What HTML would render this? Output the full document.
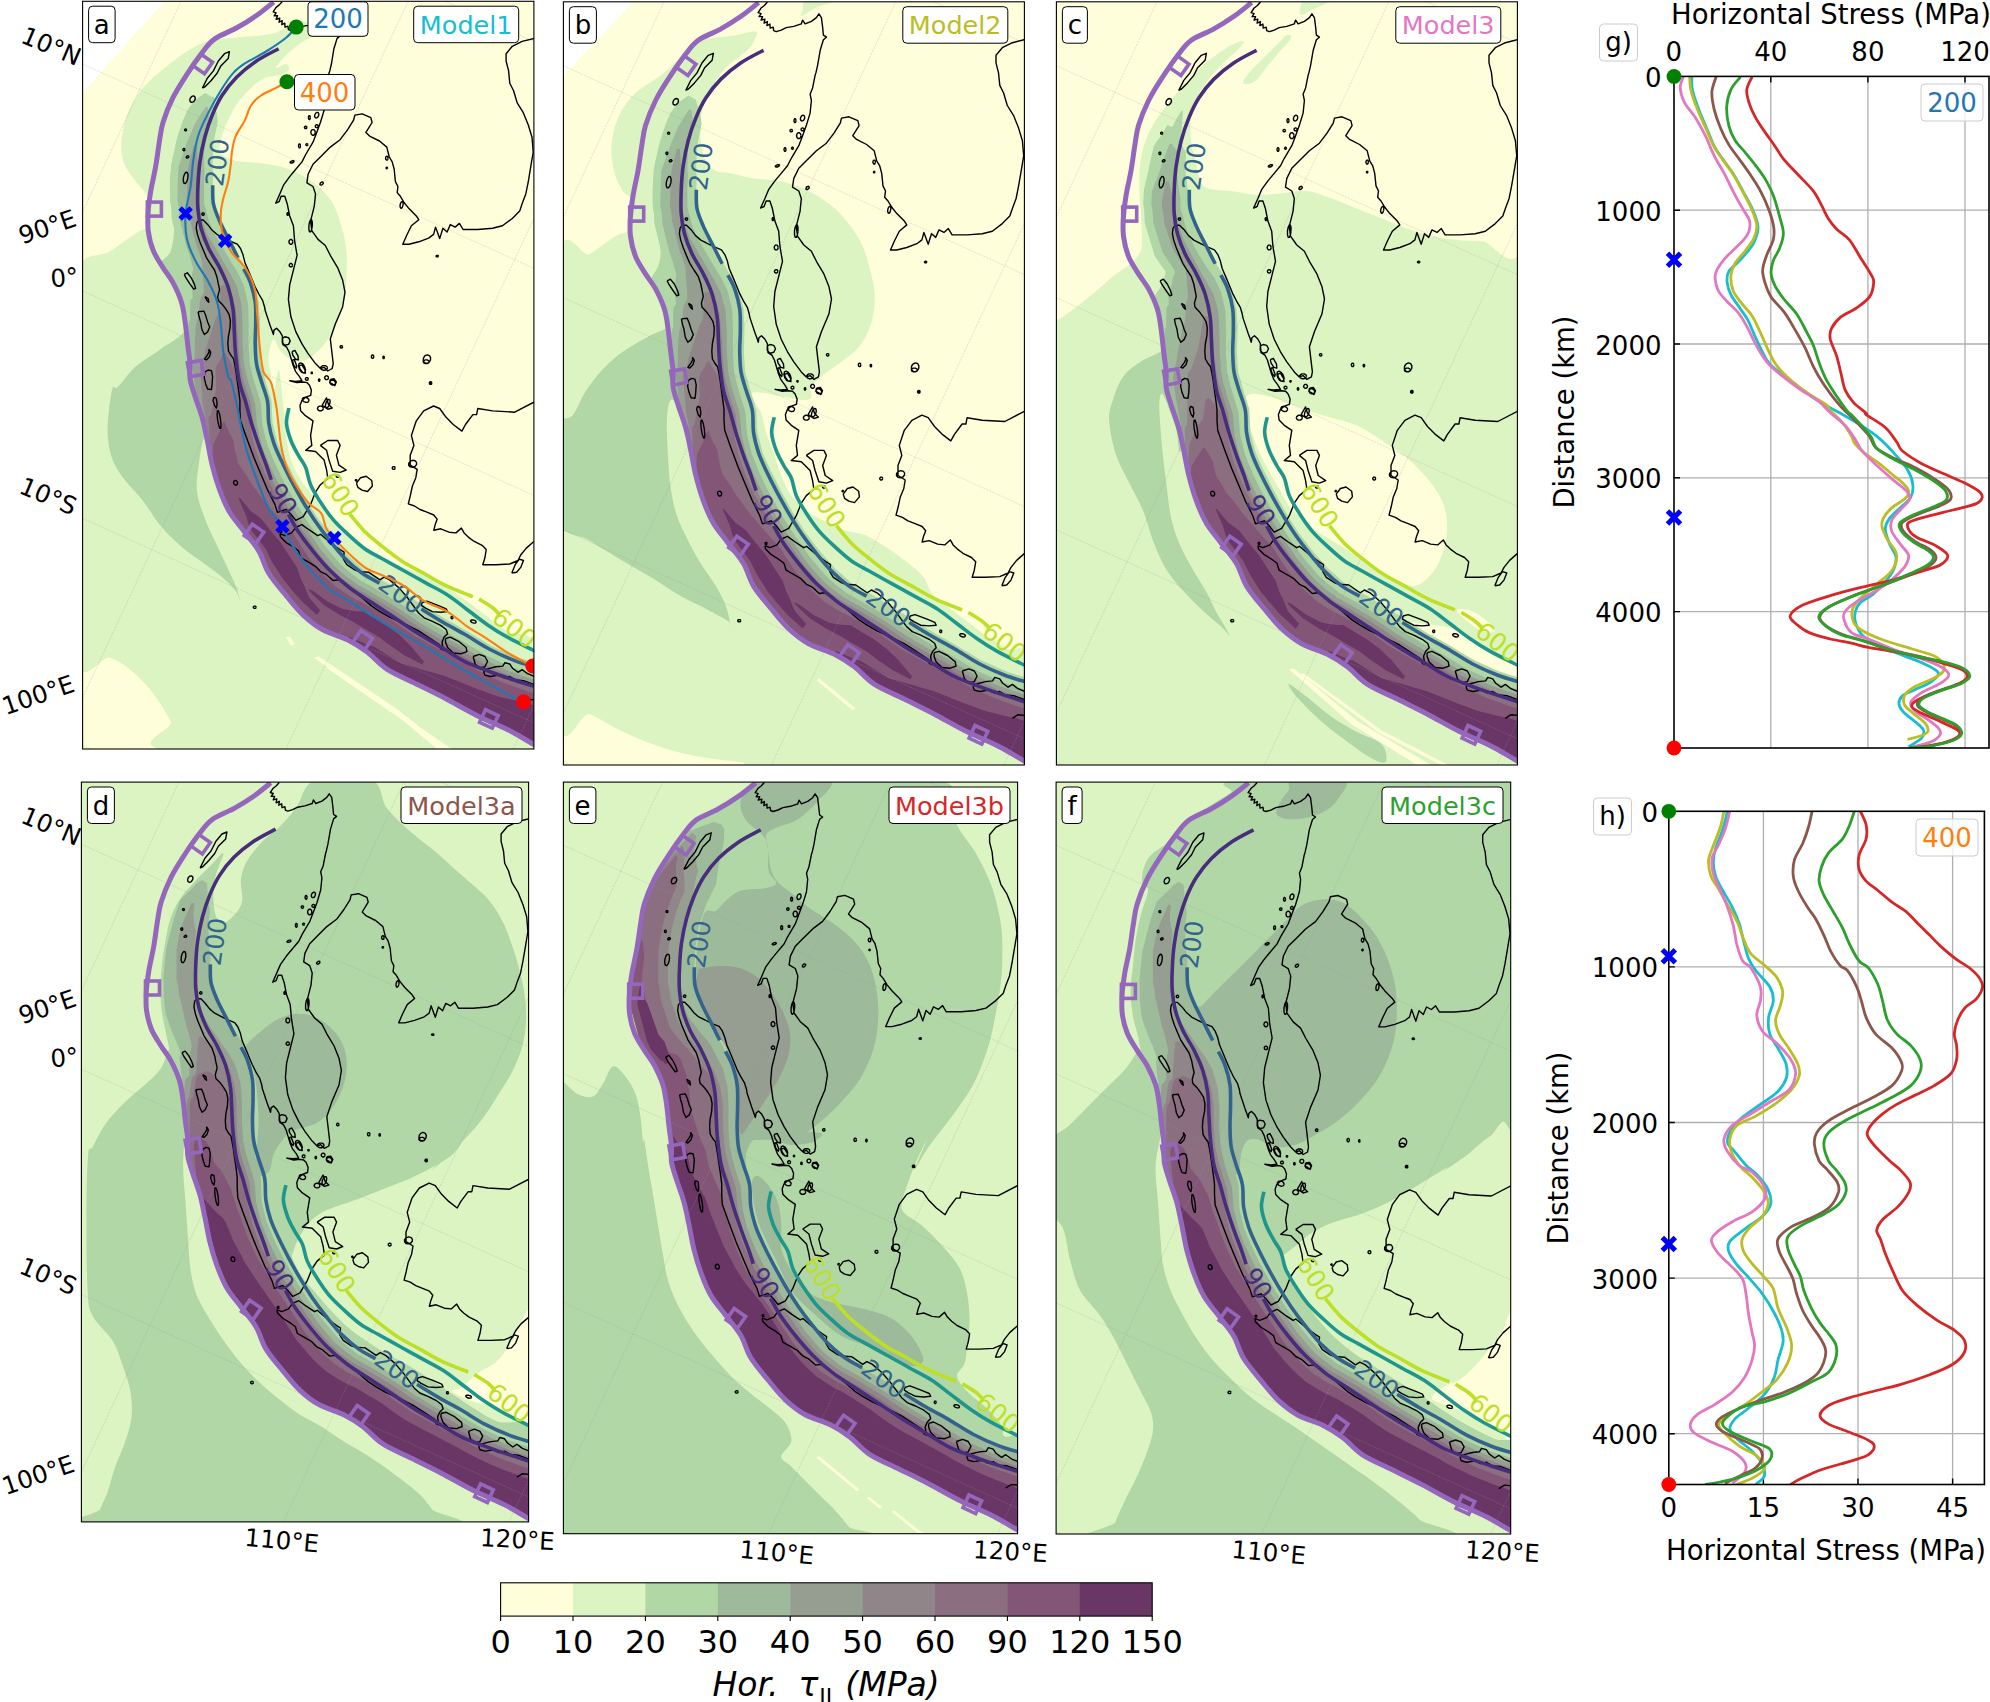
<!DOCTYPE html><html><head><meta charset="utf-8"><title>Horizontal stress maps</title>
<style>html,body{margin:0;padding:0;background:#fff}svg{display:block}text{font-family:'DejaVu Sans','Liberation Sans',sans-serif}</style></head><body>
<svg width="1990" height="1702" viewBox="0 0 1990 1702">
<rect width="1990" height="1702" fill="#fff"/>
<clipPath id="cp_a"><rect x="82.6" y="1.3" width="451.3" height="747.7"/></clipPath>
<g clip-path="url(#cp_a)">
<rect x="82.6" y="1.3" width="451.3" height="747.7" fill="#FEFEDA"/>
<path d="M210.8 40.2C203.2 42.1 197.8 44.8 190.7 49C183.5 53.2 176 58.8 168 65.3C160.1 71.8 149.6 80 142.9 87.9C136.2 95.9 131.4 104.3 127.8 113.1C124.3 121.9 122.2 132.3 121.6 140.7C120.9 149.1 121.8 156.6 124.1 163.3C126.4 170 131.4 175.3 135.4 180.9C139.4 186.6 146.1 191.8 147.9 197.2C149.8 202.7 146.7 208.8 146.7 213.6C146.7 218.4 149.8 222.8 147.9 226.1C146.1 229.5 141.7 229.5 135.4 233.7C129.1 237.9 120.3 244.3 110.3 251.3C100.2 258.2 80.9 250 75.1 275.1C69.2 300.3 75.1 339.1 75.1 402C75.1 464.9 69.2 610.1 75.1 652.7C80.9 695.3 100.2 654.2 110.3 657.7C120.3 661.3 127.8 667.6 135.4 674.1C142.9 680.6 149.6 688.7 155.5 696.7C161.3 704.6 166.6 712.6 170.6 721.8C174.5 731 118.2 746.9 179.3 752C240.5 757 477.7 769.1 537.4 752C597.1 734.8 542.4 669 537.4 648.9C532.4 628.8 515.6 636.8 507.2 631.4C498.9 625.9 493.8 621.3 487.1 616.3C480.4 611.3 474.2 606.2 467 601.2C459.9 596.2 452 590.7 444.4 586.1C436.9 581.5 429.3 576.9 421.8 573.6C414.3 570.2 407.2 569.4 399.2 566C391.2 562.7 382.4 558.5 374.1 553.5C365.7 548.4 356.1 541.3 348.9 535.9C341.8 530.4 336.8 526.7 331.4 520.8C325.9 514.9 321.3 507.4 316.3 500.7C311.3 494 305.4 487.3 301.2 480.6C297 473.9 293.7 468 291.2 460.5C288.6 453 287.4 443.8 286.1 435.4C284.9 427 284.5 418.6 283.6 410.3C282.8 401.9 281.9 391.8 281.1 385.1C280.3 378.4 279.8 368.9 278.6 370.1C277.3 371.2 274.8 390.8 273.6 392C272.3 393.1 271.9 382.7 271.1 376.9C270.2 371 268.1 363.1 268.5 356.8C269 350.5 271.5 340 273.6 339.2C275.7 338.4 277.3 348 281.1 351.8C284.9 355.5 291.2 361 296.2 361.8C301.2 362.6 306.2 360.1 311.3 356.8C316.3 353.4 322.1 347.2 326.3 341.7C330.5 336.3 333.5 330.8 336.4 324.1C339.3 317.4 342.2 309.5 343.9 301.5C345.6 293.6 346 284.8 346.4 276.4C346.9 268 347.3 259.6 346.4 251.3C345.6 242.9 343.9 234.5 341.4 226.1C338.9 217.8 336.4 208.5 331.4 201C326.3 193.5 318.8 186.3 311.3 180.9C303.7 175.5 294.5 171.3 286.1 168.3C277.8 165.4 269.4 164.6 261 163.3C252.6 162.1 242.6 162.5 235.9 160.8C229.2 159.1 223.3 156.6 220.8 153.3C218.3 149.9 220 145.3 220.8 140.7C221.6 136.1 223.3 131.5 225.8 125.6C228.3 119.8 231.7 111.8 235.9 105.5C240.1 99.2 246.1 92.5 251 87.9C255.8 83.3 260.2 80 264.8 77.9C269.4 75.8 274.6 76.6 278.6 75.4C282.6 74.1 287.4 72.2 288.6 70.4C289.9 68.5 288.2 64.5 286.1 64.1C284 63.7 276.1 69.3 276.1 67.8C276.1 66.4 281.9 59.5 286.1 55.3C290.3 51.1 296.6 46.1 301.2 42.7C305.8 39.4 312.1 38.1 313.8 35.2C315.4 32.2 313.8 27.4 311.3 25.1C308.7 22.8 302.9 20.9 298.7 21.4C294.5 21.8 289.9 25.8 286.1 27.6C282.4 29.5 280.3 31.4 276.1 32.7C271.9 33.9 267.7 34.3 261 35.2C254.3 36 244.3 36.9 235.9 37.7C227.5 38.5 218.3 38.3 210.8 40.2Z" fill="#DCF4C2"/>
<path d="M213.3 96.7C209.9 95.9 196.5 108.2 190.7 115.6C184.8 122.9 181.4 131.5 178.1 140.7C174.7 149.9 171.8 160.8 170.6 170.9C169.3 180.9 169.9 191.8 170.6 201C171.2 210.2 174.3 217.8 174.3 226.1C174.3 234.5 172.9 245 170.6 251.3C168.2 257.5 160.9 259.6 160.5 263.8C160.1 268 164.7 270.1 168 276.4C171.4 282.7 177.7 292.7 180.6 301.5C183.5 310.3 189 321.2 185.6 329.1C182.3 337.1 168.9 343 160.5 349.2C152.1 355.5 142.5 360.6 135.4 366.8C128.3 373.1 121.6 383.5 117.8 386.9C114 390.4 114.2 383.8 112.8 387.6C111.3 391.5 109.8 402.3 109 410.3C108.2 418.2 107.1 427 107.7 435.4C108.4 443.8 109.8 453 112.8 460.5C115.7 468 120.3 473.9 125.3 480.6C130.4 487.3 137.1 493.2 142.9 500.7C148.8 508.2 154.2 518.3 160.5 525.8C166.8 533.4 173.9 540.1 180.6 545.9C187.3 551.8 194 556 200.7 561C207.4 566 214.9 571.1 220.8 576.1C226.7 581.1 232.7 587 235.9 591.2C239 595.3 239.6 602 239.6 601.2C239.6 600.4 239 594.1 235.9 586.1C232.7 578.2 225.8 564.4 220.8 553.5C215.8 542.6 209.7 531.3 205.7 520.8C201.8 510.3 198 500.7 196.9 490.7C195.9 480.6 198.2 469.7 199.4 460.5C200.7 451.3 202.6 438.7 204.5 435.4C206.4 432 208.9 435.4 210.8 440.4C212.6 445.4 214.1 476.1 215.8 465.5C217.5 454.9 220.8 404.2 220.8 376.9C220.8 349.5 217.5 326.6 215.8 301.5C214.1 276.4 212 251.3 210.8 226.1C209.5 201 208.2 168.3 208.2 150.8C208.2 133.2 209.9 129.6 210.8 120.6C211.6 111.6 216.6 97.6 213.3 96.7Z" fill="#B1D7A6"/>
<path d="M313.8 657.7 L318.8 656.5 L399.2 710.5 L446.9 748.9 L436.9 748.9 L394.2 713Z" fill="#FEFEDA"/>
<path d="M286.1 637.6 L289.9 636.4 L294.9 643.9 L291.2 645.9Z" fill="#FEFEDA"/>
<path d="M326.3 667.8 L330.1 667 L452 748.9 L444.4 748.9Z" fill="#FEFEDA"/>
<path d="M205.1 93 L200.2 96.4 L195.3 99.9 L188 109.1 L185.6 114.4 L183.2 119.7 L178.7 132.7 L177.1 138.2 L175.7 143.7 L174.3 150.6 L173 156.1 L171.9 161.4 L170.9 165.9 L171 169.5 L170.9 173.1 L170.6 177.6 L170.5 182.2 L170.4 186.7 L170.3 191.3 L169.9 199 L170.5 203.1 L171.2 207.3 L171.6 217.3 L172.4 221.7 L179.9 250.9 L183.4 259.2 L185.2 264.6 L187 269.8 L187.6 273.2 L187.1 274.8 L186.4 276.3 L186.9 280.7 L185.7 284.6 L184.6 288.5 L183.5 292.3 L182.6 296.2 L183.3 300 L183 301.5 L182.2 301.8 L181.4 302.1 L181.4 302.1 L182.2 306.2 L183.1 311.2 L184.1 316.2 L185.1 321.5 L185.1 321.8 L185.7 327.2 L186.3 332.6 L186.9 337.4 L187.4 342.2 L188.1 348 L188.7 352.8 L189.3 357.7 L189.9 362.6 L190.1 363.6 L190.1 364.1 L190.1 368.6 L193.7 391.7 L195.9 398.9 L197.4 403.4 L199 408.3 L200.6 413.1 L202.3 418 L202.4 418.3 L203.1 421.6 L204.3 427 L205.5 432.3 L206.6 437.6 L207.4 441.2 L208.4 446.2 L209.4 451.1 L210.4 456 L211.3 460.5 L214 471 L215.3 475.4 L216.7 480 L218.2 485.1 L223.4 498.3 L225.6 503.3 L236.5 521.3 L240.3 526.3 L244 531.3 L247.8 536.3 L251.5 541.3 L255 545.9 L258.4 550.5 L258.9 551.1 L258.9 551.1 L259.9 553.4 L262.3 558.8 L264.8 564.3 L276.7 583.5 L280.1 587.9 L283.6 592.4 L289.8 599.8 L293.5 604 L297.2 608.2 L312.1 621.8 L332.6 633.7 L337.5 635.7 L342.1 637.5 L346.6 639.4 L347.5 639.7 L347.5 639.7 L350.4 641.5 L355.6 644.7 L360.7 648 L365.8 651.2 L367.2 652 L367.4 652.2 L372 656.2 L376.6 660.3 L396.3 673.9 L402 676.8 L407.8 679.7 L413.6 682.6 L419.2 685.4 L424.9 688.2 L430.5 691.1 L436.2 693.9 L442.6 697.1 L447.2 699.4 L453.5 702.8 L459.8 706.2 L465.7 709.4 L471.6 712.6 L481.2 717.5 L487.3 720.3 L492.2 722.6 L497.1 724.8 L502.1 727.1 L507 729.4 L510.9 731.3 L519.8 736.4 L528.7 741.5 L539 747.3 L578.5 675 L568.3 672.2 L558.1 669.4 L547.9 666.5 L537.4 663.5 L532.2 661.9 L526.9 660.3 L521.7 658.7 L516.5 657 L510.3 654.3 L504.4 651.7 L498.2 648.9 L492.1 646.2 L485.9 642.5 L479.8 638.8 L473.6 635 L467.5 631.3 L461.9 628.2 L456.4 625.1 L450.9 622.1 L445.4 619 L439.9 615.6 L434.3 612.2 L428.8 608.8 L424.2 606 L418.9 602.7 L413.6 599.3 L408.1 595.8 L402.7 592.2 L397.4 589.2 L392.2 586.1 L387 583 L381.6 579.9 L377 577.3 L372.5 574.7 L368.2 572.2 L364 569.7 L359.7 566 L356.4 562.8 L352.7 559.7 L348.4 556 L344.7 551.8 L341.1 547.7 L337.4 543.4 L333.7 539.1 L330.5 535.1 L326.8 530.2 L323 525.3 L319.2 520.2 L315.9 515 L312.6 509.9 L309.6 504.9 L306.6 500 L303.5 494.5 L300.5 488.9 L297.5 483.4 L294.4 477.8 L292.4 473.6 L290 468.7 L287.7 464.3 L285.2 459.4 L283.2 455.1 L281.4 450.8 L279.6 446.9 L277.7 442.6 L276.4 437.7 L275.1 432.8 L273.9 427.9 L272.6 422.9 L272.3 417.4 L272 411.9 L271.8 406.4 L271.5 400.7 L270 395.4 L268.5 390.5 L266.9 385.6 L265.4 380.7 L264.2 376.2 L263 371.9 L261.9 368.6 L260.6 364.1 L260.2 359 L259.8 353.8 L259.6 348.9 L259.3 344 L259.4 339.1 L259.6 334.2 L259.7 329.3 L259.9 324.4 L259.8 318.9 L259.5 313.4 L259.2 307.6 L258.9 302.1 L257.7 297.2 L256.2 292.3 L254.8 287.4 L253.3 282.3 L251.5 278.6 L249.6 275.2 L247.7 271.8 L245.9 268.5 L244.3 265.7 L242.7 263 L241.1 260.4 L239.5 257.7 L237.3 253.7 L235 249.4 L232.7 245.1 L230.4 240.9 L227.8 236.2 L225.2 231.3 L222.6 226.5 L220 221.7 L218.3 217.3 L216.8 213 L215.2 208.7 L213.7 204.4 L213.3 199.9 L213.1 195.3 L212.9 190.7 L212.7 186.1 L212.8 181.5 L213 176.9 L213.2 172.2 L212.6 167.5 L212.7 162.1 L212.9 156.4 L213.1 150.7 L213.3 145 L214.1 139.3 L215.5 132.7 L216.7 126.9 L217.9 121.1 L216.7 112.7 L214.5 105 L212.3 97.3Z" fill="#B1D7A6"/>
<path d="M206.1 106.4 L200.6 114.2 L197.6 119.3 L194.6 124.3 L190.2 134.9 L187.8 140.3 L185.8 145.6 L183.7 152 L181.7 157.4 L179.9 162.6 L178.4 167 L178.3 170.8 L178.2 174.5 L177.9 179.1 L177.8 183.7 L177.7 188.2 L177.6 192.8 L177.3 199.9 L178.1 204.1 L178.8 208.3 L179.4 217.3 L180.3 221.7 L186.6 247.2 L189.5 255.2 L191.1 260.7 L192.6 266.1 L193.1 269.8 L192.5 271.9 L191.9 273.9 L192.3 278.3 L192.3 281.7 L192.2 285.1 L192.2 288.5 L192.2 292 L192.8 295.8 L192.6 297.7 L191.9 298.6 L191.2 299.4 L190.3 300.3 L190.2 304.7 L190.1 309.9 L190.1 315.1 L190 320.6 L189 321.3 L188.6 326.9 L188.6 332.3 L188.5 337.2 L188.5 342.1 L188.6 347.9 L188.7 352.8 L189.3 357.7 L189.9 362.6 L190.1 363.6 L190.1 364.1 L190.1 368.6 L193.7 391.7 L195.9 398.9 L197.4 403.4 L199 408.3 L200.6 413.2 L202.3 418 L202.4 418.3 L203.1 421.6 L204.3 427 L205.5 432.3 L206.6 437.6 L207.4 441.2 L208.4 446.2 L209.4 451.1 L210.4 456 L211.3 460.5 L214 471 L215.3 475.4 L216.7 480 L218.2 485.1 L223.4 498.3 L225.6 503.3 L236.5 521.3 L240.3 526.3 L244 531.3 L247.8 536.3 L251.5 541.3 L255 545.9 L258.4 550.5 L258.9 551.1 L258.9 551.1 L259.9 553.4 L262.3 558.8 L264.8 564.3 L276.7 583.5 L280.1 587.9 L283.6 592.4 L289.8 599.8 L293.5 604 L297.2 608.3 L312.1 621.8 L332.6 633.7 L337.5 635.7 L342.1 637.5 L346.6 639.4 L347.5 639.7 L347.5 639.7 L350.4 641.5 L355.6 644.7 L360.7 648 L365.8 651.2 L367.2 652 L367.4 652.2 L372 656.2 L376.6 660.3 L396.3 673.9 L402 676.8 L407.8 679.7 L413.6 682.6 L419.2 685.4 L424.9 688.2 L430.5 691.1 L436.2 693.9 L442.6 697.1 L447.2 699.4 L453.5 702.8 L459.8 706.2 L465.7 709.4 L471.6 712.6 L481.2 717.5 L487.3 720.3 L492.2 722.6 L497.1 724.8 L502.1 727.1 L507 729.4 L510.9 731.3 L519.8 736.4 L528.7 741.5 L539 747.3 L572.1 686.6 L562 683.3 L552 680.1 L542 676.9 L532.6 674.1 L527.3 672.3 L522.2 670.6 L517 668.9 L511.8 667.1 L505.7 664.4 L499.2 661.4 L493 658.6 L486.9 655.7 L480.8 652.1 L474.6 648.4 L468.7 644.9 L462.5 641.3 L456.9 638.2 L451.4 635.2 L445.9 632.1 L440.3 629.1 L434.8 625.7 L429.2 622.4 L423.7 619.1 L416.6 614.6 L411.5 611.1 L406.3 607.7 L401.6 604.6 L396.9 601.5 L391.6 598.4 L386.4 595.3 L381.2 592.2 L376.3 589.3 L372.4 587.1 L368.5 584.8 L364.1 582.4 L359.8 580 L355.4 576.6 L349.4 572 L344 567.3 L339.8 563.5 L336.1 559.3 L332.1 554.7 L328.5 550.3 L324.8 546 L320.3 539.6 L316.7 534.7 L313.2 529.7 L309.8 525.1 L307 520.7 L304.2 516.2 L301.1 511.3 L298 506.4 L294.9 501 L291.7 495.5 L288.6 490 L285.5 484.6 L282.1 478.2 L279.7 473.3 L276.9 467.5 L274.6 462.6 L272.7 458.2 L270.9 453.9 L269 449 L267.3 444.6 L266 439.8 L264.8 434.9 L263.6 429.9 L262.5 425.2 L262 419.7 L261.6 414.2 L261.2 408.7 L260.9 403.4 L259.6 398.9 L258.1 394 L256.5 389.1 L255 384.2 L253.7 379.7 L252.4 374.9 L250.9 368.6 L249.8 364.1 L249.5 359.7 L249.2 355.2 L248.8 350.3 L248.5 345.4 L248.5 340.5 L248.6 335.5 L248.6 330.6 L248.7 325.6 L248.6 320.2 L248.4 314.7 L248.3 309.7 L248.1 304.2 L247 299.2 L245.8 294.3 L244.7 289.4 L243.6 285 L242.1 281.8 L240.6 278.7 L239.1 275.6 L237.5 272.2 L235.8 269.4 L234.2 266.8 L232.5 264.1 L230.8 261.5 L228.6 257.6 L226.4 253.9 L224.3 250.3 L222 246.5 L219.3 241.9 L216.5 237.1 L213.4 231.8 L209.3 221.7 L207.8 217.3 L206.6 211.8 L205.4 207.5 L204.1 203.3 L204 198 L204 193.5 L204 188.9 L203.9 184.3 L204.2 179.7 L204.4 175.4 L204.6 171 L204.1 166.3 L204.1 160.8 L204.2 155.1 L204.4 149.1 L204.5 143.4 L205.2 137.7 L207.1 129.3 L208.2 123.5 L209.4 117.7 L208 107.5Z" fill="#9DBB9A"/>
<path d="M193.8 144.9 L192.2 151.1 L190.8 156.6 L189.4 162.1 L188.4 166.8 L187.9 171.4 L187.8 174.7 L187.5 179.3 L187.3 183.9 L187.2 188.5 L187.1 193 L186.8 199.5 L187.5 203.8 L188.4 208 L189 215.8 L190.1 220.2 L195 240.1 L196.5 245.6 L199.4 252.9 L201.1 258.4 L202.3 263.1 L202.4 265.9 L202.3 268.5 L202.8 272.4 L203.1 275.9 L203.3 279.2 L203.5 282.5 L203.7 285.8 L203.9 289.8 L203.7 292.9 L202.8 294.6 L201.9 296.1 L200.7 297.8 L199.9 301.4 L199.4 306.6 L198.9 311.9 L198.2 317.5 L197 320.2 L195.9 324.5 L195.4 330.1 L195.2 335.2 L194.9 340.1 L194.8 345.9 L194.7 350.8 L194.5 355.8 L194.4 360.8 L194 363.2 L193.4 363.5 L192.7 367.5 L195.5 390 L197.1 397.4 L198.1 402 L199.2 407 L200.3 412 L201.9 416.9 L202.4 418.3 L202.8 420.5 L204 425.8 L205.2 431.2 L206.4 436.5 L207.3 440.5 L208.2 445.1 L209.2 450.1 L210.2 455.1 L211.1 459.6 L213.7 470.2 L215.1 474.6 L216.4 479.1 L217.9 484.2 L223 497.4 L225.3 502.4 L235.9 520.5 L239.6 525.4 L243.4 530.5 L247.2 535.5 L250.9 540.5 L254.4 545.2 L257.9 549.8 L258.9 551.1 L258.9 551.1 L259.6 552.6 L262 558.1 L264.4 563.5 L276.2 582.8 L279.7 587.3 L283.2 591.8 L289.3 599.2 L293.1 603.5 L296.8 607.7 L311.6 621.4 L332 633.5 L337 635.5 L341.6 637.4 L346.2 639.2 L347.5 639.7 L347.5 639.7 L349.9 641.2 L355.1 644.5 L360.2 647.7 L365.4 650.9 L367.2 652 L367.2 652 L371.7 655.9 L376.3 660 L395.8 673.7 L401.6 676.6 L407.4 679.5 L413.2 682.4 L418.9 685.2 L424.6 688.1 L430.2 690.9 L435.9 693.7 L442.3 696.9 L446.9 699.3 L453.2 702.7 L459.5 706.1 L465.5 709.3 L471.4 712.5 L481 717.4 L487.1 720.2 L492.1 722.5 L497 724.8 L502 727.1 L506.9 729.4 L510.8 731.3 L519.8 736.4 L528.7 741.5 L539 747.3 L569.5 691.3 L559.4 687.9 L549.4 684.5 L539.4 681.2 L530.4 678.4 L525.2 676.7 L520.1 674.9 L514.9 673.1 L509.7 671.4 L503.5 668.6 L496.7 665.4 L490.6 662.6 L484.5 659.7 L478.3 656.1 L472.1 652.5 L466.2 649 L460 645.4 L454.5 642.4 L448.9 639.4 L443.3 636.4 L437.8 633.3 L432.2 630 L426.6 626.7 L421 623.4 L412.9 618.2 L407.8 614.7 L402.7 611.2 L398.4 608.4 L393.8 605.5 L388.5 602.4 L383.3 599.3 L378.1 596.2 L373.4 593.4 L369.9 591.4 L366.1 589.3 L361.8 587 L357.4 584.6 L353 581.2 L345.7 576 L339.4 570.4 L335.2 566.6 L331.5 562.3 L327.4 557.4 L323.7 553.1 L320 548.7 L314.9 541.1 L311.4 536.1 L307.9 531.1 L304.8 526.8 L302.3 522.8 L299.6 518.5 L296.4 513.7 L293.3 508.8 L290.1 503.3 L286.9 497.9 L283.6 492.4 L280.5 487 L276.5 479.7 L274.1 474.7 L271.1 468.3 L268.8 463.3 L267.1 459 L265.3 454.7 L263.3 449.2 L261.7 444.8 L260.5 439.9 L259.3 434.9 L258.1 430 L257 425.3 L256.6 419.7 L256.1 414.2 L255.6 408.7 L255.1 403.9 L253.8 399.6 L252.2 394.7 L250.7 389.8 L249.1 384.9 L247.8 380.5 L246.4 375.5 L244.8 367.5 L243.9 363.1 L243.6 359.1 L243.3 354.7 L242.9 349.7 L242.6 344.8 L242.6 339.9 L242.6 334.8 L242.5 329.9 L242.5 324.9 L242.3 319.4 L242 314.2 L241.8 309.4 L241.3 303.9 L240.1 299 L238.8 294.1 L237.7 289.6 L236.6 285.9 L235.2 283.2 L233.8 280.5 L232.2 277.4 L230.5 274.1 L228.9 271.4 L227.3 268.7 L225.8 266 L224 263.1 L221.9 259.2 L220 256 L218.1 252.7 L215.7 248.6 L212.9 243.9 L209.5 238.2 L206.8 233.5 L202.2 220.2 L201.1 215.8 L200.1 209.5 L199.1 205.3 L198.2 201 L198.5 195.3 L198.5 190.7 L198.6 186.1 L198.7 181.6 L199.1 177 L199.3 173.1 L199.1 168.4 L198.1 163.4 L197.5 157.6 L197 151.9 L196.6 145.4Z" fill="#959E90"/>
<path d="M220.8 286.2 L220.7 288.6 L220.5 290.9 L220 294 L219.8 298.4 L219.7 303.6 L219.6 308.8 L218 314.6 L215.9 318 L214.1 323.3 L212.3 329 L210.5 334.2 L208.6 339.3 L207 345 L205.3 350.1 L204.4 355.2 L203.6 360.3 L202.4 362.7 L201 363.6 L199.8 368 L201.6 388.9 L202.3 396.3 L202.3 401.1 L203.3 406.2 L204.3 411.3 L205.3 416.4 L205 417.6 L204.9 420.6 L205.4 426.1 L206 431.6 L206.5 437.1 L207.3 440.7 L208.3 445.7 L209.3 450.6 L210.3 455.6 L211.2 460.1 L213.9 470.6 L215.2 475 L216.5 479.5 L218.1 484.7 L223.2 497.9 L225.5 502.9 L236.2 520.8 L240 525.9 L243.7 530.9 L247.5 535.9 L251.3 540.9 L254.7 545.5 L258.2 550.2 L258.9 551.1 L258.9 551.1 L259.7 553 L262.2 558.5 L264.6 563.9 L276.4 583.2 L279.9 587.6 L283.4 592.1 L289.6 599.5 L293.3 603.8 L297 608 L311.9 621.6 L332.3 633.6 L337.3 635.6 L341.9 637.5 L346.4 639.3 L347.5 639.7 L347.5 639.7 L350.2 641.4 L355.3 644.6 L360.5 647.8 L365.6 651 L367.2 652 L367.2 652 L371.8 656.1 L376.5 660.1 L396.1 673.8 L401.8 676.7 L407.6 679.6 L413.4 682.5 L419.1 685.3 L424.7 688.2 L430.4 691 L436 693.8 L442.4 697 L447 699.4 L453.3 702.8 L459.7 706.2 L465.6 709.3 L471.5 712.5 L481.1 717.4 L487.2 720.3 L492.1 722.5 L497.1 724.8 L502 727.1 L507 729.4 L510.9 731.3 L519.8 736.4 L528.7 741.5 L539 747.3 L567.3 695.4 L557.1 691.8 L547.3 688.3 L537.4 684.9 L528.7 682.2 L523.6 680.4 L518.4 678.6 L513.3 676.8 L508.1 675 L502 672.2 L495 668.9 L488.9 666.1 L482.8 663.2 L476.6 659.6 L470.4 656 L464.6 652.6 L458.4 649.1 L452.8 646.1 L447.3 643 L441.7 640 L436.1 637 L430.5 633.8 L424.9 630.5 L419.3 627.3 L410.4 621.4 L405.3 617.8 L400.2 614.3 L396.2 611.7 L391.9 609 L386.7 605.9 L381.5 602.8 L376.3 599.6 L371.7 596.9 L368.4 595.1 L364.9 593.1 L360.5 590.8 L356.1 588.5 L351.7 585.2 L343.4 579.5 L336.5 573.4 L332.4 569.6 L328.7 565.3 L324.4 560.3 L320.7 555.9 L317.1 551.6 L311.4 543.1 L308 538.1 L304.6 533 L301.6 528.9 L299.3 525.2 L296.8 521.2 L293.6 516.4 L290.4 511.5 L287.2 506.1 L283.9 500.7 L280.7 495.3 L277.4 489.9 L272.9 481.8 L270.5 476.9 L267.4 469.9 L265.1 464.9 L263.4 460.6 L261.7 456.2 L259.6 450.4 L258 446.1 L256.8 441.1 L255.6 436.2 L254.5 431.3 L253.3 426.7 L252.8 421.2 L252.3 415.7 L251.7 410.2 L251.3 405.4 L250.1 401.5 L248.5 396.6 L247 391.7 L245.4 386.8 L244.1 382.3 L242.6 377.2 L240.8 368 L239.9 363.6 L239.7 359.9 L239.4 355.8 L239 350.9 L238.6 346 L238.3 341.1 L237.9 336 L237.6 331.1 L237.3 326.3 L236.8 320.8 L236.3 315.5 L235.9 311.3 L235.3 305.8 L233.3 301 L231.3 296.3 L229.5 292 L227.8 288.8 L225.9 286.8 L224.1 284.9Z" fill="#90868A"/>
<path d="M222.5 353.9 L220.9 359.1 L219 361.8 L217.1 364.4 L215.5 368.9 L216.2 385.6 L215.4 392.8 L214.1 398.2 L213.1 404 L212 409.7 L210.9 415.5 L208.7 416.7 L208.6 420.8 L208.9 426.3 L209.2 431.8 L209.5 437.3 L209.4 441.1 L209.7 446.2 L210.4 451.2 L211 456.2 L211.6 460.7 L214.1 471.3 L215.4 475.7 L216.8 480.3 L218.3 485.4 L223.5 498.6 L225.8 503.6 L236.7 521.5 L240.5 526.5 L244.2 531.5 L248 536.5 L251.7 541.5 L255.1 546.1 L258.6 550.7 L258.9 551.1 L258.9 551.1 L260 553.6 L262.4 559.1 L264.9 564.5 L276.8 583.6 L280.3 588.1 L283.8 592.6 L289.9 599.9 L293.7 604.2 L297.3 608.4 L312.3 621.9 L332.8 633.8 L337.7 635.8 L342.2 637.6 L346.8 639.4 L347.5 639.7 L347.5 639.7 L350.6 641.6 L355.7 644.8 L360.8 648 L366 651.3 L367.2 652 L367.5 652.3 L372.1 656.3 L376.7 660.4 L396.4 674 L402.1 676.9 L407.9 679.8 L413.7 682.6 L419.3 685.5 L425 688.3 L430.6 691.1 L436.3 693.9 L442.7 697.1 L447.3 699.5 L453.5 702.9 L459.8 706.2 L465.7 709.4 L471.6 712.6 L481.2 717.5 L487.3 720.3 L492.2 722.6 L497.2 724.9 L502.1 727.1 L507 729.4 L510.9 731.3 L519.8 736.4 L528.7 741.5 L539 747.3 L565.1 699.5 L554.9 695.7 L545.1 692.1 L535.4 688.6 L527.1 685.9 L522 684.1 L516.8 682.2 L511.7 680.4 L506.6 678.5 L500.5 675.8 L493.3 672.4 L487.2 669.5 L481.2 666.6 L475 663 L468.8 659.4 L463.1 656.2 L456.9 652.6 L451.3 649.6 L445.8 646.6 L440.2 643.6 L434.7 640.6 L429.1 637.4 L423.5 634.2 L417.9 631 L408.1 624.5 L403.1 620.9 L398 617.4 L394.3 614.9 L390.3 612.3 L385.1 609.2 L379.9 606.1 L374.7 603 L370.1 600.3 L367.1 598.5 L363.9 596.7 L359.5 594.4 L355.1 592.2 L350.6 589.1 L341.5 582.9 L334 576.3 L329.9 572.5 L326.2 568.2 L321.7 563 L318.1 558.7 L314.5 554.3 L308.3 545.2 L305 540.1 L301.7 535.1 L298.8 530.9 L296.6 527.5 L294.4 523.9 L291.2 519.1 L288 514.2 L284.8 509 L281.5 503.6 L278.2 498.2 L274.9 492.9 L269.9 484 L267.5 479 L264.2 471.7 L262 466.7 L260.3 462.2 L258.6 457.9 L256.5 451.7 L254.9 447.4 L253.7 442.6 L252.5 437.6 L251.4 432.7 L250.3 428.2 L249.6 422.8 L249 417.4 L248.5 411.9 L248 406.9 L246.9 403.5 L245.1 398.7 L243.4 393.8 L241.6 389 L240 384.6 L238.3 379.3 L234.7 368.9 L232.1 364.4 L230 361.2 L228 358.2 L225.8 353.5Z" fill="#8B6E80"/>
<path d="M223.3 422.1 L220.8 428.3 L218.3 434.4 L215.8 439 L213.3 444.7 L213.1 449.9 L212.8 455.1 L212.5 459.8 L213.9 470.6 L215.2 475 L216.5 479.5 L218.1 484.7 L223.2 497.9 L225.5 502.9 L236.2 520.8 L240 525.9 L243.7 530.9 L247.5 535.9 L251.3 540.9 L254.7 545.5 L258.2 550.2 L258.9 551.1 L258.9 551.1 L259.7 553 L262.2 558.5 L264.6 563.9 L276.4 583.2 L279.9 587.6 L283.4 592.1 L289.6 599.5 L293.3 603.8 L297 608 L311.9 621.6 L332.3 633.6 L337.3 635.6 L341.9 637.5 L346.4 639.3 L347.5 639.7 L347.5 639.7 L350.2 641.4 L355.3 644.6 L360.5 647.8 L365.6 651 L367.2 652 L367.2 652 L371.8 656.1 L376.5 660.1 L396.1 673.8 L401.8 676.7 L407.6 679.6 L413.4 682.5 L419.1 685.3 L424.7 688.2 L430.4 691 L436 693.8 L442.4 697 L447 699.4 L453.3 702.8 L459.7 706.2 L465.6 709.3 L471.5 712.5 L481.1 717.4 L487.2 720.3 L492.1 722.5 L497.1 724.8 L502 727.1 L507 729.4 L510.9 731.3 L519.8 736.4 L528.7 741.5 L539 747.3 L562.5 704.3 L552.2 700.3 L542.5 696.6 L532.8 692.9 L525 690.4 L519.8 688.5 L514.7 686.7 L509.5 684.8 L504.4 683 L498.3 680.2 L490.8 676.7 L484.7 673.8 L478.6 670.9 L472.4 667.4 L466.2 663.8 L460.6 660.7 L454.3 657.2 L448.7 654.3 L443.1 651.3 L437.5 648.4 L431.9 645.4 L426.3 642.3 L420.6 639.1 L415 636 L404 628.7 L399 625.1 L394 621.4 L390.7 619.4 L386.9 617 L381.7 613.9 L376.5 610.8 L371.2 607.7 L367 605.2 L364.3 603.7 L361.3 602.1 L356.9 599.9 L352.4 597.8 L347.9 594.8 L337.2 587.8 L328.7 580.3 L324.6 576.4 L320.8 572.1 L316.1 566.6 L312.5 562.3 L308.9 557.9 L301.9 547.4 L298.7 542.2 L295.4 537.1 L292.9 533.4 L290.4 530.9 L287.6 528.1 L283.7 523.8 L279.8 519.5 L275.8 514.7 L271.7 509.9 L267.6 505.1 L263.6 500.3 L255.7 489.5 L252.1 485 L246.9 476.1 L243.6 471.4 L240.8 467.4 L238 463.3 L236 455.1 L235 450.7 L234.3 445.6 L233.5 440.6 L231.1 435.9 L228.9 432.1 L226.8 427 L224.6 421.8Z" fill="#835678"/>
<path d="M238.5 498.3 L245.9 515.1 L247.6 521.5 L249.7 527.7 L253.4 532.7 L257.1 537.6 L260.5 542.2 L264 546.7 L264.7 547.5 L265.1 548 L266.5 550.6 L269.1 555.9 L271.7 561.3 L282.7 578.7 L286.3 583.1 L289.8 587.4 L295.7 594.4 L299.5 598.6 L303.2 602.6 L316.9 614.9 L320.2 610.5 L309.1 597.5 L306.8 592.1 L304.6 586.6 L300.8 578.8 L298.9 573.2 L297 567.6 L288 554 L284.8 549 L281.6 543.9 L279.2 540.8 L277.8 539.3 L276.2 537.5 L272.6 533.1 L269 528.6 L265.3 523.8 L261.4 518.9 L256.3 515 L250.8 511.3 L239.8 497.7Z" fill="#6A3665"/>
<path d="M308.8 590.2 L312.6 594.4 L324.2 605.2 L339.8 614.9 L344.5 617.5 L349 619.7 L353.4 621.9 L355.3 623 L356.4 623.9 L359.9 625.8 L365.1 628.9 L370.3 632 L375.6 635.1 L378.2 636.7 L379.8 637.6 L384.7 641.4 L389.6 645.1 L405.1 655.7 L410.9 658.6 L416.6 661.6 L422.4 664.5 L423.9 661.5 L419.3 656.2 L414.8 650.8 L410.3 645.4 L398.9 634.6 L393.9 630.8 L389 627.1 L386.4 625.4 L383 623.2 L377.8 620.1 L372.6 616.9 L367.4 613.8 L363.5 611.4 L360.7 611.5 L357.5 611.5 L352.5 610.8 L347.5 610.1 L342.2 608.8 L327.1 601.3 L314.9 592.3 L309.8 589.3Z" fill="#6A3665"/>
<path d="M347.5 639.7 L350.2 641.4 L355.3 644.6 L360.5 647.8 L365.6 651 L367.2 652 L367.2 652 L371.8 656.1 L376.5 660.1 L396.1 673.8 L401.8 676.7 L407.6 679.6 L413.4 682.5 L419.1 685.3 L424.7 688.2 L430.4 691 L436 693.8 L442.4 697 L447 699.4 L453.3 702.8 L459.7 706.2 L465.6 709.3 L471.5 712.5 L481.1 717.4 L487.2 720.3 L492.1 722.5 L497.1 724.8 L502 727.1 L507 729.4 L510.9 731.3 L519.8 736.4 L528.7 741.5 L539 747.3 L557.6 713.2 L546.9 709.6 L537 706.4 L527 703 L519.9 701.4 L514.4 700.2 L509 698.9 L503.6 697.7 L498.2 696.4 L491.7 694.3 L483.1 691 L476.7 688.7 L470.3 686.3 L463.7 683.6 L457 680.8 L451.6 678.7 L444.9 676.1 L438.7 674.3 L432.5 672.5 L426.3 670.8 L420.1 669 L413.9 667.1 L407.6 665.3 L401.2 663.4 L383.2 652.5 L377.9 649.1 L372.6 645.8 L371.5 646 L369.1 645.5 L363.5 643 L357.9 640.5 L352.3 637.9 L349.1 636.9Z" fill="#6A3665"/>
<path d="M75.1 -5 L164.3 1.3 L82.6 93 L75.1 100.5Z" fill="#fff"/>
<path d="M82.6 -163 L556.5 51.7M82.6 64 L556.5 278.6M82.6 291 L556.5 505.7M82.6 518.3 L556.5 733M82.6 745.5 L556.5 960.2M82.6 212 L181.1 1.3M82.6 697.7 L408 1.3M82.6 1184.2 L635.3 1.3M82.6 1671.1 L862.9 1.3" stroke="#9a9aa6" stroke-opacity="0.45" stroke-width="0.6" stroke-dasharray="2.2 1" fill="none"/>
<path d="M282.3 1.5 L279.3 4.9 L276.1 7.4 L273.2 11.8 L276.1 12.8 L274.2 15.8 L277.6 15.8 L276.1 19.2 L279.8 18.2 L279.1 22.2 L282.3 20.7 L281.8 24.6 L284.8 23.2 L285 27.1 L288 26.1 L288.4 29.5 L290.9 30.5 L295.8 29.1 L300.7 26.6 L308.1 25.4 L315.5 22.9 L316.7 19.2 L319.2 22.9 L325.3 20.4 L330.3 16.8 L332.7 13.1 L335.2 16.8 L336.4 26.6 L337.1 34 L340.1 35.9 L337.1 38.4 L333.9 48.7 L331.5 63.5 L329.8 70.9 L329 73.3 L326.6 85.6 L324.1 91.8 L325.3 97.9 L324.1 110.2 L320.4 122.5 L316.7 132.4 L313 142.2 L305.7 154.5 L302 161.9 L295.8 169.3 L289.7 176.6 L283.5 185.2 L279.8 193.9 L275.7 203.2 L279.1 201.7 L281.1 196.3 L284.8 196.3 L287.2 203.7 L289.7 216 L293.4 225.8 L294.6 240.6 L297.1 255.3 L293.4 270.1 L289.7 284.9 L288.4 299.6 L290.9 316.8 L295.8 331.6 L302 343.9 L308.1 353.7 L315.5 363.6 L320.4 368.5 L324.1 367.3 L327.8 371 L332.2 368.5 L333.2 363.6 L331.5 348.8 L330.3 339 L335.2 324.2 L342.6 307 L345 292.2 L342.6 279.9 L337.6 267.6 L330.3 255.3 L325.3 245.5 L318 239.4 L311.8 230.7 L310.6 220.9 L314.3 206.2 L315.5 193.9 L313 186.5 L306.9 182.8 L308.1 174.2 L313 164.3 L320.4 157 L330.3 147.1 L340.1 139.7 L347.5 129.9 L353.6 120.1 L354.9 115.1 L362.2 113.9 L370.8 117.6 L372.1 122.5 L365.9 132.4 L369.6 136.1 L379.5 141 L386.8 147.1 L389.3 157 L392.2 161.9 L394.2 169.3 L395.4 181.6 L397.9 186.5 L397.2 192.6 L400.4 196.3 L404 202.5 L409 208.6 L416.3 216 L418.8 219.7 L411.4 225.8 L406.5 235.7 L402.8 244.3 L409 244.3 L418.8 241.8 L428.6 238.1 L433.6 234.4 L435.5 227.1 L439.7 238.6 L442.9 228.3 L447.1 232 L450.3 224.6 L455.2 227.1 L459.4 223.4 L463.1 229.5 L477.8 229.5 L492.6 228.3 L502.4 225.8 L512.3 218.5 L519.7 211.1 L522.1 203.7 L525.8 193.9 L528.3 181.6 L530.7 166.8 L533.2 152 L532 137.3 L528.3 125 L523.3 112.7 L517.2 102.8 L513.5 90.5 L509.8 83.2 L508.6 70.9 L506.1 61 L506.1 53.7 L512.3 46.3 L522.1 41.4 L536.9 37.7M196.8 222.5 L199.4 220 L203.2 220 L207.6 224.4 L212 230.1 L217.1 234.6 L223.4 237.7 L231 241.5 L237.3 244.1 L240.5 248.5 L243 254.8 L244.9 262.4 L248.7 271.3 L251.9 278.9 L255 286.5 L258.8 294 L262.6 300.4 L264.5 306.7 L265.2 310.5 L267.7 318.1 L270.2 325.7 L272.1 330.8 L273.4 334.5 L274 330.1 L276.6 328.2 L279.7 331.4 L282.3 335.8 L282.9 344.7 L286.7 347.2 L289.2 352.3 L291.1 358.6 L293 364.9 L295.5 371.3 L299.3 376.3 L301.9 380.7 L295.5 381.4 L289.8 380.7 L296.8 382.6 L303.1 382 L306.9 382.6 L309.5 385.2 L311.4 390.2 L310.7 395.3 L305.7 397.2 L301.9 400.4 L300 405.4 L300.6 410.7 L305.7 415.9 L313 420.8 L310.6 435.5 L311.8 445.4 L305.7 450.3 L315.5 451.5 L324.1 460.1 L326.6 470 L327.8 478.6 L320.4 484.7 L315.5 492.1 L310.6 504.4 L303.2 516.7 L295.8 520.4 L290.9 514.3 L286 509.3 L277.4 512.3 L274.9 504.4 L267.5 489.7 L260.2 472.4 L254 457.7 L246.6 438 L240.5 420.8 L239.9 410.7 L239.9 400.4 L238.6 390.2 L237.3 381.4 L236.1 372.5 L234.8 364.9 L233.5 358.6 L231 355.4 L228.5 351 L227.8 343.4 L228.5 335.8 L230 328.2 L230.4 320.6 L229.1 314.3 L225.9 309.2 L222.1 304.2 L218.3 300.4 L217.7 296.6 L219.6 289.6 L218.3 283.9 L217.1 277.6 L214.5 270 L210.7 264.3 L206.3 257.3 L203.2 249.8 L200 242.2 L197.5 234.6 L196.2 228.2 L196.8 222.5 L196.8 222.5M279.9 533.6 L284.7 535.7 L291.6 532.9 L295.8 527.4 L302 524.6 L309.6 530.2 L317.8 535.7 L320.6 534.3 L330.3 542.6 L339.9 549.5 L344.1 552.2 L343.4 559.1 L346.8 564.7 L355.1 570.2 L359.3 571.6 L368.9 572.3 L380 579.9 L384.1 577.1 L389.6 579.9 L399.3 588.1 L407.6 597.8 L418.6 613 L424.1 617.8 L432.4 621.3 L440.7 625.4 L446.2 629.5 L447.6 633.7 L444.1 637.1 L442.1 642 L442.8 647.5 L443.4 650.2 L440.7 648.9 L439.3 644.7 L431 639.2 L418.6 630.9 L404.8 624 L389.6 617.1 L380 611.6 L371.7 606.1 L360.6 596.4 L352.4 589.5 L338.6 579.9 L333 580.5 L326.1 574.3 L320.6 571.6 L315.1 566.1 L308.2 561.9 L300.6 557.8 L298.5 550.9 L293 546.7 L286.1 542.6 L280.6 537.1 L279.9 533.6M422.1 602.6 L426.9 601.2 L437.9 605.4 L446.2 608.8 L447.6 611.6 L440.7 612.3 L432.4 611.6 L425.5 608.1 L421.4 605.4 L422.1 602.6M445.5 638.5 L450.3 637.1 L458.6 641.3 L466.2 647.5 L466.9 651.6 L461.4 653.7 L453.1 653 L447.6 647.5 L445.5 642 L445.5 638.5M473.1 656.5 L479.3 654.4 L484.9 656.5 L487.6 661.3 L484.9 666.8 L479.3 668.2 L475.2 664 L473.1 656.5M483.5 671.6 L487.6 668.9 L495.9 666.8 L502.8 666.1 L504.9 662.7 L509.7 664 L512.5 668.2 L518 672.3 L522.1 669.6 L527.6 673.7 L534.5 676.5 L534.5 684.7 L523.5 680.6 L515.2 679.9 L509.7 676.5 L504.2 677.8 L498.7 675.1 L490.4 676.5 L484.9 675.1 L483.5 671.6M522.1 702.7 L527.6 699.2 L534.5 699.9 L534.5 706.8M356.5 483.2 L360.6 477.7 L366.2 476.3 L371.7 480.5 L372.4 486 L367.5 491.5 L362 490.1 L357.9 487.4 L356.5 483.2M320.4 445.4 L327.8 440.5 L337.6 440.5 L340.1 445.4 L336.4 455.2 L338.9 465.1 L346.2 470 L340.1 472.4 L332.7 471.2 L329 460.1 L326.6 450.3 L320.4 445.4M536.9 400.6 L514.7 412.2 L492.6 410.9 L477.8 408.5 L476.6 414.6 L472.9 414.6 L465.5 424.5 L461.9 431.1 L453.2 424.5 L445.9 417.1 L439.7 408.5 L433.6 406 L423.7 410.9 L416.3 420.8 L411.4 435.5 L413.9 445.4 L410.2 455.2 L410.2 465.1 L417.2 469.4 L415.8 477.7 L412.4 486 L410.3 495.7 L408.3 503.9 L414.5 506 L420 509.5 L426.9 512.2 L433.8 515 L437.2 519.1 L435.2 524.6 L433.8 530.2 L440.7 528.8 L449 532.2 L455.9 532.9 L461.4 528.1 L464.1 532.9 L468.3 537.1 L473.8 541.2 L482.1 545.3 L486.2 549.5 L484.9 557.8 L482.8 564.7 L495.9 564.7 L509.7 564 L518 560.5 L520.7 555 L526.3 548.1 L537.3 538.4M511.8 573 L515.2 564.7 L519.4 559.1 L523.5 560.5 L520.7 567.4 L516.6 572.3 L511.8 573M202.4 88.1 L207.3 78.2 L213.4 70.9 L218.3 61 L224.5 53.7 L229.4 51.7 L228.2 58.6 L220.8 65.9 L217.1 73.3 L211 80.7 L204.8 86.9 L202.4 88.1M194.6 100.4 L193.2 101.9 L191.5 102.4 L190.2 101.6 L189.8 99.9 L190.4 97.9 L191.8 96.4 L193.5 95.9 L194.8 96.7 L195.3 98.4 L194.6 100.4M186.6 129.9 L186.4 130.5 L185.9 130.8 L185.3 130.8 L184.8 130.5 L184.6 129.9 L184.8 129.3 L185.3 129 L185.9 129 L186.4 129.3 L186.6 129.9M184.9 149.6 L184.7 150.3 L184.2 150.7 L183.6 150.7 L183.1 150.3 L182.9 149.6 L183.1 148.9 L183.6 148.4 L184.2 148.4 L184.7 148.9 L184.9 149.6M188.9 156.2 L188.9 156.9 L188.5 157.5 L187.7 158 L186.9 158.1 L186.3 157.7 L186.3 157.1 L186.7 156.4 L187.5 155.9 L188.3 155.9 L188.9 156.2M187.8 178.3 L186.8 181.6 L185.3 183.5 L184 183.3 L183.3 181 L183.4 177.5 L184.5 174.1 L185.9 172.2 L187.3 172.5 L188 174.8 L187.8 178.3M204.3 214 L204.1 214.7 L203.5 215.2 L202.7 215.2 L202.1 214.7 L201.9 214 L202.1 213.3 L202.7 212.9 L203.5 212.9 L204.1 213.3 L204.3 214M310.3 117.6 L310.1 118.8 L309.7 119.5 L309 119.5 L308.6 118.8 L308.4 117.6 L308.6 116.4 L309 115.7 L309.7 115.7 L310.1 116.4 L310.3 117.6M318.6 115.8 L317.6 117.3 L316.3 118 L315.2 117.6 L314.6 116.2 L314.9 114.5 L315.8 113 L317.1 112.3 L318.3 112.7 L318.8 114.1 L318.6 115.8M306.9 127.4 L306.7 128.2 L306 128.6 L305.3 128.6 L304.7 128.2 L304.4 127.4 L304.7 126.7 L305.3 126.3 L306 126.3 L306.7 126.7 L306.9 127.4M315.3 132.4 L314.8 134.1 L313.7 135.2 L312.4 135.2 L311.3 134.1 L310.8 132.4 L311.3 130.6 L312.4 129.6 L313.7 129.6 L314.8 130.6 L315.3 132.4M318.2 126.2 L317.9 127.1 L317.2 127.6 L316.3 127.6 L315.5 127.1 L315.3 126.2 L315.5 125.3 L316.3 124.8 L317.2 124.8 L317.9 125.3 L318.2 126.2M300.5 145.9 L300.3 147 L299.8 147.8 L299.2 147.8 L298.7 147 L298.5 145.9 L298.7 144.7 L299.2 144 L299.8 144 L300.3 144.7 L300.5 145.9M307.9 144.7 L307.7 145.2 L307.2 145.6 L306.6 145.6 L306.1 145.2 L305.9 144.7 L306.1 144.1 L306.6 143.7 L307.2 143.7 L307.7 144.1 L307.9 144.7M294.2 161.1 L294 161.8 L293.1 162.5 L291.8 163 L290.6 163 L290.1 162.6 L290.3 161.9 L291.2 161.2 L292.5 160.8 L293.6 160.7 L294.2 161.1M323.2 182.3 L323.3 183.1 L322.9 184 L321.9 184.8 L320.9 185.1 L320.1 184.8 L320 184 L320.4 183 L321.4 182.2 L322.4 181.9 L323.2 182.3M312.3 226 L311.6 229.7 L310.6 231.9 L309.5 231.8 L308.9 229.5 L308.9 225.7 L309.5 222 L310.6 219.7 L311.6 219.8 L312.3 222.2 L312.3 226M292.9 241.8 L292.5 243.3 L291.5 244.2 L290.3 244.2 L289.3 243.3 L288.9 241.8 L289.3 240.4 L290.3 239.5 L291.5 239.5 L292.5 240.4 L292.9 241.8M292.6 265.2 L292.3 266.2 L291.4 266.8 L290.4 266.8 L289.5 266.2 L289.2 265.2 L289.5 264.2 L290.4 263.5 L291.4 263.5 L292.3 264.2 L292.6 265.2M288.4 214 L288.3 214.9 L287.9 215.4 L287.5 215.4 L287.1 214.9 L287 214 L287.1 213.2 L287.5 212.6 L287.9 212.6 L288.3 213.2 L288.4 214M388.1 158.2 L387.8 159.3 L387.2 160.1 L386.5 160.1 L385.8 159.3 L385.6 158.2 L385.8 157 L386.5 156.3 L387.2 156.3 L387.8 157 L388.1 158.2M387.6 168 L387.4 168.5 L387.1 168.7 L386.6 168.7 L386.2 168.5 L386.1 168 L386.2 167.6 L386.6 167.3 L387.1 167.3 L387.4 167.6 L387.6 168M403 205.2 L402.4 207.1 L401.5 208.2 L400.6 208.1 L400.1 206.7 L400.1 204.7 L400.8 202.7 L401.7 201.6 L402.6 201.8 L403.1 203.1 L403 205.2M438.5 256.1 L438.3 256.5 L437.6 256.8 L436.9 256.8 L436.3 256.5 L436 256.1 L436.3 255.7 L436.9 255.4 L437.6 255.4 L438.3 255.7 L438.5 256.1M342.6 346.8 L342.3 347.6 L341.7 348 L340.9 348 L340.3 347.6 L340.1 346.8 L340.3 346.1 L340.9 345.7 L341.7 345.7 L342.3 346.1 L342.6 346.8M373.8 356.7 L373.6 357.7 L372.9 358.3 L372.2 358.3 L371.6 357.7 L371.3 356.7 L371.6 355.7 L372.2 355 L372.9 355 L373.6 355.7 L373.8 356.7M384.4 357.4 L384.2 358.1 L383.9 358.6 L383.4 358.6 L383 358.1 L382.9 357.4 L383 356.7 L383.4 356.3 L383.9 356.3 L384.2 356.7 L384.4 357.4M430.4 360.4 L428.8 362.6 L426.6 363.5 L424.4 362.7 L423.2 360.6 L423.5 357.9 L425 355.7 L427.3 354.8 L429.4 355.6 L430.6 357.7 L430.4 360.4M431.8 382.8 L431.6 383.3 L431 383.7 L430.2 383.7 L429.6 383.3 L429.4 382.8 L429.6 382.2 L430.2 381.8 L431 381.8 L431.6 382.2 L431.8 382.8M220.5 419.4 L221 424.8 L220.8 428.3 L219.9 428.4 L218.7 425.2 L217.6 419.8 L217.1 414.3 L217.4 410.8 L218.3 410.7 L219.5 413.9 L220.5 419.4M237.4 482.1 L237.6 483.6 L236.9 484.8 L235.8 485.2 L234.6 484.7 L233.7 483.4 L233.6 482 L234.2 480.8 L235.3 480.4 L236.6 480.9 L237.4 482.1M256.2 607.2 L255.9 608 L255.2 608.4 L254.3 608.4 L253.6 608 L253.3 607.2 L253.6 606.5 L254.3 606.1 L255.2 606.1 L255.9 606.5 L256.2 607.2M395.2 468 L394.9 468.9 L394.2 469.4 L393.3 469.4 L392.5 468.9 L392.2 468 L392.5 467.1 L393.3 466.6 L394.2 466.6 L394.9 467.1 L395.2 468M416.6 462.4 L416.5 464.6 L415 466.5 L412.6 467.3 L410.2 466.9 L408.7 465.3 L408.8 463.1 L410.3 461.2 L412.8 460.3 L415.1 460.8 L416.6 462.4M356.8 480.3 L356.7 480.7 L356.3 481 L355.9 481 L355.5 480.7 L355.3 480.3 L355.5 479.9 L355.9 479.6 L356.3 479.6 L356.7 479.9 L356.8 480.3M453 617.6 L452.8 618.3 L452.3 618.7 L451.7 618.7 L451.2 618.3 L451 617.6 L451.2 616.8 L451.7 616.4 L452.3 616.4 L452.8 616.8 L453 617.6M476.3 622.3 L475.5 623 L473.9 623.1 L472.2 622.6 L470.9 621.7 L470.6 620.7 L471.3 620 L472.9 619.9 L474.7 620.4 L475.9 621.3 L476.3 622.3M308.9 401.1 L307.8 402.2 L305.9 402.4 L303.9 401.7 L302.5 400.3 L302.4 398.7 L303.5 397.6 L305.5 397.3 L307.5 398 L308.8 399.5 L308.9 401.1M323.4 408.5 L322.8 409.9 L321.3 410.8 L319.5 410.8 L318 409.9 L317.5 408.5 L318 407 L319.5 406.1 L321.3 406.1 L322.8 407 L323.4 408.5M329.6 404.2 L328.4 406.6 L326.9 407.7 L325.8 407.3 L325.4 405.5 L326 402.9 L327.2 400.6 L328.7 399.4 L329.8 399.8 L330.2 401.7 L329.6 404.2M304.6 366.7 L305.5 369.8 L305 372.2 L303.3 373 L301.2 371.8 L299.3 369.1 L298.5 366 L299 363.6 L300.6 362.9 L302.8 364 L304.6 366.7M308.4 379 L308.1 379.8 L307.3 380.4 L306.4 380.4 L305.7 379.8 L305.4 379 L305.7 378.1 L306.4 377.6 L307.3 377.6 L308.1 378.1 L308.4 379M312.5 372.8 L312.4 373.3 L312 373.5 L311.6 373.5 L311.2 373.3 L311.1 372.8 L311.2 372.4 L311.6 372.1 L312 372.1 L312.4 372.4 L312.5 372.8M319.9 380.2 L319.8 380.9 L319.4 381.4 L319 381.4 L318.6 380.9 L318.5 380.2 L318.6 379.5 L319 379 L319.4 379 L319.8 379.5 L319.9 380.2M328.5 377.7 L328.2 378.9 L327.2 379.6 L326 379.6 L325 378.9 L324.6 377.7 L325 376.6 L326 375.9 L327.2 375.9 L328.2 376.6 L328.5 377.7M335.3 384.1 L334.1 385.1 L332.3 385.1 L330.8 384.2 L329.9 382.7 L330.2 381.2 L331.4 380.2 L333.1 380.2 L334.7 381.1 L335.5 382.6 L335.3 384.1M327.6 367.9 L326.9 369.3 L325.2 370.2 L323 370.2 L321.3 369.3 L320.7 367.9 L321.3 366.5 L323 365.6 L325.2 365.6 L326.9 366.5 L327.6 367.9M429.1 361.8 L428.6 362.9 L427.1 363.6 L425.3 363.6 L423.8 362.9 L423.2 361.8 L423.8 360.6 L425.3 359.9 L427.1 359.9 L428.6 360.6 L429.1 361.8M431.8 383.4 L431.6 384 L431 384.3 L430.2 384.3 L429.6 384 L429.4 383.4 L429.6 382.8 L430.2 382.5 L431 382.5 L431.6 382.8 L431.8 383.4M282 531.5 L281.9 532 L281.4 532.4 L280.8 532.4 L280.3 532 L280.1 531.5 L280.3 530.9 L280.8 530.5 L281.4 530.5 L281.9 530.9 L282 531.5M339.1 476.1 L338.8 476.9 L338.1 477.3 L337.2 477.3 L336.4 476.9 L336.2 476.1 L336.4 475.4 L337.2 475 L338.1 475 L338.8 475.4 L339.1 476.1M184.2 274.4 L187.3 272.8 L191.1 277.6 L194.3 283.9 L195.6 288.4 L193.7 289.2 L189.9 283.9 L186.1 278.2 L184.2 274.4M205 296.6 L208.2 298.5 L208.8 302.3 L206.9 300.4 L205 296.6M198.1 311.8 L203.8 311.1 L205.7 315.6 L207.6 321.9 L209.7 327 L207.6 332 L204.4 334.5 L201.9 329.5 L200.6 321.9 L199.1 316.8 L198.1 311.8M208.8 349.1 L210.7 352.3 L209.5 356.7 L206.3 359.9 L204.4 359.2 L207.6 354.8 L209.2 351.6 L208.8 349.1M205 371.9 L208.2 370 L211.4 370.6 L212.6 376.3 L212 385.2 L211.4 389.6 L207.6 389 L205.7 383.9 L204.2 377.6 L205 371.9M213.9 397.2 L216.4 398.5 L217.1 404.2 L216.4 408 L214.5 405.4 L213 400.4 L213.9 397.2M282.3 338.3 L284.8 336.8 L288.6 337.7 L290.2 340.9 L288.6 344.4 L284.8 345.3 L282.3 342.8 L282.3 338.3M292 351.6 L294.9 350.4 L298.1 356.1 L298.3 359.9 L295.5 359.2 L292.8 355.1 L292 351.6M299.1 365.9 L301.9 364.9 L305 370 L305.4 373.1 L302.5 372.5 L300 369 L299.1 365.9M292.4 359.9 L294.3 359.6 L296.8 366.2 L296.2 368.1 L293.6 364.9 L292.4 359.9M322.1 405.4 L326.5 397.8 L328.4 404.2 L332.2 408 L327.8 409.2 L322.1 405.4M330.3 379.5 L334.1 378.8 L336.3 382 L334.8 385.8 L332.2 383.9 L329.7 382.6 L330.3 379.5" stroke="#000" stroke-width="1.4" fill="none" stroke-linejoin="round"/>
<path d="M296.2 27.1C294.5 28.9 291.2 33.6 286.1 37.7C281.1 41.8 272.7 47.3 266 51.5C259.3 55.7 251.4 59.3 245.9 62.8C240.5 66.4 237.6 68.3 233.4 72.9C229.2 77.5 225 83.8 220.8 90.5C216.6 97.2 212 105.5 208.2 113.1C204.5 120.6 200.7 127.7 198.2 135.7C195.7 143.6 194.4 152.4 193.2 160.8C191.9 169.2 191.9 177.1 190.7 185.9C189.4 194.7 186.3 204.8 185.6 213.6C185 222.4 185.2 230.7 186.9 238.7C188.6 246.6 192.1 254.2 195.7 261.3C199.2 268.4 204.7 274.7 208.2 281.4C211.8 288.1 214.9 294.4 217 301.5C219.1 308.6 219.8 315.7 220.8 324.1C221.9 332.5 222.1 343 223.3 351.8C224.6 360.6 227.1 372.2 228.3 376.9C229.6 381.6 229.6 376.2 230.9 380.1C232.1 384 234.2 392.7 235.9 400.2C237.6 407.7 239.2 417.4 240.9 425.3C242.6 433.3 243.8 440.4 245.9 447.9C248 455.5 251 463.4 253.5 470.6C256 477.7 258.5 484.4 261 490.7C263.5 496.9 265.2 502.4 268.5 508.2C271.9 514.1 277.3 520 281.1 525.8C284.9 531.7 287.8 538 291.2 543.4C294.5 548.9 297.4 553.5 301.2 558.5C305 563.5 309.2 568.5 313.8 573.6C318.4 578.6 323 584 328.8 588.6C334.7 593.2 342.2 597 348.9 601.2C355.6 605.4 362.3 609.6 369 613.8C375.7 618 382 622.1 389.1 626.3C396.3 630.5 403.8 634.3 411.8 638.9C419.7 643.5 428.5 648.9 436.9 654C445.3 659 453.6 664.2 462 669C470.4 673.9 479.6 678.7 487.1 682.9C494.7 687.1 501.2 691 507.2 694.2C513.3 697.3 520.8 700.5 523.6 701.7" stroke="#1f77b4" stroke-width="2.1" fill="none"/>
<path d="M273.7 2C270.8 4.3 262.6 11.2 256.5 15.5C250.3 19.8 243.8 23.9 236.8 27.8C229.8 31.7 220.4 34.8 214.7 38.9C208.9 43 206.9 46.7 202.4 52.4C197.8 58.2 192.5 65.7 187.6 73.3C182.7 80.9 176.9 89.7 172.8 97.9C168.7 106.1 165.3 115.1 163 122.5C160.7 129.9 160.5 134.8 159.3 142.2C158.1 149.6 157.1 158.6 155.6 166.8C154.2 175 151.9 184 150.7 191.4C149.5 198.8 148.7 204.5 148.2 211.1C147.8 217.6 147.4 224.2 148.2 230.7C149.1 237.3 150.7 244.3 153.2 250.4C155.6 256.6 159.7 262.3 163 267.6C166.3 273 169.8 276.7 172.8 282.4C175.9 288.1 179.4 295.5 181.4 302.1C183.5 308.6 184.1 314.8 185.1 321.8C186.2 328.7 186.8 336.9 187.6 343.9C188.4 350.9 189.6 357.7 190.1 363.6C190.5 369.4 189.2 373.5 190.1 379C190.9 384.4 192.9 389.6 195 396.2C197 402.7 200.3 410.9 202.4 418.3C204.4 425.7 205.6 432.7 207.3 440.5C208.9 448.3 210.1 456.9 212.2 465.1C214.2 473.3 216.7 481.9 219.6 489.7C222.4 497.4 225.3 504.8 229.4 511.8C233.5 518.8 239.3 524.9 244.2 531.5C249.1 538 254.8 544.2 258.9 551.1C263 558.1 264.3 565.9 268.8 573.3C273.3 580.7 280.2 588.5 286 595.4C291.7 602.4 297.1 609.4 303.2 615.1C309.4 620.8 315.5 625.8 322.9 629.9C330.3 634 340.1 636 347.5 639.7C354.9 643.4 360.6 647.1 367.2 652C373.7 656.9 378.6 663.9 386.8 669.2C395 674.5 406.5 679.1 416.3 684C426.2 688.9 435.6 693.4 445.9 698.7C456.1 704.1 467.2 710.6 477.8 715.9C488.5 721.3 500.2 725.8 509.8 730.7C519.5 735.6 524.6 739.3 535.6 745.5C546.7 751.6 569.5 763.9 576.2 767.6" stroke="#9467bd" stroke-width="5" fill="none" stroke-linejoin="round"/>
<rect x="195.8" y="57" width="14" height="14" transform="rotate(35 202.8 64)" fill="none" stroke="#9467bd" stroke-width="3.6"/>
<rect x="147.4" y="202.1" width="14" height="14" transform="rotate(0 154.4 209.1)" fill="none" stroke="#9467bd" stroke-width="3.6"/>
<rect x="188.5" y="361.5" width="14" height="14" transform="rotate(-10 195.5 368.5)" fill="none" stroke="#9467bd" stroke-width="3.6"/>
<rect x="247" y="526.9" width="14" height="14" transform="rotate(35 254 533.9)" fill="none" stroke="#9467bd" stroke-width="3.6"/>
<rect x="355.7" y="633.2" width="14" height="14" transform="rotate(35 362.7 640.2)" fill="none" stroke="#9467bd" stroke-width="3.6"/>
<rect x="481.9" y="711.9" width="14" height="14" transform="rotate(25 488.9 718.9)" fill="none" stroke="#9467bd" stroke-width="3.6"/>
<path d="M278.6 48.7C274.9 50.8 263.4 56.3 256.5 61C249.5 65.7 242.5 71.3 236.8 77C231.1 82.8 226.1 89.1 222 95.5C217.9 101.8 215.1 108.2 212.2 115.1C209.3 122.1 206.9 129.5 204.8 137.3C202.8 145.1 201 153.7 199.9 161.9C198.7 170.1 198.3 178.7 197.9 186.5C197.6 194.3 197.4 201.6 197.9 208.6C198.5 215.6 199.4 221.7 201.1 228.3C202.9 234.8 205.4 241.4 208.5 248C211.6 254.5 216.3 261.1 219.6 267.6C222.9 274.2 225.9 280.4 228.2 287.3C230.4 294.3 232.1 302.1 233.1 309.5C234.1 316.8 233.9 324.2 234.3 331.6C234.7 339 234.7 345.4 235.6 353.7C236.4 362 237.6 373.5 239.3 381.4C240.9 389.3 243.3 394.1 245.4 401.1C247.4 408.1 249.3 415.9 251.5 423.2C253.8 430.6 256.5 438.4 258.9 445.4C261.4 452.4 264.3 459.3 266.3 465.1C268.4 470.8 270.4 477.4 271.2 479.8" stroke="#472d7b" stroke-width="3.6" fill="none"/>
<path d="M288.4 514.3C290.1 517.1 294.2 525.3 298.3 531.5C302.4 537.6 307.7 544.6 313 551.1C318.4 557.7 324.1 564.7 330.3 570.8C336.4 577 343 582.7 349.9 588C356.9 593.4 364.7 597.9 372.1 602.8C379.5 607.7 386.8 612.6 394.2 617.6C401.6 622.5 408.6 627.4 416.3 632.3C424.1 637.2 432.7 642.2 440.9 647.1C449.1 652 457.3 657.7 465.5 661.8C473.7 665.9 481.9 668.6 490.1 671.7C498.3 674.7 507.2 677.7 514.7 680.3C522.3 682.8 532.2 685.8 535.6 686.9" stroke="#472d7b" stroke-width="3.6" fill="none"/>
<path d="M212.7 185.2C212.8 188.3 212.3 197.7 213.4 203.7C214.6 209.6 216.9 214.8 219.6 220.9C222.2 227.1 226.3 234.4 229.4 240.6C232.5 246.7 236.6 254.9 238 257.8" stroke="#33638d" stroke-width="3.6" fill="none"/>
<path d="M243.7 268.9C244.8 271.1 248.4 276.9 250.3 282.4C252.2 287.9 254.3 295.1 255.2 302.1C256.1 309 255.7 317.2 255.7 324.2C255.7 331.2 255.1 337.3 255.2 343.9C255.4 350.5 255.4 357.3 256.5 363.6C257.5 369.8 259.5 375.2 261.4 381.4C263.2 387.7 266.3 394.1 267.5 401.1C268.8 408.1 267.7 416.3 268.8 423.2C269.8 430.2 271.6 436.8 273.7 442.9C275.7 449.1 278.2 454 281.1 460.1C283.9 466.3 287.2 472.8 290.9 479.8C294.6 486.8 299.1 495 303.2 502C307.3 508.9 311 515.1 315.5 521.6C320 528.2 325.3 535.2 330.3 541.3C335.2 547.5 339.7 553.2 345 558.5C350.3 563.9 356.5 569.2 362.2 573.3C368 577.4 376.6 581.5 379.5 583.1" stroke="#33638d" stroke-width="3.6" fill="none"/>
<path d="M421.3 609C425 611.2 436 618.2 443.4 622.5C450.8 626.8 457.8 630.3 465.5 634.8C473.3 639.3 481.9 645.2 490.1 649.5C498.3 653.8 507.2 657.7 514.7 660.6C522.3 663.6 532.2 666.1 535.6 667.2" stroke="#33638d" stroke-width="3.6" fill="none"/>
<path d="M288.9 408C288.5 410.5 286.1 417.8 286.5 423.2C286.8 428.7 288.9 435.1 290.9 440.5C292.9 445.8 295.8 450.7 298.3 455.2C300.7 459.7 303.6 462.6 305.7 467.5C307.7 472.4 308.1 479 310.6 484.7C313 490.5 316.7 496.2 320.4 502C324.1 507.7 328.2 513.8 332.7 519.2C337.2 524.5 342.1 529 347.5 533.9C352.8 538.9 359 544.6 364.7 548.7C370.4 552.8 375.4 554.8 381.9 558.5C388.5 562.2 396.7 566.7 404 570.8C411.4 574.9 418.8 579 426.2 583.1C433.6 587.2 441.4 590.9 448.3 595.4C455.3 599.9 461.4 605.3 468 610.2C474.6 615.1 481.1 620.4 487.7 624.9C494.2 629.4 499.4 632.8 507.4 637.2C515.4 641.7 530.9 649.1 535.6 651.5" stroke="#1f968b" stroke-width="3.6" fill="none"/>
<path d="M349.9 514.3C352.4 517.1 359.4 526.1 364.7 531.5C370 536.8 375.8 541.3 381.9 546.2C388.1 551.1 394.6 556.5 401.6 561C408.6 565.5 416.3 569.2 423.7 573.3C431.1 577.4 437.7 581.7 445.9 585.6C454.1 589.5 468.4 594.8 472.9 596.7" stroke="#bddf26" stroke-width="3.6" fill="none"/>
<path d="M479.1 599.1C481.3 600.5 489.1 605.1 492.6 607.7C496.1 610.4 498.7 613.9 500 615.1" stroke="#bddf26" stroke-width="3.6" fill="none"/>
<text transform="translate(217.1,162.4) rotate(-82)" font-size="25" text-anchor="middle" dy="9" fill="#33638d">200</text>
<text transform="translate(283,499) rotate(58)" font-size="25" text-anchor="middle" dy="9" fill="#472d7b">90</text>
<text transform="translate(401.1,594.2) rotate(36)" font-size="25" text-anchor="middle" dy="9" fill="#33638d">200</text>
<text transform="translate(340.6,494.1) rotate(58)" font-size="25" text-anchor="middle" dy="9" fill="#bddf26">600</text>
<text transform="translate(514.7,627.9) rotate(38)" font-size="25" text-anchor="middle" dy="9" fill="#bddf26">600</text>
<path d="M286.9 81.7C285.1 82.7 280.4 85.6 276.1 87.9C271.8 90.2 265.2 92.5 261 95.5C256.8 98.4 253.7 101.3 251 105.5C248.2 109.7 247.2 115.6 244.7 120.6C242.2 125.6 238 130.7 235.9 135.7C233.8 140.7 232.9 146.1 232.1 150.8C231.3 155.4 231.5 158.3 230.9 163.3C230.2 168.3 229.6 175 228.3 180.9C227.1 186.8 224.6 193 223.3 198.5C222.1 203.9 221 208.1 220.8 213.6C220.6 219 220.4 224.9 222.1 231.2C223.7 237.4 226.9 245 230.9 251.3C234.8 257.5 242 262.6 245.9 268.8C249.9 275.1 252.8 281.4 254.7 288.9C256.6 296.5 256.4 304.4 257.2 314.1C258.1 323.7 258.7 337.1 259.7 346.7C260.8 356.4 261.6 365.9 263.5 371.9C265.4 377.8 269 377.1 271.1 382.6C273.1 388.2 274.8 398.1 276.1 405.2C277.3 412.3 277.8 418.6 278.6 425.3C279.4 432 279.8 438.7 281.1 445.4C282.4 452.1 283.6 458.8 286.1 465.5C288.6 472.2 292.4 479.3 296.2 485.6C299.9 491.9 304.6 498.6 308.7 503.2C312.9 507.8 318.4 509.1 321.3 513.3C324.2 517.5 323.8 523.7 326.3 528.3C328.8 532.9 332.2 536.3 336.4 540.9C340.6 545.5 346.4 551.4 351.5 556C356.5 560.6 361.1 565.2 366.5 568.5C372 571.9 377.8 573.1 384.1 576.1C390.4 579 397.5 581.9 404.2 586.1C410.9 590.3 417.2 597 424.3 601.2C431.4 605.4 439.8 607.1 446.9 611.3C454.1 615.4 460.3 621.7 467 626.3C473.7 630.9 480 634.3 487.1 638.9C494.3 643.5 502.2 649.4 509.7 654C517.3 658.5 528.6 664 532.4 666" stroke="#ff7f0e" stroke-width="2.1" fill="none"/>
<path d="M180.1 208.1l11.0 11.0M191.1 208.1l-11.0 11.0" stroke="#0000ff" stroke-width="5" fill="none"/>
<path d="M219.6 235.2l11.0 11.0M230.6 235.2l-11.0 11.0" stroke="#0000ff" stroke-width="5" fill="none"/>
<path d="M276.9 520.8l11.0 11.0M287.9 520.8l-11.0 11.0" stroke="#0000ff" stroke-width="5" fill="none"/>
<path d="M328.9 532.4l11.0 11.0M339.9 532.4l-11.0 11.0" stroke="#0000ff" stroke-width="5" fill="none"/>
<circle cx="523.6" cy="701.7" r="7.5" fill="#ff0000"/>
<circle cx="532.9" cy="666" r="7.5" fill="#ff0000"/>
</g>
<circle cx="296.2" cy="27.1" r="7.5" fill="#008000"/>
<circle cx="286.9" cy="81.7" r="7.5" fill="#008000"/>
<rect x="308" y="1.8" width="60" height="34.5" rx="4" fill="#fff" stroke="#000" stroke-width="1"/>
<text x="338" y="28" font-size="26" text-anchor="middle" fill="#1f77b4">200</text>
<rect x="294.5" y="74.5" width="60.5" height="35.5" rx="4" fill="#fff" stroke="#000" stroke-width="1"/>
<text x="324.5" y="101.5" font-size="26" text-anchor="middle" fill="#ff7f0e">400</text>
<rect x="82.6" y="1.3" width="451.3" height="747.7" fill="none" stroke="#000" stroke-width="1.1"/>
<rect x="88.6" y="6.2" width="26.5" height="36.5" rx="4" fill="#fff" stroke="#000" stroke-width="1"/>
<text x="101.8" y="33.7" font-size="26" text-anchor="middle">a</text>
<rect x="413.7" y="6.2" width="105" height="36.5" rx="4" fill="#fff" stroke="#000" stroke-width="1"/>
<text x="466.2" y="33.7" font-size="25.5" text-anchor="middle" fill="#17becf">Model1</text>
<clipPath id="cp_b"><rect x="563.4" y="1.8" width="461.0" height="763.2"/></clipPath>
<g clip-path="url(#cp_b)">
<rect x="563.4" y="1.8" width="461.0" height="763.2" fill="#FEFEDA"/>
<path d="M695.8 41.5C689.9 44.8 686.6 52.1 680.7 57.8C674.8 63.4 668.1 69.5 660.6 75.4C653.1 81.2 642.2 86.7 635.5 93C628.8 99.2 624.2 105.9 620.4 113.1C616.6 120.2 614.3 128.6 612.9 135.7C611.4 142.8 611.2 149.1 611.6 155.8C612 162.5 613.5 170 615.4 175.9C617.3 181.7 620.2 186.8 622.9 191C625.6 195.1 630.5 194.7 631.7 201C632.9 207.3 632.7 222.8 629.9 228.6C627.2 234.5 622 232 615.4 236.2C608.8 240.4 600.3 246.6 590.3 253.8C580.2 260.9 560.9 204.2 555.1 278.9C549.2 353.5 549.2 629.1 555.1 701.7C560.9 774.2 578.9 709.2 590.3 714.2C601.6 719.2 611.2 726.4 622.9 731.8C634.6 737.3 647.6 742.7 660.6 746.9C673.6 751.1 687.4 754.4 700.8 756.9C714.2 759.4 728.9 760.3 741 762C753.1 763.6 725.5 766.1 773.7 767C821.8 767.8 987.2 785 1029.9 767C1072.7 749 1033.7 678.6 1029.9 658.9C1026.2 639.3 1014.5 652.7 1007.3 648.9C1000.2 645.1 993.9 640.9 987.2 636.3C980.5 631.7 973.8 626.3 967.1 621.3C960.4 616.2 952.9 610.8 947 606.2C941.2 601.6 935.7 598.2 932 593.6C928.2 589 927.8 583.1 924.4 578.5C921.1 573.9 917.3 570.6 911.9 566C906.4 561.4 899.3 555.9 891.8 550.9C884.2 545.9 874.2 539.2 866.6 535.8C859.1 532.5 853.7 533.3 846.5 530.8C839.4 528.3 830.6 524.1 823.9 520.8C817.2 517.4 811.8 514.9 806.3 510.7C800.9 506.5 795.4 501.5 791.3 495.6C787.1 489.8 784.1 482.6 781.2 475.5C778.3 468.4 776.2 460 773.7 452.9C771.2 445.8 768.2 439.5 766.1 432.8C764 426.1 763.2 419.4 761.1 412.7C759 406 746 394.7 753.6 392.6C761.1 390.5 796.7 400.9 806.3 400C816 399.1 808.4 391.2 811.4 386.9C814.3 382.7 818.9 378.6 823.9 374.4C828.9 370.2 835.6 366.4 841.5 361.8C847.4 357.2 854.5 352.2 859.1 346.7C863.7 341.3 866.6 335.4 869.1 329.1C871.7 322.9 873.3 315.7 874.2 309C875 302.3 875 296.1 874.2 288.9C873.3 281.8 871.2 273.9 869.1 266.3C867.1 258.8 865.4 251.3 861.6 243.7C857.8 236.2 852 227.8 846.5 221.1C841.1 214.4 836.1 209 828.9 203.5C821.8 198.1 812.2 192.2 803.8 188.4C795.4 184.7 787.1 182.6 778.7 180.9C770.3 179.2 761.5 179.6 753.6 178.4C745.6 177.1 737.2 174.6 731 173.4C724.7 172.1 720.1 172.9 715.9 170.9C711.7 168.8 708.3 165.8 705.8 160.8C703.3 155.8 701.6 147.8 700.8 140.7C700 133.6 700 124.8 700.8 118.1C701.6 111.4 703.3 106.8 705.8 100.5C708.3 94.2 712.1 86.3 715.9 80.4C719.6 74.5 723 70.6 728.4 65.3C733.9 60.1 744.4 53 748.5 49C752.7 45 752.3 44.4 753.6 41.5C754.8 38.5 759 32.5 756.1 31.4C753.1 30.4 742.7 34.1 736 35.2C729.3 36.2 722.6 36.6 715.9 37.7C709.2 38.7 701.6 38.1 695.8 41.5Z" fill="#DCF4C2"/>
<path d="M801.3 16.3C803.6 15.9 811.4 9.8 816.4 7.5C821.4 5.2 828.9 3.8 831.5 2.5C834 1.3 835.6 0.4 831.5 0C827.3 -0.4 811.1 -1.7 806.3 0C801.5 1.7 803.4 7.3 802.6 10.1C801.7 12.8 799 16.8 801.3 16.3Z" fill="#DCF4C2"/>
<path d="M690.8 104.3C689.3 102.6 684.9 106.2 680.7 110.6C676.5 114.9 669.6 123.1 665.6 130.7C661.6 138.2 658.9 147.4 656.8 155.8C654.7 164.2 653.7 172.5 653.1 180.9C652.4 189.3 652.4 197.7 653.1 206C653.7 214.4 655.6 223.6 656.8 231.2C658.1 238.7 660.4 245.4 660.6 251.3C660.8 257.1 659.8 261.3 658.1 266.3C656.4 271.4 650.6 276.8 650.6 281.4C650.6 286 655.6 288.5 658.1 294C660.6 299.4 664 308.6 665.6 314.1C667.3 319.5 671.1 322.9 668.1 326.6C665.2 330.4 655.6 332.5 648 336.7C640.5 340.9 630.5 346.3 622.9 351.8C615.4 357.2 609.1 362.6 602.8 369.3C596.5 376 590.3 384.3 585.2 392C580.2 399.6 577.7 408.8 572.7 415.2C567.6 421.6 558 413.1 555.1 430.3C552.1 447.5 549.2 499.8 555.1 518.2C560.9 536.7 578.9 533.7 590.3 540.9C601.6 548 612.4 554.7 622.9 561C633.4 567.2 643.4 572.7 653.1 578.5C662.7 584.4 671.9 591.1 680.7 596.1C689.5 601.2 697.9 604.5 705.8 608.7C713.8 612.9 724.4 618.7 728.4 621.3C732.5 623.8 730.6 626.3 730.2 623.8C729.8 621.3 728.3 612.5 725.9 606.2C723.5 599.9 720.1 593.2 715.9 586.1C711.7 579 705.4 571 700.8 563.5C696.2 555.9 692.2 548.8 688.2 540.9C684.3 532.9 679.9 524.5 676.9 515.7C674 506.9 672.1 497.7 670.7 488.1C669.2 478.5 668.8 469.2 668.1 457.9C667.5 446.6 666.5 429.9 666.9 420.3C667.3 410.6 668.4 401.8 670.7 400.2C673 398.5 677.4 401.8 680.7 410.2C684.1 418.6 688.2 456 690.8 450.4C693.3 444.8 694.9 401.7 695.8 376.9C696.6 352.1 696.6 326.6 695.8 301.5C694.9 276.4 692 251.3 690.8 226.1C689.5 201 688.5 168.3 688.2 150.8C688 133.2 689.1 128.4 689.5 120.6C689.9 112.9 692.2 105.9 690.8 104.3Z" fill="#B1D7A6"/>
<path d="M816.4 680.3 L819.4 678.5 L855.3 707.9 L852.8 710.5Z" fill="#FEFEDA"/>
<path d="M688.5 95.4 L683.5 99 L678.5 102.5 L671 112 L668.6 117.4 L666.1 122.8 L661.6 136 L659.9 141.7 L658.5 147.2 L657 154.3 L655.8 159.9 L654.6 165.4 L653.6 169.9 L653.7 173.6 L653.6 177.3 L653.3 181.9 L653.2 186.6 L653.1 191.2 L653 195.9 L652.6 203.7 L653.2 208 L653.9 212.3 L654.3 222.5 L655.2 227 L662.8 256.8 L666.3 265.3 L668.2 270.7 L670 276.1 L670.6 279.6 L670.1 281.2 L669.5 282.8 L669.9 287.2 L668.8 291.2 L667.6 295.1 L666.4 299.1 L665.5 303.1 L666.2 306.9 L665.9 308.4 L665.1 308.8 L664.4 309 L664.4 309 L665.2 313.2 L666.1 318.3 L667.1 323.4 L668.1 328.9 L668.1 329.1 L668.8 334.7 L669.4 340.2 L669.9 345.1 L670.5 350.1 L671.2 356 L671.8 360.9 L672.4 365.9 L673 370.8 L673.2 371.9 L673.2 372.4 L673.2 377 L676.9 400.6 L679.1 408 L680.6 412.5 L682.3 417.5 L684 422.5 L685.6 427.5 L685.7 427.8 L686.5 431.2 L687.7 436.6 L688.9 442 L690.1 447.5 L690.9 451.1 L691.9 456.2 L692.9 461.3 L693.9 466.3 L694.8 470.9 L697.6 481.6 L699 486.1 L700.3 490.8 L701.9 496 L707.2 509.5 L709.5 514.6 L720.6 532.9 L724.5 538.1 L728.3 543.2 L732.1 548.3 L736 553.4 L739.5 558.1 L743 562.8 L743.5 563.5 L743.5 563.5 L744.5 565.7 L747 571.3 L749.5 576.9 L761.6 596.5 L765.2 601 L768.7 605.6 L775 613.1 L778.9 617.5 L782.6 621.8 L797.8 635.6 L818.8 647.8 L823.8 649.9 L828.5 651.7 L833.1 653.6 L834 653.9 L834 653.9 L837 655.8 L842.2 659.1 L847.5 662.4 L852.7 665.6 L854.1 666.5 L854.3 666.7 L859 670.8 L863.8 675 L883.8 688.9 L889.7 691.8 L895.6 694.8 L901.5 697.7 L907.2 700.6 L913 703.5 L918.8 706.4 L924.6 709.3 L931.1 712.5 L935.8 714.9 L942.2 718.4 L948.7 721.9 L954.7 725.1 L960.7 728.4 L970.5 733.4 L976.8 736.2 L981.8 738.6 L986.8 740.9 L991.9 743.2 L996.9 745.6 L1000.9 747.5 L1010 752.7 L1019.1 757.9 L1029.6 763.8 L1069.9 689.9 L1059.6 687.1 L1049.2 684.2 L1038.7 681.3 L1028 678.3 L1022.6 676.6 L1017.3 675 L1011.9 673.3 L1006.6 671.6 L1000.3 668.8 L994.3 666.1 L988 663.3 L981.7 660.5 L975.4 656.8 L969.2 653 L962.8 649.2 L956.5 645.4 L950.9 642.2 L945.2 639 L939.6 635.9 L934 632.7 L928.3 629.3 L922.7 625.8 L917.1 622.3 L912.3 619.5 L906.9 616.1 L901.5 612.7 L895.9 609 L890.3 605.4 L885 602.3 L879.7 599.2 L874.3 596 L868.9 592.8 L864.2 590.1 L859.6 587.5 L855.2 584.9 L850.8 582.4 L846.5 578.6 L843.1 575.3 L839.3 572.2 L834.9 568.5 L831.1 564.1 L827.5 559.9 L823.7 555.5 L819.9 551.1 L816.7 547 L812.8 542.1 L809 537.1 L805.1 531.9 L801.7 526.6 L798.4 521.3 L795.3 516.3 L792.2 511.2 L789.1 505.6 L786 499.9 L782.9 494.2 L779.8 488.6 L777.7 484.3 L775.2 479.3 L772.9 474.8 L770.3 469.8 L768.3 465.3 L766.4 460.9 L764.6 456.9 L762.7 452.6 L761.3 447.6 L760.1 442.6 L758.8 437.6 L757.5 432.5 L757.1 426.9 L756.9 421.2 L756.6 415.6 L756.3 409.8 L754.8 404.4 L753.3 399.4 L751.7 394.4 L750.1 389.4 L748.9 384.7 L747.7 380.4 L746.6 377 L745.2 372.4 L744.8 367.2 L744.5 361.9 L744.2 356.9 L743.9 351.9 L744 346.9 L744.2 341.9 L744.3 336.9 L744.5 331.8 L744.4 326.3 L744.1 320.6 L743.8 314.7 L743.5 309.1 L742.2 304 L740.8 299.1 L739.3 294 L737.8 288.9 L735.9 285.1 L734 281.6 L732.1 278.1 L730.2 274.8 L728.5 271.9 L726.9 269.2 L725.3 266.4 L723.7 263.7 L721.5 259.6 L719.1 255.2 L716.7 250.8 L714.3 246.5 L711.7 241.7 L709.1 236.8 L706.4 231.9 L703.8 227 L702 222.5 L700.4 218.1 L698.9 213.7 L697.3 209.3 L696.9 204.6 L696.7 199.9 L696.5 195.2 L696.3 190.5 L696.4 185.8 L696.6 181.1 L696.8 176.4 L696.2 171.6 L696.3 166 L696.5 160.3 L696.7 154.4 L696.9 148.6 L697.8 142.8 L699.2 136 L700.4 130.1 L701.6 124.2 L700.4 115.6 L698.1 107.7 L695.8 99.8Z" fill="#B1D7A6"/>
<path d="M689.5 109.1 L683.9 117.1 L680.9 122.3 L677.8 127.5 L673.3 138.2 L670.9 143.7 L668.8 149.2 L666.6 155.8 L664.7 161.3 L662.8 166.6 L661.2 171.1 L661.2 174.9 L661 178.8 L660.8 183.4 L660.7 188.1 L660.6 192.7 L660.5 197.4 L660.2 204.7 L660.9 208.9 L661.7 213.2 L662.3 222.5 L663.2 227 L669.6 252.9 L672.6 261.1 L674.2 266.8 L675.8 272.3 L676.2 276.1 L675.7 278.3 L675.1 280.3 L675.5 284.8 L675.4 288.2 L675.4 291.7 L675.3 295.2 L675.4 298.7 L676 302.7 L675.8 304.6 L675.1 305.5 L674.3 306.3 L673.5 307.2 L673.3 311.7 L673.2 317 L673.2 322.3 L673.1 328 L672.1 328.7 L671.7 334.4 L671.7 339.9 L671.6 345 L671.5 350 L671.7 355.9 L671.8 360.9 L672.4 365.9 L673 370.9 L673.2 371.9 L673.2 372.4 L673.2 377 L676.9 400.6 L679.1 408 L680.6 412.5 L682.3 417.5 L684 422.5 L685.6 427.5 L685.7 427.8 L686.5 431.2 L687.7 436.6 L688.9 442 L690.1 447.5 L690.9 451.1 L691.9 456.2 L692.9 461.3 L693.9 466.3 L694.9 470.9 L697.6 481.6 L699 486.1 L700.3 490.8 L701.9 496 L707.2 509.5 L709.5 514.6 L720.6 532.9 L724.5 538.1 L728.3 543.2 L732.1 548.3 L736 553.4 L739.5 558.1 L743 562.8 L743.5 563.5 L743.5 563.5 L744.5 565.7 L747 571.3 L749.5 576.9 L761.6 596.5 L765.2 601 L768.7 605.6 L775 613.1 L778.9 617.5 L782.6 621.8 L797.8 635.6 L818.8 647.8 L823.8 649.9 L828.5 651.7 L833.1 653.6 L834 653.9 L834 653.9 L837 655.8 L842.2 659.1 L847.5 662.4 L852.7 665.6 L854.1 666.5 L854.3 666.7 L859 670.8 L863.8 675 L883.8 688.9 L889.7 691.8 L895.6 694.8 L901.5 697.7 L907.2 700.6 L913 703.5 L918.8 706.4 L924.6 709.3 L931.1 712.5 L935.8 714.9 L942.2 718.4 L948.7 721.9 L954.7 725.1 L960.7 728.4 L970.5 733.4 L976.8 736.2 L981.8 738.6 L986.8 740.9 L991.9 743.2 L996.9 745.6 L1000.9 747.5 L1010 752.7 L1019.1 757.9 L1029.6 763.8 L1063.5 701.8 L1053.1 698.5 L1042.9 695.2 L1032.7 691.9 L1023 689 L1017.7 687.3 L1012.4 685.5 L1007.1 683.7 L1001.8 682 L995.6 679.1 L988.9 676.1 L982.7 673.2 L976.4 670.3 L970.1 666.6 L963.8 662.9 L957.8 659.2 L951.5 655.5 L945.8 652.4 L940.1 649.3 L934.5 646.2 L928.8 643 L923.1 639.7 L917.5 636.3 L911.8 632.8 L904.6 628.3 L899.3 624.7 L894.1 621.2 L889.3 618.1 L884.4 614.9 L879.1 611.8 L873.8 608.6 L868.5 605.4 L863.4 602.4 L859.4 600.2 L855.4 597.9 L851 595.4 L846.6 593 L842.1 589.5 L836 584.8 L830.4 580 L826.1 576.1 L822.3 571.8 L818.3 567 L814.6 562.6 L810.8 558.2 L806.2 551.7 L802.6 546.6 L798.9 541.5 L795.5 536.8 L792.6 532.3 L789.8 527.8 L786.6 522.8 L783.4 517.8 L780.2 512.2 L777 506.6 L773.8 501 L770.6 495.4 L767.2 489 L764.7 484 L761.9 478.1 L759.5 473 L757.6 468.5 L755.8 464.1 L753.8 459.1 L752.1 454.7 L750.8 449.7 L749.6 444.7 L748.3 439.7 L747.1 434.8 L746.6 429.2 L746.2 423.6 L745.8 418 L745.5 412.6 L744.2 408 L742.6 402.9 L741.1 397.9 L739.5 392.9 L738.2 388.3 L736.8 383.5 L735.3 377 L734.2 372.4 L733.8 367.9 L733.6 363.3 L733.2 358.3 L732.9 353.3 L732.9 348.2 L732.9 343.1 L733 338.1 L733.1 333.1 L732.9 327.6 L732.8 321.9 L732.6 316.8 L732.4 311.2 L731.4 306.1 L730.1 301.1 L728.9 296.1 L727.8 291.6 L726.4 288.3 L724.8 285.2 L723.3 282 L721.6 278.5 L719.9 275.7 L718.2 273 L716.5 270.3 L714.8 267.6 L712.5 263.6 L710.3 259.9 L708.2 256.2 L705.8 252.2 L703 247.5 L700.2 242.7 L697 237.3 L692.8 227 L691.3 222.5 L690.1 216.8 L688.8 212.4 L687.6 208.1 L687.4 202.8 L687.4 198.1 L687.4 193.4 L687.3 188.8 L687.6 184.1 L687.8 179.6 L688 175.1 L687.5 170.3 L687.5 164.7 L687.6 158.9 L687.8 152.7 L687.9 146.9 L688.7 141.1 L690.5 132.6 L691.7 126.6 L692.9 120.7 L691.5 110.3Z" fill="#9DBB9A"/>
<path d="M677 148.4 L675.4 154.9 L674 160.5 L672.5 166 L671.5 170.8 L671 175.5 L670.9 179 L670.6 183.7 L670.4 188.3 L670.3 193 L670.2 197.6 L669.8 204.3 L670.5 208.7 L671.4 213 L672.1 221 L673.2 225.4 L678.3 245.8 L679.8 251.4 L682.7 258.8 L684.4 264.4 L685.7 269.2 L685.7 272 L685.7 274.7 L686.2 278.7 L686.5 282.3 L686.7 285.7 L686.9 289.1 L687.1 292.4 L687.3 296.5 L687.1 299.7 L686.2 301.4 L685.2 302.9 L684.1 304.7 L683.3 308.3 L682.7 313.7 L682.2 319.1 L681.5 324.8 L680.3 327.5 L679.1 332 L678.7 337.7 L678.4 342.9 L678.1 347.9 L678 353.8 L677.9 358.8 L677.7 363.9 L677.6 369 L677.2 371.5 L676.5 371.8 L675.9 375.9 L678.7 398.9 L680.4 406.4 L681.3 411.1 L682.5 416.2 L683.6 421.3 L685.3 426.4 L685.7 427.8 L686.2 430 L687.4 435.4 L688.6 440.9 L689.9 446.4 L690.8 450.4 L691.7 455.2 L692.7 460.3 L693.7 465.4 L694.7 470 L697.3 480.7 L698.7 485.3 L700.1 489.9 L701.6 495.1 L706.8 508.6 L709.1 513.7 L720 532.1 L723.8 537.2 L727.7 542.3 L731.5 547.5 L735.4 552.6 L738.9 557.4 L742.5 562.1 L743.5 563.5 L743.5 563.5 L744.2 564.9 L746.7 570.5 L749.1 576.1 L761.1 595.8 L764.7 600.4 L768.3 605 L774.6 612.6 L778.4 617 L782.2 621.3 L797.3 635.2 L818.2 647.6 L823.3 649.6 L828 651.5 L832.6 653.4 L834 653.9 L834 653.9 L836.5 655.5 L841.7 658.8 L847 662.1 L852.3 665.3 L854.1 666.5 L854.1 666.5 L858.7 670.5 L863.4 674.7 L883.4 688.7 L889.3 691.6 L895.2 694.6 L901.1 697.5 L906.9 700.4 L912.7 703.3 L918.5 706.2 L924.3 709.1 L930.8 712.4 L935.5 714.8 L942 718.3 L948.4 721.7 L954.5 725 L960.6 728.3 L970.4 733.3 L976.6 736.2 L981.7 738.5 L986.7 740.9 L991.8 743.2 L996.9 745.5 L1000.8 747.5 L1010 752.7 L1019.1 757.9 L1029.6 763.8 L1060.8 706.7 L1050.4 703.1 L1040.2 699.7 L1030.1 696.3 L1020.9 693.5 L1015.6 691.7 L1010.3 689.9 L1005 688.1 L999.7 686.3 L993.4 683.4 L986.4 680.2 L980.2 677.3 L973.9 674.4 L967.6 670.7 L961.3 667 L955.3 663.4 L948.9 659.8 L943.3 656.7 L937.6 653.6 L931.9 650.5 L926.2 647.4 L920.5 644 L914.8 640.7 L909.1 637.3 L900.8 631.9 L895.5 628.4 L890.3 624.8 L886 622 L881.3 619 L875.9 615.8 L870.6 612.6 L865.2 609.5 L860.5 606.6 L856.9 604.6 L853 602.4 L848.6 600.1 L844.1 597.6 L839.6 594.2 L832.1 588.8 L825.7 583.2 L821.5 579.3 L817.7 574.9 L813.4 569.9 L809.7 565.4 L806 561 L800.6 553.2 L797.1 548.1 L793.6 543 L790.4 538.6 L787.8 534.5 L785.1 530.2 L781.8 525.2 L778.6 520.2 L775.3 514.6 L772 509 L768.8 503.5 L765.5 498 L761.5 490.5 L759 485.4 L755.9 478.8 L753.6 473.8 L751.9 469.3 L750.1 464.9 L748 459.3 L746.3 454.8 L745.1 449.8 L743.9 444.8 L742.7 439.8 L741.6 434.9 L741.1 429.2 L740.6 423.6 L740.1 418 L739.6 413 L738.3 408.7 L736.7 403.7 L735.1 398.6 L733.5 393.7 L732.2 389.1 L730.8 384 L729.1 375.9 L728.1 371.3 L727.9 367.3 L727.6 362.8 L727.2 357.7 L726.9 352.7 L726.8 347.7 L726.8 342.5 L726.8 337.5 L726.7 332.4 L726.5 326.7 L726.2 321.4 L726 316.5 L725.5 311 L724.3 305.9 L723 300.9 L721.8 296.3 L720.7 292.5 L719.3 289.7 L717.8 287 L716.2 283.8 L714.5 280.5 L712.9 277.7 L711.3 274.9 L709.6 272.2 L707.9 269.2 L705.7 265.3 L703.8 261.9 L701.8 258.6 L699.3 254.4 L696.5 249.6 L693 243.8 L690.2 238.9 L685.6 225.4 L684.4 221 L683.5 214.5 L682.4 210.2 L681.5 205.7 L681.8 200 L681.8 195.3 L681.9 190.6 L682 186 L682.4 181.3 L682.6 177.3 L682.4 172.5 L681.3 167.4 L680.8 161.5 L680.3 155.6 L679.9 149Z" fill="#959E90"/>
<path d="M704.5 292.8 L704.4 295.3 L704.2 297.7 L703.8 300.8 L703.5 305.3 L703.4 310.6 L703.3 315.9 L701.7 321.9 L699.6 325.3 L697.7 330.7 L695.9 336.6 L694 341.8 L692.1 347 L690.4 352.9 L688.7 358.1 L687.8 363.3 L687 368.5 L685.7 370.9 L684.4 371.9 L683.1 376.4 L684.9 397.7 L685.6 405.3 L685.7 410.2 L686.7 415.4 L687.7 420.6 L688.7 425.9 L688.4 427.1 L688.3 430.1 L688.9 435.7 L689.4 441.3 L690 446.9 L690.8 450.6 L691.8 455.7 L692.8 460.8 L693.8 465.9 L694.8 470.5 L697.5 481.2 L698.8 485.7 L700.2 490.3 L701.8 495.6 L707 509 L709.3 514.2 L720.3 532.5 L724.1 537.6 L728 542.8 L731.8 547.9 L735.7 553 L739.2 557.7 L742.8 562.5 L743.5 563.5 L743.5 563.5 L744.3 565.3 L746.8 570.9 L749.3 576.5 L761.4 596.2 L765 600.7 L768.5 605.3 L774.8 612.9 L778.6 617.2 L782.4 621.5 L797.6 635.4 L818.5 647.7 L823.6 649.8 L828.2 651.6 L832.9 653.5 L834 653.9 L834 653.9 L836.7 655.6 L842 658.9 L847.2 662.2 L852.5 665.5 L854.1 666.5 L854.1 666.5 L858.9 670.7 L863.6 674.8 L883.6 688.8 L889.5 691.7 L895.4 694.7 L901.3 697.6 L907.1 700.5 L912.9 703.4 L918.6 706.3 L924.4 709.2 L931 712.5 L935.7 714.9 L942.1 718.3 L948.6 721.8 L954.6 725.1 L960.7 728.3 L970.4 733.3 L976.7 736.2 L981.7 738.6 L986.8 740.9 L991.8 743.2 L996.9 745.5 L1000.9 747.5 L1010 752.7 L1019.1 757.9 L1029.6 763.8 L1058.5 710.9 L1048.1 707.2 L1038 703.6 L1028 700.1 L1019.1 697.3 L1013.9 695.5 L1008.6 693.6 L1003.3 691.8 L998 690 L991.8 687.1 L984.6 683.8 L978.4 680.9 L972.2 677.9 L965.9 674.2 L959.5 670.6 L953.6 667.1 L947.3 663.5 L941.6 660.4 L935.9 657.3 L930.2 654.3 L924.5 651.2 L918.8 647.9 L913.1 644.5 L907.4 641.2 L898.2 635.2 L893 631.6 L887.8 628 L883.8 625.4 L879.4 622.5 L874 619.3 L868.7 616.2 L863.4 613 L858.7 610.2 L855.3 608.3 L851.7 606.3 L847.3 604 L842.8 601.6 L838.3 598.3 L829.8 592.5 L822.8 586.2 L818.5 582.3 L814.7 577.9 L810.3 572.8 L806.6 568.3 L802.9 563.9 L797.1 555.3 L793.6 550.1 L790.2 545 L787.1 540.7 L784.7 536.9 L782.2 532.9 L778.9 528 L775.7 523 L772.4 517.5 L769 512 L765.7 506.5 L762.4 500.9 L757.8 492.6 L755.3 487.6 L752.1 480.5 L749.8 475.4 L748.1 471 L746.3 466.5 L744.2 460.6 L742.6 456.1 L741.4 451.1 L740.2 446 L738.9 441 L737.8 436.3 L737.2 430.7 L736.7 425.1 L736.2 419.5 L735.8 414.6 L734.5 410.6 L732.9 405.6 L731.3 400.6 L729.7 395.5 L728.4 391 L726.9 385.7 L725 376.4 L724.1 371.9 L723.8 368.1 L723.5 363.9 L723.1 358.9 L722.7 353.9 L722.4 348.9 L722.1 343.7 L721.8 338.7 L721.4 333.7 L720.9 328.1 L720.4 322.7 L720 318.4 L719.4 312.9 L717.3 308 L715.3 303.1 L713.4 298.7 L711.7 295.5 L709.8 293.5 L707.9 291.5Z" fill="#90868A"/>
<path d="M706.3 362 L704.7 367.3 L702.7 370.1 L700.8 372.7 L699.2 377.3 L699.8 394.4 L699 401.7 L697.7 407.2 L696.7 413.1 L695.6 419 L694.5 424.9 L692.2 426.2 L692.1 430.3 L692.4 435.9 L692.7 441.6 L693 447.1 L693 451.1 L693.2 456.3 L693.9 461.4 L694.6 466.5 L695.2 471.1 L697.7 481.9 L699 486.4 L700.4 491 L702 496.3 L707.4 509.8 L709.6 514.9 L720.8 533.2 L724.7 538.3 L728.5 543.4 L732.3 548.5 L736.1 553.6 L739.7 558.3 L743.2 563 L743.5 563.5 L743.5 563.5 L744.6 566 L747.1 571.5 L749.6 577.1 L761.8 596.7 L765.3 601.2 L768.9 605.8 L775.2 613.3 L779 617.6 L782.8 622 L798 635.7 L818.9 647.9 L824 649.9 L828.6 651.8 L833.3 653.6 L834 653.9 L834 653.9 L837.1 655.9 L842.4 659.2 L847.6 662.4 L852.9 665.7 L854.1 666.5 L854.4 666.8 L859.1 670.9 L863.9 675.1 L883.9 688.9 L889.8 691.9 L895.7 694.8 L901.6 697.8 L907.4 700.7 L913.1 703.5 L918.9 706.4 L924.7 709.3 L931.2 712.6 L935.9 715 L942.3 718.4 L948.7 721.9 L954.8 725.1 L960.8 728.4 L970.6 733.4 L976.8 736.3 L981.8 738.6 L986.9 740.9 L991.9 743.2 L996.9 745.6 L1000.9 747.5 L1010 752.7 L1019.1 757.9 L1029.6 763.8 L1056.2 715 L1045.8 711.2 L1035.9 707.5 L1025.9 703.8 L1017.5 701.1 L1012.2 699.2 L1007 697.4 L1001.7 695.5 L996.5 693.6 L990.2 690.8 L982.9 687.3 L976.7 684.4 L970.5 681.4 L964.2 677.8 L957.9 674.1 L952.1 670.7 L945.8 667.1 L940.1 664 L934.4 661 L928.7 657.9 L923 654.9 L917.3 651.6 L911.6 648.3 L905.9 645 L895.9 638.4 L890.8 634.8 L885.6 631.1 L881.8 628.6 L877.7 626 L872.4 622.8 L867.1 619.6 L861.8 616.4 L857.1 613.6 L854 611.8 L850.7 610 L846.3 607.7 L841.8 605.4 L837.2 602.2 L827.9 595.9 L820.2 589.2 L816 585.3 L812.2 580.9 L807.7 575.6 L804 571.2 L800.3 566.7 L794 557.4 L790.6 552.2 L787.2 547 L784.3 542.8 L782 539.3 L779.7 535.6 L776.5 530.7 L773.2 525.8 L769.9 520.4 L766.6 514.9 L763.2 509.4 L759.9 503.9 L754.7 494.9 L752.3 489.8 L748.9 482.3 L746.7 477.2 L744.9 472.6 L743.2 468.2 L741 461.9 L739.4 457.5 L738.2 452.5 L737 447.5 L735.8 442.5 L734.7 437.9 L734 432.4 L733.4 426.8 L732.8 421.2 L732.4 416.2 L731.3 412.6 L729.4 407.7 L727.6 402.8 L725.8 397.9 L724.2 393.3 L722.4 387.9 L718.8 377.3 L716.1 372.7 L714 369.4 L711.9 366.4 L709.7 361.6Z" fill="#8B6E80"/>
<path d="M707.2 431.7 L704.6 438 L702.1 444.3 L699.4 448.9 L697 454.7 L696.7 460 L696.4 465.3 L696.1 470.2 L697.5 481.2 L698.8 485.7 L700.2 490.3 L701.8 495.6 L707 509 L709.3 514.2 L720.3 532.5 L724.1 537.6 L728 542.8 L731.8 547.9 L735.7 553 L739.2 557.7 L742.8 562.5 L743.5 563.5 L743.5 563.5 L744.3 565.3 L746.8 570.9 L749.3 576.5 L761.4 596.2 L765 600.7 L768.5 605.3 L774.8 612.9 L778.6 617.2 L782.4 621.5 L797.6 635.4 L818.5 647.7 L823.6 649.8 L828.2 651.6 L832.9 653.5 L834 653.9 L834 653.9 L836.7 655.6 L842 658.9 L847.2 662.2 L852.5 665.5 L854.1 666.5 L854.1 666.5 L858.9 670.7 L863.6 674.8 L883.6 688.8 L889.5 691.7 L895.4 694.7 L901.3 697.6 L907.1 700.5 L912.9 703.4 L918.6 706.3 L924.4 709.2 L931 712.5 L935.7 714.9 L942.1 718.3 L948.6 721.8 L954.6 725.1 L960.7 728.3 L970.4 733.3 L976.7 736.2 L981.7 738.6 L986.8 740.9 L991.8 743.2 L996.9 745.5 L1000.9 747.5 L1010 752.7 L1019.1 757.9 L1029.6 763.8 L1053.6 719.9 L1043.1 715.9 L1033.2 712.1 L1023.3 708.3 L1015.3 705.7 L1010 703.8 L1004.8 701.9 L999.5 700 L994.3 698.1 L988 695.3 L980.4 691.7 L974.2 688.8 L967.9 685.8 L961.6 682.2 L955.2 678.6 L949.5 675.3 L943.1 671.8 L937.4 668.8 L931.7 665.8 L926 662.8 L920.2 659.8 L914.5 656.6 L908.7 653.3 L902.9 650.1 L891.7 642.6 L886.6 639 L881.5 635.3 L878.1 633.2 L874.2 630.7 L868.9 627.5 L863.6 624.4 L858.3 621.2 L853.9 618.7 L851.2 617.2 L848.1 615.5 L843.6 613.3 L839 611.1 L834.4 608 L823.5 600.9 L814.8 593.2 L810.6 589.3 L806.8 584.9 L802 579.3 L798.2 574.8 L794.5 570.4 L787.4 559.6 L784.1 554.4 L780.8 549.1 L778.2 545.4 L775.6 542.8 L772.8 539.9 L768.8 535.5 L764.9 531.1 L760.7 526.2 L756.6 521.3 L752.4 516.4 L748.2 511.6 L740.2 500.4 L736.5 495.9 L731.2 486.8 L727.9 482 L725 477.9 L722.1 473.8 L720.1 465.4 L719.1 460.8 L718.3 455.7 L717.5 450.6 L715.1 445.8 L712.9 441.9 L710.7 436.6 L708.5 431.4Z" fill="#835678"/>
<path d="M722.7 509.5 L730.2 526.6 L732 533.2 L734.1 539.5 L737.9 544.6 L741.6 549.6 L745.2 554.3 L748.7 558.9 L749.4 559.8 L749.8 560.3 L751.2 562.9 L753.9 568.4 L756.6 573.8 L767.8 591.7 L771.4 596.1 L775 600.5 L781.1 607.6 L784.9 611.9 L788.8 616 L802.7 628.6 L806.1 624.1 L794.7 610.8 L792.4 605.3 L790.2 599.6 L786.3 591.8 L784.4 586 L782.4 580.3 L773.2 566.4 L769.9 561.2 L766.6 556.1 L764.3 552.9 L762.8 551.3 L761.2 549.6 L757.5 545 L753.8 540.5 L750 535.5 L746.1 530.5 L740.8 526.6 L735.3 522.8 L723.9 508.9Z" fill="#6A3665"/>
<path d="M794.5 603.4 L798.3 607.6 L810.2 618.6 L826.1 628.6 L831 631.3 L835.5 633.5 L840 635.7 L842 636.9 L843.1 637.7 L846.7 639.8 L852 642.9 L857.3 646.1 L862.7 649.2 L865.4 650.8 L867 651.8 L872 655.6 L877 659.5 L892.9 670.3 L898.7 673.2 L904.6 676.2 L910.5 679.2 L912 676.2 L907.4 670.7 L902.7 665.3 L898.1 659.7 L886.5 648.7 L881.4 644.9 L876.4 641.1 L873.7 639.3 L870.2 637.1 L864.9 633.9 L859.6 630.7 L854.4 627.5 L850.3 625 L847.5 625.1 L844.2 625.1 L839.1 624.4 L834 623.7 L828.6 622.4 L813.2 614.7 L800.7 605.5 L795.5 602.4Z" fill="#6A3665"/>
<path d="M834 653.9 L836.7 655.6 L842 658.9 L847.2 662.2 L852.5 665.5 L854.1 666.5 L854.1 666.5 L858.9 670.7 L863.6 674.8 L883.6 688.8 L889.5 691.7 L895.4 694.7 L901.3 697.6 L907.1 700.5 L912.9 703.4 L918.6 706.3 L924.4 709.2 L931 712.5 L935.7 714.9 L942.1 718.3 L948.6 721.8 L954.6 725.1 L960.7 728.3 L970.4 733.3 L976.7 736.2 L981.7 738.6 L986.8 740.9 L991.8 743.2 L996.9 745.5 L1000.9 747.5 L1010 752.7 L1019.1 757.9 L1029.6 763.8 L1048.6 729 L1037.7 725.4 L1027.5 722 L1017.4 718.6 L1010.1 717 L1004.5 715.7 L999 714.4 L993.5 713.1 L987.9 711.8 L981.3 709.7 L972.5 706.3 L966 703.9 L959.5 701.6 L952.7 698.7 L945.9 695.9 L940.3 693.8 L933.5 691.1 L927.2 689.3 L920.8 687.5 L914.5 685.6 L908.2 683.8 L901.8 681.9 L895.3 680.1 L888.9 678.2 L870.5 667 L865.1 663.6 L859.7 660.2 L858.5 660.4 L856 659.8 L850.3 657.3 L844.6 654.7 L838.9 652.1 L835.6 651Z" fill="#6A3665"/>
<path d="M555.1 -5 L634.2 1.3 L562.6 76.6 L555.1 100.5Z" fill="#fff"/>
<path d="M563.4 -166 L1047.5 53.3M563.4 65.8 L1047.5 285.1M563.4 297.7 L1047.5 517M563.4 529.9 L1047.5 749.2M563.4 762 L1047.5 981.3M563.4 217 L664 1.8M563.4 713.1 L895.8 1.8M563.4 1210.1 L1128 1.8M563.4 1707.5 L1360.5 1.8" stroke="#9a9aa6" stroke-opacity="0.45" stroke-width="0.6" stroke-dasharray="2.2 1" fill="none"/>
<path d="M767.4 2 L764.4 5.5 L761.1 8 L758.1 12.6 L761.1 13.6 L759.1 16.6 L762.6 16.6 L761.1 20.1 L764.9 19.1 L764.1 23.1 L767.4 21.6 L766.9 25.6 L769.9 24.1 L770.2 28.1 L773.2 27.1 L773.7 30.7 L776.2 31.7 L781.2 30.2 L786.2 27.6 L793.8 26.4 L801.3 23.9 L802.6 20.1 L805.1 23.9 L811.4 21.4 L816.4 17.6 L818.9 13.8 L821.4 17.6 L822.7 27.6 L823.4 35.2 L826.4 37.2 L823.4 39.7 L820.2 50.3 L817.6 65.3 L815.9 72.9 L815.1 75.4 L812.6 87.9 L810.1 94.2 L811.4 100.5 L810.1 113.1 L806.3 125.6 L802.6 135.7 L798.8 145.7 L791.3 158.3 L787.5 165.8 L781.2 173.4 L774.9 180.9 L768.6 189.7 L764.9 198.5 L760.6 208 L764.1 206.5 L766.1 201 L769.9 201 L772.4 208.5 L774.9 221.1 L778.7 231.2 L779.9 246.2 L782.5 261.3 L778.7 276.4 L774.9 291.5 L773.7 306.5 L776.2 324.1 L781.2 339.2 L787.5 351.8 L793.8 361.8 L801.3 371.9 L806.3 376.9 L810.1 375.6 L813.9 379.4 L818.4 376.9 L819.4 371.9 L817.6 356.8 L816.4 346.7 L821.4 331.7 L828.9 314.1 L831.5 299 L828.9 286.4 L823.9 273.9 L816.4 261.3 L811.4 251.3 L803.8 245 L797.5 236.2 L796.3 226.1 L800.1 211.1 L801.3 198.5 L798.8 191 L792.5 187.2 L793.8 178.4 L798.8 168.3 L806.3 160.8 L816.4 150.8 L826.4 143.2 L834 133.2 L840.3 123.1 L841.5 118.1 L849 116.8 L857.8 120.6 L859.1 125.6 L852.8 135.7 L856.6 139.4 L866.6 144.5 L874.2 150.8 L876.7 160.8 L879.7 165.8 L881.7 173.4 L883 185.9 L885.5 191 L884.7 197.2 L888 201 L891.8 207.3 L896.8 213.6 L904.3 221.1 L906.8 224.9 L899.3 231.2 L894.3 241.2 L890.5 250 L896.8 250 L906.8 247.5 L916.9 243.7 L921.9 239.9 L923.9 232.4 L928.2 244.2 L931.5 233.7 L935.7 237.4 L939 229.9 L944 232.4 L948.3 228.6 L952.1 234.9 L967.1 234.9 L982.2 233.7 L992.3 231.2 L1002.3 223.6 L1009.8 216.1 L1012.4 208.5 L1016.1 198.5 L1018.6 185.9 L1021.2 170.9 L1023.7 155.8 L1022.4 140.7 L1018.6 128.1 L1013.6 115.6 L1007.3 105.5 L1003.6 93 L999.8 85.4 L998.5 72.9 L996 62.8 L996 55.3 L1002.3 47.7 L1012.4 42.7 L1027.4 38.9M680.1 227.8 L682.7 225.2 L686.5 225.2 L691.1 229.7 L695.6 235.6 L700.8 240.1 L707.2 243.3 L715 247.2 L721.4 249.8 L724.7 254.3 L727.3 260.8 L729.2 268.5 L733.1 277.6 L736.3 285.3 L739.5 293.1 L743.4 300.8 L747.3 307.3 L749.2 313.8 L749.9 317.6 L752.5 325.4 L755.1 333.2 L757 338.3 L758.3 342.2 L758.9 337.7 L761.5 335.7 L764.8 339 L767.3 343.5 L768 352.6 L771.9 355.1 L774.5 360.3 L776.4 366.8 L778.3 373.2 L780.9 379.7 L784.8 384.9 L787.4 389.4 L780.9 390 L775.1 389.4 L782.2 391.3 L788.7 390.7 L792.6 391.3 L795.1 393.9 L797.1 399.1 L796.4 404.3 L791.3 406.2 L787.4 409.4 L785.4 414.6 L786.1 420 L791.3 425.3 L798.8 430.3 L796.3 445.4 L797.5 455.4 L791.3 460.5 L801.3 461.7 L810.1 470.5 L812.6 480.6 L813.9 489.3 L806.3 495.6 L801.3 503.2 L796.3 515.7 L788.7 528.3 L781.2 532.1 L776.2 525.8 L771.2 520.8 L762.4 523.8 L759.8 515.7 L752.3 500.7 L744.8 483.1 L738.5 468 L731 447.9 L724.7 430.3 L724 420 L724 409.4 L722.7 399.1 L721.4 390 L720.2 381 L718.9 373.2 L717.6 366.8 L715 363.5 L712.4 359 L711.8 351.3 L712.4 343.5 L713.9 335.7 L714.3 328 L713 321.5 L709.8 316.4 L705.9 311.2 L702.1 307.3 L701.4 303.4 L703.3 296.3 L702.1 290.5 L700.8 284 L698.2 276.3 L694.3 270.5 L689.8 263.3 L686.5 255.6 L683.3 247.8 L680.7 240.1 L679.4 233.6 L680.1 227.8 L680.1 227.8M764.9 545.6 L769.9 547.7 L776.9 544.9 L781.1 539.2 L787.5 536.4 L795.2 542 L803.7 547.7 L806.5 546.3 L816.4 554.7 L826.3 561.8 L830.5 564.6 L829.8 571.6 L833.3 577.3 L841.8 582.9 L846 584.3 L855.9 585 L867.1 592.8 L871.4 590 L877 592.8 L886.9 601.2 L895.3 611.1 L906.6 626.6 L912.3 631.6 L920.7 635.1 L929.2 639.3 L934.8 643.5 L936.2 647.8 L932.7 651.3 L930.6 656.2 L931.3 661.9 L932 664.7 L929.2 663.3 L927.8 659 L919.3 653.4 L906.6 645 L892.5 637.9 L877 630.9 L867.1 625.2 L858.7 619.6 L847.4 609.7 L839 602.7 L824.9 592.8 L819.2 593.5 L812.2 587.1 L806.5 584.3 L800.9 578.7 L793.8 574.5 L786.1 570.2 L784 563.2 L778.3 559 L771.3 554.7 L765.6 549.1 L764.9 545.6M910.1 616 L915.1 614.6 L926.4 618.9 L934.8 622.4 L936.2 625.2 L929.2 625.9 L920.7 625.2 L913.7 621.7 L909.4 618.9 L910.1 616M934.1 652.7 L939 651.3 L947.5 655.5 L955.3 661.9 L956 666.1 L950.3 668.2 L941.9 667.5 L936.2 661.9 L934.1 656.2 L934.1 652.7M962.3 671 L968.7 668.9 L974.3 671 L977.1 676 L974.3 681.6 L968.7 683 L964.4 678.8 L962.3 671M972.9 686.5 L977.1 683.7 L985.6 681.6 L992.6 680.9 L994.7 677.4 L999.7 678.8 L1002.5 683 L1008.1 687.2 L1012.4 684.4 L1018 688.7 L1025.1 691.5 L1025.1 699.9 L1013.8 695.7 L1005.3 695 L999.7 691.5 L994 692.9 L988.4 690.1 L979.9 691.5 L974.3 690.1 L972.9 686.5M1012.4 718.3 L1018 714.7 L1025.1 715.4 L1025.1 722.5M843.2 494.1 L847.4 488.5 L853 487 L858.7 491.3 L859.4 496.9 L854.5 502.6 L848.8 501.1 L844.6 498.3 L843.2 494.1M806.3 455.4 L813.9 450.4 L823.9 450.4 L826.4 455.4 L822.7 465.5 L825.2 475.5 L832.7 480.6 L826.4 483.1 L818.9 481.8 L815.1 470.5 L812.6 460.5 L806.3 455.4M1027.4 409.7 L1004.8 421.5 L982.2 420.3 L967.1 417.7 L965.9 424 L962.1 424 L954.6 434.1 L950.8 440.9 L942 434.1 L934.5 426.5 L928.2 417.7 L921.9 415.2 L911.9 420.3 L904.3 430.3 L899.3 445.4 L901.8 455.4 L898 465.5 L898 475.5 L905.2 480 L903.8 488.5 L900.3 496.9 L898.2 506.8 L896 515.2 L902.4 517.4 L908 520.9 L915.1 523.7 L922.1 526.5 L925.7 530.8 L923.5 536.4 L922.1 542 L929.2 540.6 L937.6 544.1 L944.7 544.9 L950.3 539.9 L953.1 544.9 L957.4 549.1 L963 553.3 L971.5 557.5 L975.7 561.8 L974.3 570.2 L972.2 577.3 L985.6 577.3 L999.7 576.6 L1008.1 573 L1011 567.4 L1016.6 560.4 L1027.9 550.5M1001.8 585.7 L1005.3 577.3 L1009.5 571.6 L1013.8 573 L1011 580.1 L1006.7 585 L1001.8 585.7M685.7 90.5 L690.8 80.4 L697 72.9 L702.1 62.8 L708.3 55.3 L713.4 53.3 L712.1 60.3 L704.6 67.8 L700.8 75.4 L694.5 82.9 L688.2 89.2 L685.7 90.5M677.9 103 L676.4 104.6 L674.7 105 L673.3 104.3 L672.9 102.5 L673.5 100.5 L675 99 L676.7 98.5 L678 99.2 L678.5 101 L677.9 103M669.6 133.2 L669.5 133.8 L669 134.1 L668.3 134.1 L667.8 133.8 L667.6 133.2 L667.8 132.6 L668.3 132.2 L669 132.2 L669.5 132.6 L669.6 133.2M667.9 153.3 L667.7 154 L667.2 154.5 L666.6 154.5 L666.1 154 L665.9 153.3 L666.1 152.5 L666.6 152.1 L667.2 152.1 L667.7 152.5 L667.9 153.3M672 160.1 L672 160.7 L671.5 161.4 L670.7 161.9 L669.9 161.9 L669.3 161.6 L669.3 160.9 L669.8 160.2 L670.6 159.7 L671.4 159.7 L672 160.1M670.9 182.6 L669.8 186 L668.3 187.9 L667 187.7 L666.2 185.3 L666.4 181.8 L667.5 178.4 L669 176.4 L670.3 176.6 L671.1 179 L670.9 182.6M687.7 219.1 L687.5 219.8 L686.9 220.3 L686.1 220.3 L685.5 219.8 L685.2 219.1 L685.5 218.4 L686.1 217.9 L686.9 217.9 L687.5 218.4 L687.7 219.1M796 120.6 L795.8 121.8 L795.3 122.5 L794.7 122.5 L794.2 121.8 L794 120.6 L794.2 119.4 L794.7 118.7 L795.3 118.7 L795.8 119.4 L796 120.6M804.5 118.8 L803.5 120.3 L802.2 121 L801 120.6 L800.4 119.2 L800.7 117.4 L801.6 115.9 L803 115.2 L804.1 115.6 L804.7 117 L804.5 118.8M792.5 130.7 L792.3 131.4 L791.6 131.8 L790.9 131.8 L790.2 131.4 L790 130.7 L790.2 129.9 L790.9 129.5 L791.6 129.5 L792.3 129.9 L792.5 130.7M801.1 135.7 L800.6 137.5 L799.5 138.5 L798.1 138.5 L797 137.5 L796.5 135.7 L797 133.9 L798.1 132.8 L799.5 132.8 L800.6 133.9 L801.1 135.7M804.1 129.4 L803.8 130.3 L803 130.8 L802.1 130.8 L801.3 130.3 L801.1 129.4 L801.3 128.5 L802.1 128 L803 128 L803.8 128.5 L804.1 129.4M786 149.5 L785.8 150.7 L785.3 151.4 L784.7 151.4 L784.2 150.7 L784 149.5 L784.2 148.3 L784.7 147.6 L785.3 147.6 L785.8 148.3 L786 149.5M793.5 148.2 L793.3 148.8 L792.8 149.2 L792.2 149.2 L791.7 148.8 L791.5 148.2 L791.7 147.7 L792.2 147.3 L792.8 147.3 L793.3 147.7 L793.5 148.2M779.6 165.1 L779.4 165.8 L778.4 166.5 L777.1 167 L775.9 167 L775.3 166.6 L775.5 165.9 L776.5 165.2 L777.8 164.7 L779 164.6 L779.6 165.1M809.1 186.6 L809.3 187.5 L808.8 188.5 L807.9 189.3 L806.8 189.6 L806 189.2 L805.9 188.4 L806.3 187.4 L807.3 186.6 L808.4 186.3 L809.1 186.6M798 231.3 L797.4 235.1 L796.3 237.4 L795.2 237.3 L794.5 234.9 L794.5 231 L795.2 227.2 L796.3 224.9 L797.4 225 L798 227.5 L798 231.3M778.2 247.5 L777.8 249 L776.8 249.9 L775.6 249.9 L774.6 249 L774.2 247.5 L774.6 246 L775.6 245.1 L776.8 245.1 L777.8 246 L778.2 247.5M777.9 271.4 L777.6 272.4 L776.7 273 L775.6 273 L774.8 272.4 L774.4 271.4 L774.8 270.3 L775.6 269.7 L776.7 269.7 L777.6 270.3 L777.9 271.4M773.7 219.1 L773.5 220 L773.1 220.5 L772.7 220.5 L772.3 220 L772.2 219.1 L772.3 218.2 L772.7 217.7 L773.1 217.7 L773.5 218.2 L773.7 219.1M875.4 162.1 L875.2 163.2 L874.6 164 L873.8 164 L873.2 163.2 L872.9 162.1 L873.2 160.9 L873.8 160.1 L874.6 160.1 L875.2 160.9 L875.4 162.1M874.9 172.1 L874.8 172.6 L874.4 172.8 L873.9 172.8 L873.6 172.6 L873.4 172.1 L873.6 171.7 L873.9 171.4 L874.4 171.4 L874.8 171.7 L874.9 172.1M890.7 210.1 L890.1 212 L889.1 213.2 L888.2 213 L887.7 211.6 L887.8 209.5 L888.4 207.6 L889.4 206.4 L890.3 206.6 L890.8 208 L890.7 210.1M926.9 262.1 L926.7 262.5 L926.1 262.8 L925.3 262.8 L924.7 262.5 L924.4 262.1 L924.7 261.6 L925.3 261.3 L926.1 261.3 L926.7 261.6 L926.9 262.1M828.9 354.8 L828.7 355.5 L828.1 356 L827.3 356 L826.7 355.5 L826.4 354.8 L826.7 354 L827.3 353.6 L828.1 353.6 L828.7 354 L828.9 354.8M860.9 364.8 L860.6 365.9 L860 366.5 L859.2 366.5 L858.6 365.9 L858.3 364.8 L858.6 363.8 L859.2 363.2 L860 363.2 L860.6 363.8 L860.9 364.8M871.7 365.6 L871.5 366.3 L871.1 366.8 L870.7 366.8 L870.3 366.3 L870.2 365.6 L870.3 364.8 L870.7 364.4 L871.1 364.4 L871.5 364.8 L871.7 365.6M918.7 368.6 L917.1 370.9 L914.7 371.8 L912.6 371 L911.4 368.8 L911.6 366 L913.2 363.8 L915.5 362.9 L917.7 363.7 L918.9 365.9 L918.7 368.6M920.2 391.5 L919.9 392 L919.3 392.4 L918.5 392.4 L917.9 392 L917.6 391.5 L917.9 390.9 L918.5 390.5 L919.3 390.5 L919.9 390.9 L920.2 391.5M704.3 428.8 L704.8 434.4 L704.5 438 L703.6 438.1 L702.4 434.8 L701.3 429.3 L700.8 423.7 L701.1 420.1 L702 420 L703.2 423.3 L704.3 428.8M721.5 492.9 L721.7 494.4 L721 495.7 L719.9 496.1 L718.6 495.6 L717.8 494.3 L717.6 492.8 L718.2 491.6 L719.4 491.2 L720.7 491.7 L721.5 492.9M740.8 620.8 L740.5 621.5 L739.7 621.9 L738.8 621.9 L738 621.5 L737.7 620.8 L738 620 L738.8 619.6 L739.7 619.6 L740.5 620 L740.8 620.8M882.7 478.5 L882.4 479.4 L881.7 480 L880.7 480 L880 479.4 L879.7 478.5 L880 477.7 L880.7 477.1 L881.7 477.1 L882.4 477.7 L882.7 478.5M904.6 472.8 L904.5 475 L902.9 477 L900.5 477.9 L898 477.4 L896.5 475.7 L896.6 473.5 L898.2 471.6 L900.6 470.7 L903.1 471.1 L904.6 472.8M843.5 491.1 L843.4 491.5 L843 491.8 L842.5 491.8 L842.2 491.5 L842 491.1 L842.2 490.7 L842.5 490.4 L843 490.4 L843.4 490.7 L843.5 491.1M941.8 631.3 L941.6 632 L941.1 632.5 L940.4 632.5 L939.9 632 L939.7 631.3 L939.9 630.6 L940.4 630.1 L941.1 630.1 L941.6 630.6 L941.8 631.3M965.5 636.1 L964.7 636.8 L963.1 637 L961.3 636.5 L960 635.6 L959.7 634.5 L960.5 633.8 L962.1 633.7 L963.9 634.2 L965.2 635.1 L965.5 636.1M794.6 410.1 L793.4 411.3 L791.5 411.6 L789.4 410.8 L788.1 409.4 L788 407.7 L789.1 406.6 L791.1 406.3 L793.1 407.1 L794.4 408.5 L794.6 410.1M809.3 417.7 L808.8 419.2 L807.3 420.1 L805.4 420.1 L803.9 419.2 L803.3 417.7 L803.9 416.3 L805.4 415.3 L807.3 415.3 L808.8 416.3 L809.3 417.7M815.8 413.4 L814.5 415.8 L813 417 L811.8 416.5 L811.4 414.7 L812 412 L813.3 409.7 L814.8 408.5 L815.9 408.9 L816.3 410.8 L815.8 413.4M790.2 375 L791.1 378.2 L790.6 380.7 L788.9 381.4 L786.6 380.3 L784.8 377.6 L783.9 374.4 L784.4 371.9 L786.1 371.1 L788.3 372.3 L790.2 375M794 387.6 L793.7 388.5 L793 389 L792 389 L791.3 388.5 L791 387.6 L791.3 386.7 L792 386.2 L793 386.2 L793.7 386.7 L794 387.6M798.3 381.3 L798.1 381.7 L797.8 382 L797.3 382 L796.9 381.7 L796.8 381.3 L796.9 380.9 L797.3 380.6 L797.8 380.6 L798.1 380.9 L798.3 381.3M805.8 388.8 L805.7 389.6 L805.3 390 L804.8 390 L804.5 389.6 L804.3 388.8 L804.5 388.1 L804.8 387.6 L805.3 387.6 L805.7 388.1 L805.8 388.8M814.6 386.3 L814.2 387.5 L813.2 388.2 L812 388.2 L811 387.5 L810.6 386.3 L811 385.2 L812 384.4 L813.2 384.4 L814.2 385.2 L814.6 386.3M821.5 392.9 L820.3 393.9 L818.5 393.9 L816.9 393 L816 391.4 L816.3 389.8 L817.5 388.9 L819.3 388.8 L820.9 389.8 L821.7 391.3 L821.5 392.9M813.6 376.3 L812.9 377.8 L811.2 378.7 L809 378.7 L807.3 377.8 L806.6 376.3 L807.3 374.8 L809 373.9 L811.2 373.9 L812.9 374.8 L813.6 376.3M917.4 370 L916.8 371.2 L915.3 371.9 L913.4 371.9 L911.9 371.2 L911.4 370 L911.9 368.8 L913.4 368.1 L915.3 368.1 L916.8 368.8 L917.4 370M920.2 392.1 L919.9 392.7 L919.3 393.1 L918.5 393.1 L917.9 392.7 L917.6 392.1 L917.9 391.5 L918.5 391.2 L919.3 391.2 L919.9 391.5 L920.2 392.1M767.1 543.4 L766.9 544 L766.4 544.3 L765.8 544.3 L765.3 544 L765.1 543.4 L765.3 542.8 L765.8 542.4 L766.4 542.4 L766.9 542.8 L767.1 543.4M825.4 486.8 L825.1 487.6 L824.4 488 L823.5 488 L822.7 487.6 L822.4 486.8 L822.7 486.1 L823.5 485.6 L824.4 485.6 L825.1 486.1 L825.4 486.8M667.1 280.8 L670.4 279.1 L674.3 284 L677.5 290.5 L678.8 295 L676.8 295.9 L673 290.5 L669.1 284.7 L667.1 280.8M688.5 303.4 L691.7 305.4 L692.4 309.2 L690.4 307.3 L688.5 303.4M681.4 318.9 L687.2 318.3 L689.1 322.8 L691.1 329.3 L693.3 334.5 L691.1 339.6 L687.8 342.2 L685.2 337 L684 329.3 L682.4 324.1 L681.4 318.9M692.4 357.1 L694.3 360.3 L693 364.8 L689.8 368.1 L687.8 367.4 L691.1 362.9 L692.7 359.7 L692.4 357.1M688.5 380.3 L691.7 378.4 L694.9 379.1 L696.2 384.9 L695.6 393.9 L694.9 398.4 L691.1 397.8 L689.1 392.6 L687.6 386.2 L688.5 380.3M697.5 406.2 L700.1 407.5 L700.8 413.3 L700.1 417.2 L698.2 414.6 L696.6 409.4 L697.5 406.2M767.3 346.1 L769.9 344.5 L773.8 345.4 L775.5 348.7 L773.8 352.3 L769.9 353.2 L767.3 350.6 L767.3 346.1M777.3 359.7 L780.3 358.4 L783.5 364.2 L783.8 368.1 L780.9 367.4 L778.1 363.2 L777.3 359.7M784.5 374.3 L787.4 373.2 L790.6 378.4 L791 381.6 L788 381 L785.4 377.4 L784.5 374.3M777.7 368.1 L779.6 367.8 L782.2 374.5 L781.6 376.5 L779 373.2 L777.7 368.1M808.1 414.6 L812.6 406.9 L814.5 413.3 L818.4 417.2 L813.9 418.5 L808.1 414.6M816.5 388.1 L820.3 387.5 L822.5 390.7 L821 394.6 L818.4 392.6 L815.8 391.3 L816.5 388.1" stroke="#000" stroke-width="1.4" fill="none" stroke-linejoin="round"/>
<path d="M758.6 2.5C755.7 4.8 747.3 11.9 741 16.3C734.7 20.7 728 24.9 720.9 28.9C713.8 32.9 704.2 36 698.3 40.2C692.4 44.4 690.3 48.2 685.7 54C681.1 59.9 675.7 67.6 670.7 75.4C665.6 83.1 659.8 92.1 655.6 100.5C651.4 108.9 647.8 118.1 645.5 125.6C643.2 133.2 643 138.2 641.8 145.7C640.5 153.3 639.5 162.5 638 170.9C636.5 179.2 634.2 188.4 633 196C631.7 203.5 630.9 209.4 630.5 216.1C630 222.8 629.6 229.5 630.5 236.2C631.3 242.9 633 250 635.5 256.3C638 262.6 642.2 268.4 645.5 273.9C648.9 279.3 652.4 283.1 655.6 288.9C658.7 294.8 662.3 302.3 664.4 309C666.5 315.7 667.1 322 668.1 329.1C669.2 336.3 669.8 344.6 670.7 351.8C671.5 358.9 672.7 365.9 673.2 371.9C673.6 377.8 672.3 382 673.2 387.6C674 393.1 676.1 398.5 678.2 405.2C680.3 411.9 683.6 420.3 685.7 427.8C687.8 435.3 689.1 442.4 690.8 450.4C692.4 458.4 693.7 467.2 695.8 475.5C697.9 483.9 700.4 492.7 703.3 500.7C706.2 508.6 709.2 516.1 713.4 523.3C717.6 530.4 723.4 536.7 728.4 543.4C733.5 550.1 739.3 556.3 743.5 563.5C747.7 570.6 749 578.5 753.6 586.1C758.2 593.6 765.3 601.6 771.2 608.7C777 615.8 782.5 622.9 788.7 628.8C795 634.7 801.3 639.7 808.8 643.9C816.4 648.1 826.4 650.2 834 653.9C841.5 657.7 847.4 661.5 854.1 666.5C860.8 671.5 865.8 678.6 874.2 684.1C882.5 689.5 894.3 694.1 904.3 699.1C914.4 704.2 924 708.8 934.5 714.2C944.9 719.7 956.2 726.4 967.1 731.8C978 737.3 990 741.9 999.8 746.9C1009.6 751.9 1014.9 755.7 1026.2 762C1037.5 768.2 1060.7 780.8 1067.6 784.6" stroke="#9467bd" stroke-width="5" fill="none" stroke-linejoin="round"/>
<rect x="679.2" y="58.8" width="14" height="14" transform="rotate(35 686.2 65.8)" fill="none" stroke="#9467bd" stroke-width="3.6"/>
<rect x="629.7" y="207.1" width="14" height="14" transform="rotate(0 636.7 214.1)" fill="none" stroke="#9467bd" stroke-width="3.6"/>
<rect x="671.7" y="369.9" width="14" height="14" transform="rotate(-10 678.7 376.9)" fill="none" stroke="#9467bd" stroke-width="3.6"/>
<rect x="731.5" y="538.9" width="14" height="14" transform="rotate(35 738.5 545.9)" fill="none" stroke="#9467bd" stroke-width="3.6"/>
<rect x="842.5" y="647.4" width="14" height="14" transform="rotate(35 849.5 654.4)" fill="none" stroke="#9467bd" stroke-width="3.6"/>
<rect x="971.4" y="727.8" width="14" height="14" transform="rotate(25 978.4 734.8)" fill="none" stroke="#9467bd" stroke-width="3.6"/>
<path d="M763.6 50.3C759.8 52.3 748.1 58 741 62.8C733.9 67.6 726.8 73.3 720.9 79.1C715 85 710 91.5 705.8 98C701.6 104.5 698.7 111 695.8 118.1C692.8 125.2 690.3 132.7 688.2 140.7C686.1 148.7 684.4 157.5 683.2 165.8C682 174.2 681.5 183 681.2 191C680.9 198.9 680.7 206.4 681.2 213.6C681.8 220.7 682.7 227 684.5 233.7C686.3 240.4 688.9 247.1 692 253.8C695.2 260.5 700 267.2 703.3 273.9C706.7 280.6 709.8 286.9 712.1 294C714.4 301.1 716.1 309 717.1 316.6C718.2 324.1 718 331.7 718.4 339.2C718.8 346.7 718.8 353.3 719.6 361.8C720.5 370.3 721.7 382 723.4 390.1C725.1 398.2 727.6 403.1 729.7 410.2C731.8 417.3 733.7 425.3 736 432.8C738.3 440.4 741 448.3 743.5 455.4C746 462.5 749 469.7 751.1 475.5C753.1 481.4 755.2 488.1 756.1 490.6" stroke="#472d7b" stroke-width="3.6" fill="none"/>
<path d="M773.7 525.8C775.3 528.7 779.5 537.1 783.7 543.4C787.9 549.6 793.4 556.8 798.8 563.5C804.2 570.2 810.1 577.3 816.4 583.6C822.7 589.8 829.4 595.7 836.5 601.2C843.6 606.6 851.6 611.2 859.1 616.2C866.6 621.3 874.2 626.3 881.7 631.3C889.2 636.3 896.4 641.4 904.3 646.4C912.3 651.4 921.1 656.4 929.4 661.5C937.8 666.5 946.2 672.3 954.6 676.5C962.9 680.7 971.3 683.4 979.7 686.6C988.1 689.7 997.1 692.8 1004.8 695.4C1012.6 698 1022.6 701 1026.2 702.2" stroke="#472d7b" stroke-width="3.6" fill="none"/>
<path d="M696.3 189.7C696.4 192.8 695.9 202.5 697 208.5C698.2 214.6 700.6 219.8 703.3 226.1C706 232.4 710.2 239.9 713.4 246.2C716.5 252.5 720.7 260.9 722.2 263.8" stroke="#33638d" stroke-width="3.6" fill="none"/>
<path d="M727.9 275.1C729.1 277.4 732.8 283.3 734.7 288.9C736.7 294.6 738.8 301.9 739.7 309C740.7 316.2 740.3 324.5 740.3 331.7C740.3 338.8 739.6 345.1 739.7 351.8C739.9 358.5 740 365.5 741 371.9C742.1 378.2 744.1 383.7 746 390.1C747.9 396.5 751.1 403.1 752.3 410.2C753.6 417.3 752.5 425.7 753.6 432.8C754.6 439.9 756.5 446.6 758.6 452.9C760.7 459.2 763.2 464.2 766.1 470.5C769.1 476.8 772.4 483.5 776.2 490.6C779.9 497.7 784.6 506.1 788.7 513.2C792.9 520.3 796.7 526.6 801.3 533.3C805.9 540 811.4 547.1 816.4 553.4C821.4 559.7 826 565.6 831.5 571C836.9 576.4 843.2 581.9 849 586.1C854.9 590.3 863.7 594.5 866.6 596.1" stroke="#33638d" stroke-width="3.6" fill="none"/>
<path d="M909.3 622.5C913.1 624.8 924.4 631.9 932 636.3C939.5 640.7 946.6 644.3 954.6 648.9C962.5 653.5 971.3 659.6 979.7 664C988.1 668.4 997.1 672.3 1004.8 675.3C1012.6 678.3 1022.6 680.9 1026.2 682.1" stroke="#33638d" stroke-width="3.6" fill="none"/>
<path d="M774.2 417.2C773.8 419.8 771.3 427.3 771.7 432.8C772 438.3 774.2 445 776.2 450.4C778.2 455.8 781.2 460.9 783.7 465.5C786.2 470.1 789.2 473 791.3 478C793.4 483.1 793.8 489.8 796.3 495.6C798.8 501.5 802.6 507.4 806.3 513.2C810.1 519.1 814.3 525.4 818.9 530.8C823.5 536.2 828.5 540.9 834 545.9C839.4 550.9 845.7 556.8 851.6 561C857.4 565.1 862.4 567.2 869.1 571C875.8 574.8 884.2 579.4 891.8 583.6C899.3 587.8 906.8 591.9 914.4 596.1C921.9 600.3 929.9 604.1 937 608.7C944.1 613.3 950.4 618.7 957.1 623.8C963.8 628.8 970.5 634.2 977.2 638.8C983.9 643.5 989.1 646.9 997.3 651.4C1005.5 655.9 1021.4 663.6 1026.2 666" stroke="#1f968b" stroke-width="3.6" fill="none"/>
<path d="M836.5 525.8C839 528.7 846.1 537.9 851.6 543.4C857 548.8 862.9 553.4 869.1 558.4C875.4 563.5 882.1 568.9 889.2 573.5C896.4 578.1 904.3 581.9 911.9 586.1C919.4 590.3 926.1 594.7 934.5 598.6C942.8 602.6 957.5 608.1 962.1 609.9" stroke="#bddf26" stroke-width="3.6" fill="none"/>
<path d="M968.4 612.5C970.7 613.9 978.7 618.5 982.2 621.3C985.8 624 988.5 627.5 989.7 628.8" stroke="#bddf26" stroke-width="3.6" fill="none"/>
<text transform="translate(700.8,166.3) rotate(-82)" font-size="25" text-anchor="middle" dy="9" fill="#33638d">200</text>
<text transform="translate(768.1,510.2) rotate(58)" font-size="25" text-anchor="middle" dy="9" fill="#472d7b">90</text>
<text transform="translate(888.7,607.4) rotate(36)" font-size="25" text-anchor="middle" dy="9" fill="#33638d">200</text>
<text transform="translate(826.9,505.2) rotate(58)" font-size="25" text-anchor="middle" dy="9" fill="#bddf26">600</text>
<text transform="translate(1004.8,641.9) rotate(38)" font-size="25" text-anchor="middle" dy="9" fill="#bddf26">600</text>
</g>
<rect x="563.4" y="1.8" width="461.0" height="763.2" fill="none" stroke="#000" stroke-width="1.1"/>
<rect x="569.4" y="6.7" width="27" height="36.5" rx="4" fill="#fff" stroke="#000" stroke-width="1"/>
<text x="582.9" y="34.2" font-size="26" text-anchor="middle">b</text>
<rect x="902.8" y="6.7" width="105" height="36.5" rx="4" fill="#fff" stroke="#000" stroke-width="1"/>
<text x="955.2" y="34.2" font-size="25.5" text-anchor="middle" fill="#bcbd22">Model2</text>
<clipPath id="cp_c"><rect x="1056.4" y="1.8" width="461.0" height="763.2"/></clipPath>
<g clip-path="url(#cp_c)">
<rect x="1056.4" y="1.8" width="461.0" height="763.2" fill="#DCF4C2"/>
<path d="M1045.1 0C965.5 53.4 1043.2 267 1045.1 320.4C1047 373.7 1052.2 321.8 1056.4 320.4C1060.6 318.9 1064.1 316 1070.2 311.6C1076.3 307.2 1085.7 299.8 1092.8 294C1099.9 288.1 1106.6 281.4 1112.9 276.4C1119.2 271.4 1125.9 268 1130.5 263.8C1135.1 259.6 1138.7 255.9 1140.6 251.3C1142.4 246.6 1141.8 242.9 1141.8 236.2C1141.8 229.5 1141 219.4 1140.6 211.1C1140.1 202.7 1139.3 194.3 1139.3 185.9C1139.3 177.6 1139.5 168.3 1140.6 160.8C1141.6 153.3 1143.1 147.4 1145.6 140.7C1148.1 134 1151.4 127.3 1155.6 120.6C1159.8 113.9 1165.7 106.8 1170.7 100.5C1175.7 94.2 1179.9 89.2 1185.8 82.9C1191.6 76.6 1198.3 69.1 1205.9 62.8C1213.4 56.5 1224.7 48.8 1231 45.2C1237.3 41.7 1242.3 40.8 1243.6 41.5C1244.8 42.1 1242.3 45 1238.5 49C1234.8 53 1226.4 59.7 1221 65.3C1215.5 71 1210.1 77.1 1205.9 82.9C1201.7 88.8 1198.3 94.6 1195.8 100.5C1193.3 106.4 1191.6 111.4 1190.8 118.1C1190 124.8 1190 133.6 1190.8 140.7C1191.6 147.8 1193.7 153.3 1195.8 160.8C1197.9 168.3 1197.5 180.9 1203.4 185.9C1209.2 191 1222.2 189.5 1231 191C1239.8 192.4 1247.8 194.3 1256.1 194.7C1264.5 195.1 1272.9 194.1 1281.3 193.5C1289.6 192.8 1298 190.1 1306.4 191C1314.8 191.8 1323.1 195.6 1331.5 198.5C1339.9 201.4 1348.3 205.2 1356.6 208.5C1365 211.9 1373.4 215.2 1381.8 218.6C1390.1 221.9 1398.5 225.7 1406.9 228.6C1415.3 231.6 1423.6 234.3 1432 236.2C1440.4 238.1 1448.8 239.1 1457.1 239.9C1465.5 240.8 1471.4 241 1482.3 241.2C1493.1 241.4 1515.8 281.4 1522.5 241.2C1529.2 201 1602 40.2 1522.5 0C1442.9 -40.2 1124.6 -53.4 1045.1 0Z" fill="#FEFEDA"/>
<path d="M1246.1 397.6C1247.5 394.5 1250.3 393.5 1256.1 393.9C1262 394.3 1272.9 397.4 1281.3 400.2C1289.6 402.9 1298 407.3 1306.4 410.2C1314.8 413.1 1323.1 415.2 1331.5 417.7C1339.9 420.3 1348.3 421.5 1356.6 425.3C1365 429 1373.4 434.9 1381.8 440.4C1390.1 445.8 1399.3 451.7 1406.9 457.9C1414.4 464.2 1421.1 470.9 1427 478C1432.8 485.2 1438.7 493.1 1442.1 500.7C1445.4 508.2 1446.7 515.7 1447.1 523.3C1447.5 530.8 1446.2 538.8 1444.6 545.9C1442.9 553 1440.4 560.1 1437 566C1433.7 571.8 1428.7 577.7 1424.5 581.1C1420.3 584.4 1416.9 586.5 1411.9 586.1C1406.9 585.7 1400.2 581.5 1394.3 578.5C1388.5 575.6 1383 572.3 1376.7 568.5C1370.5 564.7 1363.3 560.1 1356.6 555.9C1349.9 551.7 1343.2 547.6 1336.5 543.4C1329.8 539.2 1322.3 535 1316.4 530.8C1310.6 526.6 1306 522.4 1301.4 518.2C1296.8 514.1 1292.6 510.7 1288.8 505.7C1285 500.7 1282.1 494 1278.7 488.1C1275.4 482.2 1272 476.8 1268.7 470.5C1265.3 464.2 1261.6 457.1 1258.6 450.4C1255.7 443.7 1253 436.6 1251.1 430.3C1249.2 424 1248.2 418.2 1247.3 412.7C1246.5 407.3 1244.6 400.8 1246.1 397.6Z" fill="#FEFEDA"/>
<path d="M1401.9 621.3C1404.4 621 1415.3 622.9 1422 623.8C1428.7 624.6 1435.4 625 1442.1 626.3C1448.8 627.5 1455.5 628 1462.2 631.3C1468.9 634.7 1476 641.8 1482.3 646.4C1488.5 651 1493.1 656 1499.8 658.9C1506.5 661.9 1518.7 660.4 1522.5 664C1526.2 667.5 1529.2 680.1 1522.5 680.3C1515.8 680.5 1493.1 669.8 1482.3 665.2C1471.4 660.6 1465.5 657.1 1457.1 652.7C1448.8 648.3 1440.4 643.5 1432 638.8C1423.6 634.2 1411.9 628 1406.9 625C1401.9 622.1 1399.3 621.5 1401.9 621.3Z" fill="#FEFEDA"/>
<path d="M1457.1 609.9C1458 608.3 1467.2 609.3 1472.2 611.2C1477.2 613.1 1483.5 617.9 1487.3 621.3C1491.1 624.6 1495.7 629.6 1494.8 631.3C1494 633 1486.9 633 1482.3 631.3C1477.7 629.6 1471.4 624.8 1467.2 621.3C1463 617.7 1456.3 611.6 1457.1 609.9Z" fill="#FEFEDA"/>
<path d="M1243.6 80.4C1245.2 77.3 1251.9 69.9 1256.1 65.3C1260.3 60.7 1264.5 57 1268.7 52.8C1272.9 48.6 1278.3 43.1 1281.3 40.2C1284.2 37.3 1284.6 35.6 1286.3 35.2C1288 34.8 1292.6 34.8 1291.3 37.7C1290.1 40.6 1282.9 47.7 1278.7 52.8C1274.6 57.8 1269.9 63.2 1266.2 67.8C1262.4 72.4 1259.5 77.7 1256.1 80.4C1252.8 83.1 1248.2 84.2 1246.1 84.2C1244 84.2 1241.9 83.5 1243.6 80.4Z" fill="#DCF4C2"/>
<path d="M1301.4 15.1C1303.7 15.3 1308.9 11.3 1313.9 8.8C1318.9 6.3 1332.8 1.5 1331.5 0C1330.3 -1.5 1311.6 -1.3 1306.4 0C1301.1 1.3 1300.9 5 1300.1 7.5C1299.3 10.1 1299.1 14.9 1301.4 15.1Z" fill="#DCF4C2"/>
<path d="M1182 110.6C1180.1 111.4 1174.3 123.1 1170.7 130.7C1167.1 138.2 1163.2 147.4 1160.7 155.8C1158.1 164.2 1156.5 172.5 1155.6 180.9C1154.8 189.3 1155.2 197.7 1155.6 206C1156 214.4 1156.9 223.6 1158.1 231.2C1159.4 238.7 1161.9 244.6 1163.2 251.3C1164.4 258 1166.1 265.5 1165.7 271.4C1165.3 277.2 1162.7 281.4 1160.7 286.4C1158.6 291.5 1153.1 295.2 1153.1 301.5C1153.1 307.8 1158.6 316.6 1160.7 324.1C1162.7 331.7 1169 340.5 1165.7 346.7C1162.3 353 1147.7 356.8 1140.6 361.8C1133.4 366.8 1127.6 370.5 1123 376.9C1118.4 383.2 1115.2 392.8 1112.9 400C1110.6 407.2 1108.7 411.4 1109.1 420.3C1109.6 429.1 1112.3 442.9 1115.4 452.9C1118.6 463 1123.4 470.9 1128 480.6C1132.6 490.2 1138.9 500.7 1143.1 510.7C1147.3 520.8 1149.3 531.2 1153.1 540.9C1156.9 550.5 1160.7 560.1 1165.7 568.5C1170.7 576.9 1177 584 1183.3 591.1C1189.5 598.2 1197.1 605.3 1203.4 611.2C1209.6 617.1 1216.6 622.3 1221 626.3C1225.4 630.3 1230.6 637.6 1229.7 635.1C1228.9 632.6 1219.9 618.5 1215.9 611.2C1212 603.9 1210.1 598.6 1205.9 591.1C1201.7 583.6 1195.4 574.4 1190.8 566C1186.2 557.6 1181.6 549.2 1178.2 540.9C1174.9 532.5 1172.6 524.5 1170.7 515.7C1168.8 506.9 1168.2 497.7 1166.9 488.1C1165.7 478.5 1164.2 467.6 1163.2 457.9C1162.1 448.3 1161.3 439.5 1160.7 430.3C1160 421.1 1159 408.5 1159.4 402.7C1159.8 396.8 1160.4 390.9 1163.2 395.1C1165.9 399.3 1172.8 418.6 1175.7 427.8C1178.7 437 1178.2 458.9 1180.8 450.4C1183.3 441.9 1189.5 401.7 1190.8 376.9C1192.1 352.1 1189.5 326.6 1188.3 301.5C1187 276.4 1184.5 251.3 1183.3 226.1C1182 201 1181 167.5 1180.8 150.8C1180.5 134 1181.8 132.3 1182 125.6C1182.2 118.9 1183.9 109.7 1182 110.6Z" fill="#B1D7A6"/>
<path d="M1288.8 684.1C1290.5 684.1 1299.3 691.2 1306.4 696.6C1313.5 702.1 1323.1 710.9 1331.5 716.7C1339.9 722.6 1348.3 727.2 1356.6 731.8C1365 736.4 1376.9 739.3 1381.8 744.4C1386.6 749.4 1387.6 759.9 1385.5 762C1383.4 764.1 1376.1 760.7 1369.2 756.9C1362.3 753.2 1352.4 745.6 1344.1 739.3C1335.7 733.1 1326.9 726.4 1318.9 719.2C1311 712.1 1301.4 702.5 1296.3 696.6C1291.3 690.8 1287.1 684.1 1288.8 684.1Z" fill="#B1D7A6"/>
<path d="M1288.8 669 L1293.8 668.5 L1356.6 720.5 L1432 765.7 L1418.2 765.7 L1351.6 724.3Z" fill="#FEFEDA"/>
<path d="M1300.1 674 L1303.9 673.5 L1381.8 730.6 L1449.6 765.7 L1442.1 765.7 L1379.2 733.1Z" fill="#FEFEDA"/>
<path d="M1167.4 124.9 L1160.9 136.1 L1156.8 141.3 L1153.6 146.5 L1152.1 153.6 L1150.8 159.2 L1149.6 164.8 L1148.6 169.4 L1147.8 173.5 L1147 176.5 L1145.9 181 L1144.9 185.5 L1143.9 190 L1143.7 194.6 L1143.2 202.7 L1143.7 207 L1144.3 211.2 L1144.6 221.7 L1145.6 226.1 L1154.9 256.3 L1159.9 263.8 L1163.3 268.3 L1166.6 272.7 L1168.4 276.3 L1166.5 279.2 L1164.3 281.7 L1163.1 286.6 L1161.9 290.6 L1160.8 294.5 L1159.6 298.5 L1158.4 302.5 L1159.1 306.4 L1159 308.4 L1158.2 308.8 L1157.4 309 L1157.4 309 L1158 312.5 L1159 317.6 L1159.9 322.7 L1161 328.2 L1161.1 329.1 L1161.7 333.9 L1162.3 339.5 L1162.8 344.5 L1163.4 349.4 L1164.1 355.3 L1164.7 360.3 L1165.3 365.2 L1166 370.2 L1166.2 371.9 L1166.2 371.9 L1166.2 376.4 L1169.7 400.1 L1172 407.5 L1173.5 412 L1175.1 417 L1176.8 421.9 L1178.4 426.9 L1178.7 427.8 L1179.3 430.6 L1180.6 436 L1181.8 441.5 L1183 446.9 L1183.8 450.6 L1184.8 455.7 L1185.8 460.8 L1186.8 465.9 L1187.8 470.5 L1190.5 481.2 L1191.8 485.7 L1193.2 490.3 L1194.8 495.6 L1200 509 L1202.3 514.2 L1213.3 532.5 L1217.1 537.6 L1221 542.8 L1224.8 547.9 L1228.7 553 L1232.2 557.7 L1235.8 562.5 L1236.5 563.5 L1236.5 563.5 L1237.3 565.3 L1239.8 570.9 L1242.3 576.5 L1254.4 596.2 L1258 600.7 L1261.5 605.3 L1267.8 612.9 L1271.6 617.2 L1275.4 621.5 L1290.6 635.4 L1311.5 647.7 L1316.6 649.8 L1321.2 651.6 L1325.9 653.5 L1327 653.9 L1327 653.9 L1329.7 655.6 L1335 658.9 L1340.2 662.2 L1345.5 665.5 L1347.1 666.5 L1347.1 666.5 L1351.9 670.7 L1356.6 674.8 L1376.6 688.8 L1382.5 691.7 L1388.4 694.7 L1394.3 697.6 L1400.1 700.5 L1405.9 703.4 L1411.6 706.3 L1417.4 709.2 L1424 712.5 L1428.7 714.9 L1435.1 718.3 L1441.6 721.8 L1447.6 725.1 L1453.7 728.3 L1463.4 733.3 L1469.7 736.2 L1474.7 738.6 L1479.8 740.9 L1484.8 743.2 L1489.9 745.5 L1493.9 747.5 L1503 752.7 L1512.1 757.9 L1522.6 763.8 L1562.9 689.9 L1552.6 687.1 L1542.1 684.2 L1531.7 681.3 L1520.9 678.3 L1515.6 676.6 L1510.2 674.9 L1504.9 673.3 L1499.5 671.6 L1493.2 668.8 L1487.2 666.1 L1480.9 663.3 L1474.6 660.5 L1468.3 656.7 L1462 652.9 L1455.6 649.1 L1449.4 645.3 L1443.7 642.1 L1438.1 639 L1432.4 635.8 L1426.8 632.7 L1421.2 629.2 L1415.5 625.7 L1409.9 622.2 L1405.1 619.4 L1399.7 616 L1394.3 612.5 L1388.7 608.9 L1383.1 605.3 L1377.8 602.2 L1372.4 599 L1367.1 595.9 L1361.6 592.7 L1356.9 590 L1352.3 587.4 L1348 584.8 L1343.6 582.3 L1339.2 578.4 L1335.8 575.1 L1332.1 572 L1327.6 568.2 L1323.9 563.8 L1320.2 559.6 L1316.5 555.2 L1312.7 550.9 L1309.4 546.7 L1305.6 541.7 L1301.7 536.7 L1297.8 531.5 L1294.4 526.2 L1291.2 520.9 L1288 515.9 L1284.9 510.8 L1281.8 505.1 L1278.7 499.5 L1275.6 493.8 L1272.5 488.1 L1270.5 483.9 L1268 478.8 L1265.7 474.3 L1263.1 469.3 L1261.2 464.9 L1259.3 460.5 L1257.4 456.5 L1255.5 452.1 L1254.2 447.1 L1252.9 442.1 L1251.7 437.1 L1250.4 432 L1250.1 426.3 L1249.9 420.6 L1249.6 415 L1249.3 409.1 L1247.7 403.9 L1246.1 398.8 L1244.5 393.8 L1243 388.8 L1241.7 384.2 L1240.5 379.8 L1239.4 376.4 L1238.1 371.9 L1237.7 366.5 L1237.4 361.3 L1237.1 356.3 L1236.8 351.2 L1237 346.2 L1237.2 341.2 L1237.3 336.2 L1237.5 331.2 L1237.4 325.5 L1237.1 319.9 L1236.8 314 L1236.5 308.3 L1235 303.4 L1233.6 298.4 L1232.1 293.3 L1230.6 288.1 L1228.6 284.6 L1226.7 281.1 L1224.8 277.6 L1222.9 274.3 L1221.2 271.6 L1219.5 268.9 L1217.7 266.1 L1216 263.4 L1213.6 259.2 L1211.1 254.9 L1208.6 250.6 L1206.4 246.2 L1203.9 241.2 L1201.3 236.2 L1198.8 231.2 L1196.3 226.1 L1194.7 221.7 L1193.2 217.3 L1191.6 212.9 L1190 208.5 L1189.8 203.8 L1189.7 199.1 L1188.7 194.3 L1187.7 189.4 L1187.2 184.5 L1186.6 179.8 L1186 175 L1185.5 170.2 L1185.7 164.4 L1185.9 158.6 L1186.1 152.6 L1182.3 146.1 L1178.2 139.3 L1175.7 128.2Z" fill="#B1D7A6"/>
<path d="M1169.7 143.7 L1167.3 149.1 L1165.1 155.5 L1163.2 161 L1161.2 166.5 L1159.7 171 L1158.2 175.2 L1156.8 178.4 L1155.1 182.9 L1153.5 187.2 L1151.9 191.6 L1151.8 196.2 L1151.3 203.7 L1152 208 L1152.7 212.3 L1153.2 221.7 L1154.3 226.1 L1162.4 252 L1166.9 259.1 L1170.1 263.7 L1173.3 268.3 L1175.2 272 L1174 275.1 L1172.6 277.9 L1172.1 282.7 L1171.2 286.5 L1170.2 290.4 L1169.3 294.3 L1168.3 298.2 L1168.9 302.1 L1168.9 304.4 L1168.2 305.3 L1167.4 306.2 L1166.6 307.1 L1166.3 311 L1166.2 316.3 L1166.2 321.5 L1166.1 327.2 L1165.2 328.6 L1164.7 333.6 L1164.7 339.3 L1164.6 344.3 L1164.6 349.3 L1164.7 355.3 L1164.7 360.3 L1165.3 365.2 L1166 370.2 L1166.2 371.9 L1166.2 371.9 L1166.2 376.4 L1169.7 400.1 L1172 407.5 L1173.5 412 L1175.1 417 L1176.8 421.9 L1178.4 426.9 L1178.7 427.8 L1179.3 430.6 L1180.6 436 L1181.8 441.5 L1183 446.9 L1183.8 450.6 L1184.8 455.7 L1185.8 460.8 L1186.8 465.9 L1187.8 470.5 L1190.5 481.2 L1191.8 485.7 L1193.2 490.3 L1194.8 495.6 L1200 509 L1202.3 514.2 L1213.3 532.5 L1217.1 537.6 L1221 542.8 L1224.8 547.9 L1228.7 553 L1232.2 557.7 L1235.8 562.5 L1236.5 563.5 L1236.5 563.5 L1237.3 565.3 L1239.8 570.9 L1242.3 576.5 L1254.4 596.2 L1258 600.7 L1261.5 605.3 L1267.8 612.9 L1271.6 617.2 L1275.4 621.5 L1290.6 635.4 L1311.5 647.7 L1316.6 649.8 L1321.2 651.6 L1325.9 653.5 L1327 653.9 L1327 653.9 L1329.7 655.6 L1335 658.9 L1340.2 662.2 L1345.5 665.5 L1347.1 666.5 L1347.1 666.5 L1351.9 670.7 L1356.6 674.8 L1376.6 688.8 L1382.5 691.7 L1388.4 694.7 L1394.3 697.6 L1400.1 700.5 L1405.9 703.4 L1411.6 706.3 L1417.4 709.2 L1424 712.5 L1428.7 714.9 L1435.1 718.3 L1441.6 721.8 L1447.6 725.1 L1453.7 728.3 L1463.4 733.3 L1469.7 736.2 L1474.7 738.6 L1479.8 740.9 L1484.8 743.2 L1489.9 745.5 L1493.9 747.5 L1503 752.7 L1512.1 757.9 L1522.6 763.8 L1556.5 701.8 L1546.1 698.5 L1535.9 695.2 L1525.6 691.9 L1516 689 L1510.7 687.2 L1505.4 685.5 L1500.1 683.7 L1494.8 681.9 L1488.5 679.1 L1481.8 676 L1475.6 673.1 L1469.3 670.3 L1463 666.5 L1456.7 662.8 L1450.6 659.2 L1444.3 655.4 L1438.6 652.3 L1433 649.2 L1427.3 646.1 L1421.6 643 L1416 639.5 L1410.3 636.1 L1404.6 632.7 L1397.4 628.1 L1392.2 624.6 L1386.9 621.1 L1382.1 618 L1377.2 614.8 L1371.9 611.6 L1366.5 608.5 L1361.2 605.3 L1356.1 602.3 L1352.2 600.1 L1348.2 597.8 L1343.8 595.3 L1339.3 592.9 L1334.9 589.3 L1328.7 584.6 L1323.2 579.7 L1318.9 575.9 L1315.1 571.5 L1311.1 566.8 L1307.3 562.4 L1303.6 557.9 L1298.9 551.4 L1295.3 546.3 L1291.7 541.2 L1288.2 536.5 L1285.4 532 L1282.5 527.4 L1279.4 522.4 L1276.2 517.4 L1273 511.8 L1269.8 506.2 L1266.6 500.6 L1263.3 495 L1260 488.6 L1257.5 483.5 L1254.7 477.6 L1252.3 472.6 L1250.5 468.1 L1248.6 463.7 L1246.7 458.7 L1244.9 454.3 L1243.7 449.2 L1242.4 444.2 L1241.2 439.2 L1240 434.3 L1239.6 428.6 L1239.2 423 L1238.8 417.4 L1238.5 412 L1237 407.4 L1235.5 402.4 L1233.9 397.4 L1232.3 392.3 L1231 387.8 L1229.7 382.9 L1228.2 376.4 L1227.1 371.9 L1226.8 367.3 L1226.5 362.7 L1226.2 357.6 L1225.8 352.6 L1225.9 347.6 L1225.9 342.5 L1226 337.5 L1226.1 332.5 L1225.9 326.8 L1225.7 321.2 L1225.6 316.1 L1225.4 310.4 L1224.2 305.4 L1223 300.4 L1221.8 295.5 L1220.7 291 L1219.1 287.9 L1217.6 284.7 L1216 281.5 L1214.4 278 L1212.5 275.4 L1210.6 272.7 L1208.7 270.1 L1206.8 267.5 L1204.3 263.4 L1202 259.8 L1199.7 256.3 L1197.4 252.2 L1194.8 247.2 L1192.2 242.3 L1189.3 236.6 L1185.4 226.1 L1184.1 221.7 L1182.9 216 L1181.6 211.7 L1180.3 207.3 L1180.4 201.9 L1180.4 197.3 L1179.5 192.4 L1178.6 187.6 L1178.1 182.7 L1177.5 178.3 L1177 173.6 L1176.5 168.8 L1176.6 163 L1176.7 157.3 L1176.9 150.9 L1172 144.1Z" fill="#9DBB9A"/>
<path d="M1165.8 181.2 L1164.8 185.7 L1164 190.2 L1163.2 194.7 L1162.3 199.2 L1161.8 205.8 L1162.7 210.1 L1163.5 214.4 L1164.3 222.6 L1165.5 227.1 L1172.2 247.6 L1176.2 254.2 L1179.1 258.9 L1181.9 263.6 L1184 266.9 L1185.5 269.4 L1185.9 272.4 L1186.7 276.9 L1186.9 280.2 L1187.1 283.6 L1187.3 286.9 L1187.6 290.4 L1188 294.4 L1187.9 297 L1187.5 299 L1186.9 301 L1186.2 303.3 L1185.9 308.1 L1185.5 313.4 L1185 318.9 L1184.2 324.7 L1182.7 326.8 L1181.6 332.6 L1180.6 338.2 L1179.5 343.4 L1178.4 348.5 L1177.4 354.4 L1176.5 359.5 L1175.6 364.7 L1175.1 369.8 L1174.5 371.3 L1173.8 372.5 L1173.2 377 L1176 398.9 L1177.5 406.3 L1178.3 411.1 L1179.2 416.3 L1180.2 421.5 L1181.1 426.7 L1180.5 427.3 L1180.5 431 L1181 436.6 L1181.9 442.1 L1183.1 447.5 L1183.9 451.2 L1184.9 456.3 L1185.9 461.3 L1186.9 466.3 L1187.9 470.9 L1190.6 481.6 L1192 486.2 L1193.4 490.8 L1195 496.1 L1200.3 509.5 L1202.5 514.7 L1213.7 533 L1217.5 538.1 L1221.3 543.2 L1225.2 548.3 L1229 553.4 L1232.5 558.1 L1236.1 562.9 L1236.5 563.5 L1236.5 563.5 L1237.5 565.8 L1240 571.4 L1242.5 576.9 L1254.7 596.5 L1258.2 601.1 L1261.8 605.6 L1268.1 613.2 L1271.9 617.5 L1275.6 621.8 L1290.9 635.6 L1311.8 647.8 L1316.9 649.9 L1321.5 651.7 L1326.1 653.6 L1327 653.9 L1327 653.9 L1330 655.8 L1335.2 659.1 L1340.5 662.4 L1345.7 665.7 L1347.1 666.5 L1347.3 666.7 L1352 670.8 L1356.8 675 L1376.8 688.9 L1382.7 691.8 L1388.6 694.8 L1394.5 697.7 L1400.3 700.6 L1406 703.5 L1411.8 706.4 L1417.6 709.3 L1424.1 712.5 L1428.8 714.9 L1435.2 718.4 L1441.7 721.9 L1447.7 725.1 L1453.7 728.4 L1463.5 733.4 L1469.8 736.2 L1474.8 738.6 L1479.8 740.9 L1484.9 743.2 L1489.9 745.6 L1493.9 747.5 L1503 752.7 L1512.1 757.9 L1522.6 763.8 L1553.8 706.7 L1543.4 703.1 L1533.3 699.7 L1523.2 696.3 L1514 693.5 L1508.6 691.7 L1503.4 689.9 L1498.1 688.1 L1492.8 686.3 L1486.5 683.5 L1479.6 680.3 L1473.4 677.4 L1467.2 674.5 L1460.9 670.8 L1454.6 667.1 L1448.6 663.6 L1442.3 660 L1436.6 656.9 L1430.9 653.8 L1425.2 650.7 L1419.5 647.6 L1413.9 644.3 L1408.2 640.9 L1402.5 637.6 L1394.2 632.2 L1389 628.7 L1383.7 625.1 L1379.3 622.2 L1374.7 619.3 L1369.4 616.1 L1364.1 612.9 L1358.8 609.8 L1353.9 606.9 L1350.2 604.8 L1346.5 602.7 L1342.1 600.3 L1337.6 598 L1333.1 594.6 L1325.7 589.3 L1319.3 583.7 L1315 579.8 L1311.2 575.5 L1306.9 570.5 L1303.2 566.1 L1299.5 561.7 L1294.1 554 L1290.6 548.9 L1287.1 543.8 L1283.8 539.2 L1281.2 535.2 L1278.6 531 L1275.4 526 L1272.1 521.1 L1268.9 515.6 L1265.6 510 L1262.3 504.5 L1259 498.9 L1254.9 491.4 L1252.4 486.4 L1249.4 479.8 L1247 474.7 L1245.2 470.2 L1243.4 465.8 L1241.3 460.2 L1239.6 455.8 L1238.3 450.9 L1237.1 445.8 L1235.9 440.8 L1234.7 436 L1234.2 430.5 L1233.7 424.9 L1233.2 419.3 L1232.8 414.1 L1231.6 409.9 L1230 404.9 L1228.4 399.9 L1226.8 394.9 L1225.5 390.3 L1224 385.2 L1222.3 377 L1221.3 372.5 L1220.9 368.3 L1220.6 364.1 L1220.2 359.1 L1219.8 354.1 L1219.7 349.1 L1219.6 343.9 L1219.5 338.9 L1219.4 333.9 L1219.2 328.4 L1218.9 322.8 L1218.7 318.2 L1218.3 312.6 L1217.2 307.5 L1215.9 302.5 L1214.5 297.7 L1213.3 293.7 L1211.8 290.9 L1210.2 288.3 L1208.6 285.4 L1206.7 282.1 L1205 279.2 L1203.4 276.5 L1201.8 273.7 L1200.2 271 L1198 267 L1196.1 263.8 L1194.5 260.4 L1192.4 256.6 L1189.9 251.7 L1187.2 246.8 L1184 240.8 L1179.2 227.1 L1177.9 222.6 L1176.9 216.1 L1175.8 211.8 L1174.7 207.4 L1174.1 201.6 L1172.6 196.6 L1171.2 191.7 L1169.9 186.7 L1168.7 181.8Z" fill="#959E90"/>
<path d="M1203.8 316.7 L1203 322 L1202 326 L1201.1 331.8 L1200.2 337.2 L1199.3 342.3 L1198.4 347.9 L1196.5 353.1 L1194.7 358.4 L1193.1 363.6 L1191.5 368.8 L1189.5 370.7 L1187.6 373.4 L1187.8 391.7 L1187 396.8 L1187.3 404 L1187.2 409.2 L1187.2 414.7 L1187.2 420.3 L1187 425.1 L1185.4 426.2 L1184.8 431.1 L1185 436.8 L1185.2 442.4 L1185.4 448 L1185.3 451.9 L1185.4 457.1 L1186.1 462.2 L1187.1 467.1 L1188 471.7 L1190.8 482.4 L1192.2 486.9 L1193.6 491.7 L1198.4 505.2 L1200.6 510.3 L1202.9 515.4 L1214.2 533.8 L1218.1 538.9 L1221.9 544 L1225.7 549.1 L1229.5 554.1 L1233 558.8 L1236.5 563.5 L1236.5 563.5 L1236.5 563.5 L1237.9 566.5 L1240.3 572 L1242.8 577.6 L1255.1 597 L1258.6 601.6 L1262.2 606.1 L1268.5 613.7 L1272.3 618 L1276 622.3 L1291.4 636 L1312.3 648.1 L1317.3 650.1 L1321.9 651.9 L1326.6 653.8 L1327 653.9 L1327 653.9 L1330.4 656.1 L1335.7 659.4 L1340.9 662.6 L1346.1 665.9 L1347.1 666.5 L1347.7 667 L1352.4 671.1 L1357.1 675.3 L1377.2 689.1 L1383.1 692 L1388.9 695 L1394.8 697.9 L1400.6 700.8 L1406.3 703.6 L1412.1 706.5 L1417.9 709.4 L1424.4 712.7 L1429.1 715.1 L1435.5 718.5 L1441.9 722 L1447.9 725.2 L1453.9 728.5 L1463.7 733.4 L1469.9 736.3 L1474.9 738.6 L1479.9 740.9 L1484.9 743.3 L1490.1 745.6 L1494 747.6 L1503.1 752.8 L1512.1 757.9 L1522.6 763.8 L1551.5 710.9 L1541.1 707.2 L1531.1 703.6 L1521.1 700.1 L1512.3 697.4 L1507 695.5 L1501.7 693.7 L1496.5 691.9 L1491.2 690 L1485 687.2 L1477.9 683.9 L1471.7 681 L1465.5 678.1 L1459.2 674.5 L1452.9 670.8 L1447 667.4 L1440.7 663.7 L1435 660.6 L1429.3 657.6 L1423.7 654.5 L1418 651.5 L1412.3 648.2 L1406.6 644.9 L1400.9 641.6 L1391.8 635.6 L1386.6 632 L1381.4 628.4 L1377.2 625.7 L1373 622.9 L1367.7 619.8 L1362.4 616.6 L1357.1 613.5 L1352.2 610.6 L1348.8 608.6 L1345.4 606.7 L1341 604.4 L1336.5 602 L1332 598.9 L1323.5 593.1 L1316.5 586.9 L1312.2 583 L1308.4 578.7 L1304 573.6 L1300.3 569.2 L1296.6 564.8 L1290.7 556.3 L1287.3 551.2 L1283.8 546 L1280.7 541.5 L1278.2 537.8 L1275.8 534 L1272.6 529.1 L1269.4 524.2 L1266.1 518.8 L1262.8 513.3 L1259.5 507.8 L1256.2 502.3 L1251.4 493.9 L1248.9 488.9 L1246.5 483.9 L1243.4 476.7 L1241.5 472.1 L1239.7 467.7 L1237.6 461.8 L1236 457.4 L1234.7 452.5 L1233.5 447.5 L1232.3 442.5 L1231.1 437.8 L1230.4 432.4 L1229.8 426.8 L1229.3 421.3 L1228.8 415.9 L1227.9 412 L1226.4 407.2 L1224.8 402.2 L1223.2 397.2 L1221.8 392.5 L1220.2 387.3 L1218.7 382.8 L1216.8 373.4 L1216.1 369.5 L1215.6 365.8 L1215 360.9 L1214.3 355.9 L1213.9 351 L1213.5 346 L1212.6 340.9 L1211.7 336 L1210.7 330.7 L1209.6 325.2 L1208.6 321.1 L1207.4 316.1Z" fill="#90868A"/>
<path d="M1205.7 399.2 L1204.8 404.9 L1204.1 410.7 L1203.4 416.5 L1202.2 420.9 L1198.7 424.1 L1195.6 430.6 L1192.6 437 L1189.7 443.4 L1189.1 449 L1188.6 453.1 L1188.4 458.5 L1188.1 463.8 L1188.4 468.7 L1190.5 479.6 L1191.4 484.3 L1192.8 488.8 L1194.3 493.9 L1199.4 507.5 L1201.6 512.6 L1212.3 531.2 L1216 536.2 L1219.9 541.3 L1223.8 546.5 L1227.6 551.6 L1231.3 556.5 L1234.8 561.2 L1236.5 563.5 L1236.5 563.5 L1236.7 563.9 L1239.2 569.6 L1241.7 575.2 L1253.5 595 L1257.2 599.7 L1260.7 604.3 L1267 611.9 L1270.8 616.3 L1274.6 620.7 L1289.7 634.7 L1294.3 638.2 L1315.6 649.4 L1320.4 651.3 L1325.1 653.2 L1327 653.9 L1327 653.9 L1328.9 655.1 L1334.2 658.4 L1339.4 661.7 L1344.7 665 L1347.1 666.5 L1347.1 666.5 L1351.2 670.1 L1356 674.3 L1375.9 688.4 L1381.8 691.4 L1387.7 694.4 L1393.7 697.3 L1399.5 700.2 L1405.3 703.1 L1411.1 706 L1416.9 709 L1423.4 712.2 L1428.2 714.6 L1434.7 718.1 L1441.1 721.6 L1447.3 724.9 L1453.3 728.1 L1463.1 733.2 L1469.4 736.1 L1474.6 738.5 L1479.6 740.8 L1484.7 743.1 L1489.8 745.5 L1493.7 747.4 L1502.9 752.7 L1512.1 757.9 L1522.6 763.8 L1549.2 715 L1538.8 711.1 L1528.7 707.4 L1518.7 703.7 L1510.3 701.1 L1505 699.2 L1499.7 697.3 L1494.4 695.4 L1489.1 693.4 L1482.8 690.6 L1475.5 687.1 L1469.2 684.1 L1463 681.1 L1456.6 677.4 L1450.2 673.7 L1444.4 670.3 L1438 666.7 L1432.3 663.6 L1426.6 660.6 L1420.9 657.5 L1415.2 654.4 L1409.4 651.1 L1403.6 647.7 L1397.9 644.4 L1388 637.7 L1382.8 634.1 L1377.8 630.5 L1374 628.1 L1369.6 625.3 L1364.2 622.1 L1358.9 618.9 L1353.5 615.7 L1349.3 613.2 L1346.2 611.4 L1342.6 609.4 L1338.1 607.1 L1333.5 604.6 L1324 598.6 L1319.6 594.9 L1312 588 L1307.8 583.9 L1304 579.5 L1299.5 574.2 L1295.8 569.7 L1292 565.1 L1285.8 555.6 L1282.4 550.4 L1279 545.2 L1276.4 541.5 L1274.2 537.9 L1271.5 533.7 L1268.2 528.8 L1264.9 523.7 L1261.5 518.1 L1258.2 512.6 L1254.8 507.1 L1251.6 501.7 L1246.6 492.6 L1244.2 487.6 L1240.9 480 L1238.8 475 L1237.1 470.6 L1235.3 466.1 L1233.2 459.8 L1231.8 455.1 L1230.6 450 L1229.4 445 L1228.3 440.3 L1227.2 435.1 L1226.3 429.5 L1225.4 424 L1224.5 418.4 L1223.3 414.6 L1219.9 411 L1216.2 406.6 L1212.6 402.3 L1209 398.1Z" fill="#8B6E80"/>
<path d="M1203.2 447.8 L1199.1 453.9 L1195 460 L1191.7 465.8 L1190.8 470.8 L1191.6 481.8 L1192.1 486.6 L1193.5 491.2 L1198.2 504.8 L1200.4 509.9 L1202.7 515 L1213.9 533.4 L1217.8 538.5 L1221.6 543.6 L1225.4 548.7 L1229.2 553.7 L1232.8 558.5 L1236.3 563.2 L1236.5 563.5 L1236.5 563.5 L1237.7 566.1 L1240.2 571.7 L1242.7 577.3 L1254.9 596.8 L1258.4 601.3 L1262 605.9 L1268.3 613.4 L1272.1 617.7 L1275.8 622 L1291.1 635.8 L1312 647.9 L1317.1 650 L1321.7 651.8 L1326.4 653.7 L1327 653.9 L1327 653.9 L1330.2 656 L1335.5 659.2 L1340.7 662.5 L1345.9 665.8 L1347.1 666.5 L1347.5 666.8 L1352.2 671 L1356.9 675.1 L1377 689 L1382.9 691.9 L1388.8 694.9 L1394.7 697.8 L1400.4 700.7 L1406.2 703.6 L1411.9 706.5 L1417.7 709.4 L1424.2 712.6 L1428.9 715 L1435.4 718.5 L1441.8 721.9 L1447.8 725.2 L1453.8 728.4 L1463.6 733.4 L1469.8 736.3 L1474.8 738.6 L1479.9 740.9 L1484.9 743.2 L1490 745.6 L1493.9 747.5 L1503 752.7 L1512.1 757.9 L1522.6 763.8 L1546.6 719.9 L1536.1 715.9 L1526.2 712.1 L1516.4 708.3 L1508.4 705.7 L1503.1 703.8 L1497.8 701.9 L1492.6 700.1 L1487.4 698.2 L1481.2 695.4 L1473.6 691.8 L1467.4 688.9 L1461.2 685.9 L1454.8 682.3 L1448.5 678.7 L1442.8 675.5 L1436.4 672 L1430.7 669 L1425 666 L1419.3 663 L1413.6 660 L1407.8 656.8 L1402.1 653.5 L1396.3 650.3 L1385.1 642.9 L1380 639.2 L1374.9 635.6 L1371.4 633.3 L1367.7 631 L1362.4 627.8 L1357.1 624.7 L1351.7 621.5 L1347.2 618.8 L1344.5 617.3 L1341.5 615.7 L1337 613.5 L1332.5 611.3 L1327.9 608.4 L1317 601.4 L1308.3 593.7 L1304.1 589.7 L1300.2 585.4 L1295.4 579.8 L1291.7 575.4 L1288 571 L1280.9 560.3 L1277.6 555.1 L1274.3 549.9 L1271.5 545.8 L1269 543.2 L1266.4 540.6 L1262.4 536.2 L1258.5 531.8 L1254.4 527 L1250.3 522.1 L1246.1 517.2 L1241.9 512.4 L1233.7 501.3 L1229.9 496.8 L1226.1 492.4 L1220.9 483 L1217.8 478.9 L1215.6 474.5 L1213.7 466.2 L1212.9 461.6 L1210.5 456.9 L1207.5 452.2 L1204.5 447.6Z" fill="#835678"/>
<path d="M1215.7 509.5 L1223.2 526.6 L1225 533.2 L1227.1 539.5 L1230.9 544.6 L1234.6 549.6 L1238.2 554.3 L1241.7 558.9 L1242.4 559.8 L1242.8 560.3 L1244.2 562.9 L1246.9 568.4 L1249.6 573.8 L1260.8 591.7 L1264.4 596.1 L1268 600.5 L1274.1 607.6 L1277.9 611.9 L1281.8 616 L1295.7 628.6 L1299.1 624.1 L1287.7 610.8 L1285.4 605.3 L1283.2 599.6 L1279.3 591.8 L1277.4 586 L1275.4 580.3 L1266.2 566.4 L1262.9 561.2 L1259.6 556.1 L1257.3 552.9 L1255.8 551.3 L1254.2 549.6 L1250.5 545 L1246.8 540.5 L1243 535.5 L1239.1 530.5 L1233.8 526.6 L1228.3 522.8 L1216.9 508.9Z" fill="#6A3665"/>
<path d="M1287.5 603.4 L1291.3 607.6 L1303.2 618.6 L1319.1 628.6 L1324 631.3 L1328.5 633.5 L1333 635.7 L1335 636.9 L1336.1 637.7 L1339.7 639.8 L1345 642.9 L1350.3 646.1 L1355.7 649.2 L1358.4 650.8 L1360 651.8 L1365 655.6 L1370 659.5 L1385.9 670.3 L1391.7 673.2 L1397.6 676.2 L1403.5 679.2 L1405 676.2 L1400.4 670.7 L1395.7 665.3 L1391.1 659.7 L1379.5 648.7 L1374.4 644.9 L1369.4 641.1 L1366.7 639.3 L1363.2 637.1 L1357.9 633.9 L1352.6 630.7 L1347.4 627.5 L1343.3 625 L1340.5 625.1 L1337.2 625.1 L1332.1 624.4 L1327 623.7 L1321.6 622.4 L1306.2 614.7 L1293.7 605.5 L1288.5 602.4Z" fill="#6A3665"/>
<path d="M1327 653.9 L1329.7 655.6 L1335 658.9 L1340.2 662.2 L1345.5 665.5 L1347.1 666.5 L1347.1 666.5 L1351.9 670.7 L1356.6 674.8 L1376.6 688.8 L1382.5 691.7 L1388.4 694.7 L1394.3 697.6 L1400.1 700.5 L1405.9 703.4 L1411.6 706.3 L1417.4 709.2 L1424 712.5 L1428.7 714.9 L1435.1 718.3 L1441.6 721.8 L1447.6 725.1 L1453.7 728.3 L1463.4 733.3 L1469.7 736.2 L1474.7 738.6 L1479.8 740.9 L1484.8 743.2 L1489.9 745.5 L1493.9 747.5 L1503 752.7 L1512.1 757.9 L1522.6 763.8 L1541.6 729 L1530.7 725.4 L1520.5 722 L1510.4 718.6 L1503.1 717 L1497.5 715.7 L1492 714.4 L1486.5 713.1 L1480.9 711.8 L1474.3 709.7 L1465.5 706.3 L1459 703.9 L1452.5 701.6 L1445.7 698.7 L1438.9 695.9 L1433.3 693.8 L1426.5 691.1 L1420.2 689.3 L1413.8 687.5 L1407.5 685.6 L1401.2 683.8 L1394.8 681.9 L1388.3 680.1 L1381.9 678.2 L1363.5 667 L1358.1 663.6 L1352.7 660.2 L1351.5 660.4 L1349 659.8 L1343.3 657.3 L1337.6 654.7 L1331.9 652.1 L1328.6 651Z" fill="#6A3665"/>
<path d="M1056.4 -166 L1540.5 53.3M1056.4 65.8 L1540.5 285.1M1056.4 297.7 L1540.5 517M1056.4 529.9 L1540.5 749.2M1056.4 762 L1540.5 981.3M1056.4 217 L1157 1.8M1056.4 713.1 L1388.8 1.8M1056.4 1210.1 L1621 1.8M1056.4 1707.5 L1853.5 1.8" stroke="#9a9aa6" stroke-opacity="0.45" stroke-width="0.6" stroke-dasharray="2.2 1" fill="none"/>
<path d="M1260.4 2 L1257.4 5.5 L1254.1 8 L1251.1 12.6 L1254.1 13.6 L1252.1 16.6 L1255.6 16.6 L1254.1 20.1 L1257.9 19.1 L1257.1 23.1 L1260.4 21.6 L1259.9 25.6 L1262.9 24.1 L1263.2 28.1 L1266.2 27.1 L1266.7 30.7 L1269.2 31.7 L1274.2 30.2 L1279.2 27.6 L1286.8 26.4 L1294.3 23.9 L1295.6 20.1 L1298.1 23.9 L1304.4 21.4 L1309.4 17.6 L1311.9 13.8 L1314.4 17.6 L1315.7 27.6 L1316.4 35.2 L1319.4 37.2 L1316.4 39.7 L1313.2 50.3 L1310.6 65.3 L1308.9 72.9 L1308.1 75.4 L1305.6 87.9 L1303.1 94.2 L1304.4 100.5 L1303.1 113.1 L1299.3 125.6 L1295.6 135.7 L1291.8 145.7 L1284.3 158.3 L1280.5 165.8 L1274.2 173.4 L1267.9 180.9 L1261.6 189.7 L1257.9 198.5 L1253.6 208 L1257.1 206.5 L1259.1 201 L1262.9 201 L1265.4 208.5 L1267.9 221.1 L1271.7 231.2 L1272.9 246.2 L1275.5 261.3 L1271.7 276.4 L1267.9 291.5 L1266.7 306.5 L1269.2 324.1 L1274.2 339.2 L1280.5 351.8 L1286.8 361.8 L1294.3 371.9 L1299.3 376.9 L1303.1 375.6 L1306.9 379.4 L1311.4 376.9 L1312.4 371.9 L1310.6 356.8 L1309.4 346.7 L1314.4 331.7 L1321.9 314.1 L1324.5 299 L1321.9 286.4 L1316.9 273.9 L1309.4 261.3 L1304.4 251.3 L1296.8 245 L1290.5 236.2 L1289.3 226.1 L1293.1 211.1 L1294.3 198.5 L1291.8 191 L1285.5 187.2 L1286.8 178.4 L1291.8 168.3 L1299.3 160.8 L1309.4 150.8 L1319.4 143.2 L1327 133.2 L1333.3 123.1 L1334.5 118.1 L1342 116.8 L1350.8 120.6 L1352.1 125.6 L1345.8 135.7 L1349.6 139.4 L1359.6 144.5 L1367.2 150.8 L1369.7 160.8 L1372.7 165.8 L1374.7 173.4 L1376 185.9 L1378.5 191 L1377.7 197.2 L1381 201 L1384.8 207.3 L1389.8 213.6 L1397.3 221.1 L1399.8 224.9 L1392.3 231.2 L1387.3 241.2 L1383.5 250 L1389.8 250 L1399.8 247.5 L1409.9 243.7 L1414.9 239.9 L1416.9 232.4 L1421.2 244.2 L1424.5 233.7 L1428.7 237.4 L1432 229.9 L1437 232.4 L1441.3 228.6 L1445.1 234.9 L1460.1 234.9 L1475.2 233.7 L1485.3 231.2 L1495.3 223.6 L1502.8 216.1 L1505.4 208.5 L1509.1 198.5 L1511.6 185.9 L1514.2 170.9 L1516.7 155.8 L1515.4 140.7 L1511.6 128.1 L1506.6 115.6 L1500.3 105.5 L1496.6 93 L1492.8 85.4 L1491.5 72.9 L1489 62.8 L1489 55.3 L1495.3 47.7 L1505.4 42.7 L1520.4 38.9M1173.1 227.8 L1175.7 225.2 L1179.5 225.2 L1184.1 229.7 L1188.6 235.6 L1193.8 240.1 L1200.2 243.3 L1208 247.2 L1214.4 249.8 L1217.7 254.3 L1220.3 260.8 L1222.2 268.5 L1226.1 277.6 L1229.3 285.3 L1232.5 293.1 L1236.4 300.8 L1240.3 307.3 L1242.2 313.8 L1242.9 317.6 L1245.5 325.4 L1248.1 333.2 L1250 338.3 L1251.3 342.2 L1251.9 337.7 L1254.5 335.7 L1257.8 339 L1260.3 343.5 L1261 352.6 L1264.9 355.1 L1267.5 360.3 L1269.4 366.8 L1271.3 373.2 L1273.9 379.7 L1277.8 384.9 L1280.4 389.4 L1273.9 390 L1268.1 389.4 L1275.2 391.3 L1281.7 390.7 L1285.6 391.3 L1288.1 393.9 L1290.1 399.1 L1289.4 404.3 L1284.3 406.2 L1280.4 409.4 L1278.4 414.6 L1279.1 420 L1284.3 425.3 L1291.8 430.3 L1289.3 445.4 L1290.5 455.4 L1284.3 460.5 L1294.3 461.7 L1303.1 470.5 L1305.6 480.6 L1306.9 489.3 L1299.3 495.6 L1294.3 503.2 L1289.3 515.7 L1281.7 528.3 L1274.2 532.1 L1269.2 525.8 L1264.2 520.8 L1255.4 523.8 L1252.8 515.7 L1245.3 500.7 L1237.8 483.1 L1231.5 468 L1224 447.9 L1217.7 430.3 L1217 420 L1217 409.4 L1215.7 399.1 L1214.4 390 L1213.2 381 L1211.9 373.2 L1210.6 366.8 L1208 363.5 L1205.4 359 L1204.8 351.3 L1205.4 343.5 L1206.9 335.7 L1207.3 328 L1206 321.5 L1202.8 316.4 L1198.9 311.2 L1195.1 307.3 L1194.4 303.4 L1196.3 296.3 L1195.1 290.5 L1193.8 284 L1191.2 276.3 L1187.3 270.5 L1182.8 263.3 L1179.5 255.6 L1176.3 247.8 L1173.7 240.1 L1172.4 233.6 L1173.1 227.8 L1173.1 227.8M1257.9 545.6 L1262.9 547.7 L1269.9 544.9 L1274.1 539.2 L1280.5 536.4 L1288.2 542 L1296.7 547.7 L1299.5 546.3 L1309.4 554.7 L1319.3 561.8 L1323.5 564.6 L1322.8 571.6 L1326.3 577.3 L1334.8 582.9 L1339 584.3 L1348.9 585 L1360.1 592.8 L1364.4 590 L1370 592.8 L1379.9 601.2 L1388.3 611.1 L1399.6 626.6 L1405.3 631.6 L1413.7 635.1 L1422.2 639.3 L1427.8 643.5 L1429.2 647.8 L1425.7 651.3 L1423.6 656.2 L1424.3 661.9 L1425 664.7 L1422.2 663.3 L1420.8 659 L1412.3 653.4 L1399.6 645 L1385.5 637.9 L1370 630.9 L1360.1 625.2 L1351.7 619.6 L1340.4 609.7 L1332 602.7 L1317.9 592.8 L1312.2 593.5 L1305.2 587.1 L1299.5 584.3 L1293.9 578.7 L1286.8 574.5 L1279.1 570.2 L1277 563.2 L1271.3 559 L1264.3 554.7 L1258.6 549.1 L1257.9 545.6M1403.1 616 L1408.1 614.6 L1419.4 618.9 L1427.8 622.4 L1429.2 625.2 L1422.2 625.9 L1413.7 625.2 L1406.7 621.7 L1402.4 618.9 L1403.1 616M1427.1 652.7 L1432 651.3 L1440.5 655.5 L1448.3 661.9 L1449 666.1 L1443.3 668.2 L1434.9 667.5 L1429.2 661.9 L1427.1 656.2 L1427.1 652.7M1455.3 671 L1461.7 668.9 L1467.3 671 L1470.1 676 L1467.3 681.6 L1461.7 683 L1457.4 678.8 L1455.3 671M1465.9 686.5 L1470.1 683.7 L1478.6 681.6 L1485.6 680.9 L1487.7 677.4 L1492.7 678.8 L1495.5 683 L1501.1 687.2 L1505.4 684.4 L1511 688.7 L1518.1 691.5 L1518.1 699.9 L1506.8 695.7 L1498.3 695 L1492.7 691.5 L1487 692.9 L1481.4 690.1 L1472.9 691.5 L1467.3 690.1 L1465.9 686.5M1505.4 718.3 L1511 714.7 L1518.1 715.4 L1518.1 722.5M1336.2 494.1 L1340.4 488.5 L1346 487 L1351.7 491.3 L1352.4 496.9 L1347.5 502.6 L1341.8 501.1 L1337.6 498.3 L1336.2 494.1M1299.3 455.4 L1306.9 450.4 L1316.9 450.4 L1319.4 455.4 L1315.7 465.5 L1318.2 475.5 L1325.7 480.6 L1319.4 483.1 L1311.9 481.8 L1308.1 470.5 L1305.6 460.5 L1299.3 455.4M1520.4 409.7 L1497.8 421.5 L1475.2 420.3 L1460.1 417.7 L1458.9 424 L1455.1 424 L1447.6 434.1 L1443.8 440.9 L1435 434.1 L1427.5 426.5 L1421.2 417.7 L1414.9 415.2 L1404.9 420.3 L1397.3 430.3 L1392.3 445.4 L1394.8 455.4 L1391 465.5 L1391 475.5 L1398.2 480 L1396.8 488.5 L1393.3 496.9 L1391.2 506.8 L1389 515.2 L1395.4 517.4 L1401 520.9 L1408.1 523.7 L1415.1 526.5 L1418.7 530.8 L1416.5 536.4 L1415.1 542 L1422.2 540.6 L1430.6 544.1 L1437.7 544.9 L1443.3 539.9 L1446.1 544.9 L1450.4 549.1 L1456 553.3 L1464.5 557.5 L1468.7 561.8 L1467.3 570.2 L1465.2 577.3 L1478.6 577.3 L1492.7 576.6 L1501.1 573 L1504 567.4 L1509.6 560.4 L1520.9 550.5M1494.8 585.7 L1498.3 577.3 L1502.5 571.6 L1506.8 573 L1504 580.1 L1499.7 585 L1494.8 585.7M1178.7 90.5 L1183.8 80.4 L1190 72.9 L1195.1 62.8 L1201.3 55.3 L1206.4 53.3 L1205.1 60.3 L1197.6 67.8 L1193.8 75.4 L1187.5 82.9 L1181.2 89.2 L1178.7 90.5M1170.9 103 L1169.4 104.6 L1167.7 105 L1166.3 104.3 L1165.9 102.5 L1166.5 100.5 L1168 99 L1169.7 98.5 L1171 99.2 L1171.5 101 L1170.9 103M1162.6 133.2 L1162.5 133.8 L1162 134.1 L1161.3 134.1 L1160.8 133.8 L1160.6 133.2 L1160.8 132.6 L1161.3 132.2 L1162 132.2 L1162.5 132.6 L1162.6 133.2M1160.9 153.3 L1160.7 154 L1160.2 154.5 L1159.6 154.5 L1159.1 154 L1158.9 153.3 L1159.1 152.5 L1159.6 152.1 L1160.2 152.1 L1160.7 152.5 L1160.9 153.3M1165 160.1 L1165 160.7 L1164.5 161.4 L1163.7 161.9 L1162.9 161.9 L1162.3 161.6 L1162.3 160.9 L1162.8 160.2 L1163.6 159.7 L1164.4 159.7 L1165 160.1M1163.9 182.6 L1162.8 186 L1161.3 187.9 L1160 187.7 L1159.2 185.3 L1159.4 181.8 L1160.5 178.4 L1162 176.4 L1163.3 176.6 L1164.1 179 L1163.9 182.6M1180.7 219.1 L1180.5 219.8 L1179.9 220.3 L1179.1 220.3 L1178.5 219.8 L1178.2 219.1 L1178.5 218.4 L1179.1 217.9 L1179.9 217.9 L1180.5 218.4 L1180.7 219.1M1289 120.6 L1288.8 121.8 L1288.3 122.5 L1287.7 122.5 L1287.2 121.8 L1287 120.6 L1287.2 119.4 L1287.7 118.7 L1288.3 118.7 L1288.8 119.4 L1289 120.6M1297.5 118.8 L1296.5 120.3 L1295.2 121 L1294 120.6 L1293.4 119.2 L1293.7 117.4 L1294.6 115.9 L1296 115.2 L1297.1 115.6 L1297.7 117 L1297.5 118.8M1285.5 130.7 L1285.3 131.4 L1284.6 131.8 L1283.9 131.8 L1283.2 131.4 L1283 130.7 L1283.2 129.9 L1283.9 129.5 L1284.6 129.5 L1285.3 129.9 L1285.5 130.7M1294.1 135.7 L1293.6 137.5 L1292.5 138.5 L1291.1 138.5 L1290 137.5 L1289.5 135.7 L1290 133.9 L1291.1 132.8 L1292.5 132.8 L1293.6 133.9 L1294.1 135.7M1297.1 129.4 L1296.8 130.3 L1296 130.8 L1295.1 130.8 L1294.3 130.3 L1294.1 129.4 L1294.3 128.5 L1295.1 128 L1296 128 L1296.8 128.5 L1297.1 129.4M1279 149.5 L1278.8 150.7 L1278.3 151.4 L1277.7 151.4 L1277.2 150.7 L1277 149.5 L1277.2 148.3 L1277.7 147.6 L1278.3 147.6 L1278.8 148.3 L1279 149.5M1286.5 148.2 L1286.3 148.8 L1285.8 149.2 L1285.2 149.2 L1284.7 148.8 L1284.5 148.2 L1284.7 147.7 L1285.2 147.3 L1285.8 147.3 L1286.3 147.7 L1286.5 148.2M1272.6 165.1 L1272.4 165.8 L1271.4 166.5 L1270.1 167 L1268.9 167 L1268.3 166.6 L1268.5 165.9 L1269.5 165.2 L1270.8 164.7 L1272 164.6 L1272.6 165.1M1302.1 186.6 L1302.3 187.5 L1301.8 188.5 L1300.9 189.3 L1299.8 189.6 L1299 189.2 L1298.9 188.4 L1299.3 187.4 L1300.3 186.6 L1301.4 186.3 L1302.1 186.6M1291 231.3 L1290.4 235.1 L1289.3 237.4 L1288.2 237.3 L1287.5 234.9 L1287.5 231 L1288.2 227.2 L1289.3 224.9 L1290.4 225 L1291 227.5 L1291 231.3M1271.2 247.5 L1270.8 249 L1269.8 249.9 L1268.6 249.9 L1267.6 249 L1267.2 247.5 L1267.6 246 L1268.6 245.1 L1269.8 245.1 L1270.8 246 L1271.2 247.5M1270.9 271.4 L1270.6 272.4 L1269.7 273 L1268.6 273 L1267.8 272.4 L1267.4 271.4 L1267.8 270.3 L1268.6 269.7 L1269.7 269.7 L1270.6 270.3 L1270.9 271.4M1266.7 219.1 L1266.5 220 L1266.1 220.5 L1265.7 220.5 L1265.3 220 L1265.2 219.1 L1265.3 218.2 L1265.7 217.7 L1266.1 217.7 L1266.5 218.2 L1266.7 219.1M1368.4 162.1 L1368.2 163.2 L1367.6 164 L1366.8 164 L1366.2 163.2 L1365.9 162.1 L1366.2 160.9 L1366.8 160.1 L1367.6 160.1 L1368.2 160.9 L1368.4 162.1M1367.9 172.1 L1367.8 172.6 L1367.4 172.8 L1366.9 172.8 L1366.6 172.6 L1366.4 172.1 L1366.6 171.7 L1366.9 171.4 L1367.4 171.4 L1367.8 171.7 L1367.9 172.1M1383.7 210.1 L1383.1 212 L1382.1 213.2 L1381.2 213 L1380.7 211.6 L1380.8 209.5 L1381.4 207.6 L1382.4 206.4 L1383.3 206.6 L1383.8 208 L1383.7 210.1M1419.9 262.1 L1419.7 262.5 L1419.1 262.8 L1418.3 262.8 L1417.7 262.5 L1417.4 262.1 L1417.7 261.6 L1418.3 261.3 L1419.1 261.3 L1419.7 261.6 L1419.9 262.1M1321.9 354.8 L1321.7 355.5 L1321.1 356 L1320.3 356 L1319.7 355.5 L1319.4 354.8 L1319.7 354 L1320.3 353.6 L1321.1 353.6 L1321.7 354 L1321.9 354.8M1353.9 364.8 L1353.6 365.9 L1353 366.5 L1352.2 366.5 L1351.6 365.9 L1351.3 364.8 L1351.6 363.8 L1352.2 363.2 L1353 363.2 L1353.6 363.8 L1353.9 364.8M1364.7 365.6 L1364.5 366.3 L1364.1 366.8 L1363.7 366.8 L1363.3 366.3 L1363.2 365.6 L1363.3 364.8 L1363.7 364.4 L1364.1 364.4 L1364.5 364.8 L1364.7 365.6M1411.7 368.6 L1410.1 370.9 L1407.7 371.8 L1405.6 371 L1404.4 368.8 L1404.6 366 L1406.2 363.8 L1408.5 362.9 L1410.7 363.7 L1411.9 365.9 L1411.7 368.6M1413.2 391.5 L1412.9 392 L1412.3 392.4 L1411.5 392.4 L1410.9 392 L1410.6 391.5 L1410.9 390.9 L1411.5 390.5 L1412.3 390.5 L1412.9 390.9 L1413.2 391.5M1197.3 428.8 L1197.8 434.4 L1197.5 438 L1196.6 438.1 L1195.4 434.8 L1194.3 429.3 L1193.8 423.7 L1194.1 420.1 L1195 420 L1196.2 423.3 L1197.3 428.8M1214.5 492.9 L1214.7 494.4 L1214 495.7 L1212.9 496.1 L1211.6 495.6 L1210.8 494.3 L1210.6 492.8 L1211.2 491.6 L1212.4 491.2 L1213.7 491.7 L1214.5 492.9M1233.8 620.8 L1233.5 621.5 L1232.7 621.9 L1231.8 621.9 L1231 621.5 L1230.7 620.8 L1231 620 L1231.8 619.6 L1232.7 619.6 L1233.5 620 L1233.8 620.8M1375.7 478.5 L1375.4 479.4 L1374.7 480 L1373.7 480 L1373 479.4 L1372.7 478.5 L1373 477.7 L1373.7 477.1 L1374.7 477.1 L1375.4 477.7 L1375.7 478.5M1397.6 472.8 L1397.5 475 L1395.9 477 L1393.5 477.9 L1391 477.4 L1389.5 475.7 L1389.6 473.5 L1391.2 471.6 L1393.6 470.7 L1396.1 471.1 L1397.6 472.8M1336.5 491.1 L1336.4 491.5 L1336 491.8 L1335.5 491.8 L1335.2 491.5 L1335 491.1 L1335.2 490.7 L1335.5 490.4 L1336 490.4 L1336.4 490.7 L1336.5 491.1M1434.8 631.3 L1434.6 632 L1434.1 632.5 L1433.4 632.5 L1432.9 632 L1432.7 631.3 L1432.9 630.6 L1433.4 630.1 L1434.1 630.1 L1434.6 630.6 L1434.8 631.3M1458.5 636.1 L1457.7 636.8 L1456.1 637 L1454.3 636.5 L1453 635.6 L1452.7 634.5 L1453.5 633.8 L1455.1 633.7 L1456.9 634.2 L1458.2 635.1 L1458.5 636.1M1287.6 410.1 L1286.4 411.3 L1284.5 411.6 L1282.4 410.8 L1281.1 409.4 L1281 407.7 L1282.1 406.6 L1284.1 406.3 L1286.1 407.1 L1287.4 408.5 L1287.6 410.1M1302.3 417.7 L1301.8 419.2 L1300.3 420.1 L1298.4 420.1 L1296.9 419.2 L1296.3 417.7 L1296.9 416.3 L1298.4 415.3 L1300.3 415.3 L1301.8 416.3 L1302.3 417.7M1308.8 413.4 L1307.5 415.8 L1306 417 L1304.8 416.5 L1304.4 414.7 L1305 412 L1306.3 409.7 L1307.8 408.5 L1308.9 408.9 L1309.3 410.8 L1308.8 413.4M1283.2 375 L1284.1 378.2 L1283.6 380.7 L1281.9 381.4 L1279.6 380.3 L1277.8 377.6 L1276.9 374.4 L1277.4 371.9 L1279.1 371.1 L1281.3 372.3 L1283.2 375M1287 387.6 L1286.7 388.5 L1286 389 L1285 389 L1284.3 388.5 L1284 387.6 L1284.3 386.7 L1285 386.2 L1286 386.2 L1286.7 386.7 L1287 387.6M1291.3 381.3 L1291.1 381.7 L1290.8 382 L1290.3 382 L1289.9 381.7 L1289.8 381.3 L1289.9 380.9 L1290.3 380.6 L1290.8 380.6 L1291.1 380.9 L1291.3 381.3M1298.8 388.8 L1298.7 389.6 L1298.3 390 L1297.8 390 L1297.5 389.6 L1297.3 388.8 L1297.5 388.1 L1297.8 387.6 L1298.3 387.6 L1298.7 388.1 L1298.8 388.8M1307.6 386.3 L1307.2 387.5 L1306.2 388.2 L1305 388.2 L1304 387.5 L1303.6 386.3 L1304 385.2 L1305 384.4 L1306.2 384.4 L1307.2 385.2 L1307.6 386.3M1314.5 392.9 L1313.3 393.9 L1311.5 393.9 L1309.9 393 L1309 391.4 L1309.3 389.8 L1310.5 388.9 L1312.3 388.8 L1313.9 389.8 L1314.7 391.3 L1314.5 392.9M1306.6 376.3 L1305.9 377.8 L1304.2 378.7 L1302 378.7 L1300.3 377.8 L1299.6 376.3 L1300.3 374.8 L1302 373.9 L1304.2 373.9 L1305.9 374.8 L1306.6 376.3M1410.4 370 L1409.8 371.2 L1408.3 371.9 L1406.4 371.9 L1404.9 371.2 L1404.4 370 L1404.9 368.8 L1406.4 368.1 L1408.3 368.1 L1409.8 368.8 L1410.4 370M1413.2 392.1 L1412.9 392.7 L1412.3 393.1 L1411.5 393.1 L1410.9 392.7 L1410.6 392.1 L1410.9 391.5 L1411.5 391.2 L1412.3 391.2 L1412.9 391.5 L1413.2 392.1M1260.1 543.4 L1259.9 544 L1259.4 544.3 L1258.8 544.3 L1258.3 544 L1258.1 543.4 L1258.3 542.8 L1258.8 542.4 L1259.4 542.4 L1259.9 542.8 L1260.1 543.4M1318.4 486.8 L1318.1 487.6 L1317.4 488 L1316.5 488 L1315.7 487.6 L1315.4 486.8 L1315.7 486.1 L1316.5 485.6 L1317.4 485.6 L1318.1 486.1 L1318.4 486.8M1160.1 280.8 L1163.4 279.1 L1167.3 284 L1170.5 290.5 L1171.8 295 L1169.8 295.9 L1166 290.5 L1162.1 284.7 L1160.1 280.8M1181.5 303.4 L1184.7 305.4 L1185.4 309.2 L1183.4 307.3 L1181.5 303.4M1174.4 318.9 L1180.2 318.3 L1182.1 322.8 L1184.1 329.3 L1186.3 334.5 L1184.1 339.6 L1180.8 342.2 L1178.2 337 L1177 329.3 L1175.4 324.1 L1174.4 318.9M1185.4 357.1 L1187.3 360.3 L1186 364.8 L1182.8 368.1 L1180.8 367.4 L1184.1 362.9 L1185.7 359.7 L1185.4 357.1M1181.5 380.3 L1184.7 378.4 L1187.9 379.1 L1189.2 384.9 L1188.6 393.9 L1187.9 398.4 L1184.1 397.8 L1182.1 392.6 L1180.6 386.2 L1181.5 380.3M1190.5 406.2 L1193.1 407.5 L1193.8 413.3 L1193.1 417.2 L1191.2 414.6 L1189.6 409.4 L1190.5 406.2M1260.3 346.1 L1262.9 344.5 L1266.8 345.4 L1268.5 348.7 L1266.8 352.3 L1262.9 353.2 L1260.3 350.6 L1260.3 346.1M1270.3 359.7 L1273.3 358.4 L1276.5 364.2 L1276.8 368.1 L1273.9 367.4 L1271.1 363.2 L1270.3 359.7M1277.5 374.3 L1280.4 373.2 L1283.6 378.4 L1284 381.6 L1281 381 L1278.4 377.4 L1277.5 374.3M1270.7 368.1 L1272.6 367.8 L1275.2 374.5 L1274.6 376.5 L1272 373.2 L1270.7 368.1M1301.1 414.6 L1305.6 406.9 L1307.5 413.3 L1311.4 417.2 L1306.9 418.5 L1301.1 414.6M1309.5 388.1 L1313.3 387.5 L1315.5 390.7 L1314 394.6 L1311.4 392.6 L1308.8 391.3 L1309.5 388.1" stroke="#000" stroke-width="1.4" fill="none" stroke-linejoin="round"/>
<path d="M1251.6 2.5C1248.7 4.8 1240.3 11.9 1234 16.3C1227.7 20.7 1221 24.9 1213.9 28.9C1206.8 32.9 1197.2 36 1191.3 40.2C1185.4 44.4 1183.3 48.2 1178.7 54C1174.1 59.9 1168.7 67.6 1163.7 75.4C1158.6 83.1 1152.8 92.1 1148.6 100.5C1144.4 108.9 1140.8 118.1 1138.5 125.6C1136.2 133.2 1136 138.2 1134.8 145.7C1133.5 153.3 1132.5 162.5 1131 170.9C1129.5 179.2 1127.2 188.4 1126 196C1124.7 203.5 1123.9 209.4 1123.5 216.1C1123 222.8 1122.6 229.5 1123.5 236.2C1124.3 242.9 1126 250 1128.5 256.3C1131 262.6 1135.2 268.4 1138.5 273.9C1141.9 279.3 1145.4 283.1 1148.6 288.9C1151.7 294.8 1155.3 302.3 1157.4 309C1159.5 315.7 1160.1 322 1161.1 329.1C1162.2 336.3 1162.8 344.6 1163.7 351.8C1164.5 358.9 1165.7 365.9 1166.2 371.9C1166.6 377.8 1165.3 382 1166.2 387.6C1167 393.1 1169.1 398.5 1171.2 405.2C1173.3 411.9 1176.6 420.3 1178.7 427.8C1180.8 435.3 1182.1 442.4 1183.8 450.4C1185.4 458.4 1186.7 467.2 1188.8 475.5C1190.9 483.9 1193.4 492.7 1196.3 500.7C1199.2 508.6 1202.2 516.1 1206.4 523.3C1210.6 530.4 1216.4 536.7 1221.4 543.4C1226.5 550.1 1232.3 556.3 1236.5 563.5C1240.7 570.6 1242 578.5 1246.6 586.1C1251.2 593.6 1258.3 601.6 1264.2 608.7C1270 615.8 1275.5 622.9 1281.7 628.8C1288 634.7 1294.3 639.7 1301.8 643.9C1309.4 648.1 1319.4 650.2 1327 653.9C1334.5 657.7 1340.4 661.5 1347.1 666.5C1353.8 671.5 1358.8 678.6 1367.2 684.1C1375.5 689.5 1387.3 694.1 1397.3 699.1C1407.4 704.2 1417 708.8 1427.5 714.2C1437.9 719.7 1449.2 726.4 1460.1 731.8C1471 737.3 1483 741.9 1492.8 746.9C1502.6 751.9 1507.9 755.7 1519.2 762C1530.5 768.2 1553.7 780.8 1560.6 784.6" stroke="#9467bd" stroke-width="5" fill="none" stroke-linejoin="round"/>
<rect x="1172.2" y="58.8" width="14" height="14" transform="rotate(35 1179.2 65.8)" fill="none" stroke="#9467bd" stroke-width="3.6"/>
<rect x="1122.7" y="207.1" width="14" height="14" transform="rotate(0 1129.7 214.1)" fill="none" stroke="#9467bd" stroke-width="3.6"/>
<rect x="1164.7" y="369.9" width="14" height="14" transform="rotate(-10 1171.7 376.9)" fill="none" stroke="#9467bd" stroke-width="3.6"/>
<rect x="1224.5" y="538.9" width="14" height="14" transform="rotate(35 1231.5 545.9)" fill="none" stroke="#9467bd" stroke-width="3.6"/>
<rect x="1335.5" y="647.4" width="14" height="14" transform="rotate(35 1342.5 654.4)" fill="none" stroke="#9467bd" stroke-width="3.6"/>
<rect x="1464.4" y="727.8" width="14" height="14" transform="rotate(25 1471.4 734.8)" fill="none" stroke="#9467bd" stroke-width="3.6"/>
<path d="M1256.6 50.3C1252.8 52.3 1241.1 58 1234 62.8C1226.9 67.6 1219.8 73.3 1213.9 79.1C1208 85 1203 91.5 1198.8 98C1194.6 104.5 1191.7 111 1188.8 118.1C1185.8 125.2 1183.3 132.7 1181.2 140.7C1179.1 148.7 1177.4 157.5 1176.2 165.8C1175 174.2 1174.5 183 1174.2 191C1173.9 198.9 1173.7 206.4 1174.2 213.6C1174.8 220.7 1175.7 227 1177.5 233.7C1179.3 240.4 1181.9 247.1 1185 253.8C1188.2 260.5 1193 267.2 1196.3 273.9C1199.7 280.6 1202.8 286.9 1205.1 294C1207.4 301.1 1209.1 309 1210.1 316.6C1211.2 324.1 1211 331.7 1211.4 339.2C1211.8 346.7 1211.8 353.3 1212.6 361.8C1213.5 370.3 1214.7 382 1216.4 390.1C1218.1 398.2 1220.6 403.1 1222.7 410.2C1224.8 417.3 1226.7 425.3 1229 432.8C1231.3 440.4 1234 448.3 1236.5 455.4C1239 462.5 1242 469.7 1244.1 475.5C1246.1 481.4 1248.2 488.1 1249.1 490.6" stroke="#472d7b" stroke-width="3.6" fill="none"/>
<path d="M1266.7 525.8C1268.3 528.7 1272.5 537.1 1276.7 543.4C1280.9 549.6 1286.4 556.8 1291.8 563.5C1297.2 570.2 1303.1 577.3 1309.4 583.6C1315.7 589.8 1322.4 595.7 1329.5 601.2C1336.6 606.6 1344.6 611.2 1352.1 616.2C1359.6 621.3 1367.2 626.3 1374.7 631.3C1382.2 636.3 1389.4 641.4 1397.3 646.4C1405.3 651.4 1414.1 656.4 1422.4 661.5C1430.8 666.5 1439.2 672.3 1447.6 676.5C1455.9 680.7 1464.3 683.4 1472.7 686.6C1481.1 689.7 1490.1 692.8 1497.8 695.4C1505.6 698 1515.6 701 1519.2 702.2" stroke="#472d7b" stroke-width="3.6" fill="none"/>
<path d="M1189.3 189.7C1189.4 192.8 1188.9 202.5 1190 208.5C1191.2 214.6 1193.6 219.8 1196.3 226.1C1199 232.4 1203.2 239.9 1206.4 246.2C1209.5 252.5 1213.7 260.9 1215.2 263.8" stroke="#33638d" stroke-width="3.6" fill="none"/>
<path d="M1220.9 275.1C1222.1 277.4 1225.8 283.3 1227.7 288.9C1229.7 294.6 1231.8 301.9 1232.7 309C1233.7 316.2 1233.3 324.5 1233.3 331.7C1233.3 338.8 1232.6 345.1 1232.7 351.8C1232.9 358.5 1233 365.5 1234 371.9C1235.1 378.2 1237.1 383.7 1239 390.1C1240.9 396.5 1244.1 403.1 1245.3 410.2C1246.6 417.3 1245.5 425.7 1246.6 432.8C1247.6 439.9 1249.5 446.6 1251.6 452.9C1253.7 459.2 1256.2 464.2 1259.1 470.5C1262.1 476.8 1265.4 483.5 1269.2 490.6C1272.9 497.7 1277.6 506.1 1281.7 513.2C1285.9 520.3 1289.7 526.6 1294.3 533.3C1298.9 540 1304.4 547.1 1309.4 553.4C1314.4 559.7 1319 565.6 1324.5 571C1329.9 576.4 1336.2 581.9 1342 586.1C1347.9 590.3 1356.7 594.5 1359.6 596.1" stroke="#33638d" stroke-width="3.6" fill="none"/>
<path d="M1402.3 622.5C1406.1 624.8 1417.4 631.9 1425 636.3C1432.5 640.7 1439.6 644.3 1447.6 648.9C1455.5 653.5 1464.3 659.6 1472.7 664C1481.1 668.4 1490.1 672.3 1497.8 675.3C1505.6 678.3 1515.6 680.9 1519.2 682.1" stroke="#33638d" stroke-width="3.6" fill="none"/>
<path d="M1267.2 417.2C1266.8 419.8 1264.3 427.3 1264.7 432.8C1265 438.3 1267.2 445 1269.2 450.4C1271.2 455.8 1274.2 460.9 1276.7 465.5C1279.2 470.1 1282.2 473 1284.3 478C1286.4 483.1 1286.8 489.8 1289.3 495.6C1291.8 501.5 1295.6 507.4 1299.3 513.2C1303.1 519.1 1307.3 525.4 1311.9 530.8C1316.5 536.2 1321.5 540.9 1327 545.9C1332.4 550.9 1338.7 556.8 1344.6 561C1350.4 565.1 1355.4 567.2 1362.1 571C1368.8 574.8 1377.2 579.4 1384.8 583.6C1392.3 587.8 1399.8 591.9 1407.4 596.1C1414.9 600.3 1422.9 604.1 1430 608.7C1437.1 613.3 1443.4 618.7 1450.1 623.8C1456.8 628.8 1463.5 634.2 1470.2 638.8C1476.9 643.5 1482.1 646.9 1490.3 651.4C1498.5 655.9 1514.4 663.6 1519.2 666" stroke="#1f968b" stroke-width="3.6" fill="none"/>
<path d="M1329.5 525.8C1332 528.7 1339.1 537.9 1344.6 543.4C1350 548.8 1355.9 553.4 1362.1 558.4C1368.4 563.5 1375.1 568.9 1382.2 573.5C1389.4 578.1 1397.3 581.9 1404.9 586.1C1412.4 590.3 1419.1 594.7 1427.5 598.6C1435.8 602.6 1450.5 608.1 1455.1 609.9" stroke="#bddf26" stroke-width="3.6" fill="none"/>
<path d="M1461.4 612.5C1463.7 613.9 1471.7 618.5 1475.2 621.3C1478.8 624 1481.5 627.5 1482.7 628.8" stroke="#bddf26" stroke-width="3.6" fill="none"/>
<text transform="translate(1193.8,166.3) rotate(-82)" font-size="25" text-anchor="middle" dy="9" fill="#33638d">200</text>
<text transform="translate(1261.1,510.2) rotate(58)" font-size="25" text-anchor="middle" dy="9" fill="#472d7b">90</text>
<text transform="translate(1381.7,607.4) rotate(36)" font-size="25" text-anchor="middle" dy="9" fill="#33638d">200</text>
<text transform="translate(1319.9,505.2) rotate(58)" font-size="25" text-anchor="middle" dy="9" fill="#bddf26">600</text>
<text transform="translate(1497.8,641.9) rotate(38)" font-size="25" text-anchor="middle" dy="9" fill="#bddf26">600</text>
</g>
<rect x="1056.4" y="1.8" width="461.0" height="763.2" fill="none" stroke="#000" stroke-width="1.1"/>
<rect x="1062.4" y="6.7" width="25" height="36.5" rx="4" fill="#fff" stroke="#000" stroke-width="1"/>
<text x="1074.9" y="34.2" font-size="26" text-anchor="middle">c</text>
<rect x="1395.8" y="6.7" width="105" height="36.5" rx="4" fill="#fff" stroke="#000" stroke-width="1"/>
<text x="1448.2" y="34.2" font-size="25.5" text-anchor="middle" fill="#e377c2">Model3</text>
<clipPath id="cp_d"><rect x="81.4" y="782.1" width="447.2" height="739.8"/></clipPath>
<g clip-path="url(#cp_d)">
<rect x="81.4" y="782.1" width="447.2" height="739.8" fill="#DCF4C2"/>
<path d="M532.4 1310.9C529 1296.8 518.1 1332.6 512.3 1341C506.4 1349.4 503 1355.7 497.2 1361.1C491.3 1366.5 482.9 1369.3 477.1 1373.7C471.2 1378.1 466.2 1384.6 462 1387.5C457.8 1390.4 450.3 1389 452 1391.3C453.6 1393.6 465.4 1398.8 472.1 1401.3C478.8 1403.8 485.5 1403.8 492.2 1406.3C498.9 1408.8 505.6 1413.2 512.3 1416.4C519 1419.5 529 1442.8 532.4 1425.2C535.7 1407.6 535.7 1324.9 532.4 1310.9Z" fill="#FEFEDA"/>
<path d="M315 780.1C302.5 784.7 302.3 799.7 296.2 807.7C290.1 815.6 284.5 821.9 278.6 827.8C272.7 833.7 266.4 837 261 842.9C255.6 848.7 249.3 856.7 245.9 863C242.6 869.2 241.5 874.3 240.9 880.6C240.3 886.8 243 895.2 242.2 900.7C241.3 906.1 239 909.4 235.9 913.2C232.7 917 226.7 922.8 223.3 923.3C220 923.7 217.5 920.3 215.8 915.7C214.1 911.1 213.3 902.3 213.3 895.6C213.3 888.9 214.1 882.6 215.8 875.5C217.5 868.4 224.2 854.6 223.3 852.9C222.5 851.2 215.4 860.9 210.8 865.5C206.1 870.1 200.7 875.1 195.7 880.6C190.7 886 184.8 891.9 180.6 898.1C176.4 904.4 173.1 911.1 170.6 918.2C168 925.4 167 932.9 165.5 940.9C164.1 948.8 162.6 957.6 161.8 966C160.9 974.4 160.5 983.6 160.5 991.1C160.5 998.6 160.9 1004.5 161.8 1011.2C162.6 1017.9 164.3 1025 165.5 1031.3C166.8 1037.6 168.4 1044 169.3 1048.9C170.2 1053.8 169.1 1055.4 170.8 1060.6C172.5 1065.9 177.3 1073.6 179.3 1080.1C181.4 1086.6 182 1092.7 183 1099.6C184 1106.6 184.6 1114.7 185.4 1121.6C186.3 1128.5 187.5 1135.3 187.9 1141.1C188.3 1146.9 187.1 1151 187.9 1156.3C188.7 1161.7 190.7 1166.9 192.8 1173.4C194.8 1179.9 198 1188 200.1 1195.3C202.1 1202.6 203.3 1209.6 204.9 1217.3C206.6 1225 207.8 1233.5 209.8 1241.6C211.8 1249.8 214.3 1258.3 217.1 1266C220 1273.7 222.8 1281.1 226.9 1288C230.9 1294.9 236.6 1301 241.5 1307.5C246.4 1314 252.1 1320 256.1 1327C260.2 1333.9 261.4 1341.6 265.9 1348.9C270.3 1356.2 277.2 1363.9 282.9 1370.8C288.6 1377.7 293.9 1384.6 300 1390.3C306.1 1396 312.2 1400.9 319.5 1404.9C326.8 1409 336.6 1411 343.9 1414.7C351.2 1418.4 356.9 1422 363.4 1426.9C369.9 1431.8 374.7 1438.7 382.9 1443.9C391 1449.2 402.4 1453.7 412.1 1458.6C421.9 1463.4 431.2 1467.9 441.4 1473.2C451.5 1478.5 462.5 1485 473 1490.3C483.6 1495.5 495.2 1500 504.7 1504.9C514.3 1509.8 524.9 1515 530.3 1519.5C535.8 1524 536.2 1546.2 537.4 1532C538.6 1517.7 544.1 1452.4 537.4 1434C530.7 1415.5 507.7 1425.6 497.2 1421.4C486.7 1417.2 482.1 1413.5 474.6 1408.8C467 1404.2 459.5 1398.8 452 1393.8C444.4 1388.7 436.5 1383.3 429.3 1378.7C422.2 1374.1 416.4 1370.3 409.2 1366.1C402.1 1361.9 393.8 1357.8 386.6 1353.6C379.5 1349.4 373.2 1345.6 366.5 1341C359.8 1336.4 352.7 1331.4 346.4 1325.9C340.2 1320.5 334.3 1314.2 328.8 1308.3C323.4 1302.5 318.4 1296.2 313.8 1290.8C309.2 1285.3 304.8 1281.1 301.2 1275.7C297.6 1270.2 293.7 1262.3 292.4 1258.1C291.2 1253.9 292.6 1253.9 293.7 1250.6C294.7 1247.2 296.2 1242.6 298.7 1238C301.2 1233.4 305 1227.1 308.7 1222.9C312.5 1218.7 316.7 1215.6 321.3 1212.9C325.9 1210.1 329.7 1209.1 336.4 1206.6C343.1 1204.1 353.1 1200.9 361.5 1197.8C369.9 1194.6 378.3 1191.1 386.6 1187.7C395 1184.4 404.2 1181 411.8 1177.7C419.3 1174.3 425.2 1171.4 431.9 1167.6C438.6 1163.9 446.9 1159.7 452 1155.1C457 1150.5 465.4 1137.5 462 1140C458.7 1142.5 434.4 1167.2 431.9 1170C429.3 1172.8 441.5 1162 446.9 1156.9C452.4 1151.8 458.7 1145.6 464.5 1139.3C470.4 1133.1 476.7 1126.4 482.1 1119.2C487.6 1112.1 492.2 1104.6 497.2 1096.6C502.2 1088.7 508.1 1079.9 512.3 1071.5C516.4 1063.1 520 1054.8 522.3 1046.4C524.6 1038 525.7 1029.6 526.1 1021.3C526.5 1012.9 525.9 1004.5 524.8 996.1C523.8 987.8 521.9 979.4 519.8 971C517.7 962.6 515.2 954.3 512.3 945.9C509.3 937.5 506.4 928.7 502.2 920.8C498 912.8 493.8 905.7 487.1 898.1C480.4 890.6 470.4 883.1 462 875.5C453.6 868 445.3 860 436.9 852.9C428.5 845.8 420.1 840.4 411.8 832.8C403.4 825.3 393.3 816.5 386.6 807.7C379.9 798.9 383.5 784.7 371.6 780.1C359.6 775.4 327.6 775.4 315 780.1Z" fill="#B1D7A6"/>
<path d="M170.8 1060.6C172.5 1065.9 177.3 1073.6 179.3 1080.1C181.4 1086.6 182 1092.7 183 1099.6C184 1106.6 185.4 1110.7 185.4 1121.6C185.5 1132.5 183.1 1151.6 183.1 1165.1C183.1 1178.7 184.8 1190.3 185.6 1202.8C186.5 1215.4 187.3 1229.2 188.1 1240.5C189 1251.8 189.2 1261.4 190.7 1270.7C192.1 1279.9 193.6 1287.4 196.9 1295.8C200.3 1304.2 205.9 1312.9 210.8 1320.9C215.6 1328.9 220.4 1336 225.8 1343.5C231.3 1351.1 237.6 1359.4 243.4 1366.1C249.3 1372.8 255.1 1378.3 261 1383.7C266.9 1389.2 272.3 1393.8 278.6 1398.8C284.9 1403.8 291.6 1409.3 298.7 1413.9C305.8 1418.5 313.8 1421.8 321.3 1426.4C328.8 1431 336 1436.5 343.9 1441.5C351.9 1446.5 360.7 1451.1 369 1456.6C377.4 1462 386.2 1468.3 394.2 1474.2C402.1 1480 410.5 1485.9 416.8 1491.8C423.1 1497.6 428.1 1503.5 431.9 1509.3C435.6 1515.2 495.5 1524 439.4 1526.9C383.3 1529.9 151.7 1529.9 95.2 1526.9C38.6 1524 98.1 1515.2 100.2 1509.3C102.3 1503.5 105.2 1498.9 107.7 1491.8C110.3 1484.6 112.3 1475 115.3 1466.6C118.2 1458.3 122.6 1449.9 125.3 1441.5C128 1433.1 130.8 1424.8 131.6 1416.4C132.4 1408 131.8 1399.6 130.4 1391.3C128.9 1382.9 125.7 1374.5 122.8 1366.1C119.9 1357.8 117.8 1349.4 112.8 1341C107.7 1332.6 96.9 1324.3 92.7 1315.9C88.5 1307.5 88.7 1307.5 87.6 1290.8C86.6 1274 86.3 1238 86.4 1215.4C86.5 1192.8 87.1 1166.5 88.1 1155.1C89.2 1143.7 89.8 1152 92.7 1146.9C95.5 1141.8 100.2 1131.4 105.2 1124.3C110.3 1117.2 116.5 1110.5 122.8 1104.2C129.1 1097.9 136.6 1092.4 142.9 1086.6C149.2 1080.7 156.1 1075.3 160.5 1069C164.9 1062.7 167.6 1050.3 169.3 1048.9C171 1047.5 169.1 1055.4 170.8 1060.6Z" fill="#B1D7A6"/>
<path d="M245.9 1046.4C247.6 1041.8 255.6 1035.9 261 1031.3C266.4 1026.7 272.3 1021.7 278.6 1018.7C284.9 1015.8 292 1013.7 298.7 1013.7C305.4 1013.7 312.5 1015.4 318.8 1018.7C325.1 1022.1 332 1028.4 336.4 1033.8C340.8 1039.3 343.5 1045.1 345.2 1051.4C346.9 1057.7 347.1 1064.8 346.4 1071.5C345.8 1078.2 343.9 1085.3 341.4 1091.6C338.9 1097.9 335.1 1104.2 331.4 1109.2C327.6 1114.2 323 1118.8 318.8 1121.8C314.6 1124.7 310.8 1125.1 306.2 1126.8C301.6 1128.5 295.3 1129.3 291.2 1131.8C287 1134.3 284 1138.1 281.1 1141.9C278.2 1145.6 275.7 1149.4 273.6 1154.4C271.5 1159.4 271.5 1169.1 268.5 1172C265.6 1174.9 257.7 1180.4 256 1172C254.3 1163.6 258.5 1136.4 258.5 1121.8C258.5 1107.1 257.2 1094.5 256 1084.1C254.7 1073.6 252.6 1065.2 251 1058.9C249.3 1052.7 244.3 1051 245.9 1046.4Z" fill="#9DBB9A"/>
<path d="M202 880.1 L196.7 883.2 L189.1 891.5 L184.2 895.7 L180.1 900.3 L175.7 913.3 L173.9 918.7 L172.2 925.5 L170.7 930.9 L169.3 936.3 L168 941.3 L166.9 945.8 L166.3 948.5 L165.9 952.5 L165.3 957 L164.9 961.4 L164.4 965.9 L164 970.3 L163.3 978.1 L163.5 982.2 L163.7 986.3 L163.7 996.9 L165.7 1014.4 L172.7 1033.5 L176.5 1041.9 L178.4 1047.1 L180.3 1052.1 L180.6 1054.7 L180 1055.9 L179.4 1057.2 L180.1 1061.5 L180.4 1064.7 L180.6 1068 L180.8 1071.2 L181.3 1074.6 L182.1 1078.3 L181.8 1079.2 L181.2 1079.6 L180.5 1079.8 L179.8 1080.1 L180.2 1084.9 L181.2 1089.8 L182.1 1094.9 L183 1099.6 L183.1 1100.3 L183.7 1105.7 L184.3 1111 L184.8 1115.8 L185.3 1120.6 L186 1126.3 L186.6 1131 L187.2 1135.9 L187.8 1140.7 L187.9 1141.1 L187.9 1142.1 L187.9 1146.5 L191.6 1169.5 L193.8 1176.6 L195.3 1181.1 L196.9 1185.9 L198.5 1190.7 L200.1 1195.3 L200.1 1195.3 L200.9 1199.2 L202.1 1204.4 L203.3 1209.7 L204.4 1214.9 L205.2 1218.5 L206.2 1223.4 L207.1 1228.3 L208.1 1233.1 L209 1237.6 L211.7 1247.9 L213 1252.3 L214.4 1256.9 L218.9 1270.1 L221.1 1275 L223.3 1280 L234.2 1297.8 L237.9 1302.7 L241.7 1307.7 L245.4 1312.6 L249.1 1317.5 L252.5 1322.1 L255.9 1326.7 L256.1 1327 L256.1 1327 L257.3 1329.5 L259.7 1334.9 L262.1 1340.3 L273.9 1359.3 L277.4 1363.7 L280.8 1368.1 L286.9 1375.4 L290.6 1379.6 L294.3 1383.8 L309.1 1397.1 L329.4 1408.9 L334.3 1410.9 L338.8 1412.7 L343.3 1414.5 L343.9 1414.7 L343.9 1414.7 L347 1416.7 L352.1 1419.8 L357.2 1423 L362.3 1426.2 L363.4 1426.9 L363.8 1427.2 L368.3 1431.2 L372.9 1435.3 L392.4 1448.7 L398.1 1451.6 L403.8 1454.4 L409.5 1457.3 L415.1 1460.1 L420.7 1462.9 L426.3 1465.7 L431.9 1468.5 L438.2 1471.6 L442.8 1474 L449 1477.3 L455.2 1480.7 L461.1 1483.8 L466.9 1487 L476.4 1491.8 L482.4 1494.6 L487.3 1496.8 L492.2 1499.1 L497.1 1501.3 L502 1503.6 L505.8 1505.5 L514.6 1510.5 L523.5 1515.6 L533.7 1521.3 L567.6 1459.1 L557.6 1456 L547.6 1452.9 L537.7 1449.8 L528.2 1446.9 L523 1445.2 L517.8 1443.5 L512.7 1441.8 L507.6 1440.1 L501.5 1437.4 L495.2 1434.5 L489.1 1431.7 L483.1 1428.9 L477 1425.3 L470.9 1421.7 L465 1418.2 L458.9 1414.5 L453.4 1411.5 L447.9 1408.5 L442.4 1405.4 L437 1402.4 L431.5 1399.1 L426 1395.8 L420.5 1392.5 L414 1388.4 L408.9 1385 L403.7 1381.6 L398.9 1378.4 L394.1 1375.3 L388.9 1372.2 L383.8 1369.2 L378.6 1366.1 L373.6 1363.1 L369.6 1360.8 L365.6 1358.5 L361.4 1356.2 L357.1 1353.8 L352.8 1350.4 L347.4 1346.1 L342.3 1341.7 L338.1 1338 L334.4 1333.8 L330.6 1329.4 L327 1325.1 L323.4 1320.8 L319.1 1315 L315.6 1310.1 L312 1305.2 L308.6 1300.5 L305.7 1296 L302.9 1291.4 L299.8 1286.6 L296.7 1281.8 L293.7 1276.4 L290.6 1271 L287.5 1265.5 L284.4 1260.1 L281.3 1254.2 L278.9 1249.3 L276.5 1244.5 L273.9 1239 L272.1 1234.6 L270.3 1230.4 L268.4 1225.7 L266.7 1221.4 L265.4 1216.7 L264.2 1211.8 L263 1206.9 L261.8 1202.2 L261.5 1196.8 L261.3 1191.3 L261.2 1185.8 L261.1 1180.3 L260.2 1175.5 L258.9 1170.6 L257.6 1165.7 L256.3 1160.7 L255.3 1156.2 L254.2 1151.6 L253.2 1146.5 L252.3 1142.1 L252 1137.5 L252 1132.7 L251.9 1127.8 L251.8 1122.9 L252.1 1118 L252.4 1113.1 L252.8 1108.2 L253.2 1103.3 L253.4 1098 L253.5 1092.5 L253.7 1086.9 L253.8 1081.4 L253.2 1076.3 L252.2 1071.4 L251.3 1066.5 L250.3 1061.4 L249 1057.4 L247.5 1053.9 L246 1050.3 L244.6 1046.9 L243 1044 L241.4 1041.4 L239.7 1038.8 L238 1036.2 L235.9 1032.5 L233.4 1028.3 L231 1024 L228.6 1019.9 L226 1015.4 L223.4 1010.7 L220.7 1006 L218 1001.3 L216.1 996.9 L214.6 992.6 L213.1 988.4 L211.6 984.1 L210.9 979.7 L210.7 975.1 L210.6 970.6 L210.4 966 L210.4 961.5 L210.6 956.9 L210.1 952.2 L209.2 947.5 L208.8 942.2 L208.7 936.6 L208.6 931 L208.5 925.2 L208.8 919.5 L210 912.3 L209.3 905.8 L207.5 898.9 L207.5 889.7 L206.8 882.9Z" fill="#9DBB9A"/>
<path d="M191.8 902.6 L187.1 913.2 L184.6 918.5 L182.5 923.8 L180.3 930.2 L179.1 935.7 L178 941.1 L177.2 945.6 L176.5 949.7 L176.6 953 L176.5 957.6 L176.5 962.2 L176.6 966.7 L176.7 971.2 L176.4 978.3 L177.3 982.5 L178.3 986.7 L179.1 995.4 L180.4 999.7 L185.9 1023.9 L188.4 1031.8 L189.8 1037.4 L191.2 1043 L191.7 1047.3 L191 1049.6 L190.2 1051.7 L190.4 1056 L190.1 1059.5 L189.8 1062.9 L189.6 1066.4 L189.3 1069.9 L189.5 1073.8 L189.1 1076.2 L188 1077.2 L186.9 1078 L185.6 1078.8 L184.9 1082.6 L184.4 1087.8 L184 1093 L184.4 1098.4 L184.1 1099.5 L184 1104.2 L184.1 1109.7 L184.7 1114.5 L185.2 1119.3 L185.9 1125 L186.5 1129.8 L187.1 1134.7 L187.7 1139.5 L187.9 1141.1 L187.9 1141.1 L187.9 1145.5 L191.3 1168.4 L193.5 1175.6 L194.9 1180 L196.6 1184.8 L198.2 1189.7 L199.8 1194.5 L200.1 1195.3 L200.7 1198 L201.8 1203.3 L203 1208.6 L204.2 1213.9 L205 1217.5 L206 1222.4 L207 1227.4 L207.9 1232.3 L208.8 1236.7 L211.5 1247.1 L212.8 1251.5 L214.1 1256 L215.7 1261.1 L220.7 1274.2 L223 1279.1 L233.6 1296.9 L237.3 1301.9 L241.1 1306.9 L244.8 1311.8 L248.5 1316.8 L252 1321.4 L255.4 1326 L256.1 1327 L256.1 1327 L256.9 1328.8 L259.3 1334.2 L261.8 1339.6 L273.5 1358.7 L276.9 1363.1 L280.4 1367.5 L286.5 1374.9 L290.2 1379.1 L293.8 1383.3 L308.6 1396.8 L328.8 1408.7 L333.8 1410.7 L338.3 1412.5 L342.8 1414.3 L343.9 1414.7 L343.9 1414.7 L346.6 1416.4 L351.6 1419.6 L356.7 1422.7 L361.8 1425.9 L363.4 1426.9 L363.4 1426.9 L368 1430.9 L372.6 1435 L392 1448.5 L397.7 1451.4 L403.5 1454.2 L409.2 1457.1 L414.8 1459.9 L420.4 1462.7 L426 1465.5 L431.6 1468.3 L438 1471.5 L442.5 1473.8 L448.8 1477.2 L455 1480.6 L460.9 1483.7 L466.8 1486.9 L476.3 1491.7 L482.3 1494.5 L487.2 1496.8 L492.1 1499.1 L497 1501.3 L501.9 1503.6 L505.8 1505.5 L514.6 1510.5 L523.5 1515.6 L533.7 1521.3 L565 1463.8 L554.9 1460.5 L545.1 1457.3 L535.2 1454 L526.1 1451.3 L520.9 1449.5 L515.8 1447.8 L510.6 1446.1 L505.5 1444.3 L499.4 1441.6 L492.8 1438.5 L486.7 1435.7 L480.7 1432.9 L474.5 1429.3 L468.4 1425.7 L462.6 1422.3 L456.4 1418.7 L450.9 1415.7 L445.4 1412.7 L439.9 1409.7 L434.4 1406.7 L428.9 1403.4 L423.4 1400.2 L417.8 1396.9 L410.2 1392 L405.1 1388.5 L400 1385.1 L395.6 1382.2 L391 1379.3 L385.8 1376.2 L380.7 1373.1 L375.5 1370.1 L370.7 1367.3 L367.1 1365.2 L363.3 1363.1 L359 1360.7 L354.7 1358.4 L350.3 1355 L343.6 1350.1 L337.7 1344.9 L333.5 1341.2 L329.8 1336.9 L325.8 1332.2 L322.2 1327.9 L318.5 1323.6 L313.6 1316.6 L310.2 1311.6 L306.7 1306.6 L303.5 1302.3 L300.9 1298.1 L298.2 1293.9 L295.1 1289 L292 1284.2 L288.8 1278.8 L285.7 1273.4 L282.5 1268 L279.3 1262.6 L275.6 1255.7 L273.2 1250.8 L270.3 1244.7 L268 1239.8 L266.3 1235.5 L264.5 1231.2 L262.6 1226 L260.9 1221.7 L259.7 1216.8 L258.5 1211.9 L257.3 1207 L256.2 1202.4 L255.7 1196.9 L255.3 1191.5 L254.8 1186 L254.4 1181 L253.1 1176.7 L251.6 1171.9 L250 1167 L248.5 1162.1 L247.2 1157.7 L245.8 1152.9 L244.3 1145.5 L243.2 1141.1 L243 1137 L242.7 1132.6 L242.3 1127.8 L241.9 1122.9 L241.9 1118 L241.9 1113 L241.9 1108.2 L242 1103.3 L241.7 1097.8 L241.3 1092.5 L240.9 1087.8 L240.4 1082.4 L238.9 1077.6 L237.5 1072.7 L236.2 1068.2 L234.9 1064.3 L233.3 1061.6 L231.8 1059 L230.1 1056.1 L228.2 1052.8 L226.4 1050.3 L224.6 1047.7 L222.7 1045.2 L220.9 1042.6 L218.4 1038.8 L216.4 1035.8 L214.3 1032.9 L211.8 1029.3 L208.8 1024.8 L205.8 1020.3 L202.1 1014.6 L196.6 999.7 L195.6 995.4 L194.9 988.8 L194 984.6 L193.1 980.4 L193.5 974.6 L193.6 970.1 L193.8 965.6 L194 961.1 L194.4 956.6 L194.7 952.7 L194.7 948.2 L194.8 943.7 L195.4 938.1 L196 932.6 L194.9 926.1 L193.8 920.2 L193.2 914.3 L194.4 903.6Z" fill="#959E90"/>
<path d="M197.9 1038.5 L198.5 1043 L198 1045.8 L197.4 1048.5 L197.5 1052.9 L197.2 1056.3 L196.9 1059.8 L196.6 1063.3 L196.3 1066.8 L196.4 1070.8 L195.8 1073.5 L194.7 1074.9 L193.5 1076.1 L192.1 1077.5 L191.2 1081.4 L190.6 1086.6 L189.9 1091.9 L189.2 1097.5 L187.7 1099.1 L186.6 1104 L186.4 1109.5 L186.4 1114.3 L186.3 1119.2 L186.4 1125 L186.5 1129.8 L187.1 1134.7 L187.7 1139.5 L187.9 1141.1 L187.9 1141.1 L187.9 1145.5 L191.3 1168.4 L193.5 1175.6 L194.9 1180 L196.6 1184.8 L198.2 1189.7 L199.8 1194.5 L200.1 1195.3 L200.7 1198 L201.8 1203.3 L203 1208.6 L204.2 1213.9 L205 1217.5 L206 1222.4 L207 1227.4 L207.9 1232.3 L208.8 1236.7 L211.5 1247.1 L212.8 1251.5 L214.1 1256 L215.7 1261.1 L220.7 1274.2 L223 1279.1 L233.6 1296.9 L237.3 1301.9 L241.1 1306.9 L244.8 1311.8 L248.5 1316.8 L252 1321.4 L255.4 1326 L256.1 1327 L256.1 1327 L256.9 1328.8 L259.3 1334.2 L261.8 1339.6 L273.5 1358.7 L276.9 1363.1 L280.4 1367.5 L286.5 1374.9 L290.2 1379.1 L293.8 1383.3 L308.6 1396.8 L328.8 1408.7 L333.8 1410.7 L338.3 1412.5 L342.8 1414.3 L343.9 1414.7 L343.9 1414.7 L346.6 1416.4 L351.6 1419.6 L356.7 1422.7 L361.8 1425.9 L363.4 1426.9 L363.4 1426.9 L368 1430.9 L372.6 1435 L392 1448.5 L397.7 1451.4 L403.5 1454.2 L409.2 1457.1 L414.8 1459.9 L420.4 1462.7 L426 1465.5 L431.6 1468.3 L438 1471.5 L442.5 1473.8 L448.8 1477.2 L455 1480.6 L460.9 1483.7 L466.8 1486.9 L476.3 1491.7 L482.3 1494.5 L487.2 1496.8 L492.1 1499.1 L497 1501.3 L501.9 1503.6 L505.8 1505.5 L514.6 1510.5 L523.5 1515.6 L533.7 1521.3 L562.8 1467.9 L552.7 1464.4 L542.9 1461.1 L533.1 1457.7 L524.3 1455 L519.2 1453.3 L514.1 1451.5 L508.9 1449.7 L503.8 1448 L497.7 1445.3 L490.9 1442.1 L484.8 1439.3 L478.8 1436.5 L472.6 1432.9 L466.5 1429.3 L460.7 1426 L454.6 1422.4 L449 1419.4 L443.5 1416.5 L438 1413.5 L432.5 1410.5 L426.9 1407.3 L421.4 1404.1 L415.8 1400.9 L407.3 1395.3 L402.2 1391.8 L397.2 1388.3 L393.1 1385.7 L388.7 1382.9 L383.5 1379.9 L378.4 1376.8 L373.2 1373.7 L368.6 1371 L365.2 1369.1 L361.7 1367.2 L357.3 1364.9 L353 1362.6 L348.6 1359.4 L340.7 1353.9 L334.1 1348 L330 1344.3 L326.3 1340 L322.1 1335.1 L318.4 1330.8 L314.8 1326.5 L309.3 1318.5 L305.9 1313.5 L302.5 1308.5 L299.5 1304.3 L297.1 1300.6 L294.6 1296.6 L291.4 1291.8 L288.3 1287 L285.1 1281.6 L281.8 1276.3 L278.6 1270.9 L275.4 1265.6 L271.1 1257.8 L268.7 1252.9 L265.6 1246.1 L263.3 1241.2 L261.6 1236.9 L259.9 1232.6 L257.8 1226.9 L256.2 1222.6 L255 1217.7 L253.8 1212.9 L252.6 1208 L251.5 1203.4 L251 1198 L250.4 1192.5 L249.9 1187.1 L249.5 1182.3 L248.3 1178.4 L246.7 1173.5 L245.1 1168.6 L243.6 1163.8 L242.3 1159.4 L240.8 1154.3 L239 1145.5 L238.1 1141.1 L237.8 1137.4 L237.5 1133.3 L237.1 1128.4 L236.7 1123.5 L236.7 1118.7 L236.6 1113.6 L236.5 1108.8 L236.5 1103.9 L236.1 1098.5 L235.5 1093.2 L234.9 1089 L234.1 1083.6 L232.5 1078.8 L230.9 1074 L229.5 1069.6 L228.1 1066.2 L226.6 1064 L225 1061.7 L223.2 1059.1 L221.2 1055.9 L219.4 1053.3 L217.6 1050.8 L215.8 1048.2 L213.9 1045.7 L210.3 1042.5 L207.3 1040.7 L204.4 1039.2 L200.8 1036.6Z" fill="#90868A"/>
<path d="M199.4 1073.5 L198.1 1075.1 L196.6 1076.8 L195.7 1081.6 L194.8 1086.8 L193.9 1092.2 L192.9 1097.8 L191.2 1099 L189.9 1104.6 L189.8 1110 L189.8 1114.8 L189.7 1119.7 L189.8 1125.4 L189.8 1130.3 L189.8 1135.2 L189.9 1140.1 L189.4 1141 L188.9 1141.8 L188.5 1146.2 L191.9 1169 L193.9 1176.3 L195.2 1180.7 L196.8 1185.6 L198.4 1190.4 L200 1195.2 L200.1 1195.3 L200.8 1198.8 L202 1204.1 L203.2 1209.4 L204.3 1214.6 L205.1 1218.2 L206.1 1223.1 L207.1 1228 L208.1 1232.9 L208.9 1237.3 L211.6 1247.7 L213 1252.1 L214.3 1256.6 L215.8 1261.7 L221 1274.8 L223.2 1279.7 L234 1297.5 L237.8 1302.5 L241.5 1307.4 L245.2 1312.4 L248.9 1317.3 L252.3 1321.9 L255.7 1326.5 L256.1 1327 L256.1 1327 L257.2 1329.3 L259.6 1334.7 L262 1340.1 L273.8 1359.1 L277.2 1363.5 L280.7 1367.9 L286.8 1375.2 L290.5 1379.5 L294.1 1383.6 L308.9 1397 L329.2 1408.8 L334.1 1410.8 L338.6 1412.6 L343.1 1414.4 L343.9 1414.7 L343.9 1414.7 L346.9 1416.6 L352 1419.8 L357 1422.9 L362.1 1426.1 L363.4 1426.9 L363.7 1427.1 L368.2 1431.2 L372.8 1435.2 L392.3 1448.7 L398 1451.5 L403.7 1454.4 L409.4 1457.2 L415 1460 L420.6 1462.8 L426.2 1465.6 L431.8 1468.4 L438.1 1471.6 L442.7 1473.9 L448.9 1477.3 L455.2 1480.6 L461 1483.8 L466.9 1486.9 L476.4 1491.8 L482.4 1494.6 L487.3 1496.8 L492.2 1499.1 L497.1 1501.3 L502 1503.6 L505.8 1505.5 L514.6 1510.5 L523.5 1515.6 L533.7 1521.3 L560.2 1472.6 L550.1 1468.9 L540.4 1465.4 L530.7 1461.9 L522.4 1459.3 L517.3 1457.5 L512.2 1455.7 L507.1 1453.9 L502 1452.1 L496 1449.4 L488.9 1446.1 L482.9 1443.2 L476.8 1440.4 L470.7 1436.9 L464.6 1433.3 L458.9 1430.1 L452.8 1426.6 L447.2 1423.6 L441.7 1420.6 L436.2 1417.7 L430.7 1414.7 L425.1 1411.5 L419.6 1408.3 L414 1405.1 L404.6 1398.9 L399.5 1395.4 L394.5 1391.9 L390.7 1389.4 L386.7 1386.8 L381.5 1383.8 L376.4 1380.7 L371.2 1377.6 L366.7 1374.9 L363.6 1373.2 L360.3 1371.4 L356 1369.1 L351.7 1366.9 L347.2 1363.8 L338.3 1357.8 L331 1351.4 L326.9 1347.6 L323.2 1343.4 L318.8 1338.3 L315.2 1334 L311.6 1329.7 L305.6 1320.7 L302.3 1315.7 L299 1310.7 L296.1 1306.6 L293.9 1303.2 L291.6 1299.6 L288.4 1294.8 L285.2 1290 L282 1284.8 L278.8 1279.5 L275.5 1274.2 L272.2 1268.8 L267.3 1260.1 L264.9 1255.3 L261.6 1248 L259.5 1243 L257.7 1238.7 L256 1234.4 L253.9 1228.3 L252.4 1224 L251.1 1219.2 L250 1214.3 L248.8 1209.4 L247.7 1205 L247 1199.6 L246.5 1194.2 L245.9 1188.8 L245.4 1183.9 L244.5 1180.4 L242.9 1175.6 L241.3 1170.7 L239.8 1165.9 L238.4 1161.4 L236.9 1156.2 L234.9 1146.2 L234 1141.8 L233.5 1138.3 L233.2 1134.7 L232.6 1129.8 L232.1 1125 L231.8 1120.2 L231.5 1115 L231.3 1110.2 L231.1 1105.4 L230.7 1100.1 L228 1094.9 L225.4 1091.7 L222.5 1086.8 L219.1 1082.3 L215.6 1077.9 L212.1 1073.7 L209.1 1072.1 L206.1 1071.3Z" fill="#8B6E80"/>
<path d="M197.5 1138.3 L196.3 1140.5 L194.9 1141.1 L193.6 1145.5 L195.4 1167.3 L196.2 1174.7 L196.2 1179.6 L197.5 1184.5 L198.8 1189.5 L200.1 1194.4 L200.1 1195.3 L200.7 1198 L201.8 1203.3 L203 1208.6 L204.2 1213.9 L205 1217.5 L206 1222.4 L207 1227.4 L207.9 1232.3 L208.8 1236.7 L211.5 1247.1 L212.8 1251.5 L214.1 1256 L215.7 1261.1 L220.7 1274.2 L223 1279.1 L233.6 1296.9 L237.3 1301.9 L241.1 1306.9 L244.8 1311.8 L248.5 1316.8 L252 1321.4 L255.4 1326 L256.1 1327 L256.1 1327 L256.9 1328.8 L259.3 1334.2 L261.8 1339.6 L273.5 1358.7 L276.9 1363.1 L280.4 1367.5 L286.5 1374.9 L290.2 1379.1 L293.8 1383.3 L308.6 1396.8 L328.8 1408.7 L333.8 1410.7 L338.3 1412.5 L342.8 1414.3 L343.9 1414.7 L343.9 1414.7 L346.6 1416.4 L351.6 1419.6 L356.7 1422.7 L361.8 1425.9 L363.4 1426.9 L363.4 1426.9 L368 1430.9 L372.6 1435 L392 1448.5 L397.7 1451.4 L403.5 1454.2 L409.2 1457.1 L414.8 1459.9 L420.4 1462.7 L426 1465.5 L431.6 1468.3 L438 1471.5 L442.5 1473.8 L448.8 1477.2 L455 1480.6 L460.9 1483.7 L466.8 1486.9 L476.3 1491.7 L482.3 1494.5 L487.2 1496.8 L492.1 1499.1 L497 1501.3 L501.9 1503.6 L505.8 1505.5 L514.6 1510.5 L523.5 1515.6 L533.7 1521.3 L556.5 1479.4 L546.4 1475.4 L536.8 1471.7 L527.2 1468 L519.5 1465.5 L514.4 1463.6 L509.3 1461.8 L504.2 1459.9 L499.2 1458.1 L493.1 1455.3 L485.7 1451.8 L479.6 1448.9 L473.6 1446 L467.5 1442.5 L461.3 1439 L455.8 1435.8 L449.6 1432.4 L444 1429.5 L438.5 1426.5 L433 1423.6 L427.4 1420.7 L421.8 1417.5 L416.2 1414.4 L410.6 1411.2 L399.7 1403.9 L394.8 1400.4 L389.8 1396.8 L386.6 1394.7 L382.8 1392.3 L377.7 1389.2 L372.5 1386.2 L367.4 1383.1 L363.2 1380.6 L360.5 1379.1 L357.5 1377.5 L353.2 1375.3 L348.8 1373.2 L344.2 1370.2 L333.7 1363.3 L325.3 1355.8 L321.2 1351.9 L317.5 1347.7 L312.9 1342.2 L309.3 1337.9 L305.7 1333.6 L298.8 1323.1 L295.6 1318.1 L292.5 1313 L289.9 1309.3 L288.1 1306.4 L285.9 1303.1 L282.7 1298.3 L279.5 1293.6 L276.1 1288.3 L272.8 1283.1 L269.5 1277.8 L266.1 1272.5 L260.1 1262.6 L257.4 1257.9 L253.5 1249.7 L251.1 1244.8 L249.2 1240.6 L247.3 1236.4 L244.8 1229.5 L243 1225.3 L241.6 1220.4 L239.9 1215.6 L238.1 1210.9 L236.3 1206.8 L234.8 1201.6 L233.2 1196.4 L231.7 1191.2 L230.4 1187.3 L228.8 1184.9 L226.4 1180.3 L224 1175.7 L221.7 1171.1 L218 1167.5 L213.8 1162 L208.7 1145.5 L205.9 1141.1 L203.4 1139.9 L200.8 1137.9Z" fill="#835678"/>
<path d="M372.2 1409.4 L374.7 1411.3 L376.1 1412.5 L380.7 1416.5 L385.3 1420.5 L400.6 1431.4 L406.1 1434.6 L411.7 1437.8 L417.2 1441.1 L422.9 1443.8 L428.5 1446.5 L434.2 1449.2 L439.8 1451.9 L446.1 1455.1 L451.2 1457.7 L457.5 1461 L463.8 1464.3 L469.8 1467.2 L475.8 1470.1 L484.4 1474.2 L490.5 1476.8 L491.1 1475.6 L485.1 1472.6 L476.8 1468.2 L471 1464.9 L465.2 1461.7 L459.1 1458 L453.1 1454.3 L448.1 1451.2 L441.9 1447.7 L436.5 1444.5 L431.1 1441.4 L425.6 1438.2 L420.2 1435.1 L414.4 1432.4 L408.5 1429.8 L402.7 1427.1 L387.9 1417.5 L382.8 1414 L377.8 1410.5 L375.8 1409.7 L372.9 1408.3Z" fill="#835678"/>
<path d="M200.4 1197 L201.6 1202.3 L202.8 1207.6 L204 1212.9 L204.9 1217.3 L205.8 1221.5 L206.8 1226.4 L207.8 1231.4 L208.7 1235.9 L211.2 1246.4 L212.6 1250.8 L213.9 1255.2 L215.4 1260.2 L220.4 1273.3 L222.6 1278.3 L233.1 1296.2 L236.8 1301.1 L240.5 1306.1 L244.2 1311.1 L248 1316.1 L251.5 1320.7 L254.9 1325.3 L256.1 1327 L256.1 1327 L256.6 1328 L259 1333.5 L261.4 1338.9 L273 1358.1 L276.5 1362.6 L280 1367 L286.1 1374.4 L289.8 1378.6 L293.4 1382.8 L308.1 1396.4 L328.3 1408.5 L333.3 1410.5 L337.9 1412.3 L342.4 1414.1 L343.9 1414.7 L343.9 1414.7 L346.1 1416.1 L351.2 1419.3 L356.3 1422.5 L361.4 1425.7 L363.4 1426.9 L363.4 1426.9 L367.7 1430.7 L372.3 1434.7 L391.6 1448.3 L397.4 1451.2 L403.1 1454.1 L408.9 1456.9 L414.5 1459.8 L420.1 1462.6 L425.7 1465.4 L431.4 1468.2 L437.7 1471.4 L442.3 1473.7 L448.5 1477.1 L454.8 1480.4 L460.7 1483.6 L466.6 1486.8 L476.1 1491.7 L482.2 1494.5 L487.1 1496.8 L492 1499 L496.9 1501.3 L501.9 1503.5 L505.7 1505.4 L514.6 1510.5 L523.4 1515.6 L533.7 1521.3 L551.4 1488.9 L541.2 1484.5 L531.7 1480.5 L522.2 1476.5 L515.4 1474.2 L510.3 1472.3 L505.3 1470.4 L500.2 1468.4 L495.1 1466.5 L489 1463.8 L481.1 1459.9 L475 1457 L469 1454.1 L462.8 1450.6 L456.6 1447.1 L451.2 1444.2 L445 1440.9 L439.4 1438 L433.8 1435.1 L428.2 1432.3 L422.7 1429.4 L417 1426.3 L411.3 1423.3 L405.7 1420.2 L392.7 1411.4 L387.8 1407.7 L383 1404.2 L380.6 1402.7 L377.2 1400.5 L372 1397.4 L366.8 1394.4 L361.6 1391.3 L358.1 1389.2 L356.1 1388.1 L353.3 1386.8 L348.9 1384.7 L344.4 1382.6 L339.7 1380 L326.6 1371.7 L316.5 1362.7 L312.5 1358.7 L308.7 1354.5 L303.7 1348.6 L300 1344.3 L296.4 1339.9 L288.2 1327.1 L285.1 1321.9 L282.1 1316.7 L280.2 1314 L278.8 1312 L276.7 1309 L273.3 1304.3 L269.9 1299.6 L266.4 1294.5 L262.9 1289.3 L259.3 1284.2 L255.8 1279.2 L247.9 1267.1 L244.8 1262.5 L240 1252.9 L237.4 1248.2 L235.1 1244 L232.8 1239.9 L229.7 1231.7 L227.7 1227.4 L225.9 1222.6 L222.7 1218.1 L218.6 1214.4 L214.5 1210.6 L210.3 1205.9 L206.1 1201.3 L201.7 1196.7Z" fill="#6A3665"/>
<path d="M81.4 619.3 L551 832M81.4 844.2 L551 1056.9M81.4 1069.2 L551 1281.9M81.4 1294.4 L551 1507.1M81.4 1519.5 L551 1732.2M81.4 990.9 L179 782.1M81.4 1472.1 L403.8 782.1M81.4 1954.2 L629.1 782.1M81.4 2436.7 L854.6 782.1" stroke="#9a9aa6" stroke-opacity="0.45" stroke-width="0.6" stroke-dasharray="2.2 1" fill="none"/>
<path d="M279.3 782.3 L276.4 785.7 L273.2 788.2 L270.3 792.5 L273.2 793.5 L271.2 796.4 L274.6 796.4 L273.2 799.9 L276.8 798.9 L276.1 802.8 L279.3 801.3 L278.8 805.2 L281.7 803.8 L282 807.7 L284.9 806.7 L285.4 810.1 L287.8 811.1 L292.7 809.6 L297.6 807.2 L304.9 805.9 L312.2 803.5 L313.4 799.9 L315.8 803.5 L321.9 801.1 L326.8 797.4 L329.2 793.8 L331.7 797.4 L332.9 807.2 L333.6 814.5 L336.6 816.4 L333.6 818.9 L330.5 829.1 L328 843.7 L326.3 851 L325.6 853.5 L323.2 865.7 L320.7 871.8 L321.9 877.8 L320.7 890 L317.1 902.2 L313.4 912 L309.7 921.7 L302.4 933.9 L298.8 941.2 L292.7 948.5 L286.6 955.8 L280.5 964.4 L276.8 972.9 L272.7 982.2 L276.1 980.7 L278.1 975.3 L281.7 975.3 L284.2 982.7 L286.6 994.8 L290.2 1004.6 L291.5 1019.2 L293.9 1033.8 L290.2 1048.5 L286.6 1063.1 L285.4 1077.7 L287.8 1094.8 L292.7 1109.4 L298.8 1121.6 L304.9 1131.3 L312.2 1141.1 L317.1 1146 L320.7 1144.7 L324.4 1148.4 L328.8 1146 L329.7 1141.1 L328 1126.5 L326.8 1116.7 L331.7 1102.1 L339 1085 L341.4 1070.4 L339 1058.2 L334.1 1046 L326.8 1033.8 L321.9 1024.1 L314.6 1018 L308.5 1009.5 L307.3 999.7 L311 985.1 L312.2 972.9 L309.7 965.6 L303.7 961.9 L304.9 953.4 L309.7 943.7 L317.1 936.3 L326.8 926.6 L336.6 919.3 L343.9 909.5 L350 899.8 L351.2 894.9 L358.5 893.7 L367 897.3 L368.2 902.2 L362.2 912 L365.8 915.6 L375.6 920.5 L382.9 926.6 L385.3 936.3 L388.2 941.2 L390.2 948.5 L391.4 960.7 L393.8 965.6 L393.1 971.7 L396.3 975.3 L399.9 981.4 L404.8 987.5 L412.1 994.8 L414.6 998.5 L407.2 1004.6 L402.4 1014.3 L398.7 1022.9 L404.8 1022.9 L414.6 1020.4 L424.3 1016.8 L429.2 1013.1 L431.1 1005.8 L435.3 1017.3 L438.4 1007 L442.6 1010.7 L445.8 1003.4 L450.6 1005.8 L454.8 1002.2 L458.4 1008.2 L473 1008.2 L487.7 1007 L497.4 1004.6 L507.2 997.3 L514.5 990 L516.9 982.7 L520.6 972.9 L523 960.7 L525.5 946.1 L527.9 931.5 L526.7 916.8 L523 904.7 L518.1 892.5 L512 882.7 L508.4 870.5 L504.7 863.2 L503.5 851 L501.1 841.3 L501.1 834 L507.2 826.7 L516.9 821.8 L531.5 818.1M194.6 1001.3 L197.1 998.8 L200.9 998.8 L205.2 1003.2 L209.6 1008.9 L214.7 1013.2 L220.9 1016.4 L228.4 1020.1 L234.7 1022.7 L237.9 1027 L240.4 1033.3 L242.2 1040.8 L246 1049.6 L249.1 1057.1 L252.3 1064.7 L256 1072.2 L259.8 1078.5 L261.7 1084.7 L262.3 1088.5 L264.8 1096 L267.3 1103.5 L269.2 1108.6 L270.5 1112.3 L271.1 1107.9 L273.6 1106 L276.7 1109.2 L279.2 1113.6 L279.9 1122.4 L283.6 1124.9 L286.1 1129.9 L288 1136.1 L289.9 1142.4 L292.4 1148.7 L296.2 1153.7 L298.7 1158.1 L292.4 1158.7 L286.8 1158.1 L293.7 1160 L299.9 1159.4 L303.7 1160 L306.2 1162.5 L308.1 1167.5 L307.5 1172.5 L302.4 1174.4 L298.7 1177.5 L296.8 1182.6 L297.4 1187.8 L302.4 1192.9 L309.7 1197.8 L307.3 1212.4 L308.5 1222.1 L302.4 1227 L312.2 1228.2 L320.7 1236.8 L323.2 1246.5 L324.4 1255.1 L317.1 1261.1 L312.2 1268.5 L307.3 1280.6 L300 1292.8 L292.7 1296.5 L287.8 1290.4 L282.9 1285.5 L274.4 1288.4 L272 1280.6 L264.7 1266 L257.3 1249 L251.3 1234.3 L243.9 1214.8 L237.8 1197.8 L237.2 1187.8 L237.2 1177.5 L236 1167.5 L234.7 1158.7 L233.5 1149.9 L232.2 1142.4 L231 1136.1 L228.4 1133 L225.9 1128.6 L225.3 1121.1 L225.9 1113.6 L227.4 1106 L227.8 1098.5 L226.6 1092.3 L223.4 1087.2 L219.7 1082.2 L215.9 1078.5 L215.3 1074.7 L217.2 1067.8 L215.9 1062.2 L214.7 1055.9 L212.1 1048.4 L208.4 1042.7 L204 1035.8 L200.9 1028.3 L197.7 1020.8 L195.2 1013.2 L194 1007 L194.6 1001.3 L194.6 1001.3M276.9 1309.6 L281.7 1311.6 L288.5 1308.9 L292.6 1303.4 L298.8 1300.7 L306.3 1306.2 L314.5 1311.6 L317.2 1310.3 L326.8 1318.5 L336.4 1325.3 L340.5 1328 L339.8 1334.9 L343.2 1340.4 L351.4 1345.8 L355.5 1347.2 L365.1 1347.9 L376.1 1355.4 L380.2 1352.7 L385.6 1355.4 L395.2 1363.6 L403.4 1373.2 L414.3 1388.2 L419.8 1393 L428 1396.4 L436.2 1400.5 L441.7 1404.6 L443.1 1408.7 L439.7 1412.2 L437.6 1416.9 L438.3 1422.4 L439 1425.1 L436.2 1423.8 L434.9 1419.7 L426.7 1414.2 L414.3 1406 L400.7 1399.2 L385.6 1392.3 L376.1 1386.9 L367.8 1381.4 L356.9 1371.8 L348.7 1365 L335 1355.4 L329.6 1356.1 L322.7 1349.9 L317.2 1347.2 L311.8 1341.7 L304.9 1337.6 L297.4 1333.5 L295.4 1326.7 L289.9 1322.6 L283.1 1318.5 L277.6 1313 L276.9 1309.6M417.8 1378 L422.6 1376.6 L433.5 1380.7 L441.7 1384.1 L443.1 1386.9 L436.2 1387.5 L428 1386.9 L421.2 1383.4 L417.1 1380.7 L417.8 1378M441 1413.5 L445.8 1412.2 L454 1416.3 L461.5 1422.4 L462.2 1426.5 L456.7 1428.6 L448.5 1427.9 L443.1 1422.4 L441 1416.9 L441 1413.5M468.4 1431.3 L474.5 1429.2 L480 1431.3 L482.7 1436.1 L480 1441.6 L474.5 1442.9 L470.4 1438.8 L468.4 1431.3M478.6 1446.3 L482.7 1443.6 L490.9 1441.6 L497.8 1440.9 L499.8 1437.5 L504.6 1438.8 L507.3 1442.9 L512.8 1447 L516.9 1444.3 L522.4 1448.4 L529.2 1451.1 L529.2 1459.3 L518.3 1455.2 L510.1 1454.5 L504.6 1451.1 L499.1 1452.5 L493.7 1449.8 L485.5 1451.1 L480 1449.8 L478.6 1446.3M516.9 1477.1 L522.4 1473.7 L529.2 1474.4 L529.2 1481.2M352.8 1259.7 L356.9 1254.2 L362.4 1252.8 L367.8 1256.9 L368.5 1262.4 L363.7 1267.9 L358.3 1266.5 L354.2 1263.8 L352.8 1259.7M317.1 1222.1 L324.4 1217.3 L334.1 1217.3 L336.6 1222.1 L332.9 1231.9 L335.3 1241.6 L342.7 1246.5 L336.6 1249 L329.2 1247.7 L325.6 1236.8 L323.2 1227 L317.1 1222.1M531.5 1177.8 L509.6 1189.2 L487.7 1188 L473 1185.6 L471.8 1191.7 L468.2 1191.7 L460.9 1201.4 L457.2 1208 L448.7 1201.4 L441.4 1194.1 L435.3 1185.6 L429.2 1183.2 L419.4 1188 L412.1 1197.8 L407.2 1212.4 L409.7 1222.1 L406 1231.9 L406 1241.6 L413 1246 L411.6 1254.2 L408.2 1262.4 L406.1 1272 L404.1 1280.2 L410.2 1282.2 L415.7 1285.6 L422.6 1288.4 L429.4 1291.1 L432.8 1295.2 L430.8 1300.7 L429.4 1306.2 L436.2 1304.8 L444.4 1308.2 L451.3 1308.9 L456.7 1304.1 L459.5 1308.9 L463.6 1313 L469.1 1317.1 L477.3 1321.2 L481.4 1325.3 L480 1333.5 L477.9 1340.4 L490.9 1340.4 L504.6 1339.7 L512.8 1336.2 L515.6 1330.8 L521 1323.9 L532 1314.4M506.7 1348.6 L510.1 1340.4 L514.2 1334.9 L518.3 1336.2 L515.6 1343.1 L511.5 1347.9 L506.7 1348.6M200.1 868.1 L204.9 858.3 L211 851 L215.9 841.3 L222 834 L226.9 832 L225.7 838.9 L218.3 846.2 L214.7 853.5 L208.6 860.8 L202.5 866.9 L200.1 868.1M192.4 880.3 L191 881.8 L189.3 882.3 L188 881.5 L187.6 879.8 L188.2 877.8 L189.6 876.3 L191.3 875.9 L192.6 876.6 L193 878.3 L192.4 880.3M184.5 909.5 L184.3 910.1 L183.8 910.5 L183.2 910.5 L182.7 910.1 L182.5 909.5 L182.7 909 L183.2 908.6 L183.8 908.6 L184.3 909 L184.5 909.5M182.8 929 L182.6 929.7 L182.1 930.2 L181.5 930.2 L181 929.7 L180.8 929 L181 928.3 L181.5 927.9 L182.1 927.9 L182.6 928.3 L182.8 929M186.7 935.6 L186.8 936.2 L186.3 936.9 L185.5 937.4 L184.7 937.4 L184.2 937.1 L184.1 936.4 L184.6 935.8 L185.4 935.3 L186.2 935.3 L186.7 935.6M185.7 957.4 L184.6 960.8 L183.2 962.7 L181.9 962.4 L181.1 960.1 L181.3 956.7 L182.3 953.4 L183.8 951.5 L185.1 951.7 L185.8 954 L185.7 957.4M202 992.9 L201.8 993.6 L201.2 994 L200.4 994 L199.8 993.6 L199.6 992.9 L199.8 992.2 L200.4 991.7 L201.2 991.7 L201.8 992.2 L202 992.9M307.1 897.3 L306.9 898.5 L306.4 899.2 L305.8 899.2 L305.3 898.5 L305.1 897.3 L305.3 896.2 L305.8 895.5 L306.4 895.5 L306.9 896.2 L307.1 897.3M315.2 895.6 L314.3 897.1 L313 897.7 L311.9 897.3 L311.3 896 L311.6 894.2 L312.5 892.8 L313.8 892.1 L314.9 892.5 L315.5 893.8 L315.2 895.6M303.7 907.1 L303.4 907.8 L302.8 908.3 L302.1 908.3 L301.4 907.8 L301.2 907.1 L301.4 906.4 L302.1 905.9 L302.8 905.9 L303.4 906.4 L303.7 907.1M311.9 912 L311.5 913.7 L310.4 914.8 L309.1 914.8 L308 913.7 L307.6 912 L308 910.3 L309.1 909.2 L310.4 909.2 L311.5 910.3 L311.9 912M314.9 905.9 L314.6 906.7 L313.9 907.3 L313 907.3 L312.2 906.7 L311.9 905.9 L312.2 905 L313 904.5 L313.9 904.5 L314.6 905 L314.9 905.9M297.3 925.4 L297.1 926.5 L296.6 927.2 L296 927.2 L295.6 926.5 L295.4 925.4 L295.6 924.2 L296 923.5 L296.6 923.5 L297.1 924.2 L297.3 925.4M304.6 924.2 L304.4 924.7 L304 925.1 L303.4 925.1 L302.9 924.7 L302.7 924.2 L302.9 923.6 L303.4 923.2 L304 923.2 L304.4 923.6 L304.6 924.2M291.1 940.5 L290.9 941.2 L290 941.9 L288.7 942.3 L287.6 942.4 L287 942 L287.2 941.3 L288.1 940.6 L289.3 940.1 L290.5 940.1 L291.1 940.5M319.8 961.4 L319.9 962.2 L319.5 963.2 L318.6 963.9 L317.5 964.2 L316.8 963.9 L316.6 963.1 L317.1 962.2 L318 961.4 L319 961.1 L319.8 961.4M309 1004.7 L308.4 1008.4 L307.3 1010.6 L306.3 1010.5 L305.6 1008.2 L305.6 1004.4 L306.3 1000.8 L307.3 998.5 L308.4 998.6 L309 1001 L309 1004.7M289.8 1020.4 L289.4 1021.9 L288.4 1022.8 L287.2 1022.8 L286.2 1021.9 L285.9 1020.4 L286.2 1019 L287.2 1018.1 L288.4 1018.1 L289.4 1019 L289.8 1020.4M289.5 1043.6 L289.2 1044.6 L288.3 1045.2 L287.3 1045.2 L286.4 1044.6 L286.1 1043.6 L286.4 1042.6 L287.3 1042 L288.3 1042 L289.2 1042.6 L289.5 1043.6M285.4 992.9 L285.2 993.8 L284.9 994.3 L284.4 994.3 L284.1 993.8 L283.9 992.9 L284.1 992 L284.4 991.5 L284.9 991.5 L285.2 992 L285.4 992.9M384.1 937.6 L383.9 938.7 L383.2 939.4 L382.5 939.4 L381.9 938.7 L381.6 937.6 L381.9 936.4 L382.5 935.7 L383.2 935.7 L383.9 936.4 L384.1 937.6M383.6 947.3 L383.5 947.7 L383.1 948 L382.6 948 L382.3 947.7 L382.1 947.3 L382.3 946.9 L382.6 946.6 L383.1 946.6 L383.5 946.9 L383.6 947.3M398.9 984.1 L398.3 986.1 L397.4 987.1 L396.5 987 L396 985.6 L396.1 983.6 L396.7 981.7 L397.6 980.6 L398.5 980.8 L399 982.1 L398.9 984.1M434.1 1034.6 L433.8 1035 L433.2 1035.3 L432.5 1035.3 L431.8 1035 L431.6 1034.6 L431.8 1034.1 L432.5 1033.9 L433.2 1033.9 L433.8 1034.1 L434.1 1034.6M339 1124.5 L338.8 1125.2 L338.2 1125.7 L337.4 1125.7 L336.8 1125.2 L336.6 1124.5 L336.8 1123.8 L337.4 1123.3 L338.2 1123.3 L338.8 1123.8 L339 1124.5M370 1134.3 L369.7 1135.3 L369.1 1135.9 L368.4 1135.9 L367.7 1135.3 L367.5 1134.3 L367.7 1133.3 L368.4 1132.6 L369.1 1132.6 L369.7 1133.3 L370 1134.3M380.4 1135 L380.3 1135.7 L379.9 1136.1 L379.5 1136.1 L379.1 1135.7 L379 1135 L379.1 1134.3 L379.5 1133.8 L379.9 1133.8 L380.3 1134.3 L380.4 1135M426 1137.9 L424.5 1140.1 L422.2 1141 L420.1 1140.2 L418.9 1138.1 L419.2 1135.4 L420.7 1133.3 L423 1132.4 L425.1 1133.2 L426.3 1135.3 L426 1137.9M427.5 1160.1 L427.2 1160.7 L426.6 1161 L425.9 1161 L425.3 1160.7 L425 1160.1 L425.3 1159.5 L425.9 1159.2 L426.6 1159.2 L427.2 1159.5 L427.5 1160.1M218.1 1196.4 L218.6 1201.8 L218.3 1205.2 L217.4 1205.3 L216.2 1202.1 L215.2 1196.8 L214.7 1191.3 L215 1187.9 L215.9 1187.8 L217.1 1191 L218.1 1196.4M234.8 1258.5 L234.9 1260 L234.3 1261.2 L233.2 1261.6 L232 1261.1 L231.1 1259.9 L231 1258.4 L231.6 1257.2 L232.7 1256.8 L234 1257.3 L234.8 1258.5M253.4 1382.5 L253.2 1383.2 L252.4 1383.7 L251.5 1383.7 L250.8 1383.2 L250.5 1382.5 L250.8 1381.8 L251.5 1381.4 L252.4 1381.4 L253.2 1381.8 L253.4 1382.5M391.2 1244.6 L390.9 1245.4 L390.1 1246 L389.2 1246 L388.5 1245.4 L388.2 1244.6 L388.5 1243.7 L389.2 1243.2 L390.1 1243.2 L390.9 1243.7 L391.2 1244.6M412.4 1239 L412.3 1241.2 L410.8 1243 L408.4 1243.9 L406 1243.5 L404.6 1241.8 L404.6 1239.7 L406.1 1237.8 L408.6 1236.9 L410.9 1237.4 L412.4 1239M353.1 1256.8 L353 1257.2 L352.6 1257.5 L352.2 1257.5 L351.8 1257.2 L351.7 1256.8 L351.8 1256.3 L352.2 1256.1 L352.6 1256.1 L353 1256.3 L353.1 1256.8M448.4 1392.8 L448.2 1393.5 L447.8 1393.9 L447.2 1393.9 L446.7 1393.5 L446.5 1392.8 L446.7 1392 L447.2 1391.6 L447.8 1391.6 L448.2 1392 L448.4 1392.8M471.5 1397.4 L470.7 1398.1 L469.2 1398.2 L467.4 1397.8 L466.2 1396.9 L465.8 1395.9 L466.6 1395.2 L468.1 1395.1 L469.9 1395.6 L471.2 1396.4 L471.5 1397.4M305.6 1178.2 L304.5 1179.3 L302.6 1179.6 L300.7 1178.9 L299.4 1177.5 L299.2 1175.9 L300.3 1174.8 L302.2 1174.5 L304.2 1175.2 L305.5 1176.7 L305.6 1178.2M320 1185.6 L319.4 1187 L318 1187.9 L316.2 1187.9 L314.7 1187 L314.1 1185.6 L314.7 1184.2 L316.2 1183.3 L318 1183.3 L319.4 1184.2 L320 1185.6M326.2 1181.4 L325 1183.7 L323.5 1184.8 L322.4 1184.4 L322 1182.6 L322.5 1180 L323.8 1177.8 L325.2 1176.6 L326.4 1177 L326.7 1178.8 L326.2 1181.4M301.4 1144.1 L302.3 1147.2 L301.8 1149.6 L300.1 1150.4 L298 1149.2 L296.1 1146.6 L295.3 1143.5 L295.8 1141.1 L297.4 1140.4 L299.6 1141.5 L301.4 1144.1M305.1 1156.3 L304.8 1157.2 L304.1 1157.7 L303.2 1157.7 L302.5 1157.2 L302.2 1156.3 L302.5 1155.5 L303.2 1154.9 L304.1 1154.9 L304.8 1155.5 L305.1 1156.3M309.3 1150.2 L309.1 1150.7 L308.8 1150.9 L308.3 1150.9 L307.9 1150.7 L307.8 1150.2 L307.9 1149.8 L308.3 1149.6 L308.8 1149.6 L309.1 1149.8 L309.3 1150.2M316.6 1157.6 L316.4 1158.3 L316.1 1158.7 L315.6 1158.7 L315.2 1158.3 L315.1 1157.6 L315.2 1156.8 L315.6 1156.4 L316.1 1156.4 L316.4 1156.8 L316.6 1157.6M325.1 1155.1 L324.7 1156.3 L323.8 1157 L322.6 1157 L321.6 1156.3 L321.2 1155.1 L321.6 1154 L322.6 1153.3 L323.8 1153.3 L324.7 1154 L325.1 1155.1M331.8 1161.5 L330.6 1162.4 L328.9 1162.5 L327.3 1161.6 L326.5 1160.1 L326.7 1158.5 L327.9 1157.6 L329.6 1157.5 L331.2 1158.4 L332 1159.9 L331.8 1161.5M324.1 1145.4 L323.5 1146.8 L321.8 1147.7 L319.7 1147.7 L318 1146.8 L317.3 1145.4 L318 1143.9 L319.7 1143.1 L321.8 1143.1 L323.5 1143.9 L324.1 1145.4M424.8 1139.3 L424.2 1140.4 L422.8 1141.1 L421 1141.1 L419.5 1140.4 L418.9 1139.3 L419.5 1138.1 L421 1137.4 L422.8 1137.4 L424.2 1138.1 L424.8 1139.3M427.5 1160.7 L427.2 1161.3 L426.6 1161.7 L425.9 1161.7 L425.3 1161.3 L425 1160.7 L425.3 1160.2 L425.9 1159.8 L426.6 1159.8 L427.2 1160.2 L427.5 1160.7M279 1307.5 L278.9 1308 L278.4 1308.4 L277.8 1308.4 L277.3 1308 L277.1 1307.5 L277.3 1306.9 L277.8 1306.5 L278.4 1306.5 L278.9 1306.9 L279 1307.5M335.6 1252.6 L335.3 1253.3 L334.6 1253.8 L333.7 1253.8 L332.9 1253.3 L332.7 1252.6 L332.9 1251.9 L333.7 1251.5 L334.6 1251.5 L335.3 1251.9 L335.6 1252.6M182 1052.7 L185.2 1051.1 L188.9 1055.9 L192.1 1062.2 L193.3 1066.5 L191.4 1067.4 L187.7 1062.2 L183.9 1056.5 L182 1052.7M202.7 1074.7 L205.9 1076.6 L206.5 1080.3 L204.6 1078.5 L202.7 1074.7M195.8 1089.7 L201.5 1089.1 L203.4 1093.5 L205.2 1099.8 L207.4 1104.8 L205.2 1109.8 L202.1 1112.3 L199.6 1107.3 L198.3 1099.8 L196.8 1094.8 L195.8 1089.7M206.5 1126.7 L208.4 1129.9 L207.1 1134.3 L204 1137.4 L202.1 1136.8 L205.2 1132.4 L206.9 1129.3 L206.5 1126.7M202.7 1149.3 L205.9 1147.4 L209 1148.1 L210.3 1153.7 L209.6 1162.5 L209 1166.9 L205.2 1166.2 L203.4 1161.2 L201.9 1155 L202.7 1149.3M211.5 1174.4 L214 1175.7 L214.7 1181.3 L214 1185.1 L212.1 1182.6 L210.6 1177.5 L211.5 1174.4M279.2 1116.1 L281.7 1114.6 L285.5 1115.5 L287.1 1118.6 L285.5 1122.1 L281.7 1123 L279.2 1120.5 L279.2 1116.1M288.9 1129.3 L291.8 1128 L294.9 1133.6 L295.2 1137.4 L292.4 1136.8 L289.6 1132.6 L288.9 1129.3M295.9 1143.4 L298.7 1142.4 L301.8 1147.4 L302.2 1150.6 L299.3 1149.9 L296.8 1146.4 L295.9 1143.4M289.3 1137.4 L291.2 1137.2 L293.7 1143.7 L293 1145.6 L290.5 1142.4 L289.3 1137.4M318.7 1182.6 L323.1 1175 L325 1181.3 L328.8 1185.1 L324.4 1186.3 L318.7 1182.6M326.9 1156.8 L330.7 1156.2 L332.8 1159.4 L331.3 1163.1 L328.8 1161.2 L326.3 1160 L326.9 1156.8" stroke="#000" stroke-width="1.4" fill="none" stroke-linejoin="round"/>
<path d="M270.7 782.8C267.9 785 259.8 791.9 253.7 796.2C247.6 800.5 241.1 804.5 234.2 808.4C227.3 812.2 217.9 815.3 212.3 819.4C206.6 823.4 204.5 827.1 200.1 832.8C195.6 838.4 190.3 846 185.4 853.5C180.6 861 174.9 869.7 170.8 877.8C166.8 886 163.3 894.9 161.1 902.2C158.8 909.5 158.6 914.4 157.4 921.7C156.2 929 155.2 938 153.8 946.1C152.3 954.2 150.1 963.2 148.9 970.5C147.7 977.8 146.9 983.5 146.4 990C146 996.5 145.6 1003 146.4 1009.5C147.3 1016 148.9 1022.9 151.3 1029C153.8 1035.1 157.8 1040.7 161.1 1046C164.3 1051.3 167.8 1055 170.8 1060.6C173.9 1066.3 177.3 1073.6 179.3 1080.1C181.4 1086.6 182 1092.7 183 1099.6C184 1106.6 184.6 1114.7 185.4 1121.6C186.3 1128.5 187.5 1135.3 187.9 1141.1C188.3 1146.9 187.1 1151 187.9 1156.3C188.7 1161.7 190.7 1166.9 192.8 1173.4C194.8 1179.9 198 1188 200.1 1195.3C202.1 1202.6 203.3 1209.6 204.9 1217.3C206.6 1225 207.8 1233.5 209.8 1241.6C211.8 1249.8 214.3 1258.3 217.1 1266C220 1273.7 222.8 1281.1 226.9 1288C230.9 1294.9 236.6 1301 241.5 1307.5C246.4 1314 252.1 1320 256.1 1327C260.2 1333.9 261.4 1341.6 265.9 1348.9C270.3 1356.2 277.2 1363.9 282.9 1370.8C288.6 1377.7 293.9 1384.6 300 1390.3C306.1 1396 312.2 1400.9 319.5 1404.9C326.8 1409 336.6 1411 343.9 1414.7C351.2 1418.4 356.9 1422 363.4 1426.9C369.9 1431.8 374.7 1438.7 382.9 1443.9C391 1449.2 402.4 1453.7 412.1 1458.6C421.9 1463.4 431.2 1467.9 441.4 1473.2C451.5 1478.5 462.5 1485 473 1490.3C483.6 1495.5 495.2 1500 504.7 1504.9C514.3 1509.8 519.4 1513.4 530.3 1519.5C541.3 1525.6 563.8 1537.8 570.5 1541.4" stroke="#9467bd" stroke-width="5" fill="none" stroke-linejoin="round"/>
<rect x="193.6" y="837.2" width="14" height="14" transform="rotate(35 200.6 844.2)" fill="none" stroke="#9467bd" stroke-width="3.6"/>
<rect x="145.5" y="981" width="14" height="14" transform="rotate(0 152.5 988)" fill="none" stroke="#9467bd" stroke-width="3.6"/>
<rect x="186.2" y="1139" width="14" height="14" transform="rotate(-10 193.2 1146)" fill="none" stroke="#9467bd" stroke-width="3.6"/>
<rect x="244.3" y="1302.9" width="14" height="14" transform="rotate(35 251.3 1309.9)" fill="none" stroke="#9467bd" stroke-width="3.6"/>
<rect x="352" y="1408.2" width="14" height="14" transform="rotate(35 359 1415.2)" fill="none" stroke="#9467bd" stroke-width="3.6"/>
<rect x="477" y="1486.2" width="14" height="14" transform="rotate(25 484 1493.2)" fill="none" stroke="#9467bd" stroke-width="3.6"/>
<path d="M275.6 829.1C272 831.1 260.6 836.6 253.7 841.3C246.8 846 239.9 851.4 234.2 857.1C228.5 862.8 223.6 869.1 219.6 875.4C215.5 881.7 212.7 888 209.8 894.9C207 901.8 204.5 909.1 202.5 916.8C200.5 924.6 198.8 933.1 197.6 941.2C196.5 949.3 196 957.9 195.7 965.6C195.4 973.3 195.2 980.6 195.7 987.5C196.2 994.4 197.1 1000.5 198.8 1007C200.6 1013.5 203.1 1020 206.2 1026.5C209.2 1033 213.9 1039.5 217.1 1046C220.4 1052.5 223.4 1058.6 225.7 1065.5C227.9 1072.4 229.5 1080.1 230.5 1087.5C231.5 1094.8 231.3 1102.1 231.8 1109.4C232.2 1116.7 232.2 1123.1 233 1131.3C233.8 1139.6 235 1151 236.6 1158.8C238.3 1166.6 240.7 1171.4 242.7 1178.3C244.8 1185.2 246.6 1192.9 248.8 1200.2C251 1207.5 253.7 1215.2 256.1 1222.1C258.6 1229.1 261.4 1236 263.4 1241.6C265.5 1247.3 267.5 1253.8 268.3 1256.3" stroke="#472d7b" stroke-width="3.6" fill="none"/>
<path d="M285.4 1290.4C287 1293.2 291.1 1301.4 295.1 1307.5C299.2 1313.5 304.5 1320.5 309.7 1327C315 1333.5 320.7 1340.4 326.8 1346.5C332.9 1352.5 339.4 1358.2 346.3 1363.5C353.2 1368.8 360.9 1373.3 368.2 1378.1C375.6 1383 382.9 1387.9 390.2 1392.8C397.5 1397.6 404.4 1402.5 412.1 1407.4C419.8 1412.3 428.4 1417.1 436.5 1422C444.6 1426.9 452.7 1432.6 460.9 1436.6C469 1440.7 477.1 1443.3 485.2 1446.4C493.4 1449.4 502.1 1452.4 509.6 1454.9C517.1 1457.4 526.9 1460.4 530.3 1461.5" stroke="#472d7b" stroke-width="3.6" fill="none"/>
<path d="M210.3 964.4C210.4 967.4 209.9 976.8 211 982.7C212.2 988.5 214.5 993.6 217.1 999.7C219.8 1005.8 223.8 1013.1 226.9 1019.2C229.9 1025.3 234 1033.4 235.4 1036.3" stroke="#33638d" stroke-width="3.6" fill="none"/>
<path d="M241 1047.2C242.1 1049.5 245.7 1055.2 247.6 1060.6C249.5 1066.1 251.6 1073.2 252.5 1080.1C253.4 1087.1 253 1095.2 253 1102.1C253 1109 252.3 1115.1 252.5 1121.6C252.6 1128.1 252.7 1134.9 253.7 1141.1C254.7 1147.3 256.7 1152.6 258.6 1158.8C260.4 1165 263.4 1171.4 264.7 1178.3C265.9 1185.2 264.9 1193.3 265.9 1200.2C266.9 1207.1 268.7 1213.6 270.7 1219.7C272.8 1225.8 275.2 1230.7 278.1 1236.8C280.9 1242.9 284.2 1249.4 287.8 1256.3C291.5 1263.2 295.9 1271.3 300 1278.2C304.1 1285.1 307.7 1291.2 312.2 1297.7C316.7 1304.2 321.9 1311.1 326.8 1317.2C331.7 1323.3 336.2 1329 341.4 1334.3C346.7 1339.5 352.8 1344.8 358.5 1348.9C364.2 1353 372.7 1357 375.6 1358.6" stroke="#33638d" stroke-width="3.6" fill="none"/>
<path d="M417 1384.2C420.6 1386.5 431.6 1393.4 438.9 1397.6C446.2 1401.9 453.1 1405.4 460.9 1409.8C468.6 1414.3 477.1 1420.2 485.2 1424.4C493.4 1428.7 502.1 1432.5 509.6 1435.4C517.1 1438.3 526.9 1440.9 530.3 1442" stroke="#33638d" stroke-width="3.6" fill="none"/>
<path d="M285.9 1185.1C285.5 1187.6 283.1 1194.8 283.4 1200.2C283.7 1205.6 285.9 1212 287.8 1217.3C289.8 1222.6 292.7 1227.4 295.1 1231.9C297.6 1236.4 300.4 1239.2 302.4 1244.1C304.5 1249 304.9 1255.5 307.3 1261.1C309.7 1266.8 313.4 1272.5 317.1 1278.2C320.7 1283.9 324.8 1290 329.2 1295.3C333.7 1300.5 338.6 1305 343.9 1309.9C349.2 1314.8 355.2 1320.5 360.9 1324.5C366.6 1328.6 371.5 1330.6 378 1334.3C384.5 1337.9 392.6 1342.4 399.9 1346.5C407.2 1350.5 414.6 1354.6 421.9 1358.6C429.2 1362.7 436.9 1366.4 443.8 1370.8C450.7 1375.3 456.8 1380.6 463.3 1385.5C469.8 1390.3 476.3 1395.6 482.8 1400.1C489.3 1404.5 494.4 1407.9 502.3 1412.3C510.2 1416.6 525.7 1424 530.3 1426.4" stroke="#1f968b" stroke-width="3.6" fill="none"/>
<path d="M346.3 1290.4C348.7 1293.2 355.7 1302.2 360.9 1307.5C366.2 1312.7 371.9 1317.2 378 1322.1C384.1 1327 390.6 1332.2 397.5 1336.7C404.4 1341.2 412.1 1344.8 419.4 1348.9C426.7 1353 433.2 1357.2 441.4 1361.1C449.5 1364.9 463.7 1370.2 468.2 1372" stroke="#bddf26" stroke-width="3.6" fill="none"/>
<path d="M474.3 1374.5C476.5 1375.9 484.2 1380.4 487.7 1383C491.1 1385.7 493.8 1389.1 495 1390.3" stroke="#bddf26" stroke-width="3.6" fill="none"/>
<text transform="translate(214.7,941.7) rotate(-82)" font-size="25" text-anchor="middle" dy="9" fill="#33638d">200</text>
<text transform="translate(280,1275.3) rotate(58)" font-size="25" text-anchor="middle" dy="9" fill="#472d7b">90</text>
<text transform="translate(397,1369.6) rotate(36)" font-size="25" text-anchor="middle" dy="9" fill="#33638d">200</text>
<text transform="translate(337,1270.4) rotate(58)" font-size="25" text-anchor="middle" dy="9" fill="#bddf26">600</text>
<text transform="translate(509.6,1403) rotate(38)" font-size="25" text-anchor="middle" dy="9" fill="#bddf26">600</text>
</g>
<rect x="81.4" y="782.1" width="447.2" height="739.8" fill="none" stroke="#000" stroke-width="1.1"/>
<rect x="87.4" y="787" width="27" height="36.5" rx="4" fill="#fff" stroke="#000" stroke-width="1"/>
<text x="100.9" y="814.5" font-size="26" text-anchor="middle">d</text>
<rect x="401" y="787" width="121" height="36.5" rx="4" fill="#fff" stroke="#000" stroke-width="1"/>
<text x="461.5" y="814.5" font-size="25.5" text-anchor="middle" fill="#8c564b">Model3a</text>
<clipPath id="cp_e"><rect x="563.4" y="782.1" width="454.2" height="751.6"/></clipPath>
<g clip-path="url(#cp_e)">
<rect x="563.4" y="782.1" width="454.2" height="751.6" fill="#DCF4C2"/>
<path d="M755.7 782.8C753.2 785.5 744.6 792.1 738.4 796.4C732.2 800.7 725.6 804.9 718.6 808.8C711.6 812.7 702.1 815.8 696.3 819.9C690.5 824.1 688.5 827.8 683.9 833.5C679.4 839.3 674 847 669.1 854.6C664.1 862.2 658.3 871.1 654.2 879.3C650.1 887.6 646.6 896.7 644.3 904.1C642 911.5 641.8 916.5 640.6 923.9C639.4 931.3 638.3 940.4 636.9 948.7C635.4 956.9 633.2 966 631.9 973.4C630.7 980.8 629.9 986.6 629.5 993.2C629.1 999.8 628.6 1006.4 629.5 1013C630.3 1019.6 631.9 1026.6 634.4 1032.8C636.9 1039 641 1044.8 644.3 1050.2C647.6 1055.5 651.1 1059.2 654.2 1065C657.3 1070.8 660.8 1078.2 662.9 1084.8C664.9 1091.4 665.6 1097.6 666.6 1104.6C667.6 1111.6 668.2 1119.9 669.1 1126.9C669.9 1133.9 671.1 1140.8 671.5 1146.7C672 1152.6 670.7 1156.7 671.5 1162.2C672.4 1167.7 674.4 1172.9 676.5 1179.5C678.6 1186.1 681.9 1194.4 683.9 1201.8C686 1209.2 687.2 1216.2 688.9 1224.1C690.5 1231.9 691.8 1240.6 693.8 1248.8C695.9 1257.1 698.4 1265.8 701.3 1273.6C704.1 1281.4 707 1288.9 711.2 1295.9C715.3 1302.9 721.1 1309.1 726 1315.7C731 1322.3 736.7 1328.5 740.9 1335.5C745 1342.5 746.2 1350.3 750.8 1357.8C755.3 1365.2 762.3 1373 768.1 1380C773.9 1387.1 779.2 1394.1 785.4 1399.8C791.6 1405.6 797.8 1410.6 805.2 1414.7C812.7 1418.8 822.6 1420.9 830 1424.6C837.4 1428.3 843.2 1432 849.8 1437C856.4 1441.9 861.3 1448.9 869.6 1454.3C877.8 1459.7 889.4 1464.2 899.3 1469.2C909.2 1474.1 918.7 1478.6 929 1484C939.3 1489.4 950.5 1496 961.2 1501.3C971.9 1506.7 983.7 1511.2 993.4 1516.2C1003.1 1521.1 1013.3 1528.4 1019.4 1531C1025.5 1533.7 1028.2 1546.9 1029.9 1532C1031.7 1517 1034.1 1457.4 1029.9 1441.5C1025.8 1425.6 1009.4 1439 1004.8 1436.5C1000.2 1434 1005.2 1431 1002.3 1426.4C999.4 1421.8 993.1 1414.7 987.2 1408.8C981.4 1403 972.2 1396.7 967.1 1391.3C962.1 1385.8 957.5 1380.8 957.1 1376.2C956.7 1371.6 962.9 1368.6 964.6 1363.6C966.3 1358.6 966.3 1353.1 967.1 1346C968 1338.9 969.6 1329.7 969.6 1320.9C969.6 1312.1 968.8 1302.1 967.1 1293.3C965.5 1284.5 963.8 1276.1 959.6 1268.1C955.4 1260.2 948.3 1252.6 942 1245.5C935.7 1238.4 928.2 1230.9 921.9 1225.4C915.6 1220 907.7 1216.6 904.3 1212.9C901 1209.1 901.2 1207.8 901.8 1202.8C902.4 1197.8 905.6 1189.8 908.1 1182.7C910.6 1175.6 913.7 1167.2 916.9 1160.1C920 1153 927.4 1138.4 926.9 1140C926.5 1141.6 914.4 1168.4 914.4 1170C914.4 1171.6 922.3 1156.2 926.9 1149.4C931.5 1142.6 937 1136 942 1129.3C947 1122.6 952.1 1116.3 957.1 1109.2C962.1 1102.1 968 1094.1 972.2 1086.6C976.3 1079 979.3 1071.5 982.2 1064C985.1 1056.4 987.7 1048.9 989.7 1041.4C991.8 1033.8 993.1 1027.1 994.8 1018.7C996.4 1010.4 998.5 1000.7 999.8 991.1C1001.1 981.5 1002.1 971.8 1002.3 961C1002.5 950.1 1002.7 937.9 1001.1 925.8C999.4 913.6 996.2 899.8 992.3 888.1C988.3 876.4 983 865.9 977.2 855.4C971.3 845 963.6 837.8 957.1 825.3C950.6 812.7 972.2 787.6 938.2 780.1C904.3 772.5 784 779.6 753.6 780.1C723.1 780.5 758.2 780.1 755.7 782.8Z" fill="#B1D7A6"/>
<path d="M555.1 1074C556.5 998.1 559.6 1078.2 563.4 1081.6C567.1 1084.9 572.8 1091.6 577.7 1094.1C582.6 1096.6 588.6 1098.3 592.8 1096.6C597 1095 599.5 1089.1 602.8 1084.1C606.2 1079 609.1 1067.7 612.9 1066.5C616.6 1065.2 621.7 1071.9 625.4 1076.5C629.2 1081.1 633 1087.4 635.5 1094.1C638 1100.8 639.2 1108.8 640.5 1116.7C641.8 1124.7 642.4 1138 643 1141.9C643.6 1145.7 643.4 1136.1 644.3 1140C645.1 1143.9 646.6 1155.9 648 1165.1C649.5 1174.3 651.4 1185.2 653.1 1195.3C654.7 1205.3 656.4 1215.4 658.1 1225.4C659.8 1235.5 661.4 1246.4 663.1 1255.6C664.8 1264.8 665.6 1272.3 668.1 1280.7C670.7 1289.1 674 1297.5 678.2 1305.8C682.4 1314.2 687.8 1323 693.3 1331C698.7 1338.9 704.6 1346 710.9 1353.6C717.1 1361.1 724.3 1369.5 731 1376.2C737.7 1382.9 743.9 1387.9 751.1 1393.8C758.2 1399.6 767.8 1406.3 773.7 1411.4C779.5 1416.4 783.3 1418.9 786.2 1423.9C789.2 1428.9 792.1 1436.1 791.3 1441.5C790.4 1447 781.2 1452.4 781.2 1456.6C781.2 1460.8 787.1 1462.4 791.3 1466.6C795.4 1470.8 801.3 1476.7 806.3 1481.7C811.4 1486.7 816.4 1491.8 821.4 1496.8C826.4 1501.8 831.9 1506.8 836.5 1511.9C841.1 1516.9 845.7 1522.7 849 1526.9C852.4 1531.1 905.6 1535.3 856.6 1537C807.6 1538.7 605.3 1614.1 555.1 1537C504.8 1459.8 553.7 1149.9 555.1 1074Z" fill="#B1D7A6"/>
<path d="M816.4 1457.8 L818.9 1456.1 L859.1 1489.2 L857.1 1491.3Z" fill="#FEFEDA"/>
<path d="M866.6 1498 L869.1 1496.8 L881.7 1506.8 L879.7 1508.8Z" fill="#FEFEDA"/>
<path d="M891.8 1511.9 L894.3 1510.6 L924.4 1534.5 L919.4 1534.5Z" fill="#FEFEDA"/>
<path d="M756.1 781.3C764.5 778.2 778.7 781.3 791.3 781.3C803.8 781.3 827.3 777.7 831.5 781.3C835.6 784.9 822.2 796.2 816.4 802.7C810.5 809.2 803 816.1 796.3 820.3C789.6 824.4 781.2 825.3 776.2 827.8C771.2 830.3 767.4 831.1 766.1 835.3C764.9 839.5 767.8 847.1 768.6 852.9C769.5 858.8 769.5 865.5 771.2 870.5C772.8 875.5 775.3 879.3 778.7 883.1C782 886.8 786.6 889.3 791.3 893.1C795.9 896.9 801.3 901.9 806.3 905.7C811.4 909.4 816.4 912.4 821.4 915.7C826.4 919.1 831 921.6 836.5 925.8C841.9 930 849 935.4 854.1 940.9C859.1 946.3 863.3 952.2 866.6 958.4C870 964.7 872.3 971.4 874.2 978.5C876.1 985.7 877.3 993.6 877.9 1001.2C878.6 1008.7 878.6 1016.2 877.9 1023.8C877.3 1031.3 876.1 1039.3 874.2 1046.4C872.3 1053.5 869.6 1060.2 866.6 1066.5C863.7 1072.8 860.8 1078.2 856.6 1084.1C852.4 1089.9 846.5 1096.2 841.5 1101.7C836.5 1107.1 831.5 1112.1 826.4 1116.7C821.4 1121.3 816.4 1125.5 811.4 1129.3C806.3 1133.1 801.3 1137.3 796.3 1139.3C791.3 1141.4 786.2 1142.7 781.2 1141.9C776.2 1141 770.7 1134.7 766.1 1134.3C761.5 1133.9 756.9 1136 753.6 1139.3C750.2 1142.7 747.3 1149 746 1154.4C744.8 1159.9 747.7 1169.1 746 1172C744.4 1174.9 737.7 1184.6 736 1172C734.3 1159.4 737.7 1117.6 736 1096.6C734.3 1075.7 731.4 1063.1 725.9 1046.4C720.5 1029.6 708.3 1009.5 703.3 996.1C698.3 982.7 695.8 979.4 695.8 966C695.8 952.6 700 924.9 703.3 915.7C706.7 906.5 712.1 913.2 715.9 910.7C719.6 908.2 721.7 904 725.9 900.7C730.1 897.3 734.3 892.7 741 890.6C747.7 888.5 760.3 889.3 766.1 888.1C772 886.8 775.8 886 776.2 883.1C776.6 880.1 770.3 877.6 768.6 870.5C767 863.4 769.9 848.7 766.1 840.4C762.4 832 750.2 827 746 820.3C741.8 813.6 739.3 806.6 741 800.2C742.7 793.7 747.7 784.4 756.1 781.3Z" fill="#9DBB9A"/>
<path d="M761.1 1177.7C765.1 1180.6 772.8 1190.3 776.2 1197.8C779.5 1205.3 780.4 1214.5 781.2 1222.9C782 1231.3 779.5 1240.1 781.2 1248C782.9 1256 787.1 1263.5 791.3 1270.7C795.4 1277.8 800.5 1285.7 806.3 1290.8C812.2 1295.8 819.3 1298.3 826.4 1300.8C833.6 1303.3 841.5 1304.2 849 1305.8C856.6 1307.5 864.5 1308.8 871.7 1310.9C878.8 1312.9 885.5 1314.6 891.8 1318.4C898 1322.2 904.7 1328.4 909.3 1333.5C914 1338.5 917.1 1343.9 919.4 1348.5C921.7 1353.1 924.4 1358.2 923.2 1361.1C921.9 1364 917.1 1366.5 911.9 1366.1C906.6 1365.7 899.3 1361.9 891.8 1358.6C884.2 1355.2 875 1349.8 866.6 1346C858.3 1342.3 849.9 1341 841.5 1336C833.1 1331 824.8 1323.4 816.4 1315.9C808 1308.3 798 1300 791.3 1290.8C784.6 1281.5 780.4 1269 776.2 1260.6C772 1252.2 769.1 1246.8 766.1 1240.5C763.2 1234.2 760.7 1229.2 758.6 1222.9C756.5 1216.6 754.6 1209.9 753.6 1202.8C752.5 1195.7 751.1 1184.4 752.3 1180.2C753.6 1176 757.1 1174.8 761.1 1177.7Z" fill="#9DBB9A"/>
<path d="M741 1140C746 1141.3 762.8 1139.2 771.2 1140C779.5 1140.8 784.6 1144.6 791.3 1145C798 1145.4 807.2 1143.4 811.4 1142.5C815.5 1141.7 815.5 1141.7 816.4 1140C817.2 1138.3 828.9 1133.7 816.4 1132.5C803.8 1131.2 753.6 1131.2 741 1132.5C728.4 1133.7 736 1138.7 741 1140Z" fill="#9DBB9A"/>
<path d="M721.9 824.8 L713.5 821.9 L690.1 830.8 L682.3 839.9 L678.7 844.3 L675.2 848.6 L671.6 852.9 L666.5 861 L663.7 865.7 L660.9 870.5 L658 875.2 L651.7 888.6 L649.5 894.1 L644.3 910.2 L643.2 916 L642.1 921.5 L640.9 929.1 L640.1 934.7 L639.2 940.3 L638.5 944.8 L637.9 948.8 L637.5 951.2 L636.6 955.7 L635.7 960.1 L634.8 964.5 L633.9 969 L632.5 978 L632 982 L631.5 986.1 L630.6 998.8 L630.6 1003.1 L641.8 1043.4 L647.2 1052.4 L650.2 1056.9 L653.2 1061.5 L655.1 1064.4 L655.2 1064.5 L655.2 1064.6 L656.6 1067.9 L657.9 1070.8 L659.1 1073.6 L660.4 1076.5 L661.6 1079.3 L663.1 1082.8 L663.8 1084.4 L663.8 1084.5 L663.9 1084.5 L663.9 1084.6 L664.5 1088.1 L665.4 1093.1 L666.4 1098.1 L667.4 1103.5 L667.5 1104.5 L668 1109.2 L668.6 1114.8 L669.2 1119.6 L669.7 1124.5 L670.4 1130.3 L670.9 1135.2 L671.5 1140.1 L672.1 1145 L672.3 1146.6 L672.3 1146.7 L672.3 1151.2 L675.8 1174.3 L678 1181.5 L679.4 1186 L681.1 1190.9 L682.7 1195.8 L684.3 1200.7 L684.6 1201.6 L685.2 1204.4 L686.4 1209.8 L687.6 1215.2 L688.7 1220.5 L689.5 1224.2 L690.5 1229.2 L691.5 1234.2 L692.5 1239.2 L693.4 1243.7 L696.1 1254.2 L697.4 1258.7 L698.8 1263.2 L700.3 1268.4 L705.5 1281.6 L707.7 1286.7 L718.4 1304.6 L722.2 1309.7 L726 1314.8 L729.8 1319.8 L733.5 1324.9 L737 1329.5 L740.5 1334.2 L741.2 1335.2 L741.3 1335.3 L742.1 1337.1 L744.5 1342.6 L747 1348.2 L758.8 1367.4 L762.3 1371.9 L765.8 1376.4 L772 1383.9 L775.8 1388.2 L779.5 1392.4 L794.4 1406.1 L814.9 1418.1 L819.9 1420.2 L824.5 1422 L829 1423.9 L830.1 1424.3 L830.1 1424.3 L832.9 1426.1 L838 1429.3 L843.2 1432.5 L848.4 1435.8 L849.9 1436.8 L850 1436.8 L854.7 1440.9 L859.3 1445 L879 1458.7 L884.8 1461.7 L890.6 1464.6 L896.4 1467.5 L902.1 1470.4 L907.8 1473.2 L913.5 1476.1 L919.2 1478.9 L925.6 1482.1 L930.2 1484.5 L936.6 1488 L942.9 1491.4 L948.9 1494.6 L954.8 1497.8 L964.5 1502.8 L970.6 1505.6 L975.6 1507.9 L980.6 1510.2 L985.5 1512.5 L990.5 1514.8 L994.4 1516.8 L1003.4 1521.9 L1012.4 1527.1 L1022.7 1532.9 L1060.2 1464.2 L1050 1461.2 L1039.8 1458.3 L1029.6 1455.3 L1019.4 1452.3 L1014.1 1450.7 L1008.8 1449 L1003.6 1447.3 L998.3 1445.6 L992.1 1442.9 L985.9 1440.1 L979.7 1437.3 L973.6 1434.5 L967.4 1430.8 L961.2 1427.1 L955 1423.4 L948.8 1419.6 L943.2 1416.6 L937.7 1413.5 L932.1 1410.4 L926.5 1407.3 L921 1403.9 L915.4 1400.5 L909.8 1397.1 L904.2 1393.7 L899 1390.3 L893.7 1386.8 L888.5 1383.4 L883.2 1380 L877.9 1376.9 L872.7 1373.9 L867.4 1370.8 L862.2 1367.7 L857.8 1365.2 L853.5 1362.7 L849.2 1360.2 L844.8 1357.8 L840.5 1354 L836.2 1350.3 L831.8 1346.6 L827.5 1342.9 L823.8 1338.6 L820.1 1334.2 L816.4 1329.9 L812.7 1325.6 L808.9 1320.6 L805.2 1315.7 L801.5 1310.7 L797.8 1305.8 L794.7 1300.8 L791.6 1295.9 L788.5 1290.9 L785.4 1286 L782.3 1280.4 L779.2 1274.8 L776.1 1269.3 L773 1263.7 L770.6 1258.7 L768.1 1253.8 L765.6 1248.8 L763.1 1243.9 L761.3 1239.6 L759.4 1235.2 L757.6 1230.9 L755.7 1226.6 L754.5 1221.6 L753.2 1216.7 L752 1211.7 L750.8 1206.8 L750.5 1201.2 L750.1 1195.6 L749.8 1190 L749.5 1184.5 L748 1179.5 L746.4 1174.6 L744.9 1169.6 L743.3 1164.7 L742.1 1160.2 L740.9 1155.7 L739.6 1151.2 L738.4 1146.7 L738.1 1141.7 L737.8 1136.8 L737.5 1131.8 L737.1 1126.9 L737.3 1121.9 L737.4 1117 L737.5 1112 L737.6 1107.1 L737.5 1101.5 L737.4 1096 L737.3 1090.4 L737.1 1084.8 L735.9 1079.9 L734.7 1074.9 L733.4 1070 L732.2 1065 L730.5 1061.6 L728.9 1058.2 L727.2 1054.8 L725.5 1051.4 L724.1 1048.6 L722.7 1045.8 L721.2 1043 L719.8 1040.3 L717.7 1035.9 L715.5 1031.6 L713.3 1027.3 L711.2 1022.9 L708.7 1018 L706.2 1013 L703.7 1008.1 L701.3 1003.1 L699.7 998.8 L698.2 994.5 L696.6 990.1 L695.1 985.8 L694.9 981.2 L694.7 976.5 L694.5 971.9 L694.3 967.2 L694.5 962.6 L694.7 957.9 L694.9 953.3 L695.1 948.7 L696 943.1 L696.9 937.5 L697.8 932 L698.8 926.4 L700.6 920.8 L702.5 915.2 L704.3 909.7 L706.2 904.1 L708.7 899.2 L711.2 894.2 L713.6 889.2 L716.1 884.3 L716.9 878.1 L717.8 871.8 L718.6 865.6 L720.4 858.4 L723.8 842.4 L724.3 829.5Z" fill="#9DBB9A"/>
<path d="M700.8 968.5C704.6 967.7 714.2 966 720.9 966C727.6 966 734.7 966.4 741 968.5C747.3 970.6 753.1 973.9 758.6 978.5C764 983.1 769.5 990.3 773.7 996.1C777.9 1002 781 1007.4 783.7 1013.7C786.4 1020 789.2 1027.1 790 1033.8C790.8 1040.5 790.2 1047.2 788.7 1053.9C787.3 1060.6 784.1 1067.7 781.2 1074C778.3 1080.3 774.5 1086.2 771.2 1091.6C767.8 1097.1 764.5 1101.7 761.1 1106.7C757.8 1111.7 754.4 1117.2 751.1 1121.8C747.7 1126.4 743.1 1135.2 741 1134.3C738.9 1133.5 738.9 1123 738.5 1116.7C738.1 1110.5 738.9 1104.2 738.5 1096.6C738.1 1089.1 737.7 1079 736 1071.5C734.3 1064 731 1056.9 728.4 1051.4C725.9 1046 723.8 1043.9 720.9 1038.8C718 1033.8 714.2 1027.1 710.9 1021.3C707.5 1015.4 703.3 1009.5 700.8 1003.7C698.3 997.8 696.2 991.5 695.8 986.1C695.4 980.6 697.5 973.9 698.3 971C699.1 968.1 697 969.3 700.8 968.5Z" fill="#959E90"/>
<path d="M692.1 832.7 L684.1 841.2 L680.1 845.2 L676.1 849.2 L672.1 853.2 L667 861.3 L664.2 866 L661.3 870.7 L658.5 875.5 L652.2 888.8 L650 894.3 L644.8 910.3 L643.7 916.1 L642.7 921.6 L641.4 929.2 L640.6 934.8 L639.7 940.4 L639 944.9 L638.4 948.9 L638 951.3 L637.1 955.8 L636.2 960.2 L635.3 964.6 L634.5 969.1 L633 978 L632.5 982.1 L632.1 986.2 L631.2 998.8 L631.2 1003.1 L642.4 1043.1 L647.7 1052 L650.7 1056.6 L653.7 1061.2 L655.6 1064.1 L655.7 1064.2 L655.7 1064.3 L657.1 1067.7 L658.4 1070.5 L659.6 1073.4 L660.9 1076.3 L662.1 1079.1 L663.6 1082.6 L664.3 1084.2 L664.3 1084.3 L664.4 1084.4 L664.4 1084.5 L665 1088 L665.9 1093 L666.9 1098 L667.8 1103.4 L668 1104.4 L668.5 1109.2 L669.1 1114.7 L669.6 1119.6 L670.1 1124.5 L670.8 1130.3 L671.4 1135.1 L672 1140 L672.5 1145 L672.7 1146.6 L672.7 1146.7 L672.7 1151.2 L676.2 1174.2 L678.4 1181.4 L679.8 1185.8 L681.4 1190.8 L683.1 1195.7 L684.7 1200.6 L685 1201.5 L685.6 1204.3 L686.7 1209.7 L687.9 1215.1 L689.1 1220.5 L689.9 1224.1 L690.8 1229.1 L691.8 1234.1 L692.8 1239.1 L693.7 1243.7 L696.4 1254.1 L697.7 1258.6 L699 1263.1 L700.6 1268.3 L705.7 1281.5 L708 1286.6 L718.7 1304.5 L722.4 1309.5 L726.2 1314.6 L730 1319.7 L733.7 1324.7 L737.2 1329.4 L740.7 1334.1 L741.4 1335.1 L741.5 1335.2 L742.3 1337 L744.7 1342.6 L747.2 1348.1 L759 1367.3 L762.5 1371.8 L766 1376.3 L772.2 1383.7 L775.9 1388.1 L779.6 1392.3 L794.5 1405.9 L814.9 1418 L819.9 1420 L824.5 1421.9 L829.1 1423.7 L830.2 1424.2 L830.2 1424.2 L832.9 1425.9 L838.1 1429.2 L843.3 1432.4 L848.4 1435.7 L850 1436.7 L850.1 1436.7 L854.7 1440.8 L859.4 1444.9 L879 1458.6 L884.8 1461.6 L890.6 1464.5 L896.5 1467.4 L902.1 1470.3 L907.8 1473.1 L913.5 1476 L919.2 1478.9 L925.6 1482.1 L930.3 1484.5 L936.6 1487.9 L943 1491.3 L948.9 1494.6 L954.9 1497.8 L964.5 1502.7 L970.6 1505.6 L975.6 1507.9 L980.6 1510.2 L985.5 1512.5 L990.5 1514.8 L994.4 1516.8 L1003.4 1521.9 L1012.4 1527.1 L1022.7 1532.9 L1055 1473.8 L1044.7 1470.5 L1034.7 1467.2 L1024.7 1463.9 L1015.3 1461.1 L1010.1 1459.3 L1004.9 1457.5 L999.7 1455.8 L994.5 1454 L988.3 1451.2 L981.6 1448.1 L975.5 1445.3 L969.3 1442.4 L963.1 1438.7 L956.9 1435 L950.9 1431.5 L944.7 1427.9 L939.1 1424.8 L933.5 1421.7 L927.9 1418.7 L922.4 1415.6 L916.8 1412.2 L911.2 1408.9 L905.6 1405.6 L898.1 1400.7 L892.9 1397.2 L887.7 1393.7 L883.2 1390.8 L878.4 1387.7 L873.2 1384.6 L867.9 1381.5 L862.7 1378.3 L857.8 1375.4 L854 1373.3 L850.1 1371.1 L845.8 1368.7 L841.4 1366.3 L837 1362.8 L830.5 1357.9 L824.7 1352.9 L820.5 1349.1 L816.7 1344.7 L812.7 1340 L809 1335.6 L805.3 1331.3 L800.5 1324.4 L797 1319.3 L793.5 1314.3 L790.1 1309.8 L787.5 1305.5 L784.7 1301.1 L781.5 1296.1 L778.4 1291.2 L775.2 1285.7 L772 1280.2 L768.9 1274.7 L765.7 1269.2 L762.1 1262.5 L759.7 1257.5 L756.8 1251.5 L754.5 1246.5 L752.7 1242.1 L750.9 1237.8 L749 1232.6 L747.2 1228.3 L746 1223.3 L744.8 1218.3 L743.6 1213.4 L742.5 1208.6 L742.1 1203.1 L741.6 1197.5 L741.2 1192 L740.9 1186.8 L739.5 1182.4 L737.9 1177.4 L736.4 1172.5 L734.8 1167.5 L733.6 1163 L732.2 1158.2 L730.7 1151.2 L729.6 1146.7 L729.4 1142.4 L729.1 1137.9 L728.7 1132.9 L728.4 1128 L728.4 1123.1 L728.5 1118 L728.5 1113 L728.5 1108.1 L728.3 1102.5 L728.1 1097.1 L727.9 1092.1 L727.5 1086.6 L726.2 1081.7 L724.9 1076.7 L723.7 1072 L722.5 1067.8 L721 1064.9 L719.5 1062 L717.9 1058.9 L716.1 1055.5 L714.6 1052.7 L713.2 1050 L711.7 1047.2 L710.2 1044.5 L707.3 1040.7 L704.6 1037.5 L702 1034.5 L699.1 1031 L695.7 1026.6 L692.3 1022.3 L688.2 1016.9 L682.6 1003.1 L681.4 998.8 L680.5 992.3 L679.5 988 L678.5 983.7 L678.8 977.9 L678.8 973.3 L678.9 968.8 L679 964.2 L679.4 959.6 L679.7 955.5 L679.8 951 L680 946.4 L680.8 940.8 L681.6 935.2 L682.5 929.1 L683.4 923.5 L684.9 917.9 L687.6 909.3 L689.4 903.7 L692.4 895.8 L693.6 890.1 L694.7 884.3 L695.9 878.6 L698 871.5 L696.6 863.7 L695.2 855.9 L693.9 848.1 L696.2 836.3Z" fill="#959E90"/>
<path d="M681.7 846.3 L677.7 850.3 L673.7 854.3 L667.9 861.8 L664.2 866 L661.3 870.8 L658.5 875.5 L652.2 888.8 L650.1 894.3 L644.9 910.4 L643.8 916.1 L642.7 921.6 L641.5 929.2 L640.6 934.8 L639.7 940.4 L639.1 944.9 L638.5 948.9 L638 951.3 L637.1 955.8 L636.2 960.2 L635.4 964.6 L634.5 969.1 L633 978 L632.6 982.1 L632.1 986.2 L631.2 998.8 L631.3 1003.1 L642.4 1043.1 L647.7 1052 L650.7 1056.6 L653.7 1061.2 L655.6 1064.1 L655.7 1064.2 L655.7 1064.3 L657.2 1067.7 L658.4 1070.5 L659.6 1073.4 L660.9 1076.3 L662.1 1079.1 L663.6 1082.6 L664.3 1084.2 L664.4 1084.3 L664.4 1084.4 L664.4 1084.5 L665 1088 L666 1093 L666.9 1098 L667.9 1103.4 L668 1104.4 L668.5 1109.2 L669.1 1114.7 L669.6 1119.6 L670.1 1124.5 L670.8 1130.3 L671.4 1135.1 L672 1140 L672.6 1144.9 L672.8 1146.6 L672.7 1146.7 L672.8 1151.2 L676.2 1174.2 L678.4 1181.4 L679.8 1185.8 L681.4 1190.8 L683.1 1195.7 L684.7 1200.6 L685 1201.5 L685.6 1204.3 L686.7 1209.7 L687.9 1215.1 L689.1 1220.5 L689.9 1224.1 L690.9 1229.1 L691.8 1234.1 L692.8 1239.1 L693.7 1243.7 L696.4 1254.1 L697.7 1258.6 L699.1 1263.1 L700.6 1268.3 L705.7 1281.5 L708 1286.6 L718.7 1304.5 L722.4 1309.5 L726.2 1314.6 L730 1319.7 L733.7 1324.7 L737.2 1329.4 L740.7 1334.1 L741.5 1335.1 L741.5 1335.2 L742.3 1337 L744.8 1342.6 L747.2 1348.1 L759 1367.3 L762.5 1371.8 L766 1376.3 L772.2 1383.7 L775.9 1388 L779.6 1392.3 L794.5 1405.9 L814.9 1418 L819.9 1420 L824.5 1421.9 L829.1 1423.7 L830.2 1424.2 L830.2 1424.2 L832.9 1425.9 L838.1 1429.2 L843.3 1432.4 L848.4 1435.7 L850 1436.7 L850.1 1436.7 L854.7 1440.8 L859.4 1444.9 L879 1458.6 L884.8 1461.6 L890.6 1464.5 L896.5 1467.4 L902.1 1470.3 L907.8 1473.1 L913.5 1476 L919.2 1478.8 L925.6 1482.1 L930.3 1484.5 L936.6 1487.9 L943 1491.3 L948.9 1494.6 L954.9 1497.8 L964.5 1502.7 L970.6 1505.6 L975.6 1507.9 L980.6 1510.2 L985.5 1512.5 L990.5 1514.8 L994.4 1516.8 L1003.4 1521.9 L1012.4 1527.1 L1022.7 1532.9 L1052.7 1477.9 L1042.5 1474.4 L1032.5 1471 L1022.5 1467.6 L1013.6 1464.9 L1008.4 1463.1 L1003.2 1461.3 L998 1459.5 L992.7 1457.7 L986.6 1454.9 L979.7 1451.7 L973.5 1448.8 L967.4 1446 L961.2 1442.3 L954.9 1438.7 L949.1 1435.2 L942.8 1431.6 L937.2 1428.6 L931.6 1425.6 L926 1422.5 L920.4 1419.5 L914.8 1416.2 L909.2 1412.9 L903.5 1409.6 L895.1 1404.1 L890 1400.6 L884.8 1397 L880.6 1394.3 L876.1 1391.4 L870.8 1388.3 L865.6 1385.2 L860.4 1382.1 L855.6 1379.3 L852.2 1377.3 L848.5 1375.2 L844.1 1372.9 L839.7 1370.6 L835.2 1367.2 L827.6 1361.8 L821.1 1356 L816.9 1352.2 L813.1 1347.9 L808.9 1342.9 L805.2 1338.6 L801.6 1334.2 L796.1 1326.3 L792.7 1321.2 L789.2 1316.2 L786.1 1311.9 L783.6 1307.9 L781 1303.8 L777.8 1298.9 L774.7 1294 L771.4 1288.6 L768.2 1283.1 L764.9 1277.7 L761.7 1272.2 L757.5 1264.6 L755 1259.6 L752 1252.9 L749.7 1247.9 L748 1243.6 L746.2 1239.2 L744.2 1233.6 L742.5 1229.2 L741.3 1224.2 L740.1 1219.3 L738.9 1214.3 L737.8 1209.6 L737.3 1204.1 L736.8 1198.6 L736.3 1193.1 L735.9 1188.1 L734.6 1184 L733 1179 L731.4 1174.1 L729.9 1169.2 L728.6 1164.7 L727.1 1159.6 L725.4 1151.2 L724.4 1146.7 L724.2 1142.8 L723.9 1138.5 L723.5 1133.6 L723.1 1128.7 L723.1 1123.7 L723 1118.6 L723 1113.7 L723 1108.7 L722.6 1103.2 L721.9 1097.9 L721.2 1093.4 L720.3 1088 L718.5 1083.1 L716.8 1078.3 L715.2 1073.8 L713.7 1070.3 L711.9 1068 L710.2 1065.7 L708.3 1063.1 L706.2 1059.9 L704.3 1057.3 L702.4 1054.7 L700.5 1052.1 L698.6 1049.5 L696.1 1045.8 L694 1043.3 L692 1040.8 L689.4 1037.4 L686.1 1033 L682.8 1028.6 L678.6 1022.5 L671.8 1003.1 L670.6 998.8 L669.7 990.9 L668.7 986.6 L667.7 982.4 L667.9 975.8 L667.9 971.1 L667.9 966.5 L667.9 961.9 L668.1 957.3 L668.1 953.7 L668.6 949.4 L669.1 944.8 L670.1 939.2 L671.1 933.7 L672.3 927.2 L673.4 921.6 L675 916 L678.5 905.7 L680.6 900.2 L684.6 891.1 L684.5 884.7 L684.5 878.2 L683.6 871.2 L684.3 861.9 L684.1 854.9 L683.9 847.9Z" fill="#90868A"/>
<path d="M675.3 855.5 L669.7 862.9 L666.1 867.2 L662.6 871.5 L659 875.8 L652.3 888.8 L649.6 894.1 L643.8 910.2 L642.1 915.8 L641.1 921.3 L639.8 929 L639 934.5 L638.2 940.1 L637.5 944.7 L636.9 948.7 L636.4 951 L635.5 955.5 L634.6 959.9 L633.8 964.3 L632.9 968.8 L631.4 977.8 L630.9 981.9 L630.4 986 L629.5 998.8 L629.5 1003.1 L640.8 1044 L646.2 1053 L649.3 1057.6 L652.3 1062.2 L654.2 1065 L654.2 1065 L654.2 1065 L655.7 1068.3 L656.9 1071.2 L658.2 1074 L659.4 1076.9 L660.7 1079.8 L662.2 1083.2 L662.9 1084.8 L662.9 1084.8 L662.9 1084.8 L662.9 1084.8 L663.5 1088.3 L664.5 1093.3 L665.4 1098.3 L666.4 1103.7 L666.6 1104.6 L667.1 1109.3 L667.7 1114.9 L668.3 1119.7 L668.8 1124.6 L669.5 1130.4 L670.1 1135.3 L670.7 1140.2 L671.3 1145.1 L671.5 1146.7 L671.5 1146.7 L671.5 1151.2 L675.1 1174.5 L677.3 1181.8 L678.7 1186.2 L680.4 1191.1 L682 1196 L683.6 1201 L683.9 1201.8 L684.5 1204.6 L685.7 1209.9 L686.9 1215.3 L688.1 1220.7 L688.9 1224.3 L689.9 1229.3 L690.9 1234.3 L691.9 1239.3 L692.8 1243.8 L695.5 1254.4 L696.8 1258.9 L698.2 1263.4 L699.8 1268.6 L704.9 1281.9 L707.2 1286.9 L718 1305 L721.8 1310 L725.6 1315.1 L729.3 1320.1 L733.1 1325.2 L736.6 1329.8 L740.1 1334.5 L740.9 1335.5 L740.9 1335.5 L741.7 1337.3 L744.1 1342.8 L746.6 1348.3 L758.5 1367.7 L762 1372.2 L765.5 1376.7 L771.7 1384.2 L775.5 1388.5 L779.2 1392.7 L794.1 1406.4 L814.7 1418.5 L819.7 1420.5 L824.3 1422.3 L828.9 1424.2 L830 1424.6 L830 1424.6 L832.7 1426.3 L837.9 1429.5 L843.1 1432.8 L848.2 1436 L849.8 1437 L849.8 1437 L854.5 1441.1 L859.2 1445.2 L878.9 1458.9 L884.7 1461.9 L890.5 1464.8 L896.3 1467.7 L902 1470.5 L907.7 1473.4 L913.4 1476.2 L919.1 1479.1 L925.5 1482.3 L930.2 1484.6 L936.5 1488.1 L942.9 1491.5 L948.8 1494.7 L954.8 1497.9 L964.4 1502.8 L970.6 1505.7 L975.6 1508 L980.5 1510.3 L985.5 1512.6 L990.5 1514.9 L994.4 1516.8 L1003.4 1521.9 L1012.4 1527.1 L1022.7 1532.9 L1050.1 1482.8 L1039.8 1479 L1029.9 1475.5 L1020.1 1471.9 L1011.5 1469.2 L1006.4 1467.4 L1001.2 1465.6 L996 1463.7 L990.8 1461.9 L984.6 1459.1 L977.5 1455.8 L971.4 1452.9 L965.2 1450 L959 1446.3 L952.8 1442.7 L947 1439.4 L940.7 1435.8 L935.1 1432.8 L929.5 1429.8 L923.9 1426.7 L918.3 1423.7 L912.7 1420.5 L907 1417.2 L901.4 1413.9 L891.9 1407.7 L886.8 1404.1 L881.7 1400.5 L877.9 1398.1 L873.6 1395.3 L868.4 1392.2 L863.2 1389.1 L857.9 1385.9 L853.4 1383.2 L850.2 1381.5 L846.8 1379.5 L842.4 1377.2 L838 1375 L833.4 1371.7 L824.6 1365.7 L817.4 1359.3 L813.2 1355.4 L809.5 1351.1 L805.1 1345.9 L801.4 1341.5 L797.8 1337.2 L791.8 1328.3 L788.4 1323.2 L785 1318 L782.1 1314 L779.9 1310.4 L777.4 1306.5 L774.2 1301.7 L771 1296.8 L767.7 1291.4 L764.4 1285.9 L761.1 1280.5 L757.8 1275.1 L753 1266.5 L750.6 1261.6 L747.4 1254.3 L745.2 1249.3 L743.4 1244.9 L741.7 1240.5 L739.6 1234.5 L738 1230.1 L736.9 1225.1 L735.7 1220.2 L734.5 1215.2 L733.4 1210.6 L732.8 1205.1 L732.2 1199.6 L731.7 1194.1 L731.3 1189.3 L730.1 1185.5 L728.5 1180.6 L726.9 1175.6 L725.3 1170.7 L724 1166.2 L722.5 1160.9 L720.6 1151.2 L719.7 1146.7 L719.5 1143.1 L719.2 1139.1 L718.8 1134.2 L718.4 1129.2 L718.3 1124.3 L718.2 1119.1 L718.1 1114.2 L718.1 1109.3 L717.6 1103.7 L716.6 1098.5 L715.7 1094.4 L714.5 1089.1 L712.5 1084.2 L710.6 1079.4 L708.8 1075.1 L707.2 1072.1 L705.4 1070.2 L703.6 1068.4 L701.6 1066 L699.2 1062.9 L697.2 1060.4 L695.1 1057.9 L693 1055.4 L691 1052.9 L688.3 1049.4 L686.4 1047.5 L684.5 1045.7 L681.7 1042.5 L678.2 1038.3 L674.7 1034 L669.9 1027.4 L661.8 1003.1 L660.5 998.8 L659.8 989.7 L658.9 985.4 L658 981.2 L658.3 973.8 L658.3 969.2 L658.2 964.6 L658.2 960 L658.4 955.4 L658.3 952.1 L658.9 947.9 L659.6 943.3 L660.6 937.8 L661.6 932.2 L662.9 925.4 L664.1 919.9 L665.7 914.3 L669.8 902.2 L672 896.7 L676.7 886.4 L676.4 879.8 L676.1 873.1 L675.8 866.5 L677.5 857.1Z" fill="#8B6E80"/>
<path d="M641 940.6 L639.6 945 L638.3 948.9 L637.2 951.1 L635.5 955.5 L634.6 959.9 L633.8 964.3 L632.9 968.8 L631.4 977.8 L630.9 981.9 L630.4 986 L629.5 998.8 L629.5 1003.1 L640.8 1044 L646.2 1053 L649.3 1057.6 L652.3 1062.2 L654.2 1065 L654.2 1065 L654.2 1065 L655.7 1068.3 L656.9 1071.2 L658.2 1074 L659.4 1076.9 L660.7 1079.8 L662.2 1083.2 L662.9 1084.8 L662.9 1084.8 L662.9 1084.8 L662.9 1084.8 L663.5 1088.3 L664.5 1093.3 L665.4 1098.3 L666.4 1103.7 L666.6 1104.6 L667.1 1109.3 L667.7 1114.9 L668.3 1119.7 L668.8 1124.6 L669.5 1130.4 L670.1 1135.3 L670.7 1140.2 L671.3 1145.1 L671.5 1146.7 L671.5 1146.7 L671.5 1151.2 L675.1 1174.5 L677.3 1181.8 L678.7 1186.2 L680.4 1191.1 L682 1196 L683.6 1201 L683.9 1201.8 L684.5 1204.6 L685.7 1209.9 L686.9 1215.3 L688.1 1220.7 L688.9 1224.3 L689.9 1229.3 L690.9 1234.3 L691.9 1239.3 L692.8 1243.8 L695.5 1254.4 L696.8 1258.9 L698.2 1263.4 L699.8 1268.6 L704.9 1281.9 L707.2 1286.9 L718 1305 L721.8 1310 L725.6 1315.1 L729.3 1320.1 L733.1 1325.2 L736.6 1329.8 L740.1 1334.5 L740.9 1335.5 L740.9 1335.5 L741.7 1337.3 L744.1 1342.8 L746.6 1348.3 L758.5 1367.7 L762 1372.2 L765.5 1376.7 L771.7 1384.2 L775.5 1388.5 L779.2 1392.7 L794.1 1406.4 L814.7 1418.5 L819.7 1420.5 L824.3 1422.3 L828.9 1424.2 L830 1424.6 L830 1424.6 L832.7 1426.3 L837.9 1429.5 L843.1 1432.8 L848.2 1436 L849.8 1437 L849.8 1437 L854.5 1441.1 L859.2 1445.2 L878.9 1458.9 L884.7 1461.9 L890.5 1464.8 L896.3 1467.7 L902 1470.5 L907.7 1473.4 L913.4 1476.2 L919.1 1479.1 L925.5 1482.3 L930.2 1484.6 L936.5 1488.1 L942.9 1491.5 L948.8 1494.7 L954.8 1497.9 L964.4 1502.8 L970.6 1505.7 L975.6 1508 L980.5 1510.3 L985.5 1512.6 L990.5 1514.9 L994.4 1516.8 L1003.4 1521.9 L1012.4 1527.1 L1022.7 1532.9 L1047.5 1487.6 L1037.2 1483.7 L1027.3 1480 L1017.5 1476.4 L1009.4 1473.8 L1004.2 1472 L999.1 1470.2 L993.9 1468.3 L988.7 1466.5 L982.5 1463.7 L975.1 1460.3 L968.9 1457.4 L962.8 1454.5 L956.5 1450.9 L950.2 1447.4 L944.6 1444.2 L938.3 1440.7 L932.6 1437.8 L927 1434.8 L921.3 1431.9 L915.7 1428.9 L910 1425.7 L904.3 1422.6 L898.6 1419.4 L887.9 1412.3 L882.8 1408.7 L877.8 1405.1 L874.4 1403 L870.4 1400.5 L865.2 1397.4 L859.9 1394.3 L854.6 1391.2 L850.3 1388.7 L847.5 1387.2 L844.4 1385.5 L839.9 1383.3 L835.5 1381.2 L830.9 1378.1 L820.4 1371.3 L812.1 1363.9 L807.9 1360.1 L804.1 1355.8 L799.4 1350.3 L795.7 1346 L792.1 1341.6 L785.2 1331.2 L781.9 1326.1 L778.6 1320.9 L775.9 1317.2 L774 1314.2 L771.7 1310.8 L768.5 1306 L765.2 1301.2 L761.7 1295.8 L758.3 1290.5 L754.9 1285.2 L751.5 1279.8 L745.7 1269.8 L743.3 1264.8 L739.7 1256.6 L737.5 1251.6 L735.8 1247.2 L734.1 1242.8 L731.8 1236 L730.3 1231.6 L729.1 1226.7 L727.7 1221.8 L726.1 1216.9 L724.6 1212.6 L723.5 1207.2 L722.3 1201.8 L721.1 1196.4 L720.2 1192.2 L718.7 1189.3 L716.7 1184.5 L714.6 1179.7 L712.6 1174.9 L710.7 1170.6 L708.5 1164.9 L705.7 1151.2 L704 1146.7 L702.7 1144.4 L701.3 1141.4 L699.6 1136.6 L697.9 1131.8 L696.4 1127.1 L694.8 1121.7 L693.3 1117 L691.8 1112.2 L690.4 1106.8 L690.2 1101.7 L690.2 1099.2 L689.7 1093.7 L688.9 1088.7 L688 1083.7 L687.4 1079.7 L687.1 1077.9 L686.8 1076.6 L686.5 1075.3 L685.7 1073 L684.3 1069.4 L683.3 1066.5 L682.2 1063.5 L681.1 1060.6 L680 1057.7 L676.7 1054.7 L674.3 1054.1 L672 1053.6 L668.5 1051.4 L664 1047.7 L659.6 1044.1 L653.2 1037 L641.7 1003.1 L641.2 998.8 L641.6 987.4 L641.6 983.2 L641.6 979.1 L642.6 970.7 L643.2 966.2 L643.8 961.7 L644.3 957.2 L644.1 952.5 L643.5 949.7 L643.1 945.5 L642.7 940.8Z" fill="#835678"/>
<path d="M858.7 1419.2 L861.2 1421.1 L862.7 1422.3 L867.3 1426.4 L872 1430.5 L887.6 1441.5 L893.2 1444.8 L898.8 1448.1 L904.5 1451.4 L910.2 1454.1 L915.9 1456.9 L921.7 1459.7 L927.4 1462.4 L933.9 1465.6 L939 1468.2 L945.4 1471.6 L951.8 1475 L957.9 1477.9 L964 1480.8 L972.7 1485 L978.9 1487.7 L979.5 1486.5 L973.4 1483.4 L965 1478.9 L959.1 1475.6 L953.2 1472.3 L947 1468.5 L940.9 1464.8 L935.8 1461.7 L929.6 1458.1 L924.1 1454.9 L918.5 1451.7 L913 1448.5 L907.5 1445.3 L901.6 1442.6 L895.7 1439.9 L889.7 1437.2 L874.7 1427.4 L869.6 1423.9 L864.4 1420.3 L862.4 1419.5 L859.4 1418.1Z" fill="#835678"/>
<path d="M640.7 984 L639.5 987.9 L638 999.5 L637.2 1003.8 L647 1041.3 L651.4 1050.3 L655 1054.3 L658.6 1058.4 L661.1 1060.7 L662 1060.8 L663 1061 L665.3 1064.1 L668.5 1062.7 L668 1058.7 L668.5 1057.3 L669 1055.7 L668.1 1052 L666.3 1046.8 L664.4 1041.6 L658.5 1034.7 L647.5 1003.8 L645.2 999.5 L643.7 988.4 L642 984.1Z" fill="#6A3665"/>
<path d="M670.1 1135.3 L670.7 1140.2 L671.3 1145.1 L671.5 1146.7 L671.5 1146.7 L671.5 1151.2 L675.1 1174.5 L677.3 1181.8 L678.7 1186.2 L680.4 1191.1 L682 1196 L683.6 1201 L683.9 1201.8 L684.5 1204.6 L685.7 1209.9 L686.9 1215.3 L688.1 1220.7 L688.9 1224.3 L689.9 1229.3 L690.9 1234.3 L691.9 1239.3 L692.8 1243.8 L695.5 1254.4 L696.8 1258.9 L698.2 1263.4 L699.8 1268.6 L704.9 1281.9 L707.2 1286.9 L718 1305 L721.8 1310 L725.6 1315.1 L729.3 1320.1 L733.1 1325.2 L736.6 1329.8 L740.1 1334.5 L740.9 1335.5 L740.9 1335.5 L741.7 1337.3 L744.1 1342.8 L746.6 1348.3 L758.5 1367.7 L762 1372.2 L765.5 1376.7 L771.7 1384.2 L775.5 1388.5 L779.2 1392.7 L794.1 1406.4 L814.7 1418.5 L819.7 1420.5 L824.3 1422.3 L828.9 1424.2 L830 1424.6 L830 1424.6 L832.7 1426.3 L837.9 1429.5 L843.1 1432.8 L848.2 1436 L849.8 1437 L849.8 1437 L854.5 1441.1 L859.2 1445.2 L878.9 1458.9 L884.7 1461.9 L890.5 1464.8 L896.3 1467.7 L902 1470.5 L907.7 1473.4 L913.4 1476.2 L919.1 1479.1 L925.5 1482.3 L930.2 1484.6 L936.5 1488.1 L942.9 1491.5 L948.8 1494.7 L954.8 1497.9 L964.4 1502.8 L970.6 1505.7 L975.6 1508 L980.5 1510.3 L985.5 1512.6 L990.5 1514.9 L994.4 1516.8 L1003.4 1521.9 L1012.4 1527.1 L1022.7 1532.9 L1041.5 1498.6 L1031.2 1494.1 L1021.6 1490 L1012.1 1485.9 L1005 1483.4 L999.9 1481.4 L994.8 1479.4 L989.7 1477.3 L984.6 1475.3 L978.5 1472.5 L970.6 1468.6 L964.5 1465.5 L958.5 1462.5 L952.2 1458.9 L946 1455.3 L940.6 1452.2 L934.3 1448.7 L928.7 1445.7 L923.1 1442.6 L917.5 1439.6 L911.9 1436.6 L906.2 1433.4 L900.5 1430.2 L894.9 1427 L882.5 1418.5 L877.5 1414.8 L872.6 1411 L869.9 1409.2 L866.4 1406.9 L861.2 1403.7 L856.1 1400.4 L850.9 1397.2 L846.9 1394.7 L844.6 1393.3 L841.9 1391.8 L837.5 1389.5 L833 1387.3 L828.4 1384.3 L816.5 1376.5 L807.3 1368.1 L803.3 1364.1 L799.6 1359.7 L794.8 1353.9 L791.3 1349.4 L787.7 1345 L780.3 1333.3 L777.3 1328.1 L774.2 1322.9 L771.9 1319.3 L770.3 1316.6 L768.3 1313.3 L765.1 1308.5 L761.9 1303.6 L757.9 1298.7 L753.9 1293.8 L749.9 1289 L745.8 1284.1 L738.5 1273 L735.5 1268.3 L730.9 1259.3 L728.2 1254.4 L725.9 1250.2 L723.6 1246 L720.6 1238.3 L718.6 1234 L716.8 1229.2 L714.9 1224.3 L713 1219.5 L711.2 1215.6 L709.5 1210.3 L707.7 1205 L706 1199.8 L704.6 1196.3 L703.1 1194.5 L700.6 1189.8 L698.1 1185.2 L695.7 1180.6 L693.4 1176.4 L690.6 1170.1 L686.7 1151.2 L684.1 1146.7 L681.4 1146 L678.6 1144.2 L675.4 1139.6 L672.1 1135Z" fill="#6A3665"/>
<path d="M563.4 616.8 L1040.3 832.8M563.4 845.2 L1040.3 1061.2M563.4 1073.7 L1040.3 1289.7M563.4 1302.4 L1040.3 1518.5M563.4 1531.1 L1040.3 1747.1M563.4 994.2 L662.5 782.1M563.4 1482.9 L890.9 782.1M563.4 1972.6 L1119.7 782.1M563.4 2462.6 L1348.7 782.1" stroke="#9a9aa6" stroke-opacity="0.45" stroke-width="0.6" stroke-dasharray="2.2 1" fill="none"/>
<path d="M764.4 782.3 L761.4 785.8 L758.2 788.2 L755.2 792.7 L758.2 793.7 L756.2 796.7 L759.7 796.7 L758.2 800.1 L761.9 799.1 L761.2 803.1 L764.4 801.6 L763.9 805.6 L766.9 804.1 L767.1 808.1 L770.1 807.1 L770.6 810.5 L773 811.5 L778 810 L782.9 807.6 L790.4 806.3 L797.8 803.8 L799 800.1 L801.5 803.8 L807.7 801.4 L812.7 797.7 L815.1 793.9 L817.6 797.7 L818.8 807.6 L819.6 815 L822.6 817 L819.6 819.4 L816.4 829.8 L813.9 844.7 L812.2 852.1 L811.4 854.6 L808.9 867 L806.5 873.2 L807.7 879.3 L806.5 891.7 L802.7 904.1 L799 914 L795.3 923.9 L787.9 936.3 L784.2 943.7 L778 951.1 L771.8 958.6 L765.6 967.2 L761.9 975.9 L757.7 985.3 L761.2 983.8 L763.1 978.4 L766.9 978.4 L769.3 985.8 L771.8 998.2 L775.5 1008.1 L776.8 1022.9 L779.2 1037.8 L775.5 1052.6 L771.8 1067.5 L770.6 1082.3 L773 1099.7 L778 1114.5 L784.2 1126.9 L790.4 1136.8 L797.8 1146.7 L802.7 1151.7 L806.5 1150.4 L810.2 1154.1 L814.6 1151.7 L815.6 1146.7 L813.9 1131.8 L812.7 1121.9 L817.6 1107.1 L825 1089.8 L827.5 1074.9 L825 1062.5 L820.1 1050.2 L812.7 1037.8 L807.7 1027.9 L800.3 1021.7 L794.1 1013 L792.8 1003.1 L796.6 988.3 L797.8 975.9 L795.3 968.5 L789.1 964.8 L790.4 956.1 L795.3 946.2 L802.7 938.8 L812.7 928.9 L822.6 921.4 L830 911.5 L836.2 901.6 L837.4 896.7 L844.8 895.4 L853.5 899.2 L854.7 904.1 L848.5 914 L852.3 917.7 L862.2 922.7 L869.6 928.9 L872.1 938.8 L875 943.7 L877 951.1 L878.3 963.5 L880.7 968.5 L880 974.7 L883.2 978.4 L886.9 984.6 L891.9 990.7 L899.3 998.2 L901.8 1001.9 L894.3 1008.1 L889.4 1018 L885.7 1026.6 L891.9 1026.6 L901.8 1024.2 L911.7 1020.5 L916.6 1016.7 L918.6 1009.3 L922.8 1020.9 L926 1010.5 L930.2 1014.3 L933.5 1006.8 L938.4 1009.3 L942.6 1005.6 L946.3 1011.8 L961.2 1011.8 L976 1010.5 L985.9 1008.1 L995.8 1000.6 L1003.3 993.2 L1005.7 985.8 L1009.5 975.9 L1011.9 963.5 L1014.4 948.7 L1016.9 933.8 L1015.6 919 L1011.9 906.6 L1007 894.2 L1000.8 884.3 L997.1 871.9 L993.4 864.5 L992.1 852.1 L989.6 842.2 L989.6 834.8 L995.8 827.4 L1005.7 822.4 L1020.6 818.7M678.4 1004.8 L680.9 1002.2 L684.7 1002.2 L689.2 1006.7 L693.6 1012.4 L698.7 1016.9 L705.1 1020 L712.7 1023.9 L719.1 1026.4 L722.3 1030.9 L724.8 1037.2 L726.8 1044.9 L730.6 1053.8 L733.8 1061.4 L736.9 1069.1 L740.8 1076.7 L744.6 1083.1 L746.5 1089.5 L747.1 1093.3 L749.7 1100.9 L752.2 1108.6 L754.1 1113.7 L755.4 1117.5 L756.1 1113 L758.6 1111.1 L761.8 1114.3 L764.3 1118.8 L765 1127.7 L768.8 1130.2 L771.3 1135.3 L773.3 1141.7 L775.2 1148.1 L777.7 1154.4 L781.5 1159.5 L784.1 1164 L777.7 1164.6 L772 1164 L779 1165.9 L785.4 1165.3 L789.2 1165.9 L791.7 1168.4 L793.6 1173.5 L793 1178.6 L787.9 1180.5 L784.1 1183.7 L782.2 1188.8 L782.8 1194.2 L787.9 1199.3 L795.3 1204.3 L792.8 1219.1 L794.1 1229 L787.9 1234 L797.8 1235.2 L806.5 1243.9 L808.9 1253.8 L810.2 1262.5 L802.7 1268.6 L797.8 1276.1 L792.8 1288.4 L785.4 1300.8 L778 1304.5 L773 1298.3 L768.1 1293.4 L759.4 1296.4 L757 1288.4 L749.5 1273.6 L742.1 1256.3 L735.9 1241.4 L728.5 1221.6 L722.3 1204.3 L721.7 1194.2 L721.7 1183.7 L720.4 1173.5 L719.1 1164.6 L717.8 1155.7 L716.6 1148.1 L715.3 1141.7 L712.7 1138.5 L710.2 1134 L709.6 1126.4 L710.2 1118.8 L711.7 1111.1 L712.1 1103.5 L710.8 1097.1 L707.7 1092 L703.8 1086.9 L700 1083.1 L699.4 1079.3 L701.3 1072.3 L700 1066.5 L698.7 1060.2 L696.2 1052.5 L692.4 1046.8 L687.9 1039.8 L684.7 1032.1 L681.5 1024.5 L679 1016.9 L677.7 1010.5 L678.4 1004.8 L678.4 1004.8M762 1317.8 L766.8 1319.9 L773.8 1317.1 L777.9 1311.6 L784.2 1308.8 L791.8 1314.4 L800.2 1319.9 L802.9 1318.5 L812.7 1326.9 L822.4 1333.8 L826.6 1336.6 L825.9 1343.5 L829.3 1349.1 L837.7 1354.6 L841.8 1356 L851.6 1356.7 L862.7 1364.4 L866.8 1361.6 L872.4 1364.4 L882.1 1372.7 L890.4 1382.4 L901.6 1397.7 L907.1 1402.6 L915.5 1406 L923.8 1410.2 L929.3 1414.4 L930.7 1418.5 L927.3 1422 L925.2 1426.9 L925.9 1432.4 L926.6 1435.2 L923.8 1433.8 L922.4 1429.7 L914.1 1424.1 L901.6 1415.8 L887.7 1408.8 L872.4 1401.9 L862.7 1396.3 L854.3 1390.8 L843.2 1381 L834.9 1374.1 L821 1364.4 L815.4 1365.1 L808.5 1358.8 L802.9 1356 L797.4 1350.5 L790.4 1346.3 L782.8 1342.1 L780.7 1335.2 L775.2 1331 L768.2 1326.9 L762.7 1321.3 L762 1317.8M905 1387.3 L909.9 1385.9 L921 1390.1 L929.3 1393.5 L930.7 1396.3 L923.8 1397 L915.5 1396.3 L908.5 1392.8 L904.3 1390.1 L905 1387.3M928.6 1423.4 L933.5 1422 L941.8 1426.2 L949.5 1432.4 L950.2 1436.6 L944.6 1438.7 L936.3 1438 L930.7 1432.4 L928.6 1426.9 L928.6 1423.4M956.4 1441.5 L962.7 1439.4 L968.2 1441.5 L971 1446.3 L968.2 1451.9 L962.7 1453.3 L958.5 1449.1 L956.4 1441.5M966.8 1456.7 L971 1454 L979.3 1451.9 L986.3 1451.2 L988.4 1447.7 L993.2 1449.1 L996 1453.3 L1001.6 1457.4 L1005.7 1454.7 L1011.3 1458.8 L1018.2 1461.6 L1018.2 1469.9 L1007.1 1465.8 L998.8 1465.1 L993.2 1461.6 L987.7 1463 L982.1 1460.2 L973.8 1461.6 L968.2 1460.2 L966.8 1456.7M1005.7 1488 L1011.3 1484.5 L1018.2 1485.2 L1018.2 1492.2M839.1 1267.1 L843.2 1261.6 L848.8 1260.2 L854.3 1264.4 L855 1269.9 L850.2 1275.5 L844.6 1274.1 L840.4 1271.3 L839.1 1267.1M802.7 1229 L810.2 1224.1 L820.1 1224.1 L822.6 1229 L818.8 1238.9 L821.3 1248.8 L828.7 1253.8 L822.6 1256.3 L815.1 1255 L811.4 1243.9 L808.9 1234 L802.7 1229M1020.6 1184 L998.3 1195.6 L976 1194.4 L961.2 1191.9 L959.9 1198.1 L956.2 1198.1 L948.8 1208 L945.1 1214.7 L936.4 1208 L929 1200.6 L922.8 1191.9 L916.6 1189.4 L906.7 1194.4 L899.3 1204.3 L894.3 1219.1 L896.8 1229 L893.1 1238.9 L893.1 1248.8 L900.2 1253.2 L898.8 1261.6 L895.3 1269.9 L893.2 1279.6 L891.1 1288 L897.4 1290.1 L902.9 1293.5 L909.9 1296.3 L916.8 1299.1 L920.3 1303.3 L918.2 1308.8 L916.8 1314.4 L923.8 1313 L932.1 1316.4 L939.1 1317.1 L944.6 1312.3 L947.4 1317.1 L951.6 1321.3 L957.1 1325.5 L965.5 1329.6 L969.6 1333.8 L968.2 1342.1 L966.2 1349.1 L979.3 1349.1 L993.2 1348.4 L1001.6 1344.9 L1004.4 1339.4 L1009.9 1332.4 L1021 1322.7M995.3 1357.4 L998.8 1349.1 L1003 1343.5 L1007.1 1344.9 L1004.4 1351.9 L1000.2 1356.7 L995.3 1357.4M683.9 869.4 L688.9 859.5 L695.1 852.1 L700 842.2 L706.2 834.8 L711.2 832.8 L709.9 839.7 L702.5 847.2 L698.8 854.6 L692.6 862 L686.4 868.2 L683.9 869.4M676.2 881.8 L674.7 883.3 L673 883.8 L671.7 883.1 L671.3 881.3 L671.9 879.3 L673.3 877.8 L675 877.3 L676.3 878.1 L676.8 879.8 L676.2 881.8M668.1 911.5 L667.9 912.1 L667.4 912.5 L666.8 912.5 L666.3 912.1 L666.1 911.5 L666.3 910.9 L666.8 910.6 L667.4 910.6 L667.9 910.9 L668.1 911.5M666.3 931.3 L666.2 932.1 L665.7 932.5 L665.1 932.5 L664.6 932.1 L664.4 931.3 L664.6 930.6 L665.1 930.2 L665.7 930.2 L666.2 930.6 L666.3 931.3M670.4 938 L670.4 938.7 L669.9 939.3 L669.1 939.8 L668.3 939.9 L667.8 939.5 L667.7 938.9 L668.2 938.2 L669 937.7 L669.8 937.7 L670.4 938M669.3 960.2 L668.3 963.6 L666.8 965.5 L665.4 965.2 L664.7 962.9 L664.9 959.4 L665.9 956 L667.4 954.1 L668.8 954.4 L669.5 956.7 L669.3 960.2M685.9 996.2 L685.7 996.9 L685 997.4 L684.3 997.4 L683.7 996.9 L683.4 996.2 L683.7 995.5 L684.3 995 L685 995 L685.7 995.5 L685.9 996.2M792.6 899.2 L792.4 900.3 L791.9 901 L791.3 901 L790.8 900.3 L790.6 899.2 L790.8 898 L791.3 897.3 L791.9 897.3 L792.4 898 L792.6 899.2M800.9 897.4 L799.9 898.9 L798.6 899.5 L797.5 899.1 L796.9 897.8 L797.2 896 L798.1 894.5 L799.4 893.8 L800.6 894.2 L801.1 895.6 L800.9 897.4M789.1 909.1 L788.9 909.8 L788.3 910.2 L787.5 910.2 L786.9 909.8 L786.7 909.1 L786.9 908.3 L787.5 907.9 L788.3 907.9 L788.9 908.3 L789.1 909.1M797.5 914 L797.1 915.7 L796 916.8 L794.6 916.8 L793.5 915.7 L793.1 914 L793.5 912.3 L794.6 911.2 L796 911.2 L797.1 912.3 L797.5 914M800.5 907.8 L800.2 908.7 L799.5 909.2 L798.6 909.2 L797.8 908.7 L797.5 907.8 L797.8 906.9 L798.6 906.4 L799.5 906.4 L800.2 906.9 L800.5 907.8M782.7 927.6 L782.5 928.8 L782 929.5 L781.4 929.5 L780.9 928.8 L780.7 927.6 L780.9 926.5 L781.4 925.7 L782 925.7 L782.5 926.5 L782.7 927.6M790.1 926.4 L789.9 927 L789.4 927.3 L788.8 927.3 L788.3 927 L788.1 926.4 L788.3 925.8 L788.8 925.4 L789.4 925.4 L789.9 925.8 L790.1 926.4M776.4 942.9 L776.2 943.6 L775.2 944.4 L774 944.8 L772.8 944.9 L772.2 944.5 L772.4 943.8 L773.3 943.1 L774.6 942.6 L775.8 942.5 L776.4 942.9M805.5 964.2 L805.7 965 L805.2 966 L804.3 966.8 L803.2 967.1 L802.5 966.8 L802.3 966 L802.8 965 L803.7 964.2 L804.7 963.9 L805.5 964.2M794.6 1008.2 L793.9 1012 L792.8 1014.2 L791.8 1014.1 L791.1 1011.7 L791.1 1007.9 L791.8 1004.2 L792.8 1001.9 L793.9 1002 L794.6 1004.4 L794.6 1008.2M775 1024.2 L774.6 1025.6 L773.7 1026.5 L772.4 1026.5 L771.4 1025.6 L771.1 1024.2 L771.4 1022.7 L772.4 1021.8 L773.7 1021.8 L774.6 1022.7 L775 1024.2M774.8 1047.7 L774.4 1048.7 L773.6 1049.3 L772.5 1049.3 L771.6 1048.7 L771.3 1047.7 L771.6 1046.7 L772.5 1046 L773.6 1046 L774.4 1046.7 L774.8 1047.7M770.6 996.2 L770.4 997.1 L770.1 997.6 L769.6 997.6 L769.2 997.1 L769.1 996.2 L769.2 995.3 L769.6 994.8 L770.1 994.8 L770.4 995.3 L770.6 996.2M870.8 940 L870.6 941.2 L870 941.9 L869.2 941.9 L868.6 941.2 L868.3 940 L868.6 938.8 L869.2 938.1 L870 938.1 L870.6 938.8 L870.8 940M870.3 949.9 L870.2 950.3 L869.8 950.6 L869.4 950.6 L869 950.3 L868.8 949.9 L869 949.5 L869.4 949.2 L869.8 949.2 L870.2 949.5 L870.3 949.9M885.9 987.3 L885.3 989.2 L884.3 990.4 L883.4 990.2 L882.9 988.8 L883 986.8 L883.6 984.8 L884.6 983.7 L885.5 983.9 L886 985.2 L885.9 987.3M921.6 1038.5 L921.3 1039 L920.7 1039.2 L920 1039.2 L919.3 1039 L919.1 1038.5 L919.3 1038.1 L920 1037.8 L920.7 1037.8 L921.3 1038.1 L921.6 1038.5M825 1129.9 L824.8 1130.6 L824.2 1131 L823.4 1131 L822.8 1130.6 L822.6 1129.9 L822.8 1129.1 L823.4 1128.7 L824.2 1128.7 L824.8 1129.1 L825 1129.9M856.5 1139.8 L856.2 1140.8 L855.6 1141.4 L854.8 1141.4 L854.2 1140.8 L854 1139.8 L854.2 1138.8 L854.8 1138.1 L855.6 1138.1 L856.2 1138.8 L856.5 1139.8M867.1 1140.5 L867 1141.2 L866.6 1141.7 L866.1 1141.7 L865.8 1141.2 L865.6 1140.5 L865.8 1139.8 L866.1 1139.3 L866.6 1139.3 L867 1139.8 L867.1 1140.5M913.4 1143.5 L911.9 1145.7 L909.6 1146.6 L907.4 1145.8 L906.2 1143.7 L906.4 1141 L908 1138.8 L910.3 1137.9 L912.5 1138.7 L913.7 1140.8 L913.4 1143.5M914.9 1166 L914.7 1166.6 L914 1167 L913.3 1167 L912.6 1166.6 L912.4 1166 L912.6 1165.4 L913.3 1165.1 L914 1165.1 L914.7 1165.4 L914.9 1166M702.2 1202.8 L702.7 1208.4 L702.5 1211.8 L701.5 1212 L700.3 1208.7 L699.3 1203.2 L698.8 1197.7 L699.1 1194.2 L700 1194.1 L701.2 1197.4 L702.2 1202.8M719.2 1266 L719.3 1267.5 L718.7 1268.7 L717.6 1269.1 L716.3 1268.6 L715.5 1267.3 L715.3 1265.8 L716 1264.7 L717.1 1264.2 L718.4 1264.7 L719.2 1266M738.1 1391.9 L737.9 1392.7 L737.1 1393.1 L736.2 1393.1 L735.5 1392.7 L735.2 1391.9 L735.5 1391.2 L736.2 1390.7 L737.1 1390.7 L737.9 1391.2 L738.1 1391.9M878 1251.8 L877.7 1252.7 L877 1253.2 L876.1 1253.2 L875.3 1252.7 L875 1251.8 L875.3 1250.9 L876.1 1250.4 L877 1250.4 L877.7 1250.9 L878 1251.8M899.5 1246.2 L899.5 1248.4 L897.9 1250.3 L895.5 1251.1 L893.1 1250.7 L891.6 1249 L891.7 1246.9 L893.2 1244.9 L895.7 1244.1 L898.1 1244.5 L899.5 1246.2M839.4 1264.2 L839.2 1264.6 L838.9 1264.9 L838.4 1264.9 L838 1264.6 L837.9 1264.2 L838 1263.8 L838.4 1263.5 L838.9 1263.5 L839.2 1263.8 L839.4 1264.2M936.2 1402.3 L936 1403 L935.5 1403.5 L934.9 1403.5 L934.4 1403 L934.2 1402.3 L934.4 1401.6 L934.9 1401.1 L935.5 1401.1 L936 1401.6 L936.2 1402.3M959.6 1407.1 L958.8 1407.7 L957.2 1407.9 L955.5 1407.4 L954.2 1406.5 L953.9 1405.5 L954.6 1404.8 L956.2 1404.7 L958 1405.2 L959.3 1406.1 L959.6 1407.1M791.2 1184.4 L790 1185.6 L788.1 1185.8 L786.1 1185.1 L784.8 1183.6 L784.6 1182.1 L785.8 1180.9 L787.7 1180.7 L789.7 1181.4 L791 1182.8 L791.2 1184.4M805.7 1191.9 L805.2 1193.4 L803.7 1194.3 L801.8 1194.3 L800.3 1193.4 L799.8 1191.9 L800.3 1190.4 L801.8 1189.5 L803.7 1189.5 L805.2 1190.4 L805.7 1191.9M812 1187.6 L810.8 1190 L809.3 1191.1 L808.2 1190.7 L807.8 1188.9 L808.3 1186.3 L809.6 1183.9 L811 1182.8 L812.2 1183.2 L812.6 1185 L812 1187.6M786.9 1149.8 L787.7 1152.9 L787.2 1155.4 L785.5 1156.1 L783.4 1155 L781.5 1152.3 L780.7 1149.2 L781.2 1146.8 L782.8 1146 L785 1147.1 L786.9 1149.8M790.6 1162.2 L790.3 1163.1 L789.6 1163.6 L788.7 1163.6 L787.9 1163.1 L787.6 1162.2 L787.9 1161.3 L788.7 1160.8 L789.6 1160.8 L790.3 1161.3 L790.6 1162.2M794.8 1156 L794.7 1156.4 L794.3 1156.7 L793.9 1156.7 L793.5 1156.4 L793.3 1156 L793.5 1155.6 L793.9 1155.3 L794.3 1155.3 L794.7 1155.6 L794.8 1156M802.3 1163.4 L802.1 1164.2 L801.7 1164.6 L801.3 1164.6 L800.9 1164.2 L800.8 1163.4 L800.9 1162.7 L801.3 1162.3 L801.7 1162.3 L802.1 1162.7 L802.3 1163.4M810.9 1161 L810.5 1162.1 L809.5 1162.8 L808.3 1162.8 L807.3 1162.1 L807 1161 L807.3 1159.8 L808.3 1159.1 L809.5 1159.1 L810.5 1159.8 L810.9 1161M817.7 1167.4 L816.5 1168.4 L814.7 1168.4 L813.2 1167.5 L812.3 1166 L812.6 1164.4 L813.8 1163.4 L815.5 1163.4 L817.1 1164.3 L817.9 1165.9 L817.7 1167.4M809.9 1151.1 L809.3 1152.5 L807.5 1153.4 L805.4 1153.4 L803.7 1152.5 L803 1151.1 L803.7 1149.6 L805.4 1148.7 L807.5 1148.7 L809.3 1149.6 L809.9 1151.1M912.2 1144.9 L911.6 1146 L910.1 1146.8 L908.3 1146.8 L906.8 1146 L906.2 1144.9 L906.8 1143.7 L908.3 1143 L910.1 1143 L911.6 1143.7 L912.2 1144.9M914.9 1166.7 L914.7 1167.2 L914 1167.6 L913.3 1167.6 L912.6 1167.2 L912.4 1166.7 L912.6 1166.1 L913.3 1165.7 L914 1165.7 L914.7 1166.1 L914.9 1166.7M764.1 1315.7 L763.9 1316.3 L763.4 1316.6 L762.8 1316.6 L762.3 1316.3 L762.2 1315.7 L762.3 1315.1 L762.8 1314.7 L763.4 1314.7 L763.9 1315.1 L764.1 1315.7M821.6 1260 L821.3 1260.7 L820.5 1261.2 L819.6 1261.2 L818.9 1260.7 L818.6 1260 L818.9 1259.3 L819.6 1258.8 L820.5 1258.8 L821.3 1259.3 L821.6 1260M665.6 1057 L668.8 1055.3 L672.6 1060.2 L675.8 1066.5 L677.1 1071 L675.2 1071.9 L671.4 1066.5 L667.5 1060.8 L665.6 1057M686.6 1079.3 L689.8 1081.2 L690.5 1085 L688.5 1083.1 L686.6 1079.3M679.6 1094.6 L685.4 1093.9 L687.3 1098.4 L689.2 1104.8 L691.3 1109.8 L689.2 1114.9 L686 1117.5 L683.5 1112.4 L682.2 1104.8 L680.6 1099.7 L679.6 1094.6M690.5 1132.1 L692.4 1135.3 L691.1 1139.8 L687.9 1143 L686 1142.3 L689.2 1137.9 L690.8 1134.7 L690.5 1132.1M686.6 1155.1 L689.8 1153.2 L693 1153.8 L694.3 1159.5 L693.6 1168.4 L693 1172.9 L689.2 1172.3 L687.3 1167.2 L685.7 1160.8 L686.6 1155.1M695.6 1180.5 L698.1 1181.8 L698.7 1187.5 L698.1 1191.4 L696.2 1188.8 L694.7 1183.7 L695.6 1180.5M764.3 1121.3 L766.9 1119.8 L770.7 1120.7 L772.4 1123.9 L770.7 1127.4 L766.9 1128.3 L764.3 1125.8 L764.3 1121.3M774.1 1134.7 L777.1 1133.4 L780.3 1139.1 L780.5 1143 L777.7 1142.3 L774.9 1138.1 L774.1 1134.7M781.3 1149.1 L784.1 1148.1 L787.3 1153.2 L787.6 1156.3 L784.7 1155.7 L782.2 1152.1 L781.3 1149.1M774.5 1143 L776.4 1142.7 L779 1149.3 L778.3 1151.2 L775.8 1148.1 L774.5 1143M804.5 1188.8 L808.9 1181.2 L810.8 1187.5 L814.6 1191.4 L810.2 1192.6 L804.5 1188.8M812.7 1162.7 L816.6 1162.1 L818.7 1165.3 L817.2 1169.1 L814.6 1167.2 L812.1 1165.9 L812.7 1162.7" stroke="#000" stroke-width="1.4" fill="none" stroke-linejoin="round"/>
<path d="M755.7 782.8C752.8 785.1 744.6 792.1 738.4 796.4C732.2 800.7 725.6 804.9 718.6 808.8C711.6 812.7 702.1 815.8 696.3 819.9C690.5 824.1 688.5 827.8 683.9 833.5C679.4 839.3 674 847 669.1 854.6C664.1 862.2 658.3 871.1 654.2 879.3C650.1 887.6 646.6 896.7 644.3 904.1C642 911.5 641.8 916.5 640.6 923.9C639.4 931.3 638.3 940.4 636.9 948.7C635.4 956.9 633.2 966 631.9 973.4C630.7 980.8 629.9 986.6 629.5 993.2C629.1 999.8 628.6 1006.4 629.5 1013C630.3 1019.6 631.9 1026.6 634.4 1032.8C636.9 1039 641 1044.8 644.3 1050.2C647.6 1055.5 651.1 1059.2 654.2 1065C657.3 1070.8 660.8 1078.2 662.9 1084.8C664.9 1091.4 665.6 1097.6 666.6 1104.6C667.6 1111.6 668.2 1119.9 669.1 1126.9C669.9 1133.9 671.1 1140.8 671.5 1146.7C672 1152.6 670.7 1156.7 671.5 1162.2C672.4 1167.7 674.4 1172.9 676.5 1179.5C678.6 1186.1 681.9 1194.4 683.9 1201.8C686 1209.2 687.2 1216.2 688.9 1224.1C690.5 1231.9 691.8 1240.6 693.8 1248.8C695.9 1257.1 698.4 1265.8 701.3 1273.6C704.1 1281.4 707 1288.9 711.2 1295.9C715.3 1302.9 721.1 1309.1 726 1315.7C731 1322.3 736.7 1328.5 740.9 1335.5C745 1342.5 746.2 1350.3 750.8 1357.8C755.3 1365.2 762.3 1373 768.1 1380C773.9 1387.1 779.2 1394.1 785.4 1399.8C791.6 1405.6 797.8 1410.6 805.2 1414.7C812.7 1418.8 822.6 1420.9 830 1424.6C837.4 1428.3 843.2 1432 849.8 1437C856.4 1441.9 861.3 1448.9 869.6 1454.3C877.8 1459.7 889.4 1464.2 899.3 1469.2C909.2 1474.1 918.7 1478.6 929 1484C939.3 1489.4 950.5 1496 961.2 1501.3C971.9 1506.7 983.7 1511.2 993.4 1516.2C1003.1 1521.1 1008.2 1524.9 1019.4 1531C1030.5 1537.2 1053.4 1549.6 1060.2 1553.3" stroke="#9467bd" stroke-width="5" fill="none" stroke-linejoin="round"/>
<rect x="677.4" y="838.2" width="14" height="14" transform="rotate(35 684.4 845.2)" fill="none" stroke="#9467bd" stroke-width="3.6"/>
<rect x="628.7" y="984.2" width="14" height="14" transform="rotate(0 635.7 991.2)" fill="none" stroke="#9467bd" stroke-width="3.6"/>
<rect x="670" y="1144.7" width="14" height="14" transform="rotate(-10 677 1151.7)" fill="none" stroke="#9467bd" stroke-width="3.6"/>
<rect x="728.9" y="1311.2" width="14" height="14" transform="rotate(35 735.9 1318.2)" fill="none" stroke="#9467bd" stroke-width="3.6"/>
<rect x="838.3" y="1418.1" width="14" height="14" transform="rotate(35 845.3 1425.1)" fill="none" stroke="#9467bd" stroke-width="3.6"/>
<rect x="965.3" y="1497.3" width="14" height="14" transform="rotate(25 972.3 1504.3)" fill="none" stroke="#9467bd" stroke-width="3.6"/>
<path d="M760.7 829.8C757 831.9 745.4 837.5 738.4 842.2C731.4 847 724.4 852.5 718.6 858.3C712.8 864.1 707.9 870.5 703.7 876.9C699.6 883.3 696.7 889.7 693.8 896.7C690.9 903.7 688.5 911.1 686.4 919C684.3 926.8 682.6 935.5 681.4 943.7C680.3 952 679.8 960.6 679.5 968.5C679.1 976.3 678.9 983.7 679.5 990.7C680 997.8 680.9 1003.9 682.7 1010.5C684.5 1017.1 687 1023.8 690.1 1030.4C693.2 1037 698 1043.6 701.3 1050.2C704.6 1056.8 707.6 1062.9 709.9 1070C712.2 1077 713.8 1084.8 714.9 1092.2C715.9 1099.7 715.7 1107.1 716.1 1114.5C716.5 1121.9 716.5 1128.4 717.3 1136.8C718.2 1145.2 719.4 1156.7 721.1 1164.7C722.7 1172.6 725.2 1177.5 727.2 1184.5C729.3 1191.5 731.2 1199.3 733.4 1206.8C735.7 1214.2 738.4 1222 740.9 1229C743.3 1236 746.2 1243.1 748.3 1248.8C750.4 1254.6 752.4 1261.2 753.2 1263.7" stroke="#472d7b" stroke-width="3.6" fill="none"/>
<path d="M770.6 1298.3C772.2 1301.2 776.3 1309.5 780.5 1315.7C784.6 1321.9 790 1328.9 795.3 1335.5C800.7 1342.1 806.5 1349.1 812.7 1355.3C818.8 1361.5 825.4 1367.3 832.5 1372.6C839.5 1378 847.3 1382.5 854.7 1387.5C862.2 1392.4 869.6 1397.4 877 1402.3C884.4 1407.3 891.5 1412.2 899.3 1417.2C907.1 1422.1 915.8 1427.1 924 1432C932.3 1437 940.6 1442.8 948.8 1446.9C957.1 1451 965.3 1453.7 973.6 1456.8C981.8 1459.9 990.7 1462.9 998.3 1465.4C1005.9 1468 1015.8 1471 1019.4 1472.1" stroke="#472d7b" stroke-width="3.6" fill="none"/>
<path d="M694.3 967.2C694.4 970.3 693.9 979.8 695.1 985.8C696.2 991.8 698.6 996.9 701.3 1003.1C703.9 1009.3 708.1 1016.7 711.2 1022.9C714.2 1029.1 718.4 1037.4 719.8 1040.3" stroke="#33638d" stroke-width="3.6" fill="none"/>
<path d="M725.5 1051.4C726.6 1053.7 730.3 1059.4 732.2 1065C734.1 1070.6 736.2 1077.8 737.1 1084.8C738.1 1091.8 737.6 1100.1 737.6 1107.1C737.6 1114.1 737 1120.3 737.1 1126.9C737.3 1133.5 737.4 1140.4 738.4 1146.7C739.4 1153 741.5 1158.4 743.3 1164.7C745.2 1171 748.3 1177.5 749.5 1184.5C750.8 1191.5 749.7 1199.7 750.8 1206.8C751.8 1213.8 753.7 1220.4 755.7 1226.6C757.8 1232.7 760.3 1237.7 763.1 1243.9C766 1250.1 769.3 1256.7 773 1263.7C776.8 1270.7 781.3 1279 785.4 1286C789.5 1293 793.3 1299.2 797.8 1305.8C802.3 1312.4 807.7 1319.4 812.7 1325.6C817.6 1331.8 822.1 1337.5 827.5 1342.9C832.9 1348.3 839.1 1353.6 844.8 1357.8C850.6 1361.9 859.3 1366 862.2 1367.7" stroke="#33638d" stroke-width="3.6" fill="none"/>
<path d="M904.2 1393.7C908 1395.9 919.1 1402.9 926.5 1407.3C933.9 1411.6 941 1415.1 948.8 1419.6C956.6 1424.2 965.3 1430.2 973.6 1434.5C981.8 1438.8 990.7 1442.7 998.3 1445.6C1005.9 1448.6 1015.8 1451.2 1019.4 1452.3" stroke="#33638d" stroke-width="3.6" fill="none"/>
<path d="M771.1 1191.4C770.6 1194 768.3 1201.3 768.6 1206.8C768.9 1212.2 771.1 1218.7 773 1224.1C775 1229.4 778 1234.4 780.5 1238.9C782.9 1243.5 785.8 1246.4 787.9 1251.3C790 1256.3 790.4 1262.9 792.8 1268.6C795.3 1274.4 799 1280.2 802.7 1286C806.5 1291.7 810.6 1297.9 815.1 1303.3C819.7 1308.7 824.6 1313.2 830 1318.2C835.3 1323.1 841.5 1328.9 847.3 1333C853.1 1337.1 858 1339.2 864.6 1342.9C871.2 1346.6 879.5 1351.2 886.9 1355.3C894.3 1359.4 901.8 1363.5 909.2 1367.7C916.6 1371.8 924.5 1375.5 931.5 1380C938.5 1384.6 944.7 1389.9 951.3 1394.9C957.9 1399.8 964.5 1405.2 971.1 1409.7C977.7 1414.3 982.8 1417.7 990.9 1422.1C998.9 1426.6 1014.6 1434.1 1019.4 1436.5" stroke="#1f968b" stroke-width="3.6" fill="none"/>
<path d="M832.5 1298.3C834.9 1301.2 841.9 1310.3 847.3 1315.7C852.7 1321 858.4 1325.6 864.6 1330.5C870.8 1335.5 877.4 1340.8 884.4 1345.4C891.5 1349.9 899.3 1353.6 906.7 1357.8C914.1 1361.9 920.7 1366.2 929 1370.1C937.3 1374.1 951.7 1379.4 956.2 1381.3" stroke="#bddf26" stroke-width="3.6" fill="none"/>
<path d="M962.4 1383.8C964.7 1385.2 972.5 1389.7 976 1392.4C979.5 1395.1 982.2 1398.6 983.5 1399.8" stroke="#bddf26" stroke-width="3.6" fill="none"/>
<text transform="translate(698.8,944.2) rotate(-82)" font-size="25" text-anchor="middle" dy="9" fill="#33638d">200</text>
<text transform="translate(765.1,1283) rotate(58)" font-size="25" text-anchor="middle" dy="9" fill="#472d7b">90</text>
<text transform="translate(883.9,1378.8) rotate(36)" font-size="25" text-anchor="middle" dy="9" fill="#33638d">200</text>
<text transform="translate(823,1278.1) rotate(58)" font-size="25" text-anchor="middle" dy="9" fill="#bddf26">600</text>
<text transform="translate(998.3,1412.7) rotate(38)" font-size="25" text-anchor="middle" dy="9" fill="#bddf26">600</text>
</g>
<rect x="563.4" y="782.1" width="454.2" height="751.6" fill="none" stroke="#000" stroke-width="1.1"/>
<rect x="569.4" y="787" width="26.5" height="36.5" rx="4" fill="#fff" stroke="#000" stroke-width="1"/>
<text x="582.6" y="814.5" font-size="26" text-anchor="middle">e</text>
<rect x="889" y="787" width="121" height="36.5" rx="4" fill="#fff" stroke="#000" stroke-width="1"/>
<text x="949.5" y="814.5" font-size="25.5" text-anchor="middle" fill="#d62728">Model3b</text>
<clipPath id="cp_f"><rect x="1056.1" y="782.1" width="454.6" height="751.9"/></clipPath>
<g clip-path="url(#cp_f)">
<rect x="1056.1" y="782.1" width="454.6" height="751.9" fill="#DCF4C2"/>
<path d="M1514.9 1313.4C1512.8 1295.8 1506.5 1325.1 1502.4 1331C1498.2 1336.8 1494 1343.1 1489.8 1348.5C1485.6 1354 1481 1359.4 1477.2 1363.6C1473.5 1367.8 1470.5 1370.7 1467.2 1373.7C1463.8 1376.6 1460.5 1379.3 1457.1 1381.2C1453.8 1383.1 1450.4 1383.3 1447.1 1385C1443.7 1386.6 1439.5 1389 1437 1391.3C1434.5 1393.6 1431.2 1396.7 1432 1398.8C1432.8 1400.9 1437 1401.7 1442.1 1403.8C1447.1 1405.9 1455.5 1408 1462.2 1411.4C1468.9 1414.7 1476 1420.6 1482.3 1423.9C1488.5 1427.3 1494.4 1429.4 1499.8 1431.5C1505.3 1433.6 1512.4 1456.2 1514.9 1436.5C1517.4 1416.8 1517 1331 1514.9 1313.4Z" fill="#FEFEDA"/>
<path d="M1248.6 780.1C1200 782.1 1237.3 788.4 1231 792.6C1224.7 796.8 1217.6 801 1210.9 805.2C1204.2 809.4 1195.8 814 1190.8 817.7C1185.8 821.5 1184.1 824 1180.8 827.8C1177.4 831.6 1175.7 835.7 1170.7 840.4C1165.7 845 1155.2 850.4 1150.6 855.4C1146 860.5 1144.4 865.7 1143.1 870.5C1141.7 875.3 1141.7 881 1142.6 884.3C1143.4 887.7 1148.4 885.4 1148.1 890.6C1147.8 895.8 1142.6 907.4 1140.6 915.7C1138.5 924.1 1136.8 932.5 1135.5 940.9C1134.3 949.2 1133.9 957.6 1133 966C1132.2 974.4 1130.5 982.7 1130.5 991.1C1130.5 999.5 1131.8 1008.7 1133 1016.2C1134.3 1023.8 1136.8 1030.9 1138 1036.3C1139.3 1041.8 1139.1 1044.1 1140.6 1048.9C1142 1053.7 1144.5 1059.2 1147 1065.3C1149.5 1071.3 1153.6 1078.5 1155.7 1085.1C1157.7 1091.7 1158.4 1097.9 1159.4 1104.9C1160.4 1111.9 1161 1120.2 1161.9 1127.2C1162.7 1134.2 1163.9 1141.1 1164.3 1147C1164.8 1152.9 1163.5 1157.1 1164.3 1162.5C1165.2 1168 1167.2 1173.3 1169.3 1179.9C1171.4 1186.5 1174.7 1194.7 1176.7 1202.2C1178.8 1209.6 1180 1216.6 1181.7 1224.5C1183.3 1232.3 1184.6 1241 1186.6 1249.3C1188.7 1257.5 1191.2 1266.2 1194.1 1274C1197 1281.9 1199.9 1289.3 1204 1296.3C1208.1 1303.3 1213.9 1309.5 1218.9 1316.1C1223.8 1322.8 1229.6 1328.9 1233.7 1336C1237.8 1343 1239.1 1350.8 1243.6 1358.3C1248.2 1365.7 1255.2 1373.5 1261 1380.6C1266.8 1387.6 1272.1 1394.6 1278.3 1400.4C1284.5 1406.2 1290.7 1411.1 1298.1 1415.3C1305.6 1419.4 1315.5 1421.4 1322.9 1425.2C1330.3 1428.9 1336.1 1432.6 1342.7 1437.6C1349.3 1442.5 1354.3 1449.5 1362.6 1454.9C1370.8 1460.3 1382.4 1464.8 1392.3 1469.8C1402.2 1474.7 1411.7 1479.3 1422 1484.6C1432.3 1490 1443.5 1496.6 1454.2 1502C1465 1507.3 1476.7 1511.9 1486.4 1516.8C1496.1 1521.8 1506.9 1529.2 1512.5 1531.7C1518 1534.2 1518.7 1545.7 1519.9 1532C1521.2 1518.2 1524.1 1464.5 1519.9 1449C1515.8 1433.6 1503.2 1442.8 1494.8 1439C1486.4 1435.2 1478.1 1431 1469.7 1426.4C1461.3 1421.8 1452.5 1416.4 1444.6 1411.4C1436.6 1406.3 1429.1 1400.9 1422 1396.3C1414.8 1391.7 1408.6 1387.9 1401.9 1383.7C1395.2 1379.5 1388.5 1375.3 1381.8 1371.2C1375.1 1367 1368.4 1363.2 1361.7 1358.6C1355 1354 1348.3 1349.4 1341.6 1343.5C1334.9 1337.7 1327.3 1330.1 1321.5 1323.4C1315.6 1316.7 1311.4 1310.4 1306.4 1303.3C1301.4 1296.2 1295.5 1288.2 1291.3 1280.7C1287.1 1273.2 1282.1 1262.7 1281.3 1258.1C1280.4 1253.5 1283.8 1255.2 1286.3 1253.1C1288.8 1251 1292.1 1248.9 1296.3 1245.5C1300.5 1242.2 1305.5 1236.7 1311.4 1233C1317.3 1229.2 1324 1225.8 1331.5 1222.9C1339 1220 1349.1 1217.9 1356.6 1215.4C1364.2 1212.9 1370 1210.8 1376.7 1207.8C1383.4 1204.9 1389.3 1202 1396.8 1197.8C1404.4 1193.6 1413.6 1187.7 1422 1182.7C1430.3 1177.7 1439.5 1172.2 1447.1 1167.6C1454.6 1163 1461.3 1159.7 1467.2 1155.1C1473 1150.5 1486 1137.5 1482.3 1140C1478.5 1142.5 1447.9 1167 1444.6 1170C1441.2 1173 1455.9 1162.9 1462.2 1158.2C1468.4 1153.5 1477.2 1145.8 1482.3 1141.9C1487.3 1137.9 1489 1137.7 1492.3 1134.3C1495.7 1131 1497.3 1126.4 1502.4 1121.8C1507.4 1117.2 1519.1 1163.6 1522.5 1106.7C1525.8 1049.7 1568.1 834.5 1522.5 780.1C1476.8 725.6 1297.2 778 1248.6 780.1Z" fill="#B1D7A6"/>
<path d="M1147 1065.3C1149.5 1071.3 1153.6 1078.5 1155.7 1085.1C1157.7 1091.7 1158.4 1097.9 1159.4 1104.9C1160.4 1111.9 1162.5 1117.2 1161.9 1127.2C1161.2 1137.2 1156.2 1152.5 1155.6 1165.1C1155 1177.7 1157.3 1190.3 1158.1 1202.8C1159 1215.4 1159.8 1230 1160.7 1240.5C1161.5 1251 1161.5 1257.3 1163.2 1265.6C1164.8 1274 1167.4 1282.4 1170.7 1290.8C1174.1 1299.1 1178.7 1307.5 1183.3 1315.9C1187.9 1324.3 1192.9 1333 1198.3 1341C1203.8 1349 1209.6 1356.5 1215.9 1363.6C1222.2 1370.7 1229.3 1377.4 1236 1383.7C1242.7 1390 1249 1395.9 1256.1 1401.3C1263.2 1406.8 1271.2 1411.4 1278.7 1416.4C1286.3 1421.4 1293.4 1426 1301.4 1431.5C1309.3 1436.9 1318.1 1443.2 1326.5 1449C1334.9 1454.9 1343.2 1460.8 1351.6 1466.6C1360 1472.5 1368.8 1478.4 1376.7 1484.2C1384.7 1490.1 1392.2 1495.9 1399.3 1501.8C1406.5 1507.7 1413.2 1513.1 1419.4 1519.4C1425.7 1525.7 1488.8 1536.1 1437 1539.5C1385.3 1542.8 1162.7 1542.4 1109.1 1539.5C1055.5 1536.6 1112.7 1528.6 1115.4 1521.9C1118.1 1515.2 1121.7 1507.3 1125.5 1499.3C1129.2 1491.3 1134.3 1482.5 1138 1474.2C1141.8 1465.8 1145.6 1456.6 1148.1 1449C1150.6 1441.5 1152.7 1435.2 1153.1 1428.9C1153.5 1422.7 1152.7 1417.6 1150.6 1411.4C1148.5 1405.1 1144.3 1398.8 1140.6 1391.3C1136.8 1383.7 1132.2 1374.5 1128 1366.1C1123.8 1357.8 1120 1349.4 1115.4 1341C1110.8 1332.6 1106.2 1324.3 1100.4 1315.9C1094.5 1307.5 1085.3 1300 1080.3 1290.8C1075.2 1281.5 1073.1 1271.1 1070.2 1260.6C1067.3 1250.1 1066.9 1237.6 1062.7 1227.9C1058.5 1218.3 1048 1216.3 1045.1 1202.8C1042.1 1189.3 1041.3 1159.6 1045.1 1146.9C1048.8 1134.2 1061 1133.1 1067.7 1126.8C1074.4 1120.5 1079 1115.5 1085.3 1109.2C1091.6 1102.9 1098.7 1095.8 1105.4 1089.1C1112.1 1082.4 1119.6 1075.7 1125.5 1069C1131.3 1062.3 1137 1049.5 1140.6 1048.9C1144.1 1048.3 1144.5 1059.2 1147 1065.3Z" fill="#B1D7A6"/>
<path d="M1293.8 780.1C1303 778.4 1336.5 777.1 1344.1 780.1C1351.6 783 1342 792.6 1339 797.6C1336.1 802.7 1331.9 806.9 1326.5 810.2C1321 813.6 1313.1 816.3 1306.4 817.7C1299.7 819.2 1291.3 819.8 1286.3 819C1281.3 818.2 1277.1 815.9 1276.2 812.7C1275.4 809.6 1279.2 803.9 1281.3 800.2C1283.4 796.4 1286.7 793.5 1288.8 790.1C1290.9 786.8 1284.6 781.7 1293.8 780.1Z" fill="#9DBB9A"/>
<path d="M1301.4 905.7C1307.2 902.1 1314.3 899.8 1321.5 899.4C1328.6 899 1337 899.6 1344.1 903.2C1351.2 906.7 1358.3 914.5 1364.2 920.8C1370 927 1375.1 933.7 1379.2 940.9C1383.4 948 1386.6 955.5 1389.3 963.5C1392 971.4 1394.3 980.2 1395.6 988.6C1396.8 997 1397 1005.3 1396.8 1013.7C1396.6 1022.1 1396 1030.9 1394.3 1038.8C1392.6 1046.8 1390.1 1053.9 1386.8 1061.5C1383.4 1069 1379.2 1077 1374.2 1084.1C1369.2 1091.2 1362.9 1097.9 1356.6 1104.2C1350.4 1110.5 1343.2 1116.7 1336.5 1121.8C1329.8 1126.8 1323.1 1130.6 1316.4 1134.3C1309.7 1138.1 1303 1142.3 1296.3 1144.4C1289.6 1146.5 1282.9 1147.7 1276.2 1146.9C1269.5 1146 1261.2 1140.2 1256.1 1139.3C1251.1 1138.5 1248.6 1139.3 1246.1 1141.9C1243.6 1144.4 1242.3 1149.4 1241.1 1154.4C1239.8 1159.4 1240.6 1169.1 1238.5 1172C1236.4 1174.9 1230 1180.4 1228.5 1172C1227 1163.6 1229.7 1136.4 1229.7 1121.8C1229.7 1107.1 1230 1094.5 1228.5 1084.1C1227 1073.6 1223.9 1067.3 1221 1058.9C1218 1050.6 1214.3 1040.9 1210.9 1033.8C1207.6 1026.7 1203.8 1020.8 1200.9 1016.2C1197.9 1011.6 1193.3 1007.9 1193.3 1006.2C1193.3 1004.5 1197.9 1007.9 1200.9 1006.2C1203.8 1004.5 1206.7 1000.3 1210.9 996.1C1215.1 991.9 1221 986.1 1226 981.1C1231 976 1236 971 1241.1 966C1246.1 961 1251.1 955.9 1256.1 950.9C1261.2 945.9 1266.2 940.9 1271.2 935.8C1276.2 930.8 1281.3 925.8 1286.3 920.8C1291.3 915.7 1295.5 909.2 1301.4 905.7Z" fill="#9DBB9A"/>
<path d="M1178.7 881.7 L1173.3 884.9 L1165.6 893.3 L1160.6 897.6 L1156.5 902.3 L1151.9 915.4 L1150.2 920.9 L1148.4 927.9 L1146.9 933.4 L1145.5 938.9 L1144.2 944 L1143 948.5 L1142.4 951.2 L1142 955.4 L1141.4 959.9 L1141 964.4 L1140.5 968.9 L1140.1 973.4 L1139.4 981.3 L1139.6 985.5 L1139.7 989.7 L1139.8 1000.4 L1141.8 1018.3 L1148.9 1037.6 L1152.8 1046.2 L1154.7 1051.5 L1156.6 1056.6 L1156.9 1059.2 L1156.3 1060.4 L1155.7 1061.8 L1156.4 1066.1 L1156.7 1069.4 L1156.9 1072.7 L1157.2 1076 L1157.6 1079.4 L1158.5 1083.2 L1158.1 1084.1 L1157.5 1084.5 L1156.9 1084.8 L1156.2 1085 L1156.6 1089.9 L1157.5 1094.9 L1158.5 1100 L1159.4 1104.9 L1159.5 1105.6 L1160.1 1111.1 L1160.7 1116.4 L1161.2 1121.3 L1161.7 1126.2 L1162.5 1132 L1163.1 1136.8 L1163.7 1141.7 L1164.3 1146.6 L1164.3 1147 L1164.3 1148.1 L1164.3 1152.6 L1168.2 1175.9 L1170.4 1183.2 L1171.9 1187.7 L1173.5 1192.6 L1175.2 1197.5 L1176.7 1202.2 L1176.7 1202.2 L1177.6 1206.1 L1178.8 1211.4 L1180 1216.8 L1181.2 1222.1 L1181.9 1225.7 L1182.9 1230.7 L1183.9 1235.7 L1184.9 1240.6 L1185.8 1245.1 L1188.6 1255.7 L1189.9 1260.1 L1191.3 1264.7 L1195.9 1278.1 L1198.1 1283.2 L1200.4 1288.2 L1211.5 1306.3 L1215.2 1311.3 L1219 1316.4 L1222.8 1321.4 L1226.5 1326.4 L1230 1331 L1233.5 1335.7 L1233.7 1336 L1233.7 1336 L1234.9 1338.6 L1237.3 1344.1 L1239.8 1349.6 L1251.8 1368.8 L1255.3 1373.3 L1258.8 1377.8 L1265 1385.2 L1268.8 1389.5 L1272.5 1393.7 L1287.6 1407.3 L1308.2 1419.3 L1313.2 1421.3 L1317.7 1423.1 L1322.3 1424.9 L1322.9 1425.2 L1322.9 1425.2 L1326.1 1427.2 L1331.3 1430.4 L1336.4 1433.6 L1341.6 1436.9 L1342.7 1437.6 L1343.1 1437.9 L1347.8 1442 L1352.5 1446.1 L1372.2 1459.7 L1378.1 1462.6 L1383.9 1465.5 L1389.7 1468.4 L1395.3 1471.3 L1401 1474.1 L1406.7 1477 L1412.4 1479.8 L1418.8 1483 L1423.5 1485.4 L1429.8 1488.8 L1436.1 1492.2 L1442.1 1495.4 L1448 1498.6 L1457.7 1503.6 L1463.8 1506.4 L1468.7 1508.7 L1473.7 1511 L1478.7 1513.3 L1483.7 1515.6 L1487.6 1517.5 L1496.5 1522.6 L1505.5 1527.7 L1515.8 1533.6 L1550.3 1470.3 L1540.1 1467.1 L1530 1464 L1520 1460.8 L1510.3 1457.9 L1505 1456.2 L1499.8 1454.5 L1494.6 1452.7 L1489.3 1451 L1483.2 1448.2 L1476.7 1445.3 L1470.6 1442.5 L1464.4 1439.6 L1458.3 1436 L1452.1 1432.3 L1446 1428.7 L1439.8 1425 L1434.2 1421.9 L1428.7 1418.8 L1423.1 1415.7 L1417.5 1412.7 L1412 1409.3 L1406.4 1405.9 L1400.8 1402.6 L1394.2 1398.4 L1389 1394.9 L1383.8 1391.5 L1378.9 1388.3 L1374 1385.1 L1368.7 1382 L1363.5 1378.9 L1358.3 1375.8 L1353.2 1372.7 L1349.1 1370.4 L1345 1368.1 L1340.7 1365.7 L1336.4 1363.2 L1332 1359.8 L1326.5 1355.4 L1321.4 1351 L1317.1 1347.2 L1313.3 1343 L1309.4 1338.4 L1305.8 1334.1 L1302.1 1329.7 L1297.8 1323.8 L1294.2 1318.8 L1290.6 1313.8 L1287 1309.1 L1284.1 1304.5 L1281.2 1299.9 L1278.1 1294.9 L1275 1290 L1271.9 1284.6 L1268.8 1279.1 L1265.6 1273.5 L1262.5 1268 L1259.3 1262 L1256.9 1257.1 L1254.4 1252.1 L1251.8 1246.6 L1249.9 1242.1 L1248.1 1237.8 L1246.2 1233 L1244.4 1228.7 L1243.1 1223.9 L1241.9 1218.9 L1240.7 1214 L1239.5 1209.1 L1239.1 1203.6 L1239 1198 L1238.9 1192.4 L1238.8 1186.9 L1237.8 1182.1 L1236.5 1177.1 L1235.2 1172 L1233.9 1167 L1232.8 1162.3 L1231.8 1157.7 L1230.7 1152.6 L1229.8 1148.1 L1229.5 1143.3 L1229.5 1138.5 L1229.4 1133.5 L1229.3 1128.5 L1229.6 1123.6 L1230 1118.6 L1230.4 1113.6 L1230.7 1108.6 L1231 1103.2 L1231.1 1097.6 L1231.2 1092 L1231.4 1086.4 L1230.7 1081.2 L1229.8 1076.2 L1228.8 1071.2 L1227.8 1066.1 L1226.4 1062 L1224.9 1058.4 L1223.5 1054.8 L1222 1051.3 L1220.4 1048.3 L1218.7 1045.7 L1217 1043 L1215.3 1040.4 L1213.1 1036.7 L1210.6 1032.3 L1208.2 1028.1 L1205.7 1023.8 L1203.1 1019.2 L1200.4 1014.5 L1197.7 1009.7 L1195 1004.9 L1193 1000.4 L1191.5 996.1 L1190 991.8 L1188.4 987.5 L1187.8 982.9 L1187.6 978.3 L1187.4 973.7 L1187.2 969.1 L1187.3 964.4 L1187.4 959.8 L1186.9 955.1 L1186.1 950.3 L1185.7 944.9 L1185.5 939.2 L1185.4 933.5 L1185.3 927.5 L1185.6 921.8 L1186.9 914.4 L1186.1 907.8 L1184.3 900.8 L1184.3 891.5 L1183.6 884.6Z" fill="#9DBB9A"/>
<path d="M1168.3 904.6 L1163.6 915.3 L1161 920.8 L1158.9 926.1 L1156.6 932.7 L1155.4 938.2 L1154.3 943.8 L1153.5 948.3 L1152.8 952.5 L1152.9 955.9 L1152.8 960.5 L1152.8 965.1 L1152.9 969.8 L1152.9 974.4 L1152.7 981.6 L1153.6 985.8 L1154.6 990.1 L1155.4 999 L1156.7 1003.3 L1162.3 1027.9 L1164.9 1036 L1166.3 1041.7 L1167.7 1047.3 L1168.2 1051.7 L1167.5 1054.1 L1166.7 1056.2 L1166.9 1060.5 L1166.6 1064 L1166.3 1067.6 L1166.1 1071.1 L1165.8 1074.6 L1166 1078.7 L1165.6 1081.1 L1164.5 1082.1 L1163.3 1082.9 L1162 1083.7 L1161.3 1087.6 L1160.8 1092.9 L1160.3 1098.1 L1160.8 1103.7 L1160.4 1104.8 L1160.4 1109.6 L1160.5 1115.2 L1161.1 1120 L1161.6 1124.9 L1162.3 1130.7 L1162.9 1135.6 L1163.5 1140.5 L1164.1 1145.4 L1164.3 1147 L1164.3 1147 L1164.3 1151.5 L1167.9 1174.8 L1170.1 1182.1 L1171.5 1186.6 L1173.2 1191.5 L1174.8 1196.4 L1176.5 1201.3 L1176.7 1202.2 L1177.3 1204.9 L1178.5 1210.3 L1179.7 1215.7 L1180.9 1221.1 L1181.7 1224.7 L1182.7 1229.7 L1183.7 1234.7 L1184.7 1239.7 L1185.6 1244.2 L1188.3 1254.8 L1189.7 1259.3 L1191 1263.8 L1192.6 1269 L1197.8 1282.3 L1200 1287.4 L1210.8 1305.4 L1214.6 1310.5 L1218.4 1315.6 L1222.2 1320.6 L1226 1325.7 L1229.5 1330.3 L1233 1335 L1233.7 1336 L1233.7 1336 L1234.5 1337.8 L1237 1343.3 L1239.4 1348.8 L1251.4 1368.2 L1254.9 1372.7 L1258.4 1377.2 L1264.6 1384.7 L1268.3 1389 L1272.1 1393.2 L1287 1406.9 L1307.6 1419.1 L1312.7 1421.1 L1317.3 1422.9 L1321.8 1424.7 L1322.9 1425.2 L1322.9 1425.2 L1325.6 1426.9 L1330.8 1430.1 L1336 1433.3 L1341.2 1436.6 L1342.7 1437.6 L1342.8 1437.6 L1347.4 1441.7 L1352.1 1445.8 L1371.8 1459.5 L1377.7 1462.5 L1383.5 1465.4 L1389.3 1468.3 L1395 1471.1 L1400.7 1474 L1406.4 1476.8 L1412.1 1479.7 L1418.6 1482.9 L1423.2 1485.3 L1429.6 1488.7 L1435.9 1492.1 L1441.9 1495.3 L1447.8 1498.5 L1457.5 1503.5 L1463.7 1506.3 L1468.6 1508.6 L1473.6 1510.9 L1478.6 1513.2 L1483.6 1515.5 L1487.5 1517.4 L1496.5 1522.6 L1505.5 1527.7 L1515.8 1533.6 L1547.7 1475.1 L1537.5 1471.7 L1527.4 1468.4 L1517.4 1465.1 L1508.1 1462.3 L1502.9 1460.6 L1497.7 1458.8 L1492.4 1457.1 L1487.2 1455.3 L1481 1452.5 L1474.3 1449.4 L1468.1 1446.6 L1462 1443.7 L1455.7 1440 L1449.5 1436.4 L1443.6 1432.9 L1437.3 1429.2 L1431.7 1426.2 L1426.1 1423.1 L1420.5 1420.1 L1414.9 1417 L1409.3 1413.7 L1403.7 1410.4 L1398.1 1407.1 L1390.4 1402.1 L1385.2 1398.6 L1380 1395.1 L1375.5 1392.2 L1370.8 1389.1 L1365.6 1386 L1360.3 1382.9 L1355.1 1379.8 L1350.2 1376.9 L1346.5 1374.8 L1342.7 1372.7 L1338.3 1370.3 L1333.9 1367.9 L1329.5 1364.5 L1322.6 1359.5 L1316.6 1354.2 L1312.4 1350.4 L1308.7 1346.1 L1304.5 1341.3 L1300.9 1336.9 L1297.2 1332.6 L1292.2 1325.4 L1288.6 1320.4 L1285.1 1315.3 L1281.8 1310.9 L1279.2 1306.7 L1276.5 1302.3 L1273.3 1297.4 L1270.2 1292.5 L1266.9 1287 L1263.7 1281.6 L1260.5 1276.1 L1257.3 1270.6 L1253.5 1263.6 L1251.1 1258.6 L1248.2 1252.3 L1245.8 1247.4 L1244 1243 L1242.3 1238.6 L1240.3 1233.3 L1238.5 1229 L1237.3 1224 L1236.1 1219 L1234.9 1214.1 L1233.7 1209.3 L1233.3 1203.8 L1232.8 1198.2 L1232.4 1192.7 L1232 1187.6 L1230.7 1183.3 L1229.1 1178.3 L1227.5 1173.4 L1225.9 1168.4 L1224.7 1163.9 L1223.3 1159 L1221.7 1151.5 L1220.6 1147 L1220.3 1142.9 L1220 1138.4 L1219.7 1133.5 L1219.3 1128.5 L1219.3 1123.6 L1219.3 1118.5 L1219.3 1113.6 L1219.3 1108.6 L1219 1103.1 L1218.6 1097.7 L1218.2 1092.9 L1217.7 1087.4 L1216.2 1082.5 L1214.8 1077.6 L1213.4 1072.9 L1212.2 1068.9 L1210.6 1066.2 L1209 1063.6 L1207.3 1060.6 L1205.4 1057.3 L1203.5 1054.7 L1201.6 1052.1 L1199.8 1049.5 L1197.9 1046.9 L1195.4 1043.1 L1193.3 1040 L1191.2 1037 L1188.7 1033.3 L1185.6 1028.8 L1182.5 1024.2 L1178.8 1018.4 L1173.2 1003.3 L1172.2 999 L1171.4 992.2 L1170.5 987.9 L1169.7 983.7 L1170 977.8 L1170.2 973.2 L1170.4 968.6 L1170.5 964.1 L1171 959.5 L1171.3 955.5 L1171.3 951 L1171.4 946.3 L1172 940.7 L1172.6 935.1 L1171.5 928.5 L1170.3 922.5 L1169.7 916.5 L1171 905.6Z" fill="#959E90"/>
<path d="M1174.5 1042.8 L1175.1 1047.3 L1174.6 1050.2 L1174 1052.9 L1174.1 1057.3 L1173.8 1060.9 L1173.5 1064.4 L1173.2 1068 L1172.9 1071.5 L1173 1075.6 L1172.4 1078.3 L1171.3 1079.7 L1170 1081 L1168.7 1082.3 L1167.8 1086.4 L1167.1 1091.7 L1166.4 1097 L1165.7 1102.7 L1164.2 1104.3 L1163.1 1109.3 L1162.9 1114.9 L1162.8 1119.8 L1162.8 1124.8 L1162.9 1130.7 L1162.9 1135.6 L1163.5 1140.5 L1164.1 1145.4 L1164.3 1147 L1164.3 1147 L1164.3 1151.5 L1167.9 1174.8 L1170.1 1182.1 L1171.5 1186.6 L1173.2 1191.5 L1174.8 1196.4 L1176.5 1201.3 L1176.7 1202.2 L1177.3 1204.9 L1178.5 1210.3 L1179.7 1215.7 L1180.9 1221.1 L1181.7 1224.7 L1182.7 1229.7 L1183.7 1234.7 L1184.7 1239.7 L1185.6 1244.2 L1188.3 1254.8 L1189.7 1259.3 L1191 1263.8 L1192.6 1269 L1197.8 1282.3 L1200 1287.4 L1210.8 1305.4 L1214.6 1310.5 L1218.4 1315.6 L1222.2 1320.6 L1226 1325.7 L1229.5 1330.3 L1233 1335 L1233.7 1336 L1233.7 1336 L1234.5 1337.8 L1237 1343.3 L1239.4 1348.8 L1251.4 1368.2 L1254.9 1372.7 L1258.4 1377.2 L1264.6 1384.7 L1268.3 1389 L1272.1 1393.2 L1287 1406.9 L1307.6 1419.1 L1312.7 1421.1 L1317.3 1422.9 L1321.8 1424.7 L1322.9 1425.2 L1322.9 1425.2 L1325.6 1426.9 L1330.8 1430.1 L1336 1433.3 L1341.2 1436.6 L1342.7 1437.6 L1342.8 1437.6 L1347.4 1441.7 L1352.1 1445.8 L1371.8 1459.5 L1377.7 1462.5 L1383.5 1465.4 L1389.3 1468.3 L1395 1471.1 L1400.7 1474 L1406.4 1476.8 L1412.1 1479.7 L1418.6 1482.9 L1423.2 1485.3 L1429.6 1488.7 L1435.9 1492.1 L1441.9 1495.3 L1447.8 1498.5 L1457.5 1503.5 L1463.7 1506.3 L1468.6 1508.6 L1473.6 1510.9 L1478.6 1513.2 L1483.6 1515.5 L1487.5 1517.4 L1496.5 1522.6 L1505.5 1527.7 L1515.8 1533.6 L1545.5 1479.2 L1535.2 1475.7 L1525.2 1472.3 L1515.3 1468.9 L1506.4 1466.1 L1501.1 1464.4 L1495.9 1462.6 L1490.7 1460.8 L1485.5 1459 L1479.3 1456.2 L1472.4 1453 L1466.2 1450.1 L1460 1447.3 L1453.8 1443.7 L1447.6 1440 L1441.7 1436.6 L1435.4 1433 L1429.8 1430 L1424.2 1427 L1418.6 1423.9 L1413 1420.9 L1407.4 1417.6 L1401.7 1414.4 L1396.1 1411.1 L1387.4 1405.4 L1382.3 1401.9 L1377.1 1398.4 L1373 1395.7 L1368.5 1392.9 L1363.2 1389.8 L1358 1386.6 L1352.7 1383.5 L1348 1380.8 L1344.6 1378.9 L1341 1376.8 L1336.6 1374.5 L1332.2 1372.2 L1327.7 1368.9 L1319.7 1363.3 L1313 1357.4 L1308.8 1353.6 L1305 1349.3 L1300.8 1344.3 L1297.1 1339.9 L1293.4 1335.5 L1287.8 1327.4 L1284.3 1322.3 L1280.9 1317.2 L1277.8 1313 L1275.4 1309.1 L1272.8 1305.1 L1269.6 1300.2 L1266.4 1295.3 L1263.1 1289.9 L1259.9 1284.5 L1256.6 1279 L1253.3 1273.6 L1248.9 1265.6 L1246.5 1260.7 L1243.3 1253.8 L1241 1248.8 L1239.3 1244.4 L1237.5 1240.1 L1235.5 1234.3 L1233.8 1229.9 L1232.6 1224.9 L1231.4 1220 L1230.2 1215 L1229 1210.4 L1228.5 1204.9 L1227.9 1199.3 L1227.4 1193.8 L1227 1188.9 L1225.7 1184.9 L1224.1 1180 L1222.5 1175 L1221 1170.1 L1219.6 1165.6 L1218.2 1160.5 L1216.4 1151.5 L1215.4 1147 L1215.1 1143.2 L1214.8 1139.1 L1214.4 1134.1 L1214 1129.2 L1213.9 1124.3 L1213.8 1119.1 L1213.8 1114.2 L1213.7 1109.2 L1213.4 1103.7 L1212.7 1098.4 L1212.1 1094 L1211.3 1088.6 L1209.7 1083.7 L1208.1 1078.8 L1206.6 1074.4 L1205.3 1070.9 L1203.7 1068.6 L1202.1 1066.4 L1200.3 1063.7 L1198.2 1060.4 L1196.4 1057.8 L1194.5 1055.2 L1192.7 1052.6 L1190.8 1050 L1187.2 1046.8 L1184.1 1045 L1181.2 1043.4 L1177.5 1040.8Z" fill="#90868A"/>
<path d="M1176.1 1078.3 L1174.7 1079.9 L1173.2 1081.6 L1172.3 1086.5 L1171.4 1091.9 L1170.5 1097.3 L1169.5 1103 L1167.7 1104.2 L1166.4 1109.9 L1166.3 1115.4 L1166.3 1120.3 L1166.2 1125.3 L1166.3 1131.1 L1166.3 1136 L1166.3 1141 L1166.4 1146 L1165.9 1146.9 L1165.4 1147.8 L1164.9 1152.3 L1168.4 1175.4 L1170.5 1182.8 L1171.8 1187.3 L1173.4 1192.3 L1175.1 1197.2 L1176.7 1202.1 L1176.7 1202.2 L1177.5 1205.7 L1178.7 1211.1 L1179.9 1216.5 L1181.1 1221.8 L1181.9 1225.4 L1182.9 1230.4 L1183.9 1235.4 L1184.9 1240.3 L1185.8 1244.8 L1188.5 1255.4 L1189.8 1259.9 L1191.2 1264.4 L1192.8 1269.7 L1198 1282.9 L1200.3 1288 L1211.3 1306 L1215 1311.1 L1218.8 1316.1 L1222.6 1321.2 L1226.4 1326.2 L1229.8 1330.8 L1233.3 1335.5 L1233.7 1336 L1233.7 1336 L1234.8 1338.3 L1237.2 1343.8 L1239.7 1349.4 L1251.7 1368.6 L1255.2 1373.1 L1258.7 1377.6 L1264.9 1385.1 L1268.6 1389.3 L1272.4 1393.6 L1287.4 1407.2 L1308 1419.2 L1313 1421.2 L1317.6 1423 L1322.2 1424.9 L1322.9 1425.2 L1322.9 1425.2 L1326 1427.1 L1331.1 1430.3 L1336.3 1433.5 L1341.5 1436.8 L1342.7 1437.6 L1343 1437.8 L1347.7 1441.9 L1352.4 1446 L1372.1 1459.7 L1377.9 1462.6 L1383.7 1465.5 L1389.6 1468.4 L1395.2 1471.2 L1400.9 1474.1 L1406.6 1476.9 L1412.3 1479.8 L1418.8 1483 L1423.4 1485.4 L1429.7 1488.8 L1436.1 1492.2 L1442 1495.4 L1448 1498.6 L1457.6 1503.5 L1463.7 1506.4 L1468.7 1508.7 L1473.7 1510.9 L1478.6 1513.2 L1483.6 1515.5 L1487.6 1517.5 L1496.5 1522.6 L1505.5 1527.7 L1515.8 1533.6 L1542.8 1484.1 L1532.6 1480.3 L1522.7 1476.7 L1512.9 1473.2 L1504.4 1470.5 L1499.2 1468.7 L1494 1466.9 L1488.9 1465 L1483.7 1463.2 L1477.5 1460.4 L1470.3 1457.1 L1464.2 1454.2 L1458.1 1451.3 L1451.8 1447.7 L1445.6 1444.1 L1439.9 1440.8 L1433.6 1437.2 L1428 1434.2 L1422.4 1431.2 L1416.8 1428.2 L1411.2 1425.2 L1405.5 1421.9 L1399.9 1418.7 L1394.2 1415.5 L1384.6 1409.1 L1379.5 1405.5 L1374.4 1402 L1370.6 1399.5 L1366.4 1396.8 L1361.2 1393.7 L1356 1390.6 L1350.7 1387.5 L1346.1 1384.7 L1343 1383 L1339.7 1381.1 L1335.3 1378.9 L1330.8 1376.6 L1326.3 1373.5 L1317.3 1367.4 L1309.8 1360.8 L1305.7 1356.9 L1301.9 1352.7 L1297.4 1347.5 L1293.8 1343.1 L1290.1 1338.7 L1284 1329.7 L1280.6 1324.6 L1277.3 1319.4 L1274.3 1315.3 L1272.1 1311.8 L1269.8 1308.1 L1266.5 1303.3 L1263.3 1298.4 L1260 1293.1 L1256.7 1287.7 L1253.4 1282.3 L1250.1 1276.9 L1245.1 1268 L1242.6 1263.1 L1239.3 1255.7 L1237.1 1250.7 L1235.3 1246.2 L1233.6 1241.9 L1231.5 1235.7 L1229.9 1231.3 L1228.6 1226.4 L1227.5 1221.5 L1226.3 1216.5 L1225.2 1212 L1224.5 1206.5 L1223.9 1201 L1223.3 1195.5 L1222.8 1190.6 L1221.9 1187 L1220.3 1182.1 L1218.7 1177.2 L1217.1 1172.2 L1215.7 1167.7 L1214.2 1162.4 L1212.2 1152.3 L1211.2 1147.8 L1210.8 1144.1 L1210.4 1140.5 L1209.8 1135.6 L1209.3 1130.7 L1209 1125.8 L1208.7 1120.6 L1208.5 1115.7 L1208.3 1110.7 L1207.8 1105.3 L1205.1 1100.1 L1202.5 1096.9 L1199.6 1091.9 L1196.1 1087.3 L1192.5 1082.7 L1189 1078.6 L1185.9 1076.9 L1182.9 1076.1Z" fill="#8B6E80"/>
<path d="M1174.1 1144.2 L1172.9 1146.4 L1171.5 1147 L1170.1 1151.5 L1172 1173.6 L1172.8 1181.2 L1172.8 1186.1 L1174.1 1191.2 L1175.5 1196.2 L1176.8 1201.2 L1176.7 1202.2 L1177.3 1204.9 L1178.5 1210.3 L1179.7 1215.7 L1180.9 1221.1 L1181.7 1224.7 L1182.7 1229.7 L1183.7 1234.7 L1184.7 1239.7 L1185.6 1244.2 L1188.3 1254.8 L1189.7 1259.3 L1191 1263.8 L1192.6 1269 L1197.8 1282.3 L1200 1287.4 L1210.8 1305.4 L1214.6 1310.5 L1218.4 1315.6 L1222.2 1320.6 L1226 1325.7 L1229.5 1330.3 L1233 1335 L1233.7 1336 L1233.7 1336 L1234.5 1337.8 L1237 1343.3 L1239.4 1348.8 L1251.4 1368.2 L1254.9 1372.7 L1258.4 1377.2 L1264.6 1384.7 L1268.3 1389 L1272.1 1393.2 L1287 1406.9 L1307.6 1419.1 L1312.7 1421.1 L1317.3 1422.9 L1321.8 1424.7 L1322.9 1425.2 L1322.9 1425.2 L1325.6 1426.9 L1330.8 1430.1 L1336 1433.3 L1341.2 1436.6 L1342.7 1437.6 L1342.8 1437.6 L1347.4 1441.7 L1352.1 1445.8 L1371.8 1459.5 L1377.7 1462.5 L1383.5 1465.4 L1389.3 1468.3 L1395 1471.1 L1400.7 1474 L1406.4 1476.8 L1412.1 1479.7 L1418.6 1482.9 L1423.2 1485.3 L1429.6 1488.7 L1435.9 1492.1 L1441.9 1495.3 L1447.8 1498.5 L1457.5 1503.5 L1463.7 1506.3 L1468.6 1508.6 L1473.6 1510.9 L1478.6 1513.2 L1483.6 1515.5 L1487.5 1517.4 L1496.5 1522.6 L1505.5 1527.7 L1515.8 1533.6 L1539.1 1490.9 L1528.8 1486.9 L1519 1483.1 L1509.3 1479.3 L1501.4 1476.8 L1496.3 1474.9 L1491.1 1473 L1485.9 1471.1 L1480.8 1469.2 L1474.6 1466.4 L1467.1 1462.9 L1460.9 1459.9 L1454.8 1457 L1448.6 1453.4 L1442.3 1449.8 L1436.7 1446.7 L1430.4 1443.1 L1424.7 1440.2 L1419.1 1437.2 L1413.5 1434.2 L1407.8 1431.2 L1402.2 1428 L1396.5 1424.8 L1390.8 1421.6 L1379.7 1414.2 L1374.7 1410.6 L1369.6 1406.9 L1366.4 1404.9 L1362.5 1402.4 L1357.3 1399.3 L1352 1396.1 L1346.8 1393 L1342.5 1390.5 L1339.9 1389 L1336.8 1387.3 L1332.4 1385.1 L1327.9 1382.9 L1323.3 1379.9 L1312.5 1372.9 L1304 1365.3 L1299.9 1361.4 L1296.1 1357.1 L1291.4 1351.5 L1287.8 1347.1 L1284.1 1342.7 L1277.1 1332.1 L1273.9 1326.9 L1270.7 1321.8 L1268.1 1318 L1266.2 1315.1 L1264 1311.7 L1260.7 1306.9 L1257.5 1302.1 L1254.1 1296.7 L1250.7 1291.4 L1247.3 1286 L1243.9 1280.6 L1237.7 1270.6 L1235 1265.7 L1231.1 1257.5 L1228.7 1252.5 L1226.7 1248.2 L1224.7 1243.9 L1222.2 1236.9 L1220.4 1232.6 L1218.9 1227.7 L1217.3 1222.8 L1215.4 1218 L1213.5 1213.8 L1212 1208.5 L1210.5 1203.2 L1208.9 1197.9 L1207.6 1194 L1205.9 1191.5 L1203.5 1186.8 L1201.1 1182.2 L1198.7 1177.5 L1194.9 1173.9 L1190.7 1168.3 L1185.5 1151.5 L1182.6 1147 L1180.1 1145.8 L1177.4 1143.8Z" fill="#835678"/>
<path d="M1351.7 1419.8 L1354.2 1421.7 L1355.6 1422.9 L1360.3 1427 L1365 1431.1 L1380.6 1442.1 L1386.2 1445.4 L1391.8 1448.7 L1397.5 1452 L1403.2 1454.7 L1409 1457.5 L1414.7 1460.3 L1420.4 1463 L1426.9 1466.2 L1432 1468.8 L1438.4 1472.2 L1444.8 1475.6 L1450.9 1478.5 L1457 1481.5 L1465.7 1485.6 L1472 1488.3 L1472.5 1487.1 L1466.5 1484 L1458.1 1479.5 L1452.2 1476.2 L1446.2 1472.9 L1440.1 1469.1 L1433.9 1465.4 L1428.8 1462.3 L1422.6 1458.7 L1417.1 1455.5 L1411.6 1452.3 L1406 1449.1 L1400.5 1445.9 L1394.6 1443.2 L1388.7 1440.5 L1382.7 1437.8 L1367.7 1428 L1362.5 1424.4 L1357.4 1420.9 L1355.4 1420.1 L1352.4 1418.7Z" fill="#835678"/>
<path d="M1177.1 1203.9 L1178.3 1209.2 L1179.5 1214.6 L1180.7 1220 L1181.7 1224.5 L1182.5 1228.8 L1183.6 1233.8 L1184.6 1238.8 L1185.5 1243.4 L1188.1 1254 L1189.4 1258.5 L1190.8 1263 L1192.3 1268.2 L1197.4 1281.5 L1199.6 1286.5 L1210.3 1304.8 L1214 1309.7 L1217.8 1314.8 L1221.6 1319.9 L1225.4 1324.9 L1229 1329.7 L1232.5 1334.3 L1233.7 1336 L1233.7 1336 L1234.2 1337.1 L1236.7 1342.6 L1239.1 1348.1 L1250.9 1367.6 L1254.4 1372.2 L1258 1376.7 L1264.1 1384.2 L1267.9 1388.5 L1271.7 1392.8 L1286.5 1406.6 L1307.1 1418.8 L1312.2 1420.9 L1316.8 1422.7 L1321.4 1424.6 L1322.9 1425.2 L1322.9 1425.2 L1325.2 1426.6 L1330.4 1429.8 L1335.6 1433.1 L1340.8 1436.3 L1342.7 1437.6 L1342.7 1437.6 L1347.1 1441.4 L1351.8 1445.5 L1371.5 1459.4 L1377.3 1462.3 L1383.1 1465.2 L1389 1468.1 L1394.7 1471 L1400.4 1473.8 L1406.1 1476.7 L1411.9 1479.5 L1418.3 1482.8 L1423 1485.1 L1429.3 1488.6 L1435.7 1492 L1441.7 1495.2 L1447.7 1498.4 L1457.3 1503.4 L1463.5 1506.3 L1468.5 1508.6 L1473.5 1510.9 L1478.5 1513.2 L1483.5 1515.5 L1487.4 1517.4 L1496.5 1522.6 L1505.4 1527.7 L1515.8 1533.6 L1533.8 1500.6 L1523.5 1496.1 L1513.9 1492.1 L1504.2 1488 L1497.3 1485.7 L1492.1 1483.7 L1487 1481.7 L1481.8 1479.8 L1476.6 1477.8 L1470.4 1475 L1462.4 1471.1 L1456.3 1468.2 L1450.1 1465.2 L1443.8 1461.7 L1437.5 1458.1 L1432.1 1455.2 L1425.7 1451.8 L1420 1448.9 L1414.4 1445.9 L1408.7 1443 L1403 1440.1 L1397.2 1437 L1391.5 1433.9 L1385.7 1430.8 L1372.5 1421.8 L1367.5 1418 L1362.7 1414.4 L1360.3 1412.9 L1356.7 1410.8 L1351.5 1407.6 L1346.2 1404.5 L1341 1401.3 L1337.3 1399.2 L1335.3 1398.2 L1332.5 1396.8 L1328 1394.7 L1323.5 1392.5 L1318.7 1389.8 L1305.4 1381.5 L1295.1 1372.3 L1291 1368.3 L1287.2 1364 L1282 1358 L1278.3 1353.6 L1274.6 1349.2 L1266.3 1336.1 L1263.2 1330.8 L1260.1 1325.6 L1258.1 1322.8 L1256.7 1320.7 L1254.6 1317.7 L1251.2 1313 L1247.8 1308.2 L1244.2 1302.9 L1240.6 1297.7 L1237 1292.5 L1233.4 1287.4 L1225.4 1275.1 L1222.2 1270.4 L1217.3 1260.7 L1214.7 1255.9 L1212.3 1251.7 L1210 1247.5 L1206.8 1239.2 L1204.8 1234.8 L1203 1229.9 L1199.7 1225.4 L1195.6 1221.5 L1191.4 1217.7 L1187.2 1212.9 L1182.8 1208.2 L1178.4 1203.6Z" fill="#6A3665"/>
<path d="M1056.1 616.6 L1533.4 832.9M1056.1 845.2 L1533.4 1061.5M1056.1 1073.9 L1533.4 1290.1M1056.1 1302.9 L1533.4 1519.1M1056.1 1531.7 L1533.4 1748M1056.1 994.4 L1155.3 782.1M1056.1 1483.5 L1383.9 782.1M1056.1 1973.6 L1612.9 782.1M1056.1 2464.1 L1842.1 782.1" stroke="#9a9aa6" stroke-opacity="0.45" stroke-width="0.6" stroke-dasharray="2.2 1" fill="none"/>
<path d="M1257.3 782.3 L1254.3 785.8 L1251.1 788.3 L1248.1 792.7 L1251.1 793.7 L1249.1 796.7 L1252.5 796.7 L1251.1 800.1 L1254.8 799.2 L1254 803.1 L1257.3 801.6 L1256.8 805.6 L1259.7 804.1 L1260 808.1 L1263 807.1 L1263.4 810.6 L1265.9 811.5 L1270.9 810.1 L1275.8 807.6 L1283.3 806.3 L1290.7 803.9 L1291.9 800.1 L1294.4 803.9 L1300.6 801.4 L1305.6 797.7 L1308 794 L1310.5 797.7 L1311.8 807.6 L1312.5 815 L1315.5 817 L1312.5 819.5 L1309.3 829.9 L1306.8 844.7 L1305.1 852.2 L1304.3 854.7 L1301.9 867 L1299.4 873.2 L1300.6 879.4 L1299.4 891.8 L1295.7 904.2 L1291.9 914.1 L1288.2 924 L1280.8 936.4 L1277.1 943.9 L1270.9 951.3 L1264.7 958.7 L1258.5 967.4 L1254.8 976.1 L1250.6 985.5 L1254 984 L1256 978.5 L1259.7 978.5 L1262.2 986 L1264.7 998.4 L1268.4 1008.3 L1269.6 1023.1 L1272.1 1038 L1268.4 1052.9 L1264.7 1067.7 L1263.4 1082.6 L1265.9 1099.9 L1270.9 1114.8 L1277.1 1127.2 L1283.3 1137.1 L1290.7 1147 L1295.7 1152 L1299.4 1150.7 L1303.1 1154.5 L1307.6 1152 L1308.5 1147 L1306.8 1132.2 L1305.6 1122.2 L1310.5 1107.4 L1318 1090 L1320.4 1075.2 L1318 1062.8 L1313 1050.4 L1305.6 1038 L1300.6 1028.1 L1293.2 1021.9 L1287 1013.2 L1285.7 1003.3 L1289.5 988.5 L1290.7 976.1 L1288.2 968.6 L1282 964.9 L1283.3 956.2 L1288.2 946.3 L1295.7 938.9 L1305.6 929 L1315.5 921.6 L1322.9 911.6 L1329.1 901.7 L1330.3 896.8 L1337.8 895.5 L1346.5 899.3 L1347.7 904.2 L1341.5 914.1 L1345.2 917.8 L1355.1 922.8 L1362.6 929 L1365 938.9 L1368 943.9 L1370 951.3 L1371.2 963.7 L1373.7 968.6 L1373 974.8 L1376.2 978.5 L1379.9 984.7 L1384.9 990.9 L1392.3 998.4 L1394.8 1002.1 L1387.3 1008.3 L1382.4 1018.2 L1378.7 1026.9 L1384.9 1026.9 L1394.8 1024.4 L1404.7 1020.7 L1409.6 1016.9 L1411.6 1009.5 L1415.8 1021.2 L1419 1010.7 L1423.3 1014.5 L1426.5 1007 L1431.4 1009.5 L1435.6 1005.8 L1439.4 1012 L1454.2 1012 L1469.1 1010.7 L1479 1008.3 L1488.9 1000.8 L1496.4 993.4 L1498.8 986 L1502.5 976.1 L1505 963.7 L1507.5 948.8 L1510 933.9 L1508.7 919.1 L1505 906.7 L1500.1 894.3 L1493.9 884.4 L1490.2 872 L1486.4 864.6 L1485.2 852.2 L1482.7 842.3 L1482.7 834.8 L1488.9 827.4 L1498.8 822.4 L1513.7 818.7M1171.2 1005 L1173.7 1002.4 L1177.5 1002.4 L1182 1006.9 L1186.5 1012.6 L1191.6 1017.1 L1197.9 1020.3 L1205.6 1024.1 L1212 1026.6 L1215.1 1031.1 L1217.7 1037.5 L1219.6 1045.1 L1223.4 1054 L1226.6 1061.7 L1229.8 1069.3 L1233.6 1077 L1237.5 1083.4 L1239.4 1089.7 L1240 1093.6 L1242.6 1101.2 L1245.1 1108.9 L1247 1114 L1248.3 1117.8 L1248.9 1113.3 L1251.5 1111.4 L1254.7 1114.6 L1257.2 1119.1 L1257.8 1128 L1261.7 1130.5 L1264.2 1135.6 L1266.1 1142 L1268 1148.4 L1270.6 1154.8 L1274.4 1159.9 L1277 1164.3 L1270.6 1165 L1264.9 1164.3 L1271.9 1166.2 L1278.2 1165.6 L1282.1 1166.2 L1284.6 1168.8 L1286.5 1173.9 L1285.9 1179 L1280.8 1180.9 L1277 1184.1 L1275.1 1189.2 L1275.7 1194.5 L1280.8 1199.7 L1288.2 1204.7 L1285.7 1219.5 L1287 1229.4 L1280.8 1234.4 L1290.7 1235.6 L1299.4 1244.3 L1301.9 1254.2 L1303.1 1262.9 L1295.7 1269.1 L1290.7 1276.5 L1285.7 1288.9 L1278.3 1301.3 L1270.9 1305 L1265.9 1298.8 L1261 1293.8 L1252.3 1296.8 L1249.8 1288.9 L1242.4 1274 L1235 1256.7 L1228.8 1241.8 L1221.3 1222 L1215.1 1204.7 L1214.5 1194.5 L1214.5 1184.1 L1213.2 1173.9 L1212 1165 L1210.7 1156 L1209.4 1148.4 L1208.1 1142 L1205.6 1138.8 L1203 1134.4 L1202.4 1126.7 L1203 1119.1 L1204.6 1111.4 L1204.9 1103.8 L1203.7 1097.4 L1200.5 1092.3 L1196.7 1087.2 L1192.8 1083.4 L1192.2 1079.5 L1194.1 1072.5 L1192.8 1066.8 L1191.6 1060.4 L1189 1052.8 L1185.2 1047 L1180.7 1040 L1177.5 1032.4 L1174.3 1024.7 L1171.8 1017.1 L1170.5 1010.7 L1171.2 1005 L1171.2 1005M1254.8 1318.3 L1259.7 1320.4 L1266.7 1317.6 L1270.8 1312.1 L1277.1 1309.3 L1284.7 1314.8 L1293.1 1320.4 L1295.8 1319 L1305.6 1327.3 L1315.3 1334.3 L1319.5 1337.1 L1318.8 1344 L1322.3 1349.6 L1330.6 1355.2 L1334.8 1356.5 L1344.5 1357.2 L1355.6 1364.9 L1359.8 1362.1 L1365.4 1364.9 L1375.1 1373.2 L1383.4 1383 L1394.6 1398.2 L1400.1 1403.1 L1408.5 1406.6 L1416.8 1410.8 L1422.4 1414.9 L1423.8 1419.1 L1420.3 1422.6 L1418.2 1427.4 L1418.9 1433 L1419.6 1435.8 L1416.8 1434.4 L1415.4 1430.2 L1407.1 1424.7 L1394.6 1416.3 L1380.7 1409.4 L1365.4 1402.4 L1355.6 1396.9 L1347.3 1391.3 L1336.2 1381.6 L1327.8 1374.6 L1313.9 1364.9 L1308.4 1365.6 L1301.4 1359.3 L1295.8 1356.5 L1290.3 1351 L1283.3 1346.8 L1275.7 1342.6 L1273.6 1335.7 L1268 1331.5 L1261.1 1327.3 L1255.5 1321.8 L1254.8 1318.3M1398 1387.8 L1402.9 1386.4 L1414 1390.6 L1422.4 1394.1 L1423.8 1396.9 L1416.8 1397.6 L1408.5 1396.9 L1401.5 1393.4 L1397.3 1390.6 L1398 1387.8M1421.7 1424 L1426.5 1422.6 L1434.9 1426.7 L1442.5 1433 L1443.2 1437.2 L1437.7 1439.3 L1429.3 1438.6 L1423.8 1433 L1421.7 1427.4 L1421.7 1424M1449.5 1442 L1455.7 1440 L1461.3 1442 L1464.1 1446.9 L1461.3 1452.5 L1455.7 1453.9 L1451.6 1449.7 L1449.5 1442M1459.9 1457.3 L1464.1 1454.6 L1472.4 1452.5 L1479.4 1451.8 L1481.5 1448.3 L1486.3 1449.7 L1489.1 1453.9 L1494.7 1458 L1498.8 1455.3 L1504.4 1459.4 L1511.3 1462.2 L1511.3 1470.5 L1500.2 1466.4 L1491.9 1465.7 L1486.3 1462.2 L1480.8 1463.6 L1475.2 1460.8 L1466.9 1462.2 L1461.3 1460.8 L1459.9 1457.3M1498.8 1488.6 L1504.4 1485.1 L1511.3 1485.8 L1511.3 1492.8M1332 1267.6 L1336.2 1262 L1341.7 1260.6 L1347.3 1264.8 L1348 1270.3 L1343.1 1275.9 L1337.6 1274.5 L1333.4 1271.7 L1332 1267.6M1295.7 1229.4 L1303.1 1224.5 L1313 1224.5 L1315.5 1229.4 L1311.8 1239.3 L1314.2 1249.3 L1321.7 1254.2 L1315.5 1256.7 L1308 1255.4 L1304.3 1244.3 L1301.9 1234.4 L1295.7 1229.4M1513.7 1184.3 L1491.4 1196 L1469.1 1194.7 L1454.2 1192.3 L1453 1198.5 L1449.3 1198.5 L1441.8 1208.4 L1438.1 1215.1 L1429.5 1208.4 L1422 1200.9 L1415.8 1192.3 L1409.6 1189.8 L1399.7 1194.7 L1392.3 1204.7 L1387.3 1219.5 L1389.8 1229.4 L1386.1 1239.3 L1386.1 1249.3 L1393.2 1253.7 L1391.8 1262 L1388.3 1270.3 L1386.2 1280.1 L1384.1 1288.4 L1390.4 1290.5 L1395.9 1294 L1402.9 1296.8 L1409.9 1299.5 L1413.3 1303.7 L1411.2 1309.3 L1409.9 1314.8 L1416.8 1313.4 L1425.1 1316.9 L1432.1 1317.6 L1437.7 1312.7 L1440.4 1317.6 L1444.6 1321.8 L1450.2 1326 L1458.5 1330.1 L1462.7 1334.3 L1461.3 1342.6 L1459.2 1349.6 L1472.4 1349.6 L1486.3 1348.9 L1494.7 1345.4 L1497.4 1339.9 L1503 1332.9 L1514.1 1323.2M1488.4 1357.9 L1491.9 1349.6 L1496 1344 L1500.2 1345.4 L1497.4 1352.4 L1493.3 1357.2 L1488.4 1357.9M1176.7 869.5 L1181.7 859.6 L1187.9 852.2 L1192.8 842.3 L1199 834.8 L1204 832.9 L1202.7 839.8 L1195.3 847.2 L1191.6 854.7 L1185.4 862.1 L1179.2 868.3 L1176.7 869.5M1169 881.9 L1167.5 883.4 L1165.8 883.9 L1164.5 883.1 L1164.1 881.4 L1164.7 879.4 L1166.1 877.9 L1167.8 877.4 L1169.1 878.2 L1169.6 879.9 L1169 881.9M1160.9 911.6 L1160.7 912.2 L1160.2 912.6 L1159.6 912.6 L1159.1 912.2 L1158.9 911.6 L1159.1 911.1 L1159.6 910.7 L1160.2 910.7 L1160.7 911.1 L1160.9 911.6M1159.1 931.5 L1158.9 932.2 L1158.5 932.6 L1157.8 932.6 L1157.3 932.2 L1157.2 931.5 L1157.3 930.7 L1157.8 930.3 L1158.5 930.3 L1158.9 930.7 L1159.1 931.5M1163.2 938.2 L1163.2 938.8 L1162.7 939.5 L1161.9 939.9 L1161.1 940 L1160.6 939.6 L1160.5 939 L1161 938.3 L1161.8 937.9 L1162.6 937.8 L1163.2 938.2M1162.1 960.3 L1161.1 963.7 L1159.6 965.6 L1158.2 965.4 L1157.5 963.1 L1157.7 959.6 L1158.7 956.2 L1160.2 954.3 L1161.5 954.5 L1162.3 956.8 L1162.1 960.3M1178.7 996.4 L1178.5 997.1 L1177.9 997.6 L1177.1 997.6 L1176.5 997.1 L1176.2 996.4 L1176.5 995.7 L1177.1 995.2 L1177.9 995.2 L1178.5 995.7 L1178.7 996.4M1285.5 899.3 L1285.3 900.4 L1284.8 901.1 L1284.2 901.1 L1283.7 900.4 L1283.5 899.3 L1283.7 898.1 L1284.2 897.4 L1284.8 897.4 L1285.3 898.1 L1285.5 899.3M1293.8 897.5 L1292.9 899 L1291.6 899.6 L1290.4 899.2 L1289.8 897.9 L1290.1 896.1 L1291 894.6 L1292.3 893.9 L1293.5 894.3 L1294 895.7 L1293.8 897.5M1282 909.2 L1281.8 909.9 L1281.2 910.3 L1280.4 910.3 L1279.8 909.9 L1279.6 909.2 L1279.8 908.4 L1280.4 908 L1281.2 908 L1281.8 908.4 L1282 909.2M1290.5 914.1 L1290 915.9 L1288.9 916.9 L1287.5 916.9 L1286.4 915.9 L1286 914.1 L1286.4 912.4 L1287.5 911.3 L1288.9 911.3 L1290 912.4 L1290.5 914.1M1293.4 907.9 L1293.1 908.8 L1292.4 909.3 L1291.5 909.3 L1290.7 908.8 L1290.5 907.9 L1290.7 907.1 L1291.5 906.5 L1292.4 906.5 L1293.1 907.1 L1293.4 907.9M1275.6 927.7 L1275.4 928.9 L1274.9 929.6 L1274.3 929.6 L1273.8 928.9 L1273.6 927.7 L1273.8 926.6 L1274.3 925.9 L1274.9 925.9 L1275.4 926.6 L1275.6 927.7M1283 926.5 L1282.8 927.1 L1282.3 927.5 L1281.7 927.5 L1281.2 927.1 L1281 926.5 L1281.2 925.9 L1281.7 925.6 L1282.3 925.6 L1282.8 925.9 L1283 926.5M1269.3 943.1 L1269.1 943.8 L1268.1 944.5 L1266.8 945 L1265.7 945 L1265.1 944.6 L1265.3 943.9 L1266.2 943.2 L1267.5 942.7 L1268.7 942.7 L1269.3 943.1M1298.4 964.4 L1298.6 965.2 L1298.1 966.2 L1297.2 967 L1296.1 967.2 L1295.4 966.9 L1295.2 966.1 L1295.7 965.1 L1296.6 964.4 L1297.7 964.1 L1298.4 964.4M1287.5 1008.4 L1286.8 1012.2 L1285.7 1014.4 L1284.7 1014.3 L1284 1011.9 L1284 1008.1 L1284.7 1004.4 L1285.7 1002.1 L1286.8 1002.2 L1287.5 1004.6 L1287.5 1008.4M1267.9 1024.4 L1267.5 1025.8 L1266.5 1026.7 L1265.3 1026.7 L1264.3 1025.8 L1263.9 1024.4 L1264.3 1022.9 L1265.3 1022 L1266.5 1022 L1267.5 1022.9 L1267.9 1024.4M1267.7 1047.9 L1267.3 1048.9 L1266.5 1049.6 L1265.4 1049.6 L1264.5 1048.9 L1264.2 1047.9 L1264.5 1046.9 L1265.4 1046.3 L1266.5 1046.3 L1267.3 1046.9 L1267.7 1047.9M1263.4 996.4 L1263.3 997.3 L1262.9 997.8 L1262.5 997.8 L1262.1 997.3 L1262 996.4 L1262.1 995.5 L1262.5 995 L1262.9 995 L1263.3 995.5 L1263.4 996.4M1363.8 940.1 L1363.6 941.3 L1362.9 942 L1362.2 942 L1361.6 941.3 L1361.3 940.1 L1361.6 939 L1362.2 938.3 L1362.9 938.3 L1363.6 939 L1363.8 940.1M1363.3 950 L1363.2 950.5 L1362.8 950.8 L1362.3 950.8 L1362 950.5 L1361.8 950 L1362 949.6 L1362.3 949.3 L1362.8 949.3 L1363.2 949.6 L1363.3 950M1378.9 987.5 L1378.3 989.4 L1377.3 990.5 L1376.4 990.4 L1375.9 989 L1376 987 L1376.6 985 L1377.5 983.9 L1378.4 984 L1379 985.4 L1378.9 987.5M1414.6 1038.7 L1414.4 1039.2 L1413.7 1039.5 L1413 1039.5 L1412.3 1039.2 L1412.1 1038.7 L1412.3 1038.3 L1413 1038 L1413.7 1038 L1414.4 1038.3 L1414.6 1038.7M1318 1130.2 L1317.7 1130.9 L1317.1 1131.4 L1316.3 1131.4 L1315.7 1130.9 L1315.5 1130.2 L1315.7 1129.4 L1316.3 1129 L1317.1 1129 L1317.7 1129.4 L1318 1130.2M1349.4 1140.1 L1349.2 1141.1 L1348.6 1141.7 L1347.8 1141.7 L1347.2 1141.1 L1346.9 1140.1 L1347.2 1139.1 L1347.8 1138.4 L1348.6 1138.4 L1349.2 1139.1 L1349.4 1140.1M1360.1 1140.8 L1359.9 1141.6 L1359.6 1142 L1359.1 1142 L1358.7 1141.6 L1358.6 1140.8 L1358.7 1140.1 L1359.1 1139.6 L1359.6 1139.6 L1359.9 1140.1 L1360.1 1140.8M1406.4 1143.8 L1404.9 1146.1 L1402.6 1146.9 L1400.4 1146.2 L1399.2 1144 L1399.5 1141.3 L1401 1139.1 L1403.3 1138.2 L1405.5 1139 L1406.7 1141.1 L1406.4 1143.8M1407.9 1166.3 L1407.7 1166.9 L1407 1167.3 L1406.3 1167.3 L1405.7 1166.9 L1405.4 1166.3 L1405.7 1165.8 L1406.3 1165.4 L1407 1165.4 L1407.7 1165.8 L1407.9 1166.3M1195.1 1203.2 L1195.5 1208.7 L1195.3 1212.2 L1194.4 1212.3 L1193.2 1209.1 L1192.1 1203.6 L1191.6 1198.1 L1191.9 1194.6 L1192.8 1194.5 L1194 1197.8 L1195.1 1203.2M1212 1266.4 L1212.2 1267.9 L1211.6 1269.1 L1210.4 1269.5 L1209.2 1269 L1208.3 1267.8 L1208.2 1266.3 L1208.8 1265.1 L1209.9 1264.7 L1211.2 1265.2 L1212 1266.4M1231 1392.5 L1230.7 1393.2 L1230 1393.6 L1229 1393.6 L1228.3 1393.2 L1228 1392.5 L1228.3 1391.7 L1229 1391.3 L1230 1391.3 L1230.7 1391.7 L1231 1392.5M1371 1252.2 L1370.7 1253.1 L1370 1253.6 L1369 1253.6 L1368.3 1253.1 L1368 1252.2 L1368.3 1251.4 L1369 1250.8 L1370 1250.8 L1370.7 1251.4 L1371 1252.2M1392.5 1246.6 L1392.5 1248.8 L1390.9 1250.7 L1388.5 1251.6 L1386.1 1251.1 L1384.6 1249.5 L1384.7 1247.3 L1386.2 1245.4 L1388.7 1244.5 L1391.1 1244.9 L1392.5 1246.6M1332.3 1264.6 L1332.2 1265 L1331.8 1265.3 L1331.4 1265.3 L1331 1265 L1330.8 1264.6 L1331 1264.2 L1331.4 1263.9 L1331.8 1263.9 L1332.2 1264.2 L1332.3 1264.6M1429.2 1402.9 L1429 1403.6 L1428.5 1404 L1427.9 1404 L1427.4 1403.6 L1427.2 1402.9 L1427.4 1402.1 L1427.9 1401.7 L1428.5 1401.7 L1429 1402.1 L1429.2 1402.9M1452.6 1407.6 L1451.9 1408.3 L1450.3 1408.4 L1448.5 1408 L1447.2 1407.1 L1446.9 1406.1 L1447.7 1405.4 L1449.2 1405.2 L1451 1405.7 L1452.3 1406.6 L1452.6 1407.6M1284.1 1184.8 L1282.9 1185.9 L1281 1186.2 L1279 1185.4 L1277.7 1184 L1277.5 1182.4 L1278.7 1181.3 L1280.6 1181 L1282.6 1181.7 L1283.9 1183.2 L1284.1 1184.8M1298.6 1192.3 L1298.1 1193.7 L1296.6 1194.6 L1294.7 1194.6 L1293.3 1193.7 L1292.7 1192.3 L1293.3 1190.8 L1294.7 1189.9 L1296.6 1189.9 L1298.1 1190.8 L1298.6 1192.3M1305 1188 L1303.7 1190.3 L1302.2 1191.5 L1301.1 1191.1 L1300.7 1189.2 L1301.2 1186.6 L1302.5 1184.3 L1304 1183.1 L1305.1 1183.5 L1305.5 1185.4 L1305 1188M1279.8 1150.1 L1280.6 1153.3 L1280.1 1155.7 L1278.4 1156.5 L1276.3 1155.3 L1274.4 1152.6 L1273.5 1149.5 L1274.1 1147.1 L1275.7 1146.3 L1277.9 1147.5 L1279.8 1150.1M1283.5 1162.5 L1283.2 1163.4 L1282.5 1163.9 L1281.6 1163.9 L1280.8 1163.4 L1280.5 1162.5 L1280.8 1161.7 L1281.6 1161.1 L1282.5 1161.1 L1283.2 1161.7 L1283.5 1162.5M1287.7 1156.3 L1287.6 1156.8 L1287.2 1157 L1286.8 1157 L1286.4 1156.8 L1286.2 1156.3 L1286.4 1155.9 L1286.8 1155.6 L1287.2 1155.6 L1287.6 1155.9 L1287.7 1156.3M1295.2 1163.8 L1295 1164.5 L1294.6 1164.9 L1294.2 1164.9 L1293.8 1164.5 L1293.7 1163.8 L1293.8 1163 L1294.2 1162.6 L1294.6 1162.6 L1295 1163 L1295.2 1163.8M1303.8 1161.3 L1303.5 1162.5 L1302.5 1163.2 L1301.2 1163.2 L1300.2 1162.5 L1299.9 1161.3 L1300.2 1160.1 L1301.2 1159.4 L1302.5 1159.4 L1303.5 1160.1 L1303.8 1161.3M1310.6 1167.7 L1309.4 1168.7 L1307.7 1168.7 L1306.1 1167.8 L1305.2 1166.3 L1305.5 1164.8 L1306.7 1163.8 L1308.4 1163.7 L1310 1164.7 L1310.9 1166.2 L1310.6 1167.7M1302.8 1151.4 L1302.2 1152.8 L1300.4 1153.7 L1298.3 1153.7 L1296.6 1152.8 L1295.9 1151.4 L1296.6 1149.9 L1298.3 1149 L1300.4 1149 L1302.2 1149.9 L1302.8 1151.4M1405.2 1145.2 L1404.6 1146.4 L1403.1 1147.1 L1401.3 1147.1 L1399.8 1146.4 L1399.2 1145.2 L1399.8 1144 L1401.3 1143.3 L1403.1 1143.3 L1404.6 1144 L1405.2 1145.2M1407.9 1167 L1407.7 1167.6 L1407 1167.9 L1406.3 1167.9 L1405.7 1167.6 L1405.4 1167 L1405.7 1166.4 L1406.3 1166 L1407 1166 L1407.7 1166.4 L1407.9 1167M1257 1316.1 L1256.8 1316.7 L1256.3 1317.1 L1255.7 1317.1 L1255.2 1316.7 L1255 1316.1 L1255.2 1315.6 L1255.7 1315.2 L1256.3 1315.2 L1256.8 1315.6 L1257 1316.1M1314.5 1260.4 L1314.2 1261.1 L1313.5 1261.6 L1312.5 1261.6 L1311.8 1261.1 L1311.5 1260.4 L1311.8 1259.7 L1312.5 1259.2 L1313.5 1259.2 L1314.2 1259.7 L1314.5 1260.4M1158.4 1057.2 L1161.6 1055.6 L1165.4 1060.4 L1168.6 1066.8 L1169.9 1071.3 L1168 1072.1 L1164.1 1066.8 L1160.3 1061.1 L1158.4 1057.2M1179.4 1079.5 L1182.6 1081.5 L1183.3 1085.3 L1181.4 1083.4 L1179.4 1079.5M1172.4 1094.8 L1178.2 1094.2 L1180.1 1098.7 L1182 1105 L1184.2 1110.1 L1182 1115.2 L1178.8 1117.8 L1176.3 1112.7 L1175 1105 L1173.5 1099.9 L1172.4 1094.8M1183.3 1132.4 L1185.2 1135.6 L1183.9 1140.1 L1180.7 1143.3 L1178.8 1142.6 L1182 1138.2 L1183.7 1135 L1183.3 1132.4M1179.4 1155.4 L1182.6 1153.5 L1185.8 1154.1 L1187.1 1159.9 L1186.5 1168.8 L1185.8 1173.2 L1182 1172.6 L1180.1 1167.5 L1178.6 1161.1 L1179.4 1155.4M1188.4 1180.9 L1190.9 1182.2 L1191.6 1187.9 L1190.9 1191.7 L1189 1189.2 L1187.5 1184.1 L1188.4 1180.9M1257.2 1121.6 L1259.8 1120.1 L1263.6 1121 L1265.2 1124.2 L1263.6 1127.7 L1259.8 1128.6 L1257.2 1126.1 L1257.2 1121.6M1267 1135 L1270 1133.7 L1273.1 1139.5 L1273.4 1143.3 L1270.6 1142.6 L1267.8 1138.4 L1267 1135M1274.2 1149.4 L1277 1148.4 L1280.2 1153.5 L1280.5 1156.7 L1277.6 1156 L1275.1 1152.5 L1274.2 1149.4M1267.4 1143.3 L1269.3 1143 L1271.9 1149.7 L1271.2 1151.6 L1268.7 1148.4 L1267.4 1143.3M1297.4 1189.2 L1301.8 1181.5 L1303.7 1187.9 L1307.6 1191.7 L1303.1 1193 L1297.4 1189.2M1305.7 1163 L1309.5 1162.4 L1311.6 1165.6 L1310.1 1169.4 L1307.6 1167.5 L1305 1166.2 L1305.7 1163" stroke="#000" stroke-width="1.4" fill="none" stroke-linejoin="round"/>
<path d="M1248.6 782.8C1245.7 785.1 1237.4 792.1 1231.2 796.4C1225 800.8 1218.4 804.9 1211.4 808.8C1204.4 812.7 1194.9 815.8 1189.1 820C1183.3 824.1 1181.3 827.8 1176.7 833.6C1172.2 839.4 1166.8 847 1161.9 854.7C1156.9 862.3 1151.1 871.2 1147 879.4C1142.9 887.7 1139.4 896.8 1137.1 904.2C1134.8 911.6 1134.6 916.6 1133.4 924C1132.1 931.5 1131.1 940.5 1129.7 948.8C1128.2 957.1 1125.9 966.2 1124.7 973.6C1123.5 981 1122.6 986.8 1122.2 993.4C1121.8 1000 1121.4 1006.6 1122.2 1013.2C1123 1019.8 1124.7 1026.9 1127.2 1033C1129.7 1039.2 1133.8 1045 1137.1 1050.4C1140.4 1055.8 1143.9 1059.5 1147 1065.3C1150.1 1071 1153.6 1078.5 1155.7 1085.1C1157.7 1091.7 1158.4 1097.9 1159.4 1104.9C1160.4 1111.9 1161 1120.2 1161.9 1127.2C1162.7 1134.2 1163.9 1141.1 1164.3 1147C1164.8 1152.9 1163.5 1157.1 1164.3 1162.5C1165.2 1168 1167.2 1173.3 1169.3 1179.9C1171.4 1186.5 1174.7 1194.7 1176.7 1202.2C1178.8 1209.6 1180 1216.6 1181.7 1224.5C1183.3 1232.3 1184.6 1241 1186.6 1249.3C1188.7 1257.5 1191.2 1266.2 1194.1 1274C1197 1281.9 1199.9 1289.3 1204 1296.3C1208.1 1303.3 1213.9 1309.5 1218.9 1316.1C1223.8 1322.8 1229.6 1328.9 1233.7 1336C1237.8 1343 1239.1 1350.8 1243.6 1358.3C1248.2 1365.7 1255.2 1373.5 1261 1380.6C1266.8 1387.6 1272.1 1394.6 1278.3 1400.4C1284.5 1406.2 1290.7 1411.1 1298.1 1415.3C1305.6 1419.4 1315.5 1421.4 1322.9 1425.2C1330.3 1428.9 1336.1 1432.6 1342.7 1437.6C1349.3 1442.5 1354.3 1449.5 1362.6 1454.9C1370.8 1460.3 1382.4 1464.8 1392.3 1469.8C1402.2 1474.7 1411.7 1479.3 1422 1484.6C1432.3 1490 1443.5 1496.6 1454.2 1502C1465 1507.3 1476.7 1511.9 1486.4 1516.8C1496.1 1521.8 1501.3 1525.5 1512.5 1531.7C1523.6 1537.9 1546.5 1550.3 1553.3 1554" stroke="#9467bd" stroke-width="5" fill="none" stroke-linejoin="round"/>
<rect x="1170.2" y="838.2" width="14" height="14" transform="rotate(35 1177.2 845.2)" fill="none" stroke="#9467bd" stroke-width="3.6"/>
<rect x="1121.4" y="984.4" width="14" height="14" transform="rotate(0 1128.4 991.4)" fill="none" stroke="#9467bd" stroke-width="3.6"/>
<rect x="1162.8" y="1145" width="14" height="14" transform="rotate(-10 1169.8 1152)" fill="none" stroke="#9467bd" stroke-width="3.6"/>
<rect x="1221.8" y="1311.6" width="14" height="14" transform="rotate(35 1228.8 1318.6)" fill="none" stroke="#9467bd" stroke-width="3.6"/>
<rect x="1331.3" y="1418.7" width="14" height="14" transform="rotate(35 1338.3 1425.7)" fill="none" stroke="#9467bd" stroke-width="3.6"/>
<rect x="1458.4" y="1497.9" width="14" height="14" transform="rotate(25 1465.4 1504.9)" fill="none" stroke="#9467bd" stroke-width="3.6"/>
<path d="M1253.5 829.9C1249.8 831.9 1238.3 837.5 1231.2 842.3C1224.2 847 1217.2 852.6 1211.4 858.4C1205.6 864.2 1200.7 870.6 1196.6 877C1192.4 883.4 1189.5 889.8 1186.6 896.8C1183.8 903.8 1181.3 911.2 1179.2 919.1C1177.1 926.9 1175.4 935.6 1174.3 943.9C1173.1 952.1 1172.6 960.8 1172.3 968.6C1171.9 976.5 1171.7 983.9 1172.3 990.9C1172.8 997.9 1173.7 1004.1 1175.5 1010.7C1177.3 1017.4 1179.8 1024 1182.9 1030.6C1186 1037.2 1190.8 1043.8 1194.1 1050.4C1197.4 1057 1200.5 1063.2 1202.7 1070.2C1205 1077.2 1206.7 1085.1 1207.7 1092.5C1208.7 1099.9 1208.5 1107.4 1208.9 1114.8C1209.4 1122.2 1209.4 1128.7 1210.2 1137.1C1211 1145.5 1212.2 1157.1 1213.9 1165C1215.5 1173 1218 1177.8 1220.1 1184.8C1222.2 1191.9 1224 1199.7 1226.3 1207.1C1228.6 1214.6 1231.2 1222.4 1233.7 1229.4C1236.2 1236.4 1239.1 1243.5 1241.2 1249.3C1243.2 1255 1245.3 1261.6 1246.1 1264.1" stroke="#472d7b" stroke-width="3.6" fill="none"/>
<path d="M1263.4 1298.8C1265.1 1301.7 1269.2 1310 1273.4 1316.1C1277.5 1322.3 1282.9 1329.4 1288.2 1336C1293.6 1342.6 1299.4 1349.6 1305.6 1355.8C1311.8 1362 1318.4 1367.8 1325.4 1373.1C1332.4 1378.5 1340.3 1383 1347.7 1388C1355.1 1393 1362.6 1397.9 1370 1402.9C1377.4 1407.8 1384.4 1412.8 1392.3 1417.7C1400.1 1422.7 1408.8 1427.6 1417.1 1432.6C1425.3 1437.6 1433.6 1443.3 1441.8 1447.5C1450.1 1451.6 1458.4 1454.3 1466.6 1457.4C1474.9 1460.5 1483.8 1463.5 1491.4 1466C1499 1468.6 1508.9 1471.6 1512.5 1472.7" stroke="#472d7b" stroke-width="3.6" fill="none"/>
<path d="M1187.1 967.4C1187.3 970.5 1186.7 980 1187.9 986C1189 992 1191.4 997.1 1194.1 1003.3C1196.8 1009.5 1200.9 1016.9 1204 1023.1C1207.1 1029.3 1211.2 1037.6 1212.7 1040.5" stroke="#33638d" stroke-width="3.6" fill="none"/>
<path d="M1218.4 1051.6C1219.5 1053.9 1223.1 1059.7 1225 1065.3C1227 1070.8 1229.1 1078.1 1230 1085.1C1230.9 1092.1 1230.5 1100.4 1230.5 1107.4C1230.5 1114.4 1229.9 1120.6 1230 1127.2C1230.1 1133.8 1230.2 1140.7 1231.2 1147C1232.3 1153.3 1234.3 1158.7 1236.2 1165C1238.1 1171.3 1241.2 1177.8 1242.4 1184.8C1243.6 1191.9 1242.6 1200.1 1243.6 1207.1C1244.7 1214.2 1246.5 1220.8 1248.6 1227C1250.6 1233.1 1253.1 1238.1 1256 1244.3C1258.9 1250.5 1262.2 1257.1 1265.9 1264.1C1269.6 1271.1 1274.2 1279.4 1278.3 1286.4C1282.4 1293.4 1286.2 1299.6 1290.7 1306.2C1295.2 1312.8 1300.6 1319.9 1305.6 1326.1C1310.5 1332.3 1315.1 1338 1320.4 1343.4C1325.8 1348.8 1332 1354.1 1337.8 1358.3C1343.6 1362.4 1352.2 1366.5 1355.1 1368.2" stroke="#33638d" stroke-width="3.6" fill="none"/>
<path d="M1397.2 1394.2C1401 1396.5 1412.1 1403.5 1419.5 1407.8C1427 1412.2 1434 1415.7 1441.8 1420.2C1449.7 1424.8 1458.4 1430.7 1466.6 1435.1C1474.9 1439.4 1483.8 1443.3 1491.4 1446.2C1499 1449.2 1508.9 1451.8 1512.5 1452.9" stroke="#33638d" stroke-width="3.6" fill="none"/>
<path d="M1263.9 1191.8C1263.5 1194.3 1261.1 1201.7 1261.5 1207.1C1261.8 1212.6 1263.9 1219.1 1265.9 1224.5C1267.9 1229.8 1270.9 1234.8 1273.4 1239.3C1275.8 1243.9 1278.7 1246.8 1280.8 1251.7C1282.9 1256.7 1283.3 1263.3 1285.7 1269.1C1288.2 1274.9 1291.9 1280.6 1295.7 1286.4C1299.4 1292.2 1303.5 1298.4 1308 1303.8C1312.6 1309.1 1317.5 1313.7 1322.9 1318.6C1328.3 1323.6 1334.5 1329.4 1340.3 1333.5C1346 1337.6 1351 1339.7 1357.6 1343.4C1364.2 1347.1 1372.5 1351.7 1379.9 1355.8C1387.3 1359.9 1394.8 1364.1 1402.2 1368.2C1409.6 1372.3 1417.5 1376 1424.5 1380.6C1431.5 1385.1 1437.7 1390.5 1444.3 1395.4C1450.9 1400.4 1457.5 1405.8 1464.1 1410.3C1470.7 1414.8 1475.9 1418.2 1484 1422.7C1492 1427.1 1507.7 1434.7 1512.5 1437.1" stroke="#1f968b" stroke-width="3.6" fill="none"/>
<path d="M1325.4 1298.8C1327.9 1301.7 1334.9 1310.8 1340.3 1316.1C1345.6 1321.5 1351.4 1326.1 1357.6 1331C1363.8 1336 1370.4 1341.3 1377.4 1345.9C1384.4 1350.4 1392.3 1354.1 1399.7 1358.3C1407.2 1362.4 1413.8 1366.7 1422 1370.7C1430.3 1374.6 1444.7 1379.9 1449.3 1381.8" stroke="#bddf26" stroke-width="3.6" fill="none"/>
<path d="M1455.5 1384.3C1457.7 1385.7 1465.6 1390.3 1469.1 1393C1472.6 1395.6 1475.3 1399.2 1476.5 1400.4" stroke="#bddf26" stroke-width="3.6" fill="none"/>
<text transform="translate(1191.6,944.3) rotate(-82)" font-size="25" text-anchor="middle" dy="9" fill="#33638d">200</text>
<text transform="translate(1258,1283.4) rotate(58)" font-size="25" text-anchor="middle" dy="9" fill="#472d7b">90</text>
<text transform="translate(1376.9,1379.3) rotate(36)" font-size="25" text-anchor="middle" dy="9" fill="#33638d">200</text>
<text transform="translate(1316,1278.5) rotate(58)" font-size="25" text-anchor="middle" dy="9" fill="#bddf26">600</text>
<text transform="translate(1491.4,1413.3) rotate(38)" font-size="25" text-anchor="middle" dy="9" fill="#bddf26">600</text>
</g>
<rect x="1056.1" y="782.1" width="454.6" height="751.9" fill="none" stroke="#000" stroke-width="1.1"/>
<rect x="1062.1" y="787" width="20" height="36.5" rx="4" fill="#fff" stroke="#000" stroke-width="1"/>
<text x="1072.1" y="814.5" font-size="26" text-anchor="middle">f</text>
<rect x="1382" y="787" width="121" height="36.5" rx="4" fill="#fff" stroke="#000" stroke-width="1"/>
<text x="1442.5" y="814.5" font-size="25.5" text-anchor="middle" fill="#2ca02c">Model3c</text>
<text transform="translate(48,54) rotate(23)" font-size="24.5" text-anchor="middle">10°N</text>
<text transform="translate(50,235) rotate(-19)" font-size="24.5" text-anchor="middle">90°E</text>
<text transform="translate(65,286) rotate(-5)" font-size="24.5" text-anchor="middle">0°</text>
<text transform="translate(45,504) rotate(23)" font-size="24.5" text-anchor="middle">10°S</text>
<text transform="translate(41,703) rotate(-19)" font-size="24.5" text-anchor="middle">100°E</text>
<text transform="translate(48,834) rotate(23)" font-size="24.5" text-anchor="middle">10°N</text>
<text transform="translate(50,1015) rotate(-19)" font-size="24.5" text-anchor="middle">90°E</text>
<text transform="translate(65,1066) rotate(-5)" font-size="24.5" text-anchor="middle">0°</text>
<text transform="translate(45,1284) rotate(23)" font-size="24.5" text-anchor="middle">10°S</text>
<text transform="translate(41,1483) rotate(-19)" font-size="24.5" text-anchor="middle">100°E</text>
<text transform="translate(281,1549) rotate(5)" font-size="24.5" text-anchor="middle">110°E</text>
<text transform="translate(517,1548) rotate(3)" font-size="24.5" text-anchor="middle">120°E</text>
<text transform="translate(776,1561) rotate(5)" font-size="24.5" text-anchor="middle">110°E</text>
<text transform="translate(1010,1560) rotate(3)" font-size="24.5" text-anchor="middle">120°E</text>
<text transform="translate(1268,1561) rotate(5)" font-size="24.5" text-anchor="middle">110°E</text>
<text transform="translate(1502,1560) rotate(3)" font-size="24.5" text-anchor="middle">120°E</text>
<clipPath id="cg"><rect x="1674.0" y="76.4" width="315.0" height="671.6"/></clipPath>
<clipPath id="ch"><rect x="1668.8" y="811.3" width="315.60000000000014" height="673.2"/></clipPath>
<rect x="1674.0" y="76.4" width="315.0" height="671.6" fill="#fff"/>
<rect x="1668.8" y="811.3" width="315.60000000000014" height="673.2" fill="#fff"/>
<path d="M1770.8 76.4V748.0M1867.9 76.4V748.0M1965 76.4V748.0M1674.0 210.2H1989.0M1674.0 344H1989.0M1674.0 477.8H1989.0M1674.0 611.6H1989.0M1763.4 811.3V1484.5M1858 811.3V1484.5M1952.6 811.3V1484.5M1668.8 966.9H1984.4M1668.8 1122.5H1984.4M1668.8 1278.1H1984.4M1668.8 1433.7H1984.4" stroke="#b0b0b0" stroke-width="1.3" fill="none"/>
<path d="M1673.7 76.4v6M1770.8 76.4v6M1867.9 76.4v6M1965 76.4v6M1674.0 76.4h6M1674.0 210.2h6M1674.0 344h6M1674.0 477.8h6M1674.0 611.6h6M1668.8 1484.5v-6M1763.4 1484.5v-6M1858 1484.5v-6M1952.6 1484.5v-6M1668.8 811.3h6M1668.8 966.9h6M1668.8 1122.5h6M1668.8 1278.1h6M1668.8 1433.7h6" stroke="#000" stroke-width="1.4" fill="none"/>
<path clip-path="url(#cg)" d="M1691.8 76.9C1691.9 79 1691.4 84.3 1692.4 89.6C1693.5 94.9 1696 102.3 1698.4 108.6C1700.7 115 1703.7 121.3 1706.4 127.7C1709.1 134 1711.7 141.4 1714.4 146.7C1717.2 152 1719.7 154.8 1722.9 159.4C1726.1 164 1729.9 168.6 1733.5 174.2C1737 179.8 1740.8 187.2 1744 193.2C1747.3 199.2 1750.6 204.5 1752.9 210.2C1755.3 215.8 1757.8 221.8 1758 227.1C1758.2 232.4 1756.1 237.6 1754.2 241.9C1752.3 246.1 1749.3 249.3 1746.8 252.4C1744.3 255.6 1742.4 257.7 1739.4 260.9C1736.4 264.1 1730.9 268 1728.8 271.5C1726.8 275 1726.8 278.2 1727.1 282.1C1727.5 285.9 1728.9 290.5 1730.9 294.7C1733 299 1736.6 303.2 1739.4 307.4C1742.2 311.7 1745 314.8 1747.9 320.1C1750.7 325.4 1753.1 332.5 1756.3 339.2C1759.5 345.9 1763.4 355 1766.9 360.3C1770.4 365.6 1772.9 367 1777.5 370.9C1782 374.8 1788.7 379.3 1794.4 383.6C1800 387.8 1805.7 392.4 1811.3 396.3C1816.9 400.1 1822.9 403.7 1828.2 406.8C1833.5 409.9 1837 411.4 1843 414.8C1849 418.2 1858.2 423.6 1864.2 427.5C1870.2 431.4 1874 433.8 1879 438.1C1883.9 442.3 1889 447.6 1893.8 452.9C1898.5 458.2 1904.4 464.5 1907.5 469.8C1910.7 475.1 1912.3 480 1912.8 484.6C1913.3 489.2 1912.8 493.4 1910.7 497.3C1908.6 501.2 1903.6 504.3 1900.1 507.9C1896.6 511.4 1892 514.9 1889.5 518.4C1887.1 522 1885.3 524.8 1885.3 529C1885.3 533.2 1887.8 539.2 1889.5 543.8C1891.3 548.4 1895.2 552.3 1895.9 556.5C1896.6 560.7 1895.5 565 1893.8 569.2C1892 573.4 1888.8 577.6 1885.3 581.9C1881.8 586.1 1876.9 591 1872.6 594.6C1868.4 598.1 1862.9 599.5 1859.9 603C1856.9 606.5 1855 611.5 1854.7 615.7C1854.3 619.9 1856.2 624.9 1857.8 628.4C1859.4 631.9 1859.9 633.7 1864.2 636.9C1868.4 640 1876.5 644.3 1883.2 647.4C1889.9 650.6 1897.3 653.1 1904.4 655.9C1911.4 658.7 1919.9 661.5 1925.5 664.4C1931.1 667.2 1937.1 670 1938.2 672.8C1939.2 675.6 1935.7 678.4 1931.8 681.3C1928 684.1 1919.9 687.3 1914.9 689.7C1910 692.2 1904.9 693.6 1902.2 696.1C1899.6 698.5 1898.7 701.7 1899.1 704.5C1899.4 707.4 1901.7 710.2 1904.4 713C1907 715.8 1911.8 718.6 1914.9 721.5C1918.1 724.3 1922.3 727.1 1923.4 729.9C1924.4 732.7 1923.7 735.5 1921.3 738.4C1918.8 741.2 1910.7 745.4 1908.6 746.8" stroke="#17becf" stroke-width="2.8" fill="none" stroke-linejoin="round"/>
<path clip-path="url(#cg)" d="M1689.7 76.9C1689.9 79 1689.5 84.3 1690.8 89.6C1692 94.9 1694.6 102.3 1697.1 108.6C1699.6 115 1702.7 121.3 1705.6 127.7C1708.4 134 1711.2 141.4 1714 146.7C1716.8 152 1719.3 154.8 1722.5 159.4C1725.6 164 1729.5 168.6 1733.1 174.2C1736.6 179.8 1740.5 187.2 1743.6 193.2C1746.8 199.2 1749.9 204.9 1752.1 210.2C1754.3 215.4 1756.4 220.4 1756.7 225C1757.1 229.5 1756 233.4 1754.2 237.6C1752.4 241.9 1748.9 246.1 1745.7 250.3C1742.6 254.6 1737.6 258.8 1735.2 263C1732.7 267.3 1731.3 271.1 1730.9 275.7C1730.6 280.3 1731.3 285.9 1733.1 290.5C1734.8 295.1 1738.3 299 1741.5 303.2C1744.7 307.4 1748.9 311 1752.1 315.9C1755.3 320.8 1757.7 326.8 1760.5 332.8C1763.4 338.8 1766.2 346.2 1769 351.8C1771.8 357.5 1773.6 361.7 1777.5 366.6C1781.3 371.6 1787 376.9 1792.3 381.5C1797.6 386 1803.5 390.3 1809.2 394.1C1814.8 398 1822.6 402 1826.1 404.7C1829.6 407.5 1827.5 407.5 1830.3 410.6C1833.2 413.7 1839.5 419 1843 423.3C1846.5 427.5 1849.5 432.6 1851.5 436C1853.4 439.3 1852.5 440.5 1854.7 443.4C1856.8 446.2 1860.1 449.5 1864.2 452.9C1868.2 456.2 1874.4 459.9 1879 463.4C1883.6 467 1887.8 470.8 1891.7 474C1895.5 477.2 1899.4 479.7 1902.2 482.5C1905.1 485.3 1908.1 488.3 1908.6 490.9C1909.1 493.6 1908.2 495.5 1905.4 498.3C1902.6 501.2 1895.4 504.5 1891.7 507.9C1888 511.2 1884.8 515.3 1883.2 518.4C1881.6 521.6 1881.4 523.4 1882.1 526.9C1882.8 530.4 1885.1 535.3 1887.4 539.6C1889.7 543.8 1894.5 548.4 1895.9 552.3C1897.3 556.1 1896.9 559.3 1895.9 562.8C1894.8 566.4 1892.7 569.9 1889.5 573.4C1886.4 576.9 1881.8 579.8 1876.9 584C1871.9 588.2 1864 594.6 1859.9 598.8C1855.9 603 1853.6 605.5 1852.5 609.4C1851.5 613.2 1852 618.5 1853.6 622.1C1855.2 625.6 1857.1 627.5 1862.1 630.5C1867 633.5 1875.1 637 1883.2 640C1891.3 643 1901.9 645.7 1910.7 648.5C1919.5 651.3 1930.4 653.6 1936.1 656.9C1941.7 660.3 1944.5 665.2 1944.5 668.6C1944.5 671.9 1940.7 674.2 1936.1 677C1931.5 679.9 1922.2 682.7 1917 685.5C1911.9 688.3 1907.5 690.8 1905.4 694C1903.3 697.1 1903.1 701.4 1904.4 704.5C1905.6 707.7 1909.3 709.8 1912.8 713C1916.3 716.2 1923 720.4 1925.5 723.6C1928 726.7 1928.7 729.9 1927.6 732C1926.6 734.1 1922.5 735 1919.2 736.3C1915.8 737.5 1909.5 738.9 1907.5 739.4" stroke="#bcbd22" stroke-width="2.8" fill="none" stroke-linejoin="round"/>
<path clip-path="url(#cg)" d="M1683.4 76.9C1682.8 78.7 1680 83.3 1680.2 87.5C1680.4 91.7 1681.9 97.4 1684.4 102.3C1686.9 107.2 1691.5 111.5 1695 117.1C1698.5 122.7 1702.7 130.5 1705.6 136.1C1708.4 141.8 1710.1 147.1 1711.9 150.9C1713.7 154.8 1714 155.5 1716.1 159.4C1718.2 163.3 1721.4 168.2 1724.6 174.2C1727.8 180.2 1732 189.4 1735.2 195.3C1738.3 201.3 1741.2 205.9 1743.6 210.2C1746 214.4 1748.7 217.2 1749.5 220.7C1750.4 224.2 1749.9 228.1 1748.9 231.3C1747.9 234.5 1745.9 236.9 1743.6 239.8C1741.3 242.6 1738.3 245 1735.2 248.2C1732 251.4 1727.6 255.3 1724.6 258.8C1721.6 262.3 1718.8 266.2 1717.2 269.4C1715.6 272.5 1714.9 274.3 1715.1 277.8C1715.3 281.3 1716.3 286.6 1718.2 290.5C1720.2 294.4 1723.5 297.6 1726.7 301.1C1729.9 304.6 1734.1 307.8 1737.3 311.7C1740.5 315.5 1742.9 319.4 1745.7 324.4C1748.6 329.3 1751.4 336 1754.2 341.3C1757 346.6 1759.8 351.8 1762.7 356.1C1765.5 360.3 1767.6 363.1 1771.1 366.6C1774.6 370.2 1778.9 373.3 1783.8 377.2C1788.7 381.1 1795.1 386 1800.7 389.9C1806.4 393.8 1812.7 396.7 1817.6 400.5C1822.6 404.3 1825.8 408.5 1830.3 412.7C1834.9 416.8 1840.9 420.8 1845.1 425.4C1849.4 430 1852.9 436 1855.7 440.2C1858.5 444.4 1858.5 446.5 1862.1 450.8C1865.6 455 1871.6 460.6 1876.9 465.6C1882.1 470.5 1888.8 476.1 1893.8 480.4C1898.7 484.6 1903.8 487.8 1906.5 490.9C1909.1 494.1 1910.7 496.2 1909.6 499.4C1908.6 502.6 1903.1 506.4 1900.1 510C1897.1 513.5 1893.1 517 1891.7 520.5C1890.3 524.1 1890.3 527.2 1891.7 531.1C1893.1 535 1897.3 539.8 1900.1 543.8C1902.9 547.9 1907.9 551.6 1908.6 555.4C1909.3 559.3 1907.2 563 1904.4 567.1C1901.5 571.1 1896.2 575.9 1891.7 579.8C1887.1 583.6 1882.5 586.8 1876.9 590.3C1871.2 593.9 1863.1 597.4 1857.8 600.9C1852.5 604.4 1847.4 608.3 1845.1 611.5C1842.8 614.7 1843 616.4 1844.1 619.9C1845.1 623.5 1847.4 629.5 1851.5 632.6C1855.5 635.8 1861.3 636.2 1868.4 639C1875.4 641.8 1885.3 646.4 1893.8 649.5C1902.2 652.7 1911.4 655.2 1919.2 658C1926.9 660.8 1935.4 663.6 1940.3 666.5C1945.2 669.3 1948.8 672.1 1948.8 674.9C1948.8 677.7 1944.9 680.4 1940.3 683.4C1935.7 686.4 1926.2 689.7 1921.3 692.9C1916.3 696.1 1911.8 699.4 1910.7 702.4C1909.6 705.4 1912.1 708.1 1914.9 710.9C1917.7 713.7 1923.7 716.5 1927.6 719.3C1931.5 722.2 1936.1 725.3 1938.2 727.8C1940.3 730.3 1941.4 731.8 1940.3 734.1C1939.2 736.4 1936.4 739.4 1931.8 741.5C1927.3 743.7 1916 745.9 1912.8 746.8" stroke="#e377c2" stroke-width="2.8" fill="none" stroke-linejoin="round"/>
<path clip-path="url(#cg)" d="M1716.1 76.9C1715.4 79.4 1712.3 86.4 1711.9 91.7C1711.6 97 1712.6 102.6 1714 108.6C1715.4 114.6 1717.9 121.7 1720.4 127.7C1722.8 133.7 1725.6 139.3 1728.8 144.6C1732 149.9 1735.9 154.5 1739.4 159.4C1742.9 164.3 1746.4 168.9 1750 174.2C1753.5 179.5 1757.4 185.1 1760.5 191.1C1763.7 197.1 1766.8 204.2 1769 210.2C1771.2 216.1 1773 222.1 1773.7 227.1C1774.4 232 1774.4 235.2 1773.2 239.8C1772.1 244.3 1768.7 249.6 1766.9 254.6C1765.1 259.5 1763 264.8 1762.7 269.4C1762.3 273.9 1763.4 277.5 1764.8 282.1C1766.2 286.6 1767.9 291.9 1771.1 296.9C1774.3 301.8 1779.9 306.4 1783.8 311.7C1787.7 316.9 1790.9 322.6 1794.4 328.6C1797.9 334.6 1801.8 341.3 1805 347.6C1808.1 354 1810.6 361 1813.4 366.6C1816.2 372.3 1818.7 376.5 1821.9 381.5C1825 386.4 1828.9 391.7 1832.4 396.3C1836 400.8 1839.8 405.5 1843 408.9C1846.2 412.4 1847.3 412.6 1851.5 416.9C1855.7 421.2 1864.3 429.8 1868.4 434.9C1872.5 440 1871.6 443.7 1875.8 447.6C1880 451.5 1887.1 454.7 1893.8 458.2C1900.5 461.6 1908.6 464.2 1916 468.1C1923.4 472 1932.7 477.6 1938.2 481.4C1943.7 485.2 1947.1 487.9 1949.2 490.9C1951.2 493.9 1952.1 496.9 1950.5 499.4C1948.8 501.9 1944.8 503.6 1939.2 506.2C1933.7 508.7 1923.2 511.9 1917 514.6C1910.9 517.4 1904.5 519.9 1902.2 522.7C1899.9 525.4 1901.2 528 1903.3 531.1C1905.4 534.2 1910.4 538.2 1914.9 541.3C1919.4 544.4 1926.6 547 1930.2 549.7C1933.7 552.4 1936.1 554.9 1936.1 557.6C1936.1 560.2 1934 562.7 1930.2 565.4C1926.3 568.1 1920.3 570.7 1912.8 573.8C1905.3 577 1895.2 580.8 1885.3 584.4C1875.4 588 1862.9 591.9 1853.6 595.6C1844.3 599.4 1834.9 603.3 1829.3 606.8C1823.6 610.4 1820.3 613.6 1819.8 616.8C1819.2 619.9 1822.4 622.9 1826.1 625.9C1829.8 628.8 1835.5 631.8 1842 634.3C1848.4 636.9 1856.7 638.5 1864.6 641.1C1872.5 643.6 1881.2 647 1889.5 649.5C1897.9 652.1 1906.5 654.3 1914.9 656.3C1923.4 658.4 1932.7 659.8 1940.3 661.8C1947.9 663.8 1955.7 665.8 1960.4 668.2C1965 670.5 1968.2 673.5 1968.2 676C1968.2 678.4 1965.1 680.6 1960.4 683C1955.7 685.3 1946.2 687.7 1939.9 690.2C1933.5 692.6 1926.1 695.2 1922.3 697.8C1918.6 700.3 1916.5 703.1 1917.5 705.6C1918.4 708.1 1923.7 710.6 1928 713C1932.4 715.4 1938.8 717.6 1943.5 719.8C1948.2 721.9 1953.4 723.7 1956.2 726.1C1958.9 728.5 1960.6 731.7 1959.8 734.1C1958.9 736.5 1956.1 738.5 1951.3 740.5C1946.5 742.4 1937.7 744.5 1930.8 745.8C1923.8 747 1913.2 747.5 1909.6 747.9" stroke="#8c564b" stroke-width="2.8" fill="none" stroke-linejoin="round"/>
<path clip-path="url(#cg)" d="M1752.1 76.9C1751.2 79 1747.3 85.4 1746.8 89.6C1746.3 93.8 1747.5 97.7 1748.9 102.3C1750.3 106.9 1752.6 112.2 1755.3 117.1C1757.9 122 1761.4 127 1764.8 131.9C1768.1 136.8 1772.2 142.1 1775.3 146.7C1778.5 151.3 1779.9 154.6 1783.8 159.4C1787.7 164.2 1793.7 170 1798.6 175.3C1803.5 180.5 1809.5 186 1813.4 191.1C1817.3 196.2 1819.4 201.3 1821.9 205.9C1824.3 210.5 1825.8 214.7 1828.2 218.6C1830.7 222.5 1833.2 225.7 1836.7 229.2C1840.2 232.7 1845.5 235.2 1849.4 239.8C1853.2 244.3 1856.4 251 1859.9 256.7C1863.5 262.3 1868.2 269.4 1870.5 273.6C1872.8 277.8 1873.9 278.2 1873.7 282.1C1873.5 285.9 1872.5 292.5 1869.5 296.9C1866.5 301.3 1860.5 305.1 1855.7 308.5C1851 311.8 1845 313.6 1840.9 316.9C1836.9 320.3 1833.2 324.9 1831.4 328.6C1829.6 332.3 1829.5 334.6 1830.3 339.2C1831.2 343.7 1834.9 350.4 1836.7 356.1C1838.4 361.7 1839.5 367.4 1840.9 373C1842.3 378.6 1843 385 1845.1 389.9C1847.3 394.8 1850.1 398.7 1853.6 402.6C1857.1 406.5 1864.2 411.1 1866.3 413.2C1868.4 415.2 1863.1 412.4 1866.3 414.8C1869.5 417.2 1880.2 422.9 1885.3 427.5C1890.4 432.1 1894.1 438.4 1896.9 442.3C1899.8 446.2 1898.2 447.2 1902.2 450.8C1906.3 454.3 1914.2 459.6 1921.3 463.4C1928.3 467.3 1937.1 470.7 1944.5 474C1951.9 477.4 1960 480.7 1965.7 483.5C1971.3 486.4 1975.6 488.6 1978.4 490.9C1981.1 493.2 1982.5 495.2 1982.2 497.3C1981.8 499.4 1981.1 501.5 1976.3 503.6C1971.4 505.7 1961.1 507.9 1953 510C1944.9 512.1 1935 514.2 1927.6 516.3C1920.2 518.4 1911.6 520.2 1908.6 522.7C1905.6 525.1 1908.2 528.7 1909.6 531.1C1911 533.6 1912.6 535 1917 537.5C1921.4 539.9 1931 542.9 1936.1 545.9C1941.2 548.9 1947 552.3 1947.7 555.4C1948.4 558.6 1944.7 562.3 1940.3 565C1935.9 567.6 1929 568.8 1921.3 571.3C1913.5 573.8 1903.6 577.1 1893.8 579.8C1883.9 582.4 1872.6 584.5 1862.1 587.2C1851.5 589.8 1840.2 592.6 1830.3 595.6C1820.5 598.6 1809.5 601.8 1802.8 605.1C1796.1 608.5 1791.2 612.5 1790.2 615.7C1789.1 618.9 1793.3 621.3 1796.5 624.2C1799.7 627 1803.5 630.2 1809.2 632.6C1814.8 635.1 1823.3 637.2 1830.3 639C1837.4 640.7 1845.1 641.8 1851.5 643.2C1857.8 644.6 1861.3 646 1868.4 647.4C1875.4 648.8 1885 650.1 1893.8 651.7C1902.6 653.2 1912.5 654.8 1921.3 656.9C1930.1 659.1 1939.6 662.1 1946.6 664.4C1953.7 666.6 1960.2 668.4 1963.6 670.7C1966.9 673 1968.1 675.6 1966.7 678.1C1965.3 680.6 1960.6 683 1955.1 685.5C1949.6 688 1940.3 690.4 1934 692.9C1927.6 695.4 1920.7 698 1917 700.3C1913.3 702.6 1911 704.5 1911.8 706.6C1912.5 708.8 1916.5 710.5 1921.3 713C1926 715.5 1934.3 718.6 1940.3 721.5C1946.3 724.3 1954 727.4 1957.2 729.9C1960.4 732.4 1961.5 734.1 1959.3 736.3C1957.2 738.4 1950.9 740.8 1944.5 742.6C1938.2 744.4 1925.1 746.1 1921.3 746.8" stroke="#d62728" stroke-width="2.8" fill="none" stroke-linejoin="round"/>
<path clip-path="url(#cg)" d="M1740.5 76.9C1738.9 79 1733.2 84.7 1730.9 89.6C1728.6 94.5 1727.1 100.5 1726.7 106.5C1726.4 112.5 1727.4 119.9 1728.8 125.6C1730.2 131.2 1732.3 135.8 1735.2 140.4C1738 144.9 1742.6 149.2 1745.7 153.1C1748.9 156.9 1751 159.4 1754.2 163.6C1757.4 167.9 1761.6 173.1 1764.8 178.4C1767.9 183.7 1770.8 189 1773.2 195.3C1775.7 201.7 1777.9 210.2 1779.6 216.5C1781.3 222.8 1783.4 228.1 1783.4 233.4C1783.4 238.7 1781.3 243.6 1779.6 248.2C1777.9 252.8 1774.6 256.7 1773.2 260.9C1771.8 265.1 1770.8 269.4 1771.1 273.6C1771.5 277.8 1773.2 282.1 1775.3 286.3C1777.5 290.5 1780.3 294.4 1783.8 299C1787.3 303.6 1792.6 308.1 1796.5 313.8C1800.4 319.4 1804.2 327.5 1807.1 332.8C1809.9 338.1 1811.3 340.2 1813.4 345.5C1815.5 350.8 1817.6 358.9 1819.8 364.5C1821.9 370.2 1823.3 374 1826.1 379.3C1828.9 384.6 1833.2 391 1836.7 396.3C1840.2 401.5 1844.4 407.6 1847.3 411.1C1850.1 414.5 1849.7 412.8 1853.6 416.9C1857.5 421.1 1866.6 430.7 1870.5 436C1874.4 441.2 1873 444.8 1876.9 448.6C1880.7 452.5 1887.4 455.7 1893.8 459.2C1900.1 462.7 1907.9 465.9 1914.9 469.8C1922 473.7 1931 479 1936.1 482.5C1941.2 486 1943.8 488.1 1945.6 490.9C1947.4 493.8 1948.2 496.9 1946.6 499.4C1945.1 501.9 1941.4 503.3 1936.1 505.7C1930.8 508.2 1920.9 511.4 1914.9 514.2C1908.9 517 1902.4 519.8 1900.1 522.7C1897.8 525.5 1899.1 527.9 1901.2 531.1C1903.3 534.3 1908.4 538.5 1912.8 541.7C1917.2 544.9 1924.2 547.5 1927.6 550.2C1931.1 552.8 1933.5 555.1 1933.5 557.6C1933.5 560 1931.4 562.3 1927.6 565C1923.8 567.6 1918.1 570.1 1910.7 573.4C1903.3 576.8 1893.1 581.2 1883.2 585C1873.3 588.9 1860.6 593 1851.5 596.7C1842.3 600.4 1833.7 603.9 1828.2 607.3C1822.8 610.6 1819.1 613.6 1818.7 616.8C1818.3 619.9 1822.4 623.3 1826.1 626.3C1829.8 629.3 1834.6 632.3 1840.9 634.7C1847.3 637.2 1856.1 638.6 1864.2 641.1C1872.3 643.6 1881.1 647.1 1889.5 649.5C1898 652 1906.5 654 1914.9 655.9C1923.4 657.8 1932.5 659.2 1940.3 661.2C1948.1 663.1 1956.5 665.1 1961.5 667.5C1966.4 670 1969.9 673.3 1969.9 676C1969.9 678.6 1966.4 680.9 1961.5 683.4C1956.5 685.9 1946.6 688.3 1940.3 690.8C1934 693.3 1926.9 695.7 1923.4 698.2C1919.9 700.7 1918.1 703.1 1919.2 705.6C1920.2 708.1 1925.5 710.7 1929.7 713C1934 715.3 1939.9 717.2 1944.5 719.3C1949.1 721.5 1954.4 723.2 1957.2 725.7C1960 728.1 1962.2 731.7 1961.5 734.1C1960.7 736.6 1957.9 738.5 1953 740.5C1948.1 742.4 1938.9 744.5 1931.8 745.8C1924.8 747 1914.2 747.5 1910.7 747.9" stroke="#2ca02c" stroke-width="2.8" fill="none" stroke-linejoin="round"/>
<path clip-path="url(#ch)" d="M1727.4 811C1726.7 814.1 1724.7 823.2 1722.7 829.4C1720.8 835.6 1717.3 842.7 1715.7 848.2C1714.1 853.7 1713.3 857.6 1713.3 862.3C1713.3 867 1714.1 871.7 1715.7 876.4C1717.3 881.1 1720 885.4 1722.7 890.5C1725.5 895.6 1729.4 901.4 1732.1 906.9C1734.9 912.4 1737.2 917.5 1739.2 923.4C1741.2 929.3 1742.3 936.3 1743.9 942.2C1745.5 948.1 1746.6 953.9 1748.6 958.6C1750.6 963.3 1752.1 965.7 1755.7 970.4C1759.2 975.1 1766.8 981.8 1769.8 986.8C1772.7 991.9 1773.5 995.9 1773.3 1001C1773.1 1006 1769.2 1011.9 1768.6 1017.4C1768 1022.9 1768 1028.4 1769.8 1033.9C1771.5 1039.3 1776.4 1045.2 1779.2 1050.3C1781.9 1055.4 1785 1059.7 1786.2 1064.4C1787.4 1069.1 1787.8 1073.8 1786.2 1078.5C1784.6 1083.2 1781.1 1088.3 1776.8 1092.6C1772.5 1096.9 1765.8 1100.5 1760.4 1104.4C1754.9 1108.3 1748.6 1112.2 1743.9 1116.1C1739.2 1120 1734.9 1123.6 1732.1 1127.9C1729.4 1132.2 1727.1 1138.1 1727.4 1142C1727.8 1145.9 1731.4 1147.5 1734.5 1151.4C1737.6 1155.3 1742.5 1161.6 1746.2 1165.5C1750 1169.4 1753.4 1170.8 1757 1174.8C1760.7 1178.8 1765.9 1184.7 1768.1 1189.6C1770.4 1194.5 1771.6 1199.9 1770.6 1204.4C1769.6 1208.9 1766.3 1212.6 1762 1216.8C1757.7 1220.9 1750 1225 1744.7 1229.1C1739.4 1233.2 1732.6 1237.7 1729.9 1241.4C1727.2 1245.1 1727.6 1247.6 1728.7 1251.3C1729.7 1255 1733 1259.5 1736.1 1263.6C1739.1 1267.8 1742.8 1271.1 1747.2 1276C1751.5 1280.9 1757.4 1287.1 1762 1293.3C1766.5 1299.4 1771 1306.8 1774.3 1313C1777.6 1319.2 1780.3 1325.3 1781.7 1330.3C1783.2 1335.2 1783.6 1337.7 1783 1342.6C1782.3 1347.6 1779.5 1354.1 1778 1359.9C1776.6 1365.7 1776.6 1371.4 1774.3 1377.2C1772.1 1382.9 1769 1389.1 1764.4 1394.4C1759.9 1399.8 1752.1 1405.1 1747.2 1409.2C1742.2 1413.4 1737.7 1415.8 1734.8 1419.1C1731.9 1422.4 1729.5 1425.7 1729.9 1429C1730.3 1432.3 1733.6 1435.2 1737.3 1438.9C1741 1442.6 1748 1447.1 1752.1 1451.2C1756.2 1455.3 1759.9 1459.4 1762 1463.5C1764 1467.7 1765.5 1472.4 1764.4 1475.9C1763.4 1479.4 1757.2 1483.1 1755.8 1484.5" stroke="#17becf" stroke-width="2.8" fill="none" stroke-linejoin="round"/>
<path clip-path="url(#ch)" d="M1723.9 811C1723.3 813.7 1722.2 821.2 1720.4 827C1718.6 832.8 1715.3 840.3 1713.3 845.8C1711.4 851.3 1709 854.8 1708.6 859.9C1708.2 865 1709.4 871.7 1711 876.4C1712.6 881.1 1715.3 883.4 1718 888.1C1720.8 892.8 1724.3 899.1 1727.4 904.6C1730.6 910.1 1734.1 915.2 1736.8 921C1739.6 926.9 1741.5 934.4 1743.9 939.8C1746.2 945.3 1747.4 949.6 1751 953.9C1754.5 958.2 1760.7 961.8 1765.1 965.7C1769.4 969.6 1773.9 973.1 1776.8 977.4C1779.7 981.8 1782.1 986.8 1782.7 991.5C1783.3 996.2 1781.5 1001 1780.3 1005.7C1779.2 1010.4 1775.8 1015.1 1775.6 1019.8C1775.4 1024.5 1777 1029.2 1779.2 1033.9C1781.3 1038.6 1785.4 1042.9 1788.6 1048C1791.7 1053.1 1796.2 1059.7 1798 1064.4C1799.7 1069.1 1800.3 1071.9 1799.1 1076.2C1798 1080.5 1795 1085.6 1790.9 1090.3C1786.8 1095 1780.3 1100.1 1774.5 1104.4C1768.6 1108.7 1761.9 1112.6 1755.7 1116.1C1749.4 1119.7 1741.2 1121.6 1736.8 1125.5C1732.5 1129.4 1730.6 1134.9 1729.8 1139.6C1729 1144.3 1730.2 1149 1732.1 1153.7C1734.1 1158.4 1738.2 1163.9 1741.5 1167.8C1744.9 1171.8 1748.3 1173.2 1752.1 1177.3C1755.9 1181.3 1761.8 1187.6 1764.4 1192.1C1767.1 1196.6 1768.6 1200.3 1768.1 1204.4C1767.7 1208.5 1765.1 1212.9 1762 1216.8C1758.9 1220.7 1752.9 1224.2 1749.6 1227.9C1746.3 1231.6 1743.3 1235.1 1742.2 1239C1741.2 1242.9 1741.8 1247.2 1743.5 1251.3C1745.1 1255.4 1748.8 1259.5 1752.1 1263.6C1755.4 1267.8 1759.7 1271.9 1763.2 1276C1766.7 1280.1 1770.6 1283 1773.1 1288.3C1775.5 1293.7 1775.8 1301.5 1778 1308.1C1780.3 1314.6 1784.4 1321.6 1786.7 1327.8C1788.9 1334 1791.4 1339.3 1791.6 1345.1C1791.8 1350.8 1790.4 1356.6 1787.9 1362.4C1785.4 1368.1 1781.1 1374.7 1776.8 1379.6C1772.5 1384.6 1766.9 1388.1 1762 1392C1757 1395.9 1752.5 1399.4 1747.2 1403.1C1741.8 1406.8 1734.6 1410.7 1729.9 1414.2C1725.2 1417.7 1719.6 1420.8 1718.8 1424.1C1718 1427.3 1721.5 1430.2 1725 1433.9C1728.5 1437.6 1734.4 1442.6 1739.8 1446.3C1745.1 1450 1752.9 1452.4 1757 1456.1C1761.2 1459.8 1765.3 1464.8 1764.4 1468.5C1763.6 1472.2 1756.8 1475.7 1752.1 1478.3C1747.4 1481 1738.7 1483.5 1736.1 1484.5" stroke="#bcbd22" stroke-width="2.8" fill="none" stroke-linejoin="round"/>
<path clip-path="url(#ch)" d="M1729.8 811C1729 814.1 1727.1 823.6 1725.1 829.4C1723.1 835.2 1720.2 841.1 1718 845.8C1715.9 850.5 1713 852.9 1712.2 857.6C1711.4 862.3 1712 868.5 1713.3 874C1714.7 879.5 1718 885 1720.4 890.5C1722.7 896 1725.3 901.1 1727.4 906.9C1729.6 912.8 1731.8 919.5 1733.3 925.7C1734.9 932 1735.3 938.7 1736.8 944.5C1738.4 950.4 1740.4 957.1 1742.7 961C1745.1 964.9 1748 963.7 1751 968C1753.9 972.4 1758.8 981.4 1760.4 986.8C1761.9 992.3 1760.9 996.2 1760.4 1001C1759.8 1005.7 1756.4 1010 1756.8 1015.1C1757.2 1020.1 1759.4 1026.8 1762.7 1031.5C1766 1036.2 1772.1 1038.6 1776.8 1043.3C1781.5 1048 1787.8 1054.6 1790.9 1059.7C1794 1064.8 1796 1068.7 1795.6 1073.8C1795.2 1078.9 1792.9 1085.6 1788.6 1090.3C1784.2 1095 1776 1098.1 1769.8 1102C1763.5 1105.9 1757.2 1109.9 1751 1113.8C1744.7 1117.7 1736.7 1121.2 1732.1 1125.5C1727.6 1129.8 1724.7 1135.3 1723.9 1139.6C1723.1 1143.9 1724.9 1147.1 1727.4 1151.4C1730 1155.7 1735.1 1162 1739.2 1165.5C1743.3 1169 1747.9 1168.7 1752.1 1172.3C1756.3 1175.9 1762.4 1182.6 1764.4 1187.1C1766.5 1191.7 1766.5 1195.4 1764.4 1199.5C1762.4 1203.6 1757.4 1208.1 1752.1 1211.8C1746.8 1215.5 1738.1 1218.4 1732.4 1221.7C1726.6 1225 1721 1228.5 1717.6 1231.6C1714.1 1234.7 1711.4 1236.7 1711.4 1240.2C1711.4 1243.7 1714.5 1248.4 1717.6 1252.5C1720.6 1256.7 1725.8 1260.6 1729.9 1264.9C1734 1269.2 1739.6 1273.7 1742.2 1278.5C1744.9 1283.2 1744.9 1287.5 1745.9 1293.3C1747 1299 1747.4 1306.4 1748.4 1313C1749.4 1319.6 1751.1 1327.4 1752.1 1332.7C1753.1 1338.1 1754.6 1340.6 1754.6 1345.1C1754.6 1349.6 1753.7 1354.5 1752.1 1359.9C1750.5 1365.2 1748 1371.8 1744.7 1377.2C1741.4 1382.5 1737.3 1387.4 1732.4 1392C1727.4 1396.5 1720.8 1400.6 1715.1 1404.3C1709.3 1408 1701.9 1410.9 1697.8 1414.2C1693.7 1417.5 1691 1421 1690.4 1424.1C1689.8 1427.1 1690.4 1429.6 1694.1 1432.7C1697.8 1435.8 1706.2 1439.5 1712.6 1442.6C1719 1445.6 1727 1447.9 1732.4 1451.2C1737.7 1454.5 1742.6 1458.8 1744.7 1462.3C1746.8 1465.8 1746.8 1468.7 1744.7 1472.2C1742.6 1475.7 1734.4 1481.4 1732.4 1483.3" stroke="#e377c2" stroke-width="2.8" fill="none" stroke-linejoin="round"/>
<path clip-path="url(#ch)" d="M1812.1 811C1811.5 813.7 1810.1 821.6 1808.5 827C1807 832.4 1805 838 1802.7 843.5C1800.3 848.9 1796 854.4 1794.4 859.9C1792.9 865.4 1792.7 871.3 1793.3 876.4C1793.8 881.5 1795.6 885.4 1798 890.5C1800.3 895.6 1804.4 902.2 1807.4 906.9C1810.3 911.6 1812.8 914 1815.6 918.7C1818.3 923.4 1821.3 929.7 1823.8 935.1C1826.4 940.6 1828.1 946.5 1830.9 951.6C1833.6 956.7 1837.5 962.6 1840.3 965.7C1843 968.8 1844.6 966.9 1847.3 970.4C1850.1 973.9 1854.4 981.8 1856.7 986.8C1859.1 991.9 1859.9 995.9 1861.4 1001C1863 1006 1863.8 1011.9 1866.1 1017.4C1868.5 1022.9 1871.2 1028.8 1875.5 1033.9C1879.8 1039 1887.7 1043.3 1892 1048C1896.3 1052.7 1899.8 1058.1 1901.4 1062.1C1903 1066 1903 1067.5 1901.4 1071.5C1899.8 1075.4 1896.7 1081.3 1892 1085.6C1887.3 1089.9 1880.2 1093.4 1873.2 1097.3C1866.1 1101.2 1857.1 1105.2 1849.7 1109.1C1842.2 1113 1834 1116.9 1828.5 1120.8C1823 1124.7 1819.1 1128.7 1816.8 1132.6C1814.4 1136.5 1814 1139.6 1814.4 1144.3C1814.8 1149 1817 1156.5 1819.1 1160.8C1821.3 1165 1824.4 1166.3 1827.4 1169.9C1830.4 1173.4 1835.4 1178.5 1837.2 1182.2C1839.1 1185.9 1839.7 1188 1838.5 1192.1C1837.2 1196.2 1834 1202.8 1829.8 1206.9C1825.7 1211 1820.2 1213.5 1813.8 1216.8C1807.4 1220.1 1797.6 1222.9 1791.6 1226.6C1785.6 1230.3 1780.1 1234.9 1778 1239C1776 1243.1 1777.8 1246.8 1779.2 1251.3C1780.7 1255.8 1784.4 1261.6 1786.7 1266.1C1788.9 1270.6 1791.2 1273.9 1792.8 1278.5C1794.5 1283 1794.9 1287.9 1796.5 1293.3C1798.2 1298.6 1800.2 1305.2 1802.7 1310.5C1805.2 1315.9 1808.5 1320.8 1811.3 1325.3C1814.2 1329.9 1817.6 1333.6 1820 1337.7C1822.4 1341.8 1825 1345.9 1825.6 1350C1826.3 1354.1 1825.2 1358.2 1823.7 1362.4C1822.1 1366.5 1820 1371 1816.3 1374.7C1812.6 1378.4 1807.2 1381.5 1801.5 1384.6C1795.7 1387.7 1788.7 1390.5 1781.7 1393.2C1774.7 1395.9 1766.9 1397.9 1759.5 1400.6C1752.1 1403.3 1743.5 1406.6 1737.3 1409.2C1731.1 1411.9 1726 1414.2 1722.5 1416.7C1719 1419.1 1716.3 1421.6 1716.3 1424.1C1716.3 1426.5 1717.8 1428.6 1722.5 1431.5C1727.2 1434.3 1738.5 1438.5 1744.7 1441.3C1750.9 1444.2 1756.6 1445.9 1759.5 1448.7C1762.4 1451.6 1762.8 1455.3 1762 1458.6C1761.2 1461.9 1758.3 1465.6 1754.6 1468.5C1750.9 1471.4 1744.7 1473.4 1739.8 1475.9C1734.8 1478.3 1727.4 1482 1725 1483.3" stroke="#8c564b" stroke-width="2.8" fill="none" stroke-linejoin="round"/>
<path clip-path="url(#ch)" d="M1860.3 811C1861.2 813.3 1865.1 820 1866.1 824.7C1867.1 829.3 1867.3 833.7 1866.1 838.8C1865 843.9 1860.3 850.1 1859.1 855.2C1857.9 860.3 1857.9 865 1859.1 869.3C1860.3 873.6 1863 877.5 1866.1 881.1C1869.3 884.6 1873.6 886.9 1877.9 890.5C1882.2 894 1887.3 898.7 1892 902.2C1896.7 905.8 1901.8 908.1 1906.1 911.6C1910.4 915.2 1913.9 919.5 1917.8 923.4C1921.8 927.3 1925.7 931.2 1929.6 935.1C1933.5 939.1 1937 943 1941.3 946.9C1945.7 950.8 1950.7 955.1 1955.4 958.6C1960.1 962.2 1965.6 964.9 1969.6 968C1973.5 971.2 1976.8 974.3 1979 977.4C1981.1 980.6 1982.9 983.3 1982.5 986.8C1982.1 990.4 1979.5 995.1 1976.6 998.6C1973.7 1002.1 1968 1004.5 1964.8 1008C1961.7 1011.5 1959.6 1015.4 1957.8 1019.8C1956 1024.1 1954.5 1029.5 1954.3 1033.9C1954.1 1038.2 1956.2 1041.3 1956.6 1045.6C1957 1049.9 1957.6 1055 1956.6 1059.7C1955.6 1064.4 1954.5 1069.5 1950.7 1073.8C1947 1078.1 1940.2 1082 1934.3 1085.6C1928.4 1089.1 1921.8 1091.8 1915.5 1095C1909.2 1098.1 1902.2 1101.2 1896.7 1104.4C1891.2 1107.5 1886.9 1110.3 1882.6 1113.8C1878.3 1117.3 1873.4 1122 1870.8 1125.5C1868.3 1129.1 1866.5 1131.4 1867.3 1134.9C1868.1 1138.5 1871.8 1142.4 1875.5 1146.7C1879.3 1151 1885.5 1156.9 1889.6 1160.8C1893.7 1164.7 1896.8 1166.3 1900.2 1169.9C1903.6 1173.4 1908.6 1178.5 1910 1182.2C1911.5 1185.9 1910.9 1188 1908.8 1192.1C1906.8 1196.2 1902 1202.4 1897.7 1206.9C1893.4 1211.4 1886.4 1215.3 1882.9 1219.2C1879.4 1223.1 1877.1 1227 1876.7 1230.3C1876.3 1233.6 1879 1235.1 1880.4 1239C1881.9 1242.9 1883.3 1248.4 1885.4 1253.8C1887.4 1259.1 1889.9 1264.9 1892.8 1271.1C1895.6 1277.2 1898.5 1285 1902.6 1290.8C1906.8 1296.6 1911.7 1300.7 1917.4 1305.6C1923.2 1310.5 1931 1316.3 1937.2 1320.4C1943.4 1324.5 1949.9 1327 1954.5 1330.3C1959 1333.6 1962.7 1336.4 1964.3 1340.2C1966 1343.9 1966.4 1348.4 1964.3 1352.5C1962.3 1356.6 1957.8 1361.1 1952 1364.8C1946.2 1368.5 1938.4 1371.4 1929.8 1374.7C1921.1 1378 1910 1381.7 1900.2 1384.6C1890.3 1387.4 1879.2 1389.7 1870.6 1392C1861.9 1394.2 1855.3 1395.9 1848.3 1398.1C1841.4 1400.4 1833.3 1402.7 1828.6 1405.5C1823.9 1408.4 1820 1412.3 1820 1415.4C1820 1418.5 1823.5 1421.2 1828.6 1424.1C1833.7 1426.9 1844.2 1430 1850.8 1432.7C1857.4 1435.4 1864.2 1437.8 1868.1 1440.1C1872 1442.4 1874.3 1443.8 1874.3 1446.3C1874.3 1448.7 1872 1452.4 1868.1 1454.9C1864.2 1457.4 1858.6 1458.6 1850.8 1461.1C1843 1463.5 1829.4 1466.8 1821.2 1469.7C1813 1472.6 1806.6 1475.9 1801.5 1478.3C1796.3 1480.8 1792.2 1483.5 1790.4 1484.5" stroke="#d62728" stroke-width="2.8" fill="none" stroke-linejoin="round"/>
<path clip-path="url(#ch)" d="M1854.4 811C1853.6 813.3 1851.6 820 1849.7 824.7C1847.7 829.3 1846.1 834.1 1842.6 838.8C1839.1 843.5 1832 848.2 1828.5 852.9C1825 857.6 1823 862.3 1821.5 867C1819.9 871.7 1818.7 876.4 1819.1 881.1C1819.5 885.8 1821.5 890.1 1823.8 895.2C1826.2 900.3 1830.1 906.1 1833.2 911.6C1836.4 917.1 1839.9 922.6 1842.6 928.1C1845.4 933.6 1846.9 939.1 1849.7 944.5C1852.4 950 1855.9 957.1 1859.1 961C1862.2 964.9 1865.3 964.1 1868.5 968C1871.6 972 1875.5 979 1877.9 984.5C1880.2 990 1881 995.1 1882.6 1001C1884.1 1006.8 1884.9 1014.3 1887.3 1019.8C1889.6 1025.2 1892.8 1029.5 1896.7 1033.9C1900.6 1038.2 1906.9 1041.3 1910.8 1045.6C1914.7 1049.9 1918.6 1055.4 1920.2 1059.7C1921.8 1064 1921.8 1067.2 1920.2 1071.5C1918.6 1075.8 1915.5 1081.3 1910.8 1085.6C1906.1 1089.9 1899 1093.4 1892 1097.3C1884.9 1101.2 1876.3 1105.2 1868.5 1109.1C1860.6 1113 1851.6 1116.9 1845 1120.8C1838.3 1124.7 1832 1128.7 1828.5 1132.6C1825 1136.5 1823.8 1139.6 1823.8 1144.3C1823.8 1149 1826.5 1156.5 1828.5 1160.8C1830.6 1165 1833.3 1166.3 1836 1169.9C1838.7 1173.4 1843 1178.5 1844.6 1182.2C1846.3 1185.9 1846.9 1188.4 1845.9 1192.1C1844.9 1195.8 1842.2 1200.7 1838.5 1204.4C1834.8 1208.1 1829.8 1210.8 1823.7 1214.3C1817.5 1217.8 1807.4 1221.7 1801.5 1225.4C1795.5 1229.1 1790.1 1232.6 1787.9 1236.5C1785.6 1240.4 1786.9 1244.3 1787.9 1248.8C1788.9 1253.4 1792 1259.1 1794.1 1263.6C1796.1 1268.2 1798.6 1271.5 1800.2 1276C1801.9 1280.5 1802.1 1285.4 1803.9 1290.8C1805.8 1296.1 1808.7 1302.7 1811.3 1308.1C1814 1313.4 1816.9 1318.4 1820 1322.9C1823.1 1327.4 1827.2 1331.5 1829.8 1335.2C1832.5 1338.9 1835 1341.4 1836 1345.1C1837 1348.8 1837.2 1352.9 1836 1357.4C1834.8 1361.9 1832.7 1368.1 1828.6 1372.2C1824.5 1376.3 1817.9 1378.6 1811.3 1382.1C1804.7 1385.6 1796.9 1389.9 1789.1 1393.2C1781.3 1396.5 1772.3 1399.6 1764.4 1401.8C1756.6 1404.1 1748.4 1404.3 1742.2 1406.8C1736.1 1409.2 1730.7 1413.8 1727.4 1416.7C1724.1 1419.5 1722.1 1421.6 1722.5 1424.1C1722.9 1426.5 1725 1428.6 1729.9 1431.5C1734.8 1434.3 1745.5 1438.5 1752.1 1441.3C1758.7 1444.2 1766.3 1445.9 1769.4 1448.7C1772.5 1451.6 1772.3 1455.3 1770.6 1458.6C1769 1461.9 1764.6 1465.4 1759.5 1468.5C1754.4 1471.6 1746.3 1474.9 1739.8 1477.1C1733.2 1479.4 1725.8 1480.8 1720 1482C1714.3 1483.3 1707.7 1484.1 1705.2 1484.5" stroke="#2ca02c" stroke-width="2.8" fill="none" stroke-linejoin="round"/>
<rect x="1674.0" y="76.4" width="315.0" height="671.6" fill="none" stroke="#000" stroke-width="1.6"/>
<rect x="1668.8" y="811.3" width="315.60000000000014" height="673.2" fill="none" stroke="#000" stroke-width="1.6"/>
<circle cx="1674.0" cy="76.4" r="7.4" fill="#008000"/>
<circle cx="1674.0" cy="748.0" r="7.4" fill="#ff0000"/>
<path d="M1667.5 253.3l13.0 13.0M1680.5 253.3l-13.0 13.0" stroke="#0000ff" stroke-width="5" fill="none"/>
<path d="M1667.5 510.9l13.0 13.0M1680.5 510.9l-13.0 13.0" stroke="#0000ff" stroke-width="5" fill="none"/>
<circle cx="1668.8" cy="811.3" r="7.4" fill="#008000"/>
<circle cx="1668.8" cy="1484.5" r="7.4" fill="#ff0000"/>
<path d="M1662.3 949.8l13.0 13.0M1675.3 949.8l-13.0 13.0" stroke="#0000ff" stroke-width="5" fill="none"/>
<path d="M1662.3 1237.4l13.0 13.0M1675.3 1237.4l-13.0 13.0" stroke="#0000ff" stroke-width="5" fill="none"/>
<text x="1673.7" y="61" font-size="26" text-anchor="middle">0</text>
<text x="1770.8" y="61" font-size="26" text-anchor="middle">40</text>
<text x="1867.9" y="61" font-size="26" text-anchor="middle">80</text>
<text x="1965" y="61" font-size="26" text-anchor="middle">120</text>
<text x="1661.5" y="86.9" font-size="26" text-anchor="end">0</text>
<text x="1661.5" y="220.7" font-size="26" text-anchor="end">1000</text>
<text x="1661.5" y="354.5" font-size="26" text-anchor="end">2000</text>
<text x="1661.5" y="488.3" font-size="26" text-anchor="end">3000</text>
<text x="1661.5" y="622.1" font-size="26" text-anchor="end">4000</text>
<text x="1668.8" y="1517" font-size="26" text-anchor="middle">0</text>
<text x="1763.4" y="1517" font-size="26" text-anchor="middle">15</text>
<text x="1858" y="1517" font-size="26" text-anchor="middle">30</text>
<text x="1952.6" y="1517" font-size="26" text-anchor="middle">45</text>
<text x="1658" y="821.8" font-size="26" text-anchor="end">0</text>
<text x="1658" y="977.4" font-size="26" text-anchor="end">1000</text>
<text x="1658" y="1133" font-size="26" text-anchor="end">2000</text>
<text x="1658" y="1288.6" font-size="26" text-anchor="end">3000</text>
<text x="1658" y="1444.2" font-size="26" text-anchor="end">4000</text>
<text x="1831" y="24" font-size="27.5" text-anchor="middle">Horizontal Stress (MPa)</text>
<text x="1826" y="1560" font-size="27.5" text-anchor="middle">Horizontal Stress (MPa)</text>
<text transform="translate(1574,412) rotate(-90)" font-size="27.5" text-anchor="middle">Distance (km)</text>
<text transform="translate(1568,1148) rotate(-90)" font-size="27.5" text-anchor="middle">Distance (km)</text>
<rect x="1599.5" y="24" width="38" height="37" rx="4" fill="#fff" stroke="#ccc" stroke-width="1"/>
<text x="1618.5" y="51" font-size="26" text-anchor="middle">g)</text>
<rect x="1593.5" y="798" width="38" height="37" rx="4" fill="#fff" stroke="#ccc" stroke-width="1"/>
<text x="1612.5" y="825" font-size="26" text-anchor="middle">h)</text>
<rect x="1921" y="84" width="62" height="37" rx="4" fill="#fff" fill-opacity="0.8" stroke="#ccc" stroke-width="1"/>
<text x="1952" y="112" font-size="26" text-anchor="middle" fill="#1f77b4">200</text>
<rect x="1916" y="819" width="62" height="37" rx="4" fill="#fff" fill-opacity="0.8" stroke="#ccc" stroke-width="1"/>
<text x="1947" y="847" font-size="26" text-anchor="middle" fill="#ff7f0e">400</text>
<rect x="500.6" y="1582.8" width="72.9" height="33.299999999999955" fill="#FEFEDA"/>
<rect x="573" y="1582.8" width="72.9" height="33.299999999999955" fill="#DCF4C2"/>
<rect x="645.4" y="1582.8" width="72.9" height="33.299999999999955" fill="#B1D7A6"/>
<rect x="717.8" y="1582.8" width="72.9" height="33.299999999999955" fill="#9DBB9A"/>
<rect x="790.2" y="1582.8" width="72.9" height="33.299999999999955" fill="#959E90"/>
<rect x="862.6" y="1582.8" width="72.9" height="33.299999999999955" fill="#90868A"/>
<rect x="935" y="1582.8" width="72.9" height="33.299999999999955" fill="#8B6E80"/>
<rect x="1007.4" y="1582.8" width="72.9" height="33.299999999999955" fill="#835678"/>
<rect x="1079.8" y="1582.8" width="72.4" height="33.299999999999955" fill="#6A3665"/>
<rect x="500.6" y="1582.8" width="651.6" height="33.299999999999955" fill="none" stroke="#000" stroke-width="1.1"/>
<text x="500.6" y="1653" font-size="32" text-anchor="middle">0</text>
<text x="573" y="1653" font-size="32" text-anchor="middle">10</text>
<text x="645.4" y="1653" font-size="32" text-anchor="middle">20</text>
<text x="717.8" y="1653" font-size="32" text-anchor="middle">30</text>
<text x="790.2" y="1653" font-size="32" text-anchor="middle">40</text>
<text x="862.6" y="1653" font-size="32" text-anchor="middle">50</text>
<text x="935" y="1653" font-size="32" text-anchor="middle">60</text>
<text x="1007.4" y="1653" font-size="32" text-anchor="middle">90</text>
<text x="1079.8" y="1653" font-size="32" text-anchor="middle">120</text>
<text x="1152.2" y="1653" font-size="32" text-anchor="middle">150</text>
<path d="M500.6 1616.1v5M573 1616.1v5M645.4 1616.1v5M717.8 1616.1v5M790.2 1616.1v5M862.6 1616.1v5M935 1616.1v5M1007.4 1616.1v5M1079.8 1616.1v5M1152.2 1616.1v5" stroke="#000" stroke-width="1.1"/>
<text x="826" y="1696" font-size="33" text-anchor="middle" font-style="italic">Hor.<tspan dx="20">τ</tspan><tspan font-size="22" dy="8" dx="1" font-style="normal">II</tspan><tspan dy="-8" dx="13">(MPa)</tspan></text>
</svg></body></html>
